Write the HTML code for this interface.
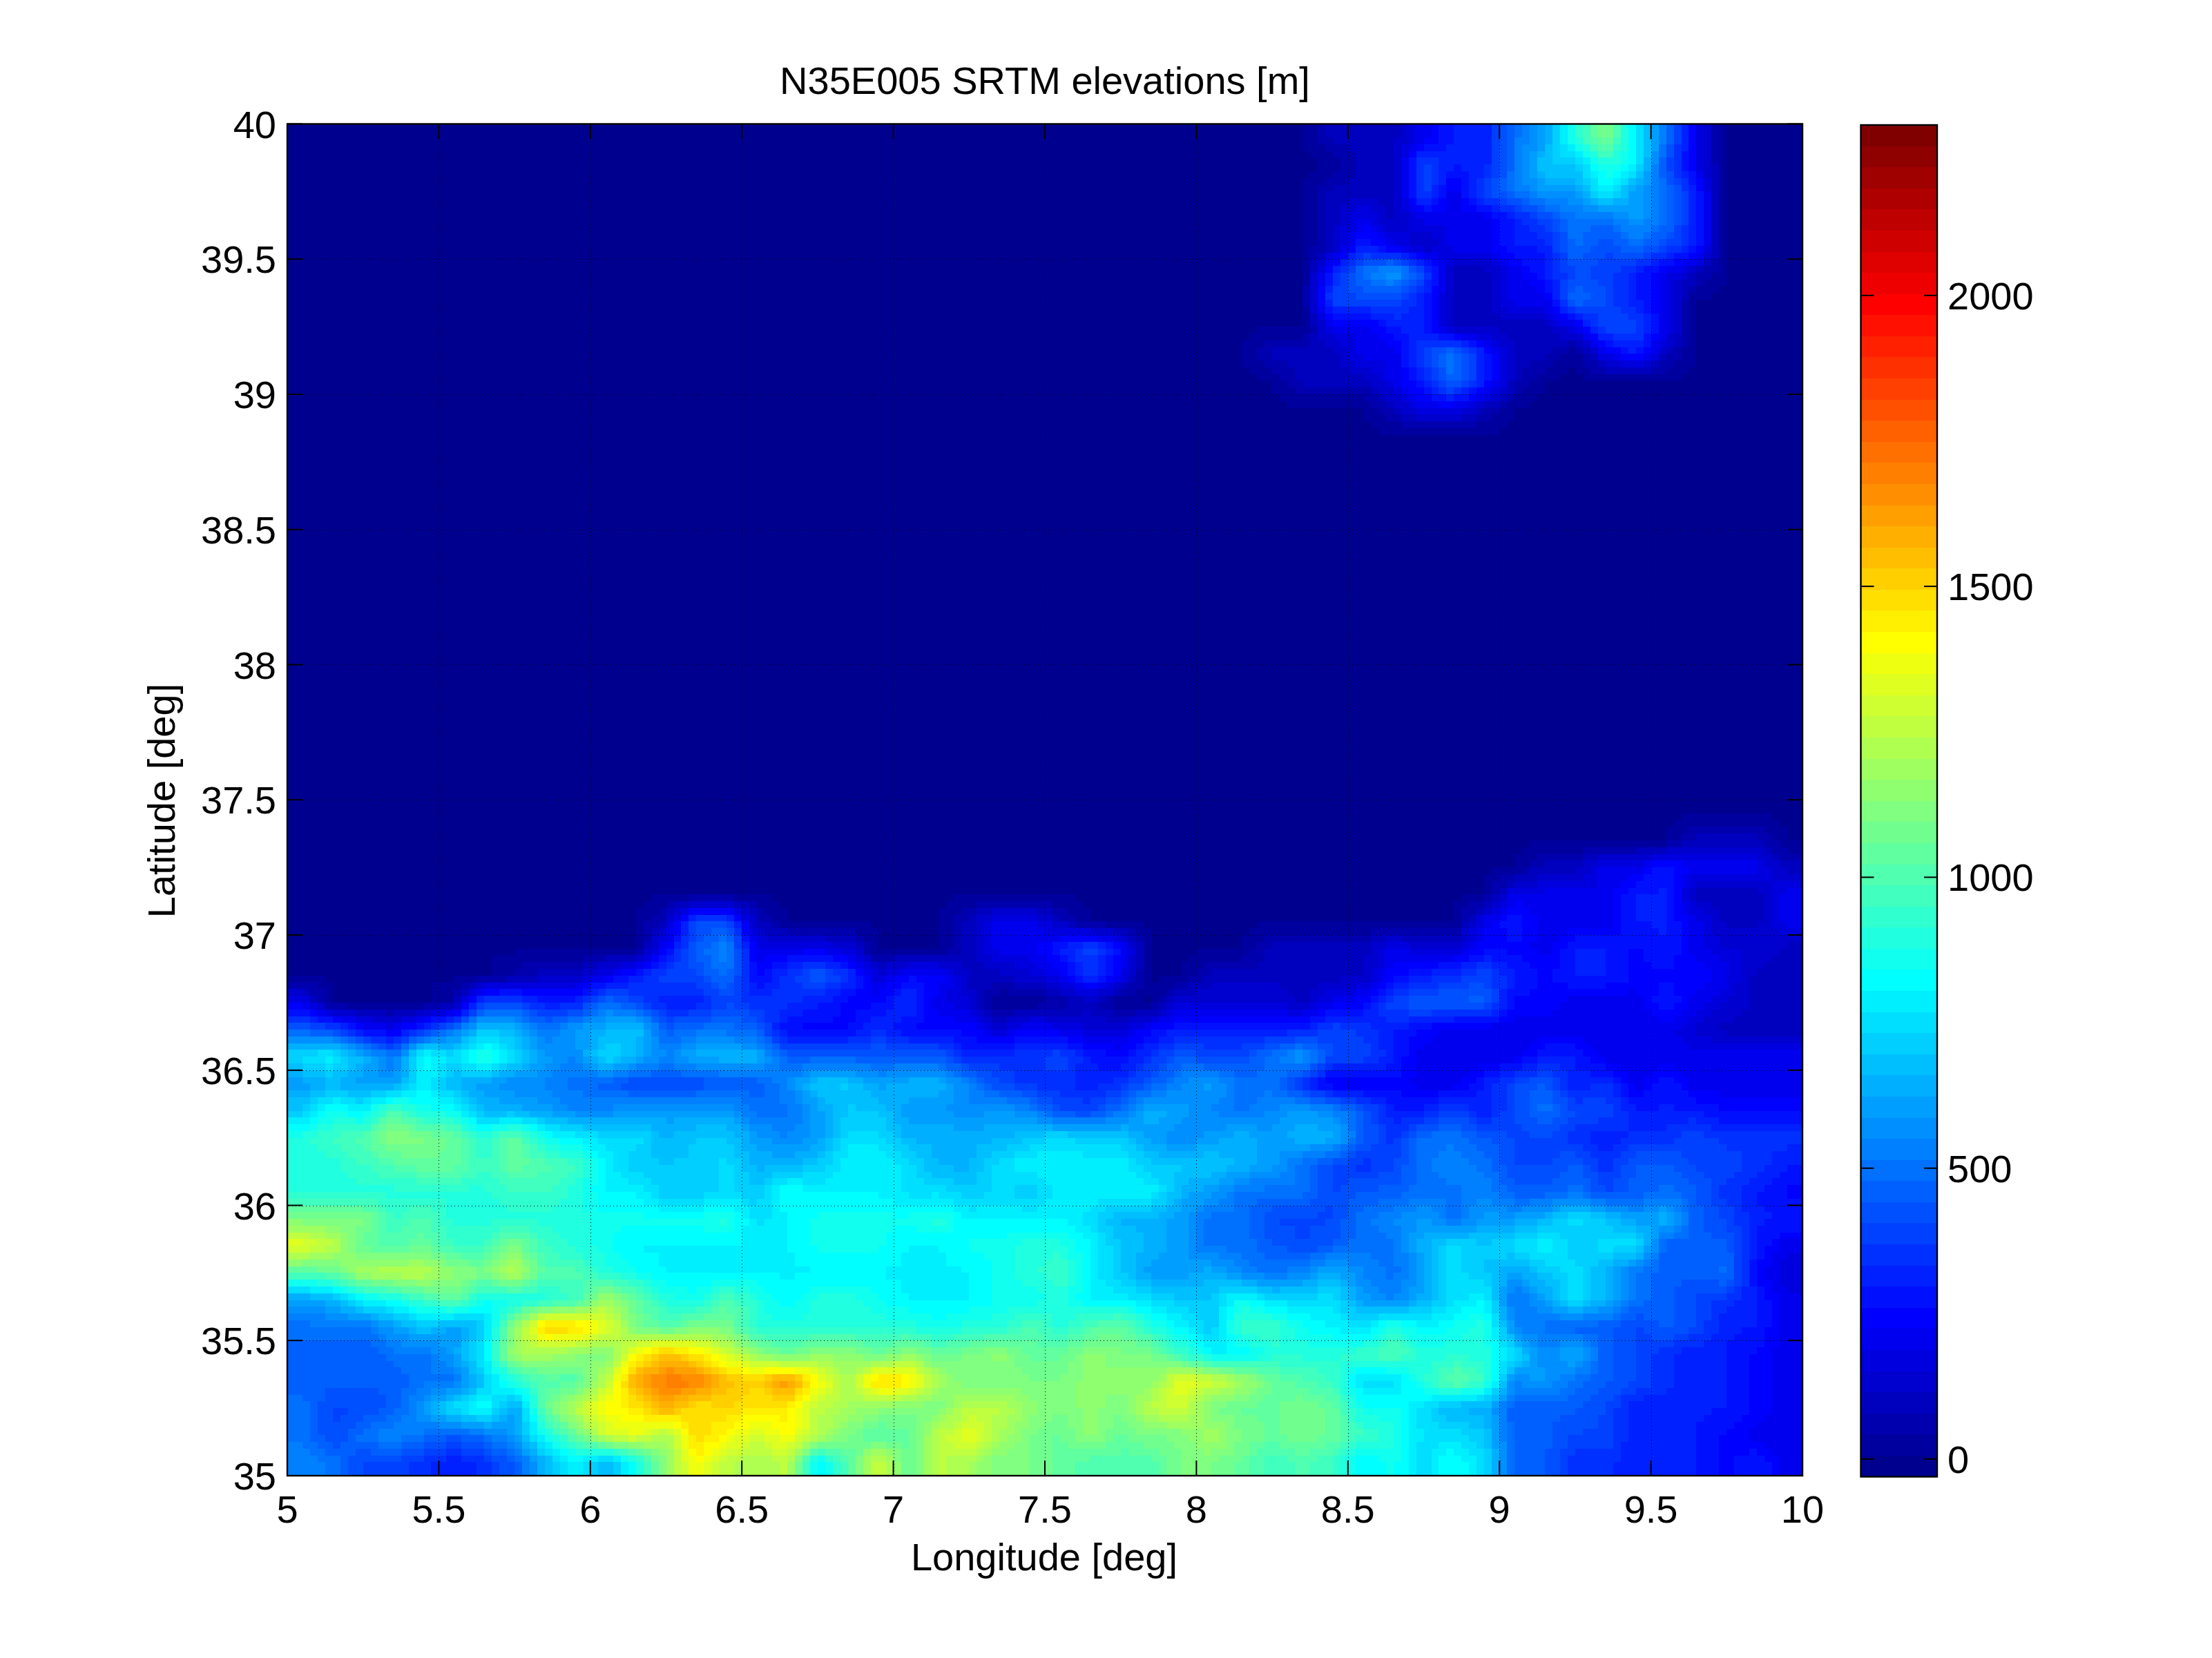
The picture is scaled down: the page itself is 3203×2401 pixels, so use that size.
<!DOCTYPE html>
<html><head><meta charset="utf-8"><style>html,body{margin:0;padding:0;background:#fff;width:3203px;height:2401px;overflow:hidden}svg{display:block}</style></head>
<body><svg width="3203" height="2401" viewBox="0 0 3203 2401">
<rect x="0" y="0" width="3203" height="2401" fill="#fff"/>
<rect x="416.0" y="179.5" width="2194.0" height="1957.5" fill="#00008f"/>
<g shape-rendering="crispEdges">
<path fill="#00009f" d="M1886.0 179.5H1907.9V189.3H1886.0zM2489.3 179.5H2500.3V189.3H2489.3zM1886.0 189.3H1907.9V199.1H1886.0zM2489.3 189.3H2500.3V199.1H2489.3zM1886.0 199.1H1907.9V208.9H1886.0zM2489.3 199.1H2500.3V208.9H2489.3zM1886.0 208.9H1918.9V218.7H1886.0zM2489.3 208.9H2500.3V218.7H2489.3zM1897.0 218.7H1929.9V228.4H1897.0zM2489.3 218.7H2500.3V228.4H2489.3zM1907.9 228.4H1940.8V238.2H1907.9zM2489.3 228.4H2500.3V238.2H2489.3zM1907.9 238.2H1940.8V248.0H1907.9zM2489.3 238.2H2500.3V248.0H2489.3zM1897.0 248.0H1929.9V257.8H1897.0zM2489.3 248.0H2500.3V257.8H2489.3zM1886.0 257.8H1918.9V267.6H1886.0zM2489.3 257.8H2500.3V267.6H2489.3zM1886.0 267.6H1907.9V277.4H1886.0zM2489.3 267.6H2500.3V277.4H2489.3zM1886.0 277.4H1907.9V287.2H1886.0zM2489.3 277.4H2500.3V287.2H2489.3zM1886.0 287.2H1907.9V296.9H1886.0zM2489.3 287.2H2500.3V296.9H2489.3zM1886.0 296.9H1907.9V306.7H1886.0zM2489.3 296.9H2500.3V306.7H2489.3zM1886.0 306.7H1907.9V316.5H1886.0zM2489.3 306.7H2500.3V316.5H2489.3zM1886.0 316.5H1907.9V326.3H1886.0zM2489.3 316.5H2500.3V326.3H2489.3zM1886.0 326.3H1907.9V336.1H1886.0zM2489.3 326.3H2500.3V336.1H2489.3zM1886.0 336.1H1907.9V345.9H1886.0zM2489.3 336.1H2500.3V345.9H2489.3zM1886.0 345.9H1907.9V355.7H1886.0zM2489.3 345.9H2500.3V355.7H2489.3zM1886.0 355.7H1897.0V365.5H1886.0zM2489.3 355.7H2500.3V365.5H2489.3zM1886.0 365.5H1897.0V375.2H1886.0zM2489.3 365.5H2500.3V375.2H2489.3zM1886.0 375.2H1897.0V385.0H1886.0zM2489.3 375.2H2500.3V385.0H2489.3zM1886.0 385.0H1897.0V394.8H1886.0zM2489.3 385.0H2500.3V394.8H2489.3zM1886.0 394.8H1897.0V404.6H1886.0zM2478.4 394.8H2500.3V404.6H2478.4zM1886.0 404.6H1897.0V414.4H1886.0zM2467.4 404.6H2500.3V414.4H2467.4zM2456.4 414.4H2489.3V424.2H2456.4zM2445.4 424.2H2478.4V434.0H2445.4zM2445.4 434.0H2456.4V443.8H2445.4zM1886.0 443.8H1897.0V453.6H1886.0zM2445.4 443.8H2456.4V453.6H2445.4zM1886.0 453.6H1897.0V463.3H1886.0zM2445.4 453.6H2456.4V463.3H2445.4zM1886.0 463.3H1897.0V473.1H1886.0zM2445.4 463.3H2456.4V473.1H2445.4zM1820.2 473.1H1897.0V482.9H1820.2zM2445.4 473.1H2456.4V482.9H2445.4zM1809.2 482.9H1886.0V492.7H1809.2zM2445.4 482.9H2456.4V492.7H2445.4zM1798.2 492.7H1831.1V502.5H1798.2zM2445.4 492.7H2456.4V502.5H2445.4zM1798.2 502.5H1820.2V512.3H1798.2zM2269.9 502.5H2280.9V512.3H2269.9zM2434.5 502.5H2456.4V512.3H2434.5zM1798.2 512.3H1820.2V522.1H1798.2zM2259.0 512.3H2291.9V522.1H2259.0zM2434.5 512.3H2456.4V522.1H2434.5zM1798.2 522.1H1831.1V531.8H1798.2zM2248.0 522.1H2291.9V531.8H2248.0zM2423.5 522.1H2456.4V531.8H2423.5zM1809.2 531.8H1842.1V541.6H1809.2zM2237.0 531.8H2269.9V541.6H2237.0zM2280.9 531.8H2302.8V541.6H2280.9zM2412.5 531.8H2445.4V541.6H2412.5zM1820.2 541.6H1853.1V551.4H1820.2zM2226.1 541.6H2259.0V551.4H2226.1zM2291.9 541.6H2434.5V551.4H2291.9zM1842.1 551.4H1864.0V561.2H1842.1zM2215.1 551.4H2237.0V561.2H2215.1zM1842.1 561.2H1875.0V571.0H1842.1zM2204.1 561.2H2237.0V571.0H2204.1zM1853.1 571.0H1973.7V580.8H1853.1zM2193.1 571.0H2226.1V580.8H2193.1zM1864.0 580.8H1984.7V590.6H1864.0zM2182.2 580.8H2215.1V590.6H2182.2zM1973.7 590.6H1995.7V600.4H1973.7zM2171.2 590.6H2193.1V600.4H2171.2zM1973.7 600.4H2006.7V610.1H1973.7zM2160.2 600.4H2193.1V610.1H2160.2zM1984.7 610.1H2028.6V619.9H1984.7zM2138.3 610.1H2182.2V619.9H2138.3zM1995.7 619.9H2171.2V629.7H1995.7zM2434.5 1177.8H2566.1V1187.6H2434.5zM2423.5 1187.6H2577.1V1197.4H2423.5zM2412.5 1197.4H2445.4V1207.2H2412.5zM2555.2 1197.4H2588.1V1207.2H2555.2zM2412.5 1207.2H2434.5V1217.0H2412.5zM2566.1 1207.2H2588.1V1217.0H2566.1zM2215.1 1217.0H2412.5V1226.8H2215.1zM2577.1 1217.0H2610.0V1226.8H2577.1zM2204.1 1226.8H2291.9V1236.5H2204.1zM2588.1 1226.8H2610.0V1236.5H2588.1zM2193.1 1236.5H2226.1V1246.3H2193.1zM2193.1 1246.3H2215.1V1256.1H2193.1zM2160.2 1256.1H2204.1V1265.9H2160.2zM2149.3 1265.9H2171.2V1275.7H2149.3zM2149.3 1275.7H2160.2V1285.5H2149.3zM2149.3 1285.5H2160.2V1295.3H2149.3zM942.6 1295.3H997.4V1305.1H942.6zM1063.2 1295.3H1118.1V1305.1H1063.2zM1381.4 1295.3H1556.9V1305.1H1381.4zM2116.4 1295.3H2149.3V1305.1H2116.4zM931.6 1305.1H964.5V1314.8H931.6zM1096.1 1305.1H1129.1V1314.8H1096.1zM1370.4 1305.1H1414.3V1314.8H1370.4zM1524.0 1305.1H1567.9V1314.8H1524.0zM2105.4 1305.1H2127.3V1314.8H2105.4zM920.6 1314.8H953.5V1324.6H920.6zM1107.1 1314.8H1140.0V1324.6H1107.1zM1359.4 1314.8H1392.3V1324.6H1359.4zM1545.9 1314.8H1578.8V1324.6H1545.9zM2105.4 1314.8H2116.4V1324.6H2105.4zM920.6 1324.6H942.6V1334.4H920.6zM1118.1 1324.6H1140.0V1334.4H1118.1zM1359.4 1324.6H1381.4V1334.4H1359.4zM1556.9 1324.6H1578.8V1334.4H1556.9zM2105.4 1324.6H2116.4V1334.4H2105.4zM920.6 1334.4H931.6V1344.2H920.6zM1129.1 1334.4H1260.7V1344.2H1129.1zM1359.4 1334.4H1381.4V1344.2H1359.4zM1600.8 1334.4H1655.6V1344.2H1600.8zM1820.2 1334.4H2116.4V1344.2H1820.2zM920.6 1344.2H931.6V1354.0H920.6zM1238.8 1344.2H1271.7V1354.0H1238.8zM1359.4 1344.2H1381.4V1354.0H1359.4zM1644.6 1344.2H1666.6V1354.0H1644.6zM1809.2 1344.2H1984.7V1354.0H1809.2zM920.6 1354.0H931.6V1363.8H920.6zM1249.7 1354.0H1271.7V1363.8H1249.7zM1359.4 1354.0H1381.4V1363.8H1359.4zM1655.6 1354.0H1666.6V1363.8H1655.6zM1798.2 1354.0H1831.1V1363.8H1798.2zM920.6 1363.8H931.6V1373.6H920.6zM1260.7 1363.8H1271.7V1373.6H1260.7zM1359.4 1363.8H1381.4V1373.6H1359.4zM1655.6 1363.8H1666.6V1373.6H1655.6zM1798.2 1363.8H1820.2V1373.6H1798.2zM745.1 1373.6H920.6V1383.4H745.1zM1260.7 1373.6H1370.4V1383.4H1260.7zM1655.6 1373.6H1666.6V1383.4H1655.6zM1732.4 1373.6H1809.2V1383.4H1732.4zM712.2 1383.4H843.8V1393.1H712.2zM1655.6 1383.4H1666.6V1393.1H1655.6zM1721.4 1383.4H1798.2V1393.1H1721.4zM712.2 1393.1H756.1V1402.9H712.2zM1655.6 1393.1H1666.6V1402.9H1655.6zM1710.5 1393.1H1743.4V1402.9H1710.5zM712.2 1402.9H745.1V1412.7H712.2zM1655.6 1402.9H1666.6V1412.7H1655.6zM1710.5 1402.9H1732.4V1412.7H1710.5zM416.0 1412.7H470.9V1422.5H416.0zM657.3 1412.7H690.2V1422.5H657.3zM1655.6 1412.7H1666.6V1422.5H1655.6zM1677.6 1412.7H1721.4V1422.5H1677.6zM459.9 1422.5H481.8V1432.3H459.9zM624.4 1422.5H668.3V1432.3H624.4zM1655.6 1422.5H1699.5V1432.3H1655.6zM470.9 1432.3H481.8V1442.1H470.9zM624.4 1432.3H657.3V1442.1H624.4zM1447.2 1432.3H1458.2V1442.1H1447.2zM1644.6 1432.3H1688.5V1442.1H1644.6zM470.9 1442.1H481.8V1451.9H470.9zM624.4 1442.1H657.3V1451.9H624.4zM1436.2 1442.1H1513.0V1451.9H1436.2zM1611.7 1442.1H1655.6V1451.9H1611.7zM1666.6 1442.1H1677.6V1451.9H1666.6zM503.8 1451.9H613.5V1461.7H503.8zM1436.2 1451.9H1502.0V1461.7H1436.2zM1611.7 1451.9H1666.6V1461.7H1611.7z"/>
<path fill="#0000af" d="M1907.9 179.5H1918.9V189.3H1907.9zM2478.4 179.5H2489.3V189.3H2478.4zM1907.9 189.3H1918.9V199.1H1907.9zM2478.4 189.3H2489.3V199.1H2478.4zM1907.9 199.1H1929.9V208.9H1907.9zM2478.4 199.1H2489.3V208.9H2478.4zM1918.9 208.9H1951.8V218.7H1918.9zM2478.4 208.9H2489.3V218.7H2478.4zM1929.9 218.7H1962.8V228.4H1929.9zM2478.4 218.7H2489.3V228.4H2478.4zM1940.8 228.4H1962.8V238.2H1940.8zM2478.4 228.4H2489.3V238.2H2478.4zM1940.8 238.2H1962.8V248.0H1940.8zM1929.9 248.0H1962.8V257.8H1929.9zM1918.9 257.8H1951.8V267.6H1918.9zM1907.9 267.6H1929.9V277.4H1907.9zM1907.9 277.4H1918.9V287.2H1907.9zM1907.9 287.2H1918.9V296.9H1907.9zM1907.9 296.9H1918.9V306.7H1907.9zM1907.9 306.7H1918.9V316.5H1907.9zM1907.9 316.5H1918.9V326.3H1907.9zM1907.9 326.3H1918.9V336.1H1907.9zM1907.9 336.1H1918.9V345.9H1907.9zM1907.9 345.9H1918.9V355.7H1907.9zM1897.0 355.7H1918.9V365.5H1897.0zM1897.0 365.5H1907.9V375.2H1897.0zM2478.4 375.2H2489.3V385.0H2478.4zM2467.4 385.0H2489.3V394.8H2467.4zM2456.4 394.8H2478.4V404.6H2456.4zM2456.4 404.6H2467.4V414.4H2456.4zM1886.0 414.4H1897.0V424.2H1886.0zM2445.4 414.4H2456.4V424.2H2445.4zM1886.0 424.2H1897.0V434.0H1886.0zM1886.0 434.0H1897.0V443.8H1886.0zM2434.5 434.0H2445.4V443.8H2434.5zM2434.5 443.8H2445.4V453.6H2434.5zM2434.5 453.6H2445.4V463.3H2434.5zM2434.5 463.3H2445.4V473.1H2434.5zM1897.0 473.1H1907.9V482.9H1897.0zM2434.5 473.1H2445.4V482.9H2434.5zM1886.0 482.9H1897.0V492.7H1886.0zM2434.5 482.9H2445.4V492.7H2434.5zM1831.1 492.7H1897.0V502.5H1831.1zM2269.9 492.7H2280.9V502.5H2269.9zM2434.5 492.7H2445.4V502.5H2434.5zM1820.2 502.5H1842.1V512.3H1820.2zM2248.0 502.5H2269.9V512.3H2248.0zM2280.9 502.5H2291.9V512.3H2280.9zM2423.5 502.5H2434.5V512.3H2423.5zM1820.2 512.3H1842.1V522.1H1820.2zM2237.0 512.3H2259.0V522.1H2237.0zM2291.9 512.3H2302.8V522.1H2291.9zM2412.5 512.3H2434.5V522.1H2412.5zM1831.1 522.1H1864.0V531.8H1831.1zM2215.1 522.1H2248.0V531.8H2215.1zM2291.9 522.1H2313.8V531.8H2291.9zM2401.6 522.1H2423.5V531.8H2401.6zM1842.1 531.8H1875.0V541.6H1842.1zM2204.1 531.8H2237.0V541.6H2204.1zM2302.8 531.8H2324.8V541.6H2302.8zM2390.6 531.8H2412.5V541.6H2390.6zM1853.1 541.6H1875.0V551.4H1853.1zM2204.1 541.6H2226.1V551.4H2204.1zM1864.0 551.4H1886.0V561.2H1864.0zM2193.1 551.4H2215.1V561.2H2193.1zM1875.0 561.2H1984.7V571.0H1875.0zM2193.1 561.2H2204.1V571.0H2193.1zM1973.7 571.0H1995.7V580.8H1973.7zM2182.2 571.0H2193.1V580.8H2182.2zM1984.7 580.8H2006.7V590.6H1984.7zM2171.2 580.8H2182.2V590.6H2171.2zM1995.7 590.6H2017.6V600.4H1995.7zM2149.3 590.6H2171.2V600.4H2149.3zM2006.7 600.4H2028.6V610.1H2006.7zM2138.3 600.4H2160.2V610.1H2138.3zM2028.6 610.1H2138.3V619.9H2028.6zM2445.4 1197.4H2555.2V1207.2H2445.4zM2434.5 1207.2H2456.4V1217.0H2434.5zM2544.2 1207.2H2566.1V1217.0H2544.2zM2412.5 1217.0H2434.5V1226.8H2412.5zM2555.2 1217.0H2577.1V1226.8H2555.2zM2291.9 1226.8H2368.7V1236.5H2291.9zM2566.1 1226.8H2588.1V1236.5H2566.1zM2226.1 1236.5H2291.9V1246.3H2226.1zM2577.1 1236.5H2610.0V1246.3H2577.1zM2215.1 1246.3H2237.0V1256.1H2215.1zM2204.1 1256.1H2215.1V1265.9H2204.1zM2171.2 1265.9H2193.1V1275.7H2171.2zM2160.2 1275.7H2182.2V1285.5H2160.2zM2160.2 1285.5H2171.2V1295.3H2160.2zM997.4 1295.3H1063.2V1305.1H997.4zM2149.3 1295.3H2160.2V1305.1H2149.3zM964.5 1305.1H975.5V1314.8H964.5zM1085.2 1305.1H1096.1V1314.8H1085.2zM1414.3 1305.1H1524.0V1314.8H1414.3zM2127.3 1305.1H2149.3V1314.8H2127.3zM953.5 1314.8H964.5V1324.6H953.5zM1096.1 1314.8H1107.1V1324.6H1096.1zM1392.3 1314.8H1414.3V1324.6H1392.3zM1524.0 1314.8H1545.9V1324.6H1524.0zM2116.4 1314.8H2138.3V1324.6H2116.4zM942.6 1324.6H964.5V1334.4H942.6zM1096.1 1324.6H1118.1V1334.4H1096.1zM1381.4 1324.6H1403.3V1334.4H1381.4zM1534.9 1324.6H1556.9V1334.4H1534.9zM2116.4 1324.6H2127.3V1334.4H2116.4zM931.6 1334.4H953.5V1344.2H931.6zM1118.1 1334.4H1129.1V1344.2H1118.1zM1381.4 1334.4H1392.3V1344.2H1381.4zM1556.9 1334.4H1600.8V1344.2H1556.9zM931.6 1344.2H942.6V1354.0H931.6zM1140.0 1344.2H1238.8V1354.0H1140.0zM1381.4 1344.2H1392.3V1354.0H1381.4zM1633.7 1344.2H1644.6V1354.0H1633.7zM1984.7 1344.2H2116.4V1354.0H1984.7zM931.6 1354.0H942.6V1363.8H931.6zM1238.8 1354.0H1249.7V1363.8H1238.8zM1381.4 1354.0H1392.3V1363.8H1381.4zM1644.6 1354.0H1655.6V1363.8H1644.6zM1831.1 1354.0H1984.7V1363.8H1831.1zM1249.7 1363.8H1260.7V1373.6H1249.7zM1381.4 1363.8H1392.3V1373.6H1381.4zM1820.2 1363.8H1842.1V1373.6H1820.2zM920.6 1373.6H931.6V1383.4H920.6zM1249.7 1373.6H1260.7V1383.4H1249.7zM1370.4 1373.6H1392.3V1383.4H1370.4zM1809.2 1373.6H1831.1V1383.4H1809.2zM843.8 1383.4H876.7V1393.1H843.8zM1260.7 1383.4H1293.6V1393.1H1260.7zM1798.2 1383.4H1831.1V1393.1H1798.2zM756.1 1393.1H843.8V1402.9H756.1zM1743.4 1393.1H1820.2V1402.9H1743.4zM745.1 1402.9H778.0V1412.7H745.1zM1644.6 1402.9H1655.6V1412.7H1644.6zM1732.4 1402.9H1754.3V1412.7H1732.4zM690.2 1412.7H734.1V1422.5H690.2zM1644.6 1412.7H1655.6V1422.5H1644.6zM1721.4 1412.7H1743.4V1422.5H1721.4zM416.0 1422.5H459.9V1432.3H416.0zM668.3 1422.5H679.3V1432.3H668.3zM1436.2 1422.5H1469.1V1432.3H1436.2zM1633.7 1422.5H1655.6V1432.3H1633.7zM1699.5 1422.5H1721.4V1432.3H1699.5zM448.9 1432.3H470.9V1442.1H448.9zM657.3 1432.3H668.3V1442.1H657.3zM1425.2 1432.3H1447.2V1442.1H1425.2zM1458.2 1432.3H1513.0V1442.1H1458.2zM1622.7 1432.3H1644.6V1442.1H1622.7zM1688.5 1432.3H1699.5V1442.1H1688.5zM459.9 1442.1H470.9V1451.9H459.9zM1425.2 1442.1H1436.2V1451.9H1425.2zM1513.0 1442.1H1545.9V1451.9H1513.0zM1600.8 1442.1H1611.7V1451.9H1600.8zM1677.6 1442.1H1688.5V1451.9H1677.6zM470.9 1451.9H503.8V1461.7H470.9zM613.5 1451.9H635.4V1461.7H613.5zM1425.2 1451.9H1436.2V1461.7H1425.2zM1502.0 1451.9H1545.9V1461.7H1502.0zM1589.8 1451.9H1611.7V1461.7H1589.8zM1666.6 1451.9H1677.6V1461.7H1666.6zM558.6 1461.7H569.6V1471.5H558.6zM1436.2 1461.7H1469.1V1471.5H1436.2zM1611.7 1461.7H1644.6V1471.5H1611.7z"/>
<path fill="#0000bf" d="M1918.9 179.5H2028.6V189.3H1918.9zM1918.9 189.3H2028.6V199.1H1918.9zM1929.9 199.1H2017.6V208.9H1929.9zM1951.8 208.9H2017.6V218.7H1951.8zM1962.8 218.7H2017.6V228.4H1962.8zM1962.8 228.4H2017.6V238.2H1962.8zM1962.8 238.2H2017.6V248.0H1962.8zM2478.4 238.2H2489.3V248.0H2478.4zM1962.8 248.0H2017.6V257.8H1962.8zM2478.4 248.0H2489.3V257.8H2478.4zM1951.8 257.8H2017.6V267.6H1951.8zM2478.4 257.8H2489.3V267.6H2478.4zM1929.9 267.6H2017.6V277.4H1929.9zM2478.4 267.6H2489.3V277.4H2478.4zM1918.9 277.4H2017.6V287.2H1918.9zM2478.4 277.4H2489.3V287.2H2478.4zM1918.9 287.2H1951.8V296.9H1918.9zM1995.7 287.2H2017.6V296.9H1995.7zM2478.4 287.2H2489.3V296.9H2478.4zM1918.9 296.9H1940.8V306.7H1918.9zM2006.7 296.9H2017.6V306.7H2006.7zM2478.4 296.9H2489.3V306.7H2478.4zM1918.9 306.7H1940.8V316.5H1918.9zM2006.7 306.7H2017.6V316.5H2006.7zM2478.4 306.7H2489.3V316.5H2478.4zM1918.9 316.5H1940.8V326.3H1918.9zM2478.4 316.5H2489.3V326.3H2478.4zM1918.9 326.3H1929.9V336.1H1918.9zM2478.4 326.3H2489.3V336.1H2478.4zM1918.9 336.1H1929.9V345.9H1918.9zM2478.4 336.1H2489.3V345.9H2478.4zM1918.9 345.9H1929.9V355.7H1918.9zM2478.4 345.9H2489.3V355.7H2478.4zM1918.9 355.7H1929.9V365.5H1918.9zM2478.4 355.7H2489.3V365.5H2478.4zM1907.9 365.5H1918.9V375.2H1907.9zM2478.4 365.5H2489.3V375.2H2478.4zM1897.0 375.2H1907.9V385.0H1897.0zM2467.4 375.2H2478.4V385.0H2467.4zM1897.0 385.0H1907.9V394.8H1897.0zM2105.4 385.0H2149.3V394.8H2105.4zM2456.4 385.0H2467.4V394.8H2456.4zM2105.4 394.8H2160.2V404.6H2105.4zM2445.4 394.8H2456.4V404.6H2445.4zM2105.4 404.6H2160.2V414.4H2105.4zM2434.5 404.6H2456.4V414.4H2434.5zM2105.4 414.4H2160.2V424.2H2105.4zM2434.5 414.4H2445.4V424.2H2434.5zM2105.4 424.2H2160.2V434.0H2105.4zM2434.5 424.2H2445.4V434.0H2434.5zM2105.4 434.0H2160.2V443.8H2105.4zM2105.4 443.8H2160.2V453.6H2105.4zM1897.0 453.6H1907.9V463.3H1897.0zM2105.4 453.6H2171.2V463.3H2105.4zM1897.0 463.3H1907.9V473.1H1897.0zM2105.4 463.3H2237.0V473.1H2105.4zM2171.2 473.1H2248.0V482.9H2171.2zM1897.0 482.9H1907.9V492.7H1897.0zM2182.2 482.9H2259.0V492.7H2182.2zM2423.5 482.9H2434.5V492.7H2423.5zM1897.0 492.7H1918.9V502.5H1897.0zM2193.1 492.7H2269.9V502.5H2193.1zM2280.9 492.7H2291.9V502.5H2280.9zM2423.5 492.7H2434.5V502.5H2423.5zM1842.1 502.5H1929.9V512.3H1842.1zM2193.1 502.5H2248.0V512.3H2193.1zM2291.9 502.5H2302.8V512.3H2291.9zM2412.5 502.5H2423.5V512.3H2412.5zM1842.1 512.3H1940.8V522.1H1842.1zM2193.1 512.3H2237.0V522.1H2193.1zM2302.8 512.3H2313.8V522.1H2302.8zM2401.6 512.3H2412.5V522.1H2401.6zM1864.0 522.1H1940.8V531.8H1864.0zM2193.1 522.1H2215.1V531.8H2193.1zM2313.8 522.1H2324.8V531.8H2313.8zM2390.6 522.1H2401.6V531.8H2390.6zM1875.0 531.8H1951.8V541.6H1875.0zM2193.1 531.8H2204.1V541.6H2193.1zM2324.8 531.8H2390.6V541.6H2324.8zM1875.0 541.6H1973.7V551.4H1875.0zM2193.1 541.6H2204.1V551.4H2193.1zM1886.0 551.4H1984.7V561.2H1886.0zM2182.2 551.4H2193.1V561.2H2182.2zM1984.7 561.2H1995.7V571.0H1984.7zM2182.2 561.2H2193.1V571.0H2182.2zM1995.7 571.0H2006.7V580.8H1995.7zM2171.2 571.0H2182.2V580.8H2171.2zM2006.7 580.8H2017.6V590.6H2006.7zM2149.3 580.8H2171.2V590.6H2149.3zM2017.6 590.6H2028.6V600.4H2017.6zM2138.3 590.6H2149.3V600.4H2138.3zM2028.6 600.4H2050.5V610.1H2028.6zM2116.4 600.4H2138.3V610.1H2116.4zM2456.4 1207.2H2544.2V1217.0H2456.4zM2434.5 1217.0H2555.2V1226.8H2434.5zM2368.7 1226.8H2412.5V1236.5H2368.7zM2555.2 1226.8H2566.1V1236.5H2555.2zM2291.9 1236.5H2313.8V1246.3H2291.9zM2566.1 1236.5H2577.1V1246.3H2566.1zM2237.0 1246.3H2291.9V1256.1H2237.0zM2577.1 1246.3H2610.0V1256.1H2577.1zM2215.1 1256.1H2280.9V1265.9H2215.1zM2588.1 1256.1H2610.0V1265.9H2588.1zM2193.1 1265.9H2226.1V1275.7H2193.1zM2182.2 1275.7H2193.1V1285.5H2182.2zM2171.2 1285.5H2182.2V1295.3H2171.2zM2456.4 1285.5H2544.2V1295.3H2456.4zM2160.2 1295.3H2171.2V1305.1H2160.2zM2456.4 1295.3H2555.2V1305.1H2456.4zM975.5 1305.1H997.4V1314.8H975.5zM1063.2 1305.1H1085.2V1314.8H1063.2zM2149.3 1305.1H2160.2V1314.8H2149.3zM2478.4 1305.1H2555.2V1314.8H2478.4zM964.5 1314.8H975.5V1324.6H964.5zM1085.2 1314.8H1096.1V1324.6H1085.2zM1414.3 1314.8H1436.2V1324.6H1414.3zM1502.0 1314.8H1524.0V1324.6H1502.0zM2138.3 1314.8H2149.3V1324.6H2138.3zM2489.3 1314.8H2555.2V1324.6H2489.3zM1403.3 1324.6H1414.3V1334.4H1403.3zM1524.0 1324.6H1534.9V1334.4H1524.0zM2127.3 1324.6H2138.3V1334.4H2127.3zM2489.3 1324.6H2555.2V1334.4H2489.3zM953.5 1334.4H964.5V1344.2H953.5zM1096.1 1334.4H1118.1V1344.2H1096.1zM1392.3 1334.4H1414.3V1344.2H1392.3zM1545.9 1334.4H1556.9V1344.2H1545.9zM2116.4 1334.4H2127.3V1344.2H2116.4zM2500.3 1334.4H2544.2V1344.2H2500.3zM942.6 1344.2H953.5V1354.0H942.6zM1107.1 1344.2H1140.0V1354.0H1107.1zM1392.3 1344.2H1414.3V1354.0H1392.3zM1611.7 1344.2H1633.7V1354.0H1611.7zM1194.9 1354.0H1238.8V1363.8H1194.9zM1392.3 1354.0H1414.3V1363.8H1392.3zM1633.7 1354.0H1644.6V1363.8H1633.7zM1984.7 1354.0H2006.7V1363.8H1984.7zM2028.6 1354.0H2116.4V1363.8H2028.6zM931.6 1363.8H942.6V1373.6H931.6zM1238.8 1363.8H1249.7V1373.6H1238.8zM1392.3 1363.8H1414.3V1373.6H1392.3zM1644.6 1363.8H1655.6V1373.6H1644.6zM1842.1 1363.8H1984.7V1373.6H1842.1zM2588.1 1363.8H2610.0V1373.6H2588.1zM1392.3 1373.6H1414.3V1383.4H1392.3zM1644.6 1373.6H1655.6V1383.4H1644.6zM1831.1 1373.6H1984.7V1383.4H1831.1zM2577.1 1373.6H2610.0V1383.4H2577.1zM876.7 1383.4H920.6V1393.1H876.7zM1293.6 1383.4H1414.3V1393.1H1293.6zM1644.6 1383.4H1655.6V1393.1H1644.6zM1831.1 1383.4H1973.7V1393.1H1831.1zM2566.1 1383.4H2610.0V1393.1H2566.1zM843.8 1393.1H865.8V1402.9H843.8zM1271.7 1393.1H1282.6V1402.9H1271.7zM1392.3 1393.1H1425.2V1402.9H1392.3zM1644.6 1393.1H1655.6V1402.9H1644.6zM1820.2 1393.1H1973.7V1402.9H1820.2zM2555.2 1393.1H2610.0V1402.9H2555.2zM778.0 1402.9H843.8V1412.7H778.0zM1403.3 1402.9H1447.2V1412.7H1403.3zM1754.3 1402.9H1973.7V1412.7H1754.3zM2544.2 1402.9H2610.0V1412.7H2544.2zM734.1 1412.7H778.0V1422.5H734.1zM1403.3 1412.7H1469.1V1422.5H1403.3zM1633.7 1412.7H1644.6V1422.5H1633.7zM1743.4 1412.7H1940.8V1422.5H1743.4zM2533.2 1412.7H2610.0V1422.5H2533.2zM679.3 1422.5H690.2V1432.3H679.3zM1403.3 1422.5H1436.2V1432.3H1403.3zM1469.1 1422.5H1513.0V1432.3H1469.1zM1622.7 1422.5H1633.7V1432.3H1622.7zM1721.4 1422.5H1754.3V1432.3H1721.4zM1853.1 1422.5H1907.9V1432.3H1853.1zM2533.2 1422.5H2610.0V1432.3H2533.2zM437.9 1432.3H448.9V1442.1H437.9zM668.3 1432.3H679.3V1442.1H668.3zM1414.3 1432.3H1425.2V1442.1H1414.3zM1513.0 1432.3H1534.9V1442.1H1513.0zM1611.7 1432.3H1622.7V1442.1H1611.7zM1699.5 1432.3H1732.4V1442.1H1699.5zM1864.0 1432.3H1897.0V1442.1H1864.0zM2533.2 1432.3H2610.0V1442.1H2533.2zM448.9 1442.1H459.9V1451.9H448.9zM657.3 1442.1H668.3V1451.9H657.3zM1414.3 1442.1H1425.2V1451.9H1414.3zM1545.9 1442.1H1567.9V1451.9H1545.9zM1589.8 1442.1H1600.8V1451.9H1589.8zM1688.5 1442.1H1699.5V1451.9H1688.5zM1875.0 1442.1H1897.0V1451.9H1875.0zM2533.2 1442.1H2610.0V1451.9H2533.2zM635.4 1451.9H657.3V1461.7H635.4zM1414.3 1451.9H1425.2V1461.7H1414.3zM1545.9 1451.9H1589.8V1461.7H1545.9zM1677.6 1451.9H1688.5V1461.7H1677.6zM2533.2 1451.9H2610.0V1461.7H2533.2zM514.7 1461.7H558.6V1471.5H514.7zM569.6 1461.7H602.5V1471.5H569.6zM1425.2 1461.7H1436.2V1471.5H1425.2zM1469.1 1461.7H1567.9V1471.5H1469.1zM1578.8 1461.7H1611.7V1471.5H1578.8zM1644.6 1461.7H1677.6V1471.5H1644.6zM2522.2 1461.7H2610.0V1471.5H2522.2zM1436.2 1471.5H1458.2V1481.2H1436.2zM1600.8 1471.5H1633.7V1481.2H1600.8zM2511.3 1471.5H2610.0V1481.2H2511.3zM2489.3 1481.2H2610.0V1491.0H2489.3zM2500.3 1491.0H2610.0V1500.8H2500.3z"/>
<path fill="#0000cf" d="M2028.6 179.5H2039.6V189.3H2028.6zM2467.4 179.5H2478.4V189.3H2467.4zM2028.6 189.3H2039.6V199.1H2028.6zM2467.4 189.3H2478.4V199.1H2467.4zM2017.6 199.1H2039.6V208.9H2017.6zM2467.4 199.1H2478.4V208.9H2467.4zM2017.6 208.9H2028.6V218.7H2017.6zM2467.4 208.9H2478.4V218.7H2467.4zM2017.6 218.7H2028.6V228.4H2017.6zM2467.4 218.7H2478.4V228.4H2467.4zM2017.6 228.4H2028.6V238.2H2017.6zM2467.4 228.4H2478.4V238.2H2467.4zM2017.6 238.2H2028.6V248.0H2017.6zM2467.4 238.2H2478.4V248.0H2467.4zM2017.6 248.0H2028.6V257.8H2017.6zM2467.4 248.0H2478.4V257.8H2467.4zM2017.6 257.8H2028.6V267.6H2017.6zM2017.6 267.6H2028.6V277.4H2017.6zM2017.6 277.4H2028.6V287.2H2017.6zM1951.8 287.2H1995.7V296.9H1951.8zM2017.6 287.2H2028.6V296.9H2017.6zM1940.8 296.9H1962.8V306.7H1940.8zM1984.7 296.9H2006.7V306.7H1984.7zM2017.6 296.9H2028.6V306.7H2017.6zM1940.8 306.7H1951.8V316.5H1940.8zM1995.7 306.7H2006.7V316.5H1995.7zM2017.6 306.7H2039.6V316.5H2017.6zM1940.8 316.5H1951.8V326.3H1940.8zM1995.7 316.5H2039.6V326.3H1995.7zM1929.9 326.3H1940.8V336.1H1929.9zM2006.7 326.3H2039.6V336.1H2006.7zM1929.9 336.1H1940.8V345.9H1929.9zM2039.6 336.1H2072.5V345.9H2039.6zM1929.9 345.9H1940.8V355.7H1929.9zM2039.6 345.9H2083.4V355.7H2039.6zM1929.9 355.7H1940.8V365.5H1929.9zM2061.5 355.7H2072.5V365.5H2061.5zM2467.4 365.5H2478.4V375.2H2467.4zM1907.9 375.2H1918.9V385.0H1907.9zM2105.4 375.2H2160.2V385.0H2105.4zM2094.4 385.0H2105.4V394.8H2094.4zM2149.3 385.0H2171.2V394.8H2149.3zM2445.4 385.0H2456.4V394.8H2445.4zM1897.0 394.8H1907.9V404.6H1897.0zM2094.4 394.8H2105.4V404.6H2094.4zM2160.2 394.8H2171.2V404.6H2160.2zM2434.5 394.8H2445.4V404.6H2434.5zM1897.0 404.6H1907.9V414.4H1897.0zM2094.4 404.6H2105.4V414.4H2094.4zM2160.2 404.6H2171.2V414.4H2160.2zM2423.5 404.6H2434.5V414.4H2423.5zM1897.0 414.4H1907.9V424.2H1897.0zM2094.4 414.4H2105.4V424.2H2094.4zM2160.2 414.4H2171.2V424.2H2160.2zM2423.5 414.4H2434.5V424.2H2423.5zM1897.0 424.2H1907.9V434.0H1897.0zM2094.4 424.2H2105.4V434.0H2094.4zM2160.2 424.2H2171.2V434.0H2160.2zM2423.5 424.2H2434.5V434.0H2423.5zM1897.0 434.0H1907.9V443.8H1897.0zM2094.4 434.0H2105.4V443.8H2094.4zM2160.2 434.0H2171.2V443.8H2160.2zM2423.5 434.0H2434.5V443.8H2423.5zM1897.0 443.8H1907.9V453.6H1897.0zM2094.4 443.8H2105.4V453.6H2094.4zM2160.2 443.8H2182.2V453.6H2160.2zM2423.5 443.8H2434.5V453.6H2423.5zM2094.4 453.6H2105.4V463.3H2094.4zM2171.2 453.6H2237.0V463.3H2171.2zM2423.5 453.6H2434.5V463.3H2423.5zM1907.9 463.3H1918.9V473.1H1907.9zM2094.4 463.3H2105.4V473.1H2094.4zM2237.0 463.3H2248.0V473.1H2237.0zM2423.5 463.3H2434.5V473.1H2423.5zM1907.9 473.1H1918.9V482.9H1907.9zM2105.4 473.1H2171.2V482.9H2105.4zM2248.0 473.1H2269.9V482.9H2248.0zM2423.5 473.1H2434.5V482.9H2423.5zM1907.9 482.9H1929.9V492.7H1907.9zM2160.2 482.9H2182.2V492.7H2160.2zM2259.0 482.9H2291.9V492.7H2259.0zM2412.5 482.9H2423.5V492.7H2412.5zM1918.9 492.7H1940.8V502.5H1918.9zM2171.2 492.7H2193.1V502.5H2171.2zM2291.9 492.7H2302.8V502.5H2291.9zM2412.5 492.7H2423.5V502.5H2412.5zM1929.9 502.5H1951.8V512.3H1929.9zM2182.2 502.5H2193.1V512.3H2182.2zM2302.8 502.5H2313.8V512.3H2302.8zM2401.6 502.5H2412.5V512.3H2401.6zM1940.8 512.3H1951.8V522.1H1940.8zM2182.2 512.3H2193.1V522.1H2182.2zM1940.8 522.1H1962.8V531.8H1940.8zM2182.2 522.1H2193.1V531.8H2182.2zM2324.8 522.1H2346.7V531.8H2324.8zM2379.6 522.1H2390.6V531.8H2379.6zM1951.8 531.8H1984.7V541.6H1951.8zM2182.2 531.8H2193.1V541.6H2182.2zM1973.7 541.6H1995.7V551.4H1973.7zM2182.2 541.6H2193.1V551.4H2182.2zM1984.7 551.4H2006.7V561.2H1984.7zM1995.7 561.2H2017.6V571.0H1995.7zM2171.2 561.2H2182.2V571.0H2171.2zM2006.7 571.0H2028.6V580.8H2006.7zM2160.2 571.0H2171.2V580.8H2160.2zM2017.6 580.8H2039.6V590.6H2017.6zM2138.3 580.8H2149.3V590.6H2138.3zM2028.6 590.6H2050.5V600.4H2028.6zM2116.4 590.6H2138.3V600.4H2116.4zM2050.5 600.4H2116.4V610.1H2050.5zM2412.5 1226.8H2555.2V1236.5H2412.5zM2313.8 1236.5H2390.6V1246.3H2313.8zM2544.2 1236.5H2566.1V1246.3H2544.2zM2291.9 1246.3H2313.8V1256.1H2291.9zM2555.2 1246.3H2577.1V1256.1H2555.2zM2280.9 1256.1H2302.8V1265.9H2280.9zM2566.1 1256.1H2588.1V1265.9H2566.1zM2226.1 1265.9H2291.9V1275.7H2226.1zM2566.1 1265.9H2610.0V1275.7H2566.1zM2193.1 1275.7H2226.1V1285.5H2193.1zM2456.4 1275.7H2566.1V1285.5H2456.4zM2445.4 1285.5H2456.4V1295.3H2445.4zM2544.2 1285.5H2566.1V1295.3H2544.2zM2171.2 1295.3H2182.2V1305.1H2171.2zM2445.4 1295.3H2456.4V1305.1H2445.4zM2555.2 1295.3H2566.1V1305.1H2555.2zM997.4 1305.1H1063.2V1314.8H997.4zM2160.2 1305.1H2171.2V1314.8H2160.2zM2456.4 1305.1H2478.4V1314.8H2456.4zM2555.2 1305.1H2566.1V1314.8H2555.2zM975.5 1314.8H986.4V1324.6H975.5zM1074.2 1314.8H1085.2V1324.6H1074.2zM1436.2 1314.8H1502.0V1324.6H1436.2zM2149.3 1314.8H2160.2V1324.6H2149.3zM2467.4 1314.8H2489.3V1324.6H2467.4zM2555.2 1314.8H2566.1V1324.6H2555.2zM964.5 1324.6H975.5V1334.4H964.5zM1085.2 1324.6H1096.1V1334.4H1085.2zM1414.3 1324.6H1436.2V1334.4H1414.3zM1502.0 1324.6H1524.0V1334.4H1502.0zM2478.4 1324.6H2489.3V1334.4H2478.4zM2555.2 1324.6H2566.1V1334.4H2555.2zM1085.2 1334.4H1096.1V1344.2H1085.2zM1414.3 1334.4H1425.2V1344.2H1414.3zM1524.0 1334.4H1545.9V1344.2H1524.0zM2127.3 1334.4H2138.3V1344.2H2127.3zM2478.4 1334.4H2500.3V1344.2H2478.4zM2544.2 1334.4H2566.1V1344.2H2544.2zM953.5 1344.2H964.5V1354.0H953.5zM1096.1 1344.2H1107.1V1354.0H1096.1zM1414.3 1344.2H1425.2V1354.0H1414.3zM1578.8 1344.2H1611.7V1354.0H1578.8zM2116.4 1344.2H2127.3V1354.0H2116.4zM2478.4 1344.2H2577.1V1354.0H2478.4zM942.6 1354.0H953.5V1363.8H942.6zM1107.1 1354.0H1194.9V1363.8H1107.1zM1414.3 1354.0H1425.2V1363.8H1414.3zM1622.7 1354.0H1633.7V1363.8H1622.7zM2006.7 1354.0H2028.6V1363.8H2006.7zM2116.4 1354.0H2127.3V1363.8H2116.4zM2489.3 1354.0H2610.0V1363.8H2489.3zM942.6 1363.8H953.5V1373.6H942.6zM1205.8 1363.8H1238.8V1373.6H1205.8zM1414.3 1363.8H1425.2V1373.6H1414.3zM1633.7 1363.8H1644.6V1373.6H1633.7zM1984.7 1363.8H2006.7V1373.6H1984.7zM2039.6 1363.8H2116.4V1373.6H2039.6zM2489.3 1363.8H2588.1V1373.6H2489.3zM931.6 1373.6H942.6V1383.4H931.6zM1238.8 1373.6H1249.7V1383.4H1238.8zM1414.3 1373.6H1425.2V1383.4H1414.3zM1984.7 1373.6H1995.7V1383.4H1984.7zM2522.2 1373.6H2577.1V1383.4H2522.2zM920.6 1383.4H931.6V1393.1H920.6zM1249.7 1383.4H1260.7V1393.1H1249.7zM1414.3 1383.4H1436.2V1393.1H1414.3zM1633.7 1383.4H1644.6V1393.1H1633.7zM1973.7 1383.4H1995.7V1393.1H1973.7zM2522.2 1383.4H2566.1V1393.1H2522.2zM865.8 1393.1H898.7V1402.9H865.8zM1260.7 1393.1H1271.7V1402.9H1260.7zM1282.6 1393.1H1315.5V1402.9H1282.6zM1359.4 1393.1H1392.3V1402.9H1359.4zM1425.2 1393.1H1469.1V1402.9H1425.2zM1633.7 1393.1H1644.6V1402.9H1633.7zM1973.7 1393.1H1995.7V1402.9H1973.7zM2522.2 1393.1H2555.2V1402.9H2522.2zM843.8 1402.9H865.8V1412.7H843.8zM1271.7 1402.9H1282.6V1412.7H1271.7zM1381.4 1402.9H1403.3V1412.7H1381.4zM1447.2 1402.9H1491.1V1412.7H1447.2zM1633.7 1402.9H1644.6V1412.7H1633.7zM1973.7 1402.9H1984.7V1412.7H1973.7zM2522.2 1402.9H2544.2V1412.7H2522.2zM778.0 1412.7H843.8V1422.5H778.0zM1392.3 1412.7H1403.3V1422.5H1392.3zM1469.1 1412.7H1513.0V1422.5H1469.1zM1940.8 1412.7H1984.7V1422.5H1940.8zM2522.2 1412.7H2533.2V1422.5H2522.2zM690.2 1422.5H701.2V1432.3H690.2zM1392.3 1422.5H1403.3V1432.3H1392.3zM1513.0 1422.5H1534.9V1432.3H1513.0zM1611.7 1422.5H1622.7V1432.3H1611.7zM1754.3 1422.5H1853.1V1432.3H1754.3zM1907.9 1422.5H1962.8V1432.3H1907.9zM2511.3 1422.5H2533.2V1432.3H2511.3zM416.0 1432.3H437.9V1442.1H416.0zM1392.3 1432.3H1414.3V1442.1H1392.3zM1534.9 1432.3H1556.9V1442.1H1534.9zM1589.8 1432.3H1611.7V1442.1H1589.8zM1732.4 1432.3H1864.0V1442.1H1732.4zM1897.0 1432.3H1918.9V1442.1H1897.0zM2511.3 1432.3H2533.2V1442.1H2511.3zM1403.3 1442.1H1414.3V1451.9H1403.3zM1567.9 1442.1H1589.8V1451.9H1567.9zM1699.5 1442.1H1875.0V1451.9H1699.5zM1897.0 1442.1H1907.9V1451.9H1897.0zM2500.3 1442.1H2533.2V1451.9H2500.3zM459.9 1451.9H470.9V1461.7H459.9zM657.3 1451.9H668.3V1461.7H657.3zM1403.3 1451.9H1414.3V1461.7H1403.3zM1688.5 1451.9H1699.5V1461.7H1688.5zM1864.0 1451.9H1897.0V1461.7H1864.0zM2489.3 1451.9H2533.2V1461.7H2489.3zM481.8 1461.7H514.7V1471.5H481.8zM602.5 1461.7H624.4V1471.5H602.5zM1414.3 1461.7H1425.2V1471.5H1414.3zM1567.9 1461.7H1578.8V1471.5H1567.9zM1677.6 1461.7H1688.5V1471.5H1677.6zM2478.4 1461.7H2522.2V1471.5H2478.4zM536.7 1471.5H580.5V1481.2H536.7zM1425.2 1471.5H1436.2V1481.2H1425.2zM1458.2 1471.5H1491.1V1481.2H1458.2zM1513.0 1471.5H1600.8V1481.2H1513.0zM1633.7 1471.5H1666.6V1481.2H1633.7zM2467.4 1471.5H2511.3V1481.2H2467.4zM1436.2 1481.2H1458.2V1491.0H1436.2zM1567.9 1481.2H1633.7V1491.0H1567.9zM2456.4 1481.2H2489.3V1491.0H2456.4zM2456.4 1491.0H2500.3V1500.8H2456.4zM2478.4 1500.8H2610.0V1510.6H2478.4z"/>
<path fill="#0000df" d="M2039.6 179.5H2050.5V189.3H2039.6zM2456.4 179.5H2467.4V189.3H2456.4zM2039.6 189.3H2050.5V199.1H2039.6zM2456.4 189.3H2467.4V199.1H2456.4zM2039.6 199.1H2050.5V208.9H2039.6zM2456.4 199.1H2467.4V208.9H2456.4zM2028.6 208.9H2039.6V218.7H2028.6zM2456.4 208.9H2467.4V218.7H2456.4zM2028.6 218.7H2039.6V228.4H2028.6zM2456.4 218.7H2467.4V228.4H2456.4zM2456.4 228.4H2467.4V238.2H2456.4zM2456.4 238.2H2467.4V248.0H2456.4zM2467.4 257.8H2478.4V267.6H2467.4zM2467.4 267.6H2478.4V277.4H2467.4zM2028.6 287.2H2039.6V296.9H2028.6zM1962.8 296.9H1984.7V306.7H1962.8zM2028.6 296.9H2039.6V306.7H2028.6zM1951.8 306.7H1995.7V316.5H1951.8zM2039.6 306.7H2050.5V316.5H2039.6zM1951.8 316.5H1962.8V326.3H1951.8zM1984.7 316.5H1995.7V326.3H1984.7zM2039.6 316.5H2061.5V326.3H2039.6zM1940.8 326.3H1962.8V336.1H1940.8zM1995.7 326.3H2006.7V336.1H1995.7zM2039.6 326.3H2094.4V336.1H2039.6zM1940.8 336.1H1951.8V345.9H1940.8zM2006.7 336.1H2039.6V345.9H2006.7zM2072.5 336.1H2094.4V345.9H2072.5zM1940.8 345.9H1951.8V355.7H1940.8zM2017.6 345.9H2039.6V355.7H2017.6zM2083.4 345.9H2094.4V355.7H2083.4zM2039.6 355.7H2061.5V365.5H2039.6zM2072.5 355.7H2105.4V365.5H2072.5zM2467.4 355.7H2478.4V365.5H2467.4zM1918.9 365.5H1929.9V375.2H1918.9zM2083.4 365.5H2160.2V375.2H2083.4zM2094.4 375.2H2105.4V385.0H2094.4zM2160.2 375.2H2171.2V385.0H2160.2zM2456.4 375.2H2467.4V385.0H2456.4zM1907.9 385.0H1918.9V394.8H1907.9zM2171.2 385.0H2182.2V394.8H2171.2zM2434.5 385.0H2445.4V394.8H2434.5zM2171.2 394.8H2182.2V404.6H2171.2zM2412.5 394.8H2434.5V404.6H2412.5zM2171.2 404.6H2182.2V414.4H2171.2zM2412.5 404.6H2423.5V414.4H2412.5zM2171.2 414.4H2182.2V424.2H2171.2zM2412.5 414.4H2423.5V424.2H2412.5zM2083.4 424.2H2094.4V434.0H2083.4zM2171.2 424.2H2182.2V434.0H2171.2zM2412.5 424.2H2423.5V434.0H2412.5zM2083.4 434.0H2094.4V443.8H2083.4zM2171.2 434.0H2193.1V443.8H2171.2zM2412.5 434.0H2423.5V443.8H2412.5zM2083.4 443.8H2094.4V453.6H2083.4zM2182.2 443.8H2237.0V453.6H2182.2zM2412.5 443.8H2423.5V453.6H2412.5zM1907.9 453.6H1918.9V463.3H1907.9zM2083.4 453.6H2094.4V463.3H2083.4zM2237.0 453.6H2248.0V463.3H2237.0zM2412.5 453.6H2423.5V463.3H2412.5zM2083.4 463.3H2094.4V473.1H2083.4zM2248.0 463.3H2259.0V473.1H2248.0zM2412.5 463.3H2423.5V473.1H2412.5zM1918.9 473.1H1929.9V482.9H1918.9zM2094.4 473.1H2105.4V482.9H2094.4zM2269.9 473.1H2280.9V482.9H2269.9zM2412.5 473.1H2423.5V482.9H2412.5zM1929.9 482.9H1962.8V492.7H1929.9zM2138.3 482.9H2160.2V492.7H2138.3zM1940.8 492.7H1962.8V502.5H1940.8zM2160.2 492.7H2171.2V502.5H2160.2zM2401.6 492.7H2412.5V502.5H2401.6zM1951.8 502.5H1962.8V512.3H1951.8zM2171.2 502.5H2182.2V512.3H2171.2zM1951.8 512.3H1973.7V522.1H1951.8zM2171.2 512.3H2182.2V522.1H2171.2zM2313.8 512.3H2335.8V522.1H2313.8zM2390.6 512.3H2401.6V522.1H2390.6zM1962.8 522.1H2006.7V531.8H1962.8zM2171.2 522.1H2182.2V531.8H2171.2zM2346.7 522.1H2379.6V531.8H2346.7zM1984.7 531.8H2006.7V541.6H1984.7zM2171.2 531.8H2182.2V541.6H2171.2zM1995.7 541.6H2006.7V551.4H1995.7zM2171.2 541.6H2182.2V551.4H2171.2zM2006.7 551.4H2017.6V561.2H2006.7zM2171.2 551.4H2182.2V561.2H2171.2zM2017.6 561.2H2028.6V571.0H2017.6zM2160.2 561.2H2171.2V571.0H2160.2zM2028.6 571.0H2039.6V580.8H2028.6zM2149.3 571.0H2160.2V580.8H2149.3zM2039.6 580.8H2050.5V590.6H2039.6zM2127.3 580.8H2138.3V590.6H2127.3zM2050.5 590.6H2116.4V600.4H2050.5zM2390.6 1236.5H2544.2V1246.3H2390.6zM2313.8 1246.3H2379.6V1256.1H2313.8zM2544.2 1246.3H2555.2V1256.1H2544.2zM2302.8 1256.1H2313.8V1265.9H2302.8zM2544.2 1256.1H2566.1V1265.9H2544.2zM2291.9 1265.9H2313.8V1275.7H2291.9zM2445.4 1265.9H2566.1V1275.7H2445.4zM2226.1 1275.7H2313.8V1285.5H2226.1zM2445.4 1275.7H2456.4V1285.5H2445.4zM2566.1 1275.7H2610.0V1285.5H2566.1zM2182.2 1285.5H2237.0V1295.3H2182.2zM2434.5 1285.5H2445.4V1295.3H2434.5zM2566.1 1285.5H2588.1V1295.3H2566.1zM2434.5 1295.3H2445.4V1305.1H2434.5zM2566.1 1295.3H2577.1V1305.1H2566.1zM2171.2 1305.1H2182.2V1314.8H2171.2zM2445.4 1305.1H2456.4V1314.8H2445.4zM2566.1 1305.1H2577.1V1314.8H2566.1zM986.4 1314.8H997.4V1324.6H986.4zM1063.2 1314.8H1074.2V1324.6H1063.2zM2160.2 1314.8H2171.2V1324.6H2160.2zM2445.4 1314.8H2467.4V1324.6H2445.4zM2566.1 1314.8H2577.1V1324.6H2566.1zM975.5 1324.6H986.4V1334.4H975.5zM1074.2 1324.6H1085.2V1334.4H1074.2zM1436.2 1324.6H1502.0V1334.4H1436.2zM2138.3 1324.6H2149.3V1334.4H2138.3zM2456.4 1324.6H2478.4V1334.4H2456.4zM2566.1 1324.6H2577.1V1334.4H2566.1zM964.5 1334.4H975.5V1344.2H964.5zM1425.2 1334.4H1436.2V1344.2H1425.2zM1502.0 1334.4H1524.0V1344.2H1502.0zM2138.3 1334.4H2149.3V1344.2H2138.3zM2467.4 1334.4H2478.4V1344.2H2467.4zM2566.1 1334.4H2588.1V1344.2H2566.1zM1085.2 1344.2H1096.1V1354.0H1085.2zM1425.2 1344.2H1436.2V1354.0H1425.2zM1513.0 1344.2H1578.8V1354.0H1513.0zM2127.3 1344.2H2138.3V1354.0H2127.3zM2467.4 1344.2H2478.4V1354.0H2467.4zM2577.1 1344.2H2610.0V1354.0H2577.1zM953.5 1354.0H964.5V1363.8H953.5zM1096.1 1354.0H1107.1V1363.8H1096.1zM1425.2 1354.0H1436.2V1363.8H1425.2zM1611.7 1354.0H1622.7V1363.8H1611.7zM2127.3 1354.0H2138.3V1363.8H2127.3zM2467.4 1354.0H2489.3V1363.8H2467.4zM1096.1 1363.8H1205.8V1373.6H1096.1zM1425.2 1363.8H1436.2V1373.6H1425.2zM2006.7 1363.8H2039.6V1373.6H2006.7zM2116.4 1363.8H2127.3V1373.6H2116.4zM2467.4 1363.8H2489.3V1373.6H2467.4zM942.6 1373.6H953.5V1383.4H942.6zM1216.8 1373.6H1238.8V1383.4H1216.8zM1425.2 1373.6H1447.2V1383.4H1425.2zM1633.7 1373.6H1644.6V1383.4H1633.7zM1995.7 1373.6H2006.7V1383.4H1995.7zM2039.6 1373.6H2116.4V1383.4H2039.6zM2478.4 1373.6H2522.2V1383.4H2478.4zM931.6 1383.4H942.6V1393.1H931.6zM1238.8 1383.4H1249.7V1393.1H1238.8zM1436.2 1383.4H1491.1V1393.1H1436.2zM1995.7 1383.4H2006.7V1393.1H1995.7zM2489.3 1383.4H2522.2V1393.1H2489.3zM898.7 1393.1H920.6V1402.9H898.7zM1249.7 1393.1H1260.7V1402.9H1249.7zM1315.5 1393.1H1359.4V1402.9H1315.5zM1469.1 1393.1H1502.0V1402.9H1469.1zM1995.7 1393.1H2006.7V1402.9H1995.7zM2500.3 1393.1H2522.2V1402.9H2500.3zM865.8 1402.9H887.7V1412.7H865.8zM1260.7 1402.9H1271.7V1412.7H1260.7zM1282.6 1402.9H1304.6V1412.7H1282.6zM1370.4 1402.9H1381.4V1412.7H1370.4zM1491.1 1402.9H1513.0V1412.7H1491.1zM1622.7 1402.9H1633.7V1412.7H1622.7zM1984.7 1402.9H1995.7V1412.7H1984.7zM2500.3 1402.9H2522.2V1412.7H2500.3zM843.8 1412.7H854.8V1422.5H843.8zM1260.7 1412.7H1282.6V1422.5H1260.7zM1381.4 1412.7H1392.3V1422.5H1381.4zM1513.0 1412.7H1534.9V1422.5H1513.0zM1622.7 1412.7H1633.7V1422.5H1622.7zM1984.7 1412.7H1995.7V1422.5H1984.7zM2500.3 1412.7H2522.2V1422.5H2500.3zM701.2 1422.5H832.9V1432.3H701.2zM1381.4 1422.5H1392.3V1432.3H1381.4zM1534.9 1422.5H1556.9V1432.3H1534.9zM1600.8 1422.5H1611.7V1432.3H1600.8zM1962.8 1422.5H1984.7V1432.3H1962.8zM2500.3 1422.5H2511.3V1432.3H2500.3zM679.3 1432.3H690.2V1442.1H679.3zM1370.4 1432.3H1392.3V1442.1H1370.4zM1556.9 1432.3H1589.8V1442.1H1556.9zM1918.9 1432.3H1962.8V1442.1H1918.9zM2489.3 1432.3H2511.3V1442.1H2489.3zM416.0 1442.1H448.9V1451.9H416.0zM668.3 1442.1H679.3V1451.9H668.3zM1370.4 1442.1H1403.3V1451.9H1370.4zM1907.9 1442.1H1929.9V1451.9H1907.9zM2478.4 1442.1H2500.3V1451.9H2478.4zM448.9 1451.9H459.9V1461.7H448.9zM1381.4 1451.9H1403.3V1461.7H1381.4zM1699.5 1451.9H1864.0V1461.7H1699.5zM1897.0 1451.9H1907.9V1461.7H1897.0zM2467.4 1451.9H2489.3V1461.7H2467.4zM470.9 1461.7H481.8V1471.5H470.9zM624.4 1461.7H646.4V1471.5H624.4zM1403.3 1461.7H1414.3V1471.5H1403.3zM1688.5 1461.7H1699.5V1471.5H1688.5zM1864.0 1461.7H1886.0V1471.5H1864.0zM2456.4 1461.7H2478.4V1471.5H2456.4zM514.7 1471.5H536.7V1481.2H514.7zM580.5 1471.5H602.5V1481.2H580.5zM1414.3 1471.5H1425.2V1481.2H1414.3zM1491.1 1471.5H1513.0V1481.2H1491.1zM1666.6 1471.5H1677.6V1481.2H1666.6zM2445.4 1471.5H2467.4V1481.2H2445.4zM558.6 1481.2H569.6V1491.0H558.6zM1425.2 1481.2H1436.2V1491.0H1425.2zM1458.2 1481.2H1480.1V1491.0H1458.2zM1524.0 1481.2H1567.9V1491.0H1524.0zM1633.7 1481.2H1655.6V1491.0H1633.7zM2434.5 1481.2H2456.4V1491.0H2434.5zM1436.2 1491.0H1458.2V1500.8H1436.2zM1567.9 1491.0H1633.7V1500.8H1567.9zM2423.5 1491.0H2456.4V1500.8H2423.5zM2434.5 1500.8H2478.4V1510.6H2434.5zM2445.4 1510.6H2610.0V1520.4H2445.4zM2588.1 1814.0H2610.0V1823.8H2588.1zM2577.1 1823.8H2610.0V1833.6H2577.1zM2577.1 1833.6H2610.0V1843.4H2577.1zM2577.1 1843.4H2610.0V1853.2H2577.1zM2577.1 1853.2H2610.0V1863.0H2577.1zM2588.1 1863.0H2610.0V1872.7H2588.1z"/>
<path fill="#0000ef" d="M2050.5 179.5H2072.5V189.3H2050.5zM2050.5 189.3H2072.5V199.1H2050.5zM2050.5 199.1H2061.5V208.9H2050.5zM2039.6 208.9H2050.5V218.7H2039.6zM2028.6 228.4H2039.6V238.2H2028.6zM2028.6 238.2H2039.6V248.0H2028.6zM2028.6 248.0H2039.6V257.8H2028.6zM2456.4 248.0H2467.4V257.8H2456.4zM2028.6 257.8H2039.6V267.6H2028.6zM2028.6 267.6H2039.6V277.4H2028.6zM2028.6 277.4H2039.6V287.2H2028.6zM2094.4 277.4H2116.4V287.2H2094.4zM2467.4 277.4H2478.4V287.2H2467.4zM2094.4 287.2H2116.4V296.9H2094.4zM2467.4 287.2H2478.4V296.9H2467.4zM2039.6 296.9H2050.5V306.7H2039.6zM2094.4 296.9H2116.4V306.7H2094.4zM2467.4 296.9H2478.4V306.7H2467.4zM2050.5 306.7H2149.3V316.5H2050.5zM2467.4 306.7H2478.4V316.5H2467.4zM1962.8 316.5H1984.7V326.3H1962.8zM2061.5 316.5H2160.2V326.3H2061.5zM2467.4 316.5H2478.4V326.3H2467.4zM1962.8 326.3H1973.7V336.1H1962.8zM1984.7 326.3H1995.7V336.1H1984.7zM2094.4 326.3H2160.2V336.1H2094.4zM2467.4 326.3H2478.4V336.1H2467.4zM1951.8 336.1H1962.8V345.9H1951.8zM1995.7 336.1H2006.7V345.9H1995.7zM2094.4 336.1H2160.2V345.9H2094.4zM2467.4 336.1H2478.4V345.9H2467.4zM1951.8 345.9H1962.8V355.7H1951.8zM2006.7 345.9H2017.6V355.7H2006.7zM2094.4 345.9H2160.2V355.7H2094.4zM2467.4 345.9H2478.4V355.7H2467.4zM1940.8 355.7H1951.8V365.5H1940.8zM2028.6 355.7H2039.6V365.5H2028.6zM2105.4 355.7H2160.2V365.5H2105.4zM1929.9 365.5H1940.8V375.2H1929.9zM2061.5 365.5H2083.4V375.2H2061.5zM2160.2 365.5H2171.2V375.2H2160.2zM2456.4 365.5H2467.4V375.2H2456.4zM1918.9 375.2H1929.9V385.0H1918.9zM2083.4 375.2H2094.4V385.0H2083.4zM2171.2 375.2H2182.2V385.0H2171.2zM2434.5 375.2H2456.4V385.0H2434.5zM2083.4 385.0H2094.4V394.8H2083.4zM2182.2 385.0H2204.1V394.8H2182.2zM2412.5 385.0H2434.5V394.8H2412.5zM1907.9 394.8H1918.9V404.6H1907.9zM2083.4 394.8H2094.4V404.6H2083.4zM2182.2 394.8H2204.1V404.6H2182.2zM2401.6 394.8H2412.5V404.6H2401.6zM1907.9 404.6H1918.9V414.4H1907.9zM2083.4 404.6H2094.4V414.4H2083.4zM2182.2 404.6H2215.1V414.4H2182.2zM2401.6 404.6H2412.5V414.4H2401.6zM2083.4 414.4H2094.4V424.2H2083.4zM2182.2 414.4H2226.1V424.2H2182.2zM2401.6 414.4H2412.5V424.2H2401.6zM2182.2 424.2H2237.0V434.0H2182.2zM2401.6 424.2H2412.5V434.0H2401.6zM2193.1 434.0H2248.0V443.8H2193.1zM2401.6 434.0H2412.5V443.8H2401.6zM1907.9 443.8H1918.9V453.6H1907.9zM2237.0 443.8H2248.0V453.6H2237.0zM2401.6 443.8H2412.5V453.6H2401.6zM2248.0 453.6H2259.0V463.3H2248.0zM2401.6 453.6H2412.5V463.3H2401.6zM1918.9 463.3H1929.9V473.1H1918.9zM2259.0 463.3H2280.9V473.1H2259.0zM2401.6 463.3H2412.5V473.1H2401.6zM1929.9 473.1H1984.7V482.9H1929.9zM2083.4 473.1H2094.4V482.9H2083.4zM2280.9 473.1H2291.9V482.9H2280.9zM2401.6 473.1H2412.5V482.9H2401.6zM1962.8 482.9H1995.7V492.7H1962.8zM2116.4 482.9H2138.3V492.7H2116.4zM2291.9 482.9H2302.8V492.7H2291.9zM2401.6 482.9H2412.5V492.7H2401.6zM1962.8 492.7H2006.7V502.5H1962.8zM2149.3 492.7H2160.2V502.5H2149.3zM2302.8 492.7H2313.8V502.5H2302.8zM2390.6 492.7H2401.6V502.5H2390.6zM1962.8 502.5H2017.6V512.3H1962.8zM2160.2 502.5H2171.2V512.3H2160.2zM2313.8 502.5H2324.8V512.3H2313.8zM2390.6 502.5H2401.6V512.3H2390.6zM1973.7 512.3H2028.6V522.1H1973.7zM2335.8 512.3H2346.7V522.1H2335.8zM2379.6 512.3H2390.6V522.1H2379.6zM2006.7 522.1H2028.6V531.8H2006.7zM2006.7 531.8H2028.6V541.6H2006.7zM2006.7 541.6H2028.6V551.4H2006.7zM2017.6 551.4H2028.6V561.2H2017.6zM2160.2 551.4H2171.2V561.2H2160.2zM2028.6 561.2H2039.6V571.0H2028.6zM2149.3 561.2H2160.2V571.0H2149.3zM2039.6 571.0H2050.5V580.8H2039.6zM2138.3 571.0H2149.3V580.8H2138.3zM2050.5 580.8H2083.4V590.6H2050.5zM2105.4 580.8H2127.3V590.6H2105.4zM2379.6 1246.3H2390.6V1256.1H2379.6zM2434.5 1246.3H2544.2V1256.1H2434.5zM2313.8 1256.1H2379.6V1265.9H2313.8zM2445.4 1256.1H2544.2V1265.9H2445.4zM2313.8 1265.9H2357.7V1275.7H2313.8zM2434.5 1265.9H2445.4V1275.7H2434.5zM2313.8 1275.7H2346.7V1285.5H2313.8zM2434.5 1275.7H2445.4V1285.5H2434.5zM2237.0 1285.5H2335.8V1295.3H2237.0zM2588.1 1285.5H2610.0V1295.3H2588.1zM2182.2 1295.3H2335.8V1305.1H2182.2zM2577.1 1295.3H2610.0V1305.1H2577.1zM2182.2 1305.1H2193.1V1314.8H2182.2zM2204.1 1305.1H2335.8V1314.8H2204.1zM2434.5 1305.1H2445.4V1314.8H2434.5zM2577.1 1305.1H2610.0V1314.8H2577.1zM2171.2 1314.8H2182.2V1324.6H2171.2zM2215.1 1314.8H2335.8V1324.6H2215.1zM2434.5 1314.8H2445.4V1324.6H2434.5zM2577.1 1314.8H2610.0V1324.6H2577.1zM2149.3 1324.6H2171.2V1334.4H2149.3zM2226.1 1324.6H2335.8V1334.4H2226.1zM2445.4 1324.6H2456.4V1334.4H2445.4zM2577.1 1324.6H2610.0V1334.4H2577.1zM1436.2 1334.4H1502.0V1344.2H1436.2zM2149.3 1334.4H2160.2V1344.2H2149.3zM2226.1 1334.4H2335.8V1344.2H2226.1zM2445.4 1334.4H2467.4V1344.2H2445.4zM2588.1 1334.4H2610.0V1344.2H2588.1zM964.5 1344.2H975.5V1354.0H964.5zM1436.2 1344.2H1513.0V1354.0H1436.2zM2138.3 1344.2H2149.3V1354.0H2138.3zM2226.1 1344.2H2269.9V1354.0H2226.1zM2445.4 1344.2H2467.4V1354.0H2445.4zM964.5 1354.0H975.5V1363.8H964.5zM1085.2 1354.0H1096.1V1363.8H1085.2zM1436.2 1354.0H1534.9V1363.8H1436.2zM1589.8 1354.0H1611.7V1363.8H1589.8zM2138.3 1354.0H2149.3V1363.8H2138.3zM2226.1 1354.0H2259.0V1363.8H2226.1zM2445.4 1354.0H2467.4V1363.8H2445.4zM953.5 1363.8H964.5V1373.6H953.5zM1436.2 1363.8H1502.0V1373.6H1436.2zM1622.7 1363.8H1633.7V1373.6H1622.7zM2127.3 1363.8H2138.3V1373.6H2127.3zM2215.1 1363.8H2248.0V1373.6H2215.1zM2445.4 1363.8H2467.4V1373.6H2445.4zM1096.1 1373.6H1162.0V1383.4H1096.1zM1194.9 1373.6H1216.8V1383.4H1194.9zM1447.2 1373.6H1502.0V1383.4H1447.2zM1622.7 1373.6H1633.7V1383.4H1622.7zM2006.7 1373.6H2039.6V1383.4H2006.7zM2116.4 1373.6H2127.3V1383.4H2116.4zM2226.1 1373.6H2248.0V1383.4H2226.1zM2445.4 1373.6H2478.4V1383.4H2445.4zM1096.1 1383.4H1107.1V1393.1H1096.1zM1227.8 1383.4H1238.8V1393.1H1227.8zM1491.1 1383.4H1513.0V1393.1H1491.1zM1622.7 1383.4H1633.7V1393.1H1622.7zM2006.7 1383.4H2105.4V1393.1H2006.7zM2456.4 1383.4H2489.3V1393.1H2456.4zM920.6 1393.1H931.6V1402.9H920.6zM1238.8 1393.1H1249.7V1402.9H1238.8zM1502.0 1393.1H1524.0V1402.9H1502.0zM1622.7 1393.1H1633.7V1402.9H1622.7zM2006.7 1393.1H2017.6V1402.9H2006.7zM2467.4 1393.1H2500.3V1402.9H2467.4zM887.7 1402.9H898.7V1412.7H887.7zM1249.7 1402.9H1260.7V1412.7H1249.7zM1304.6 1402.9H1370.4V1412.7H1304.6zM1513.0 1402.9H1534.9V1412.7H1513.0zM1995.7 1402.9H2006.7V1412.7H1995.7zM2478.4 1402.9H2500.3V1412.7H2478.4zM854.8 1412.7H876.7V1422.5H854.8zM1282.6 1412.7H1293.6V1422.5H1282.6zM1370.4 1412.7H1381.4V1422.5H1370.4zM1534.9 1412.7H1545.9V1422.5H1534.9zM1611.7 1412.7H1622.7V1422.5H1611.7zM1995.7 1412.7H2006.7V1422.5H1995.7zM2478.4 1412.7H2500.3V1422.5H2478.4zM832.9 1422.5H843.8V1432.3H832.9zM1260.7 1422.5H1282.6V1432.3H1260.7zM1359.4 1422.5H1381.4V1432.3H1359.4zM1556.9 1422.5H1567.9V1432.3H1556.9zM1589.8 1422.5H1600.8V1432.3H1589.8zM1984.7 1422.5H1995.7V1432.3H1984.7zM2467.4 1422.5H2500.3V1432.3H2467.4zM690.2 1432.3H701.2V1442.1H690.2zM1260.7 1432.3H1271.7V1442.1H1260.7zM1359.4 1432.3H1370.4V1442.1H1359.4zM1962.8 1432.3H1984.7V1442.1H1962.8zM2357.7 1432.3H2368.7V1442.1H2357.7zM2456.4 1432.3H2489.3V1442.1H2456.4zM1348.5 1442.1H1370.4V1451.9H1348.5zM1929.9 1442.1H1962.8V1451.9H1929.9zM2269.9 1442.1H2379.6V1451.9H2269.9zM2445.4 1442.1H2478.4V1451.9H2445.4zM437.9 1451.9H448.9V1461.7H437.9zM1348.5 1451.9H1381.4V1461.7H1348.5zM1907.9 1451.9H1929.9V1461.7H1907.9zM2259.0 1451.9H2379.6V1461.7H2259.0zM2445.4 1451.9H2467.4V1461.7H2445.4zM459.9 1461.7H470.9V1471.5H459.9zM646.4 1461.7H657.3V1471.5H646.4zM1359.4 1461.7H1403.3V1471.5H1359.4zM1699.5 1461.7H1864.0V1471.5H1699.5zM1886.0 1461.7H1907.9V1471.5H1886.0zM2248.0 1461.7H2390.6V1471.5H2248.0zM2434.5 1461.7H2456.4V1471.5H2434.5zM492.8 1471.5H514.7V1481.2H492.8zM602.5 1471.5H613.5V1481.2H602.5zM1381.4 1471.5H1414.3V1481.2H1381.4zM1677.6 1471.5H1699.5V1481.2H1677.6zM2193.1 1471.5H2401.6V1481.2H2193.1zM2423.5 1471.5H2445.4V1481.2H2423.5zM525.7 1481.2H558.6V1491.0H525.7zM569.6 1481.2H580.5V1491.0H569.6zM1414.3 1481.2H1425.2V1491.0H1414.3zM1480.1 1481.2H1524.0V1491.0H1480.1zM1655.6 1481.2H1666.6V1491.0H1655.6zM2160.2 1481.2H2434.5V1491.0H2160.2zM1425.2 1491.0H1436.2V1500.8H1425.2zM1458.2 1491.0H1469.1V1500.8H1458.2zM1534.9 1491.0H1567.9V1500.8H1534.9zM1633.7 1491.0H1644.6V1500.8H1633.7zM2083.4 1491.0H2423.5V1500.8H2083.4zM1567.9 1500.8H1633.7V1510.6H1567.9zM2072.5 1500.8H2226.1V1510.6H2072.5zM2291.9 1500.8H2434.5V1510.6H2291.9zM1611.7 1510.6H1622.7V1520.4H1611.7zM2061.5 1510.6H2215.1V1520.4H2061.5zM2302.8 1510.6H2445.4V1520.4H2302.8zM2050.5 1520.4H2204.1V1530.2H2050.5zM2313.8 1520.4H2610.0V1530.2H2313.8zM2050.5 1530.2H2193.1V1540.0H2050.5zM2324.8 1530.2H2610.0V1540.0H2324.8zM2050.5 1540.0H2138.3V1549.8H2050.5zM2346.7 1540.0H2401.6V1549.8H2346.7zM2423.5 1540.0H2610.0V1549.8H2423.5zM2050.5 1549.8H2127.3V1559.5H2050.5zM2357.7 1549.8H2390.6V1559.5H2357.7zM2434.5 1549.8H2610.0V1559.5H2434.5zM2039.6 1559.5H2116.4V1569.3H2039.6zM2357.7 1559.5H2379.6V1569.3H2357.7zM2445.4 1559.5H2610.0V1569.3H2445.4zM2050.5 1569.3H2105.4V1579.1H2050.5zM2368.7 1569.3H2379.6V1579.1H2368.7zM2445.4 1569.3H2610.0V1579.1H2445.4zM2489.3 1579.1H2610.0V1588.9H2489.3zM2577.1 1794.4H2610.0V1804.2H2577.1zM2577.1 1804.2H2610.0V1814.0H2577.1zM2566.1 1814.0H2588.1V1823.8H2566.1zM2566.1 1823.8H2577.1V1833.6H2566.1zM2555.2 1833.6H2577.1V1843.4H2555.2zM2555.2 1843.4H2577.1V1853.2H2555.2zM2566.1 1853.2H2577.1V1863.0H2566.1zM2566.1 1863.0H2588.1V1872.7H2566.1zM2577.1 1872.7H2610.0V1882.5H2577.1zM2577.1 1882.5H2610.0V1892.3H2577.1zM2577.1 1892.3H2610.0V1902.1H2577.1zM2577.1 1902.1H2610.0V1911.9H2577.1zM2577.1 1911.9H2610.0V1921.7H2577.1zM2577.1 1921.7H2610.0V1931.5H2577.1zM2577.1 1931.5H2610.0V1941.2H2577.1zM2577.1 1941.2H2610.0V1951.0H2577.1zM2566.1 1951.0H2610.0V1960.8H2566.1zM2566.1 1960.8H2610.0V1970.6H2566.1zM2566.1 1970.6H2610.0V1980.4H2566.1zM2566.1 1980.4H2610.0V1990.2H2566.1zM2566.1 1990.2H2610.0V2000.0H2566.1zM2566.1 2000.0H2610.0V2009.8H2566.1zM2566.1 2009.8H2610.0V2019.5H2566.1zM2566.1 2019.5H2610.0V2029.3H2566.1zM2566.1 2029.3H2610.0V2039.1H2566.1zM2566.1 2039.1H2610.0V2048.9H2566.1zM2555.2 2048.9H2610.0V2058.7H2555.2zM2544.2 2058.7H2610.0V2068.5H2544.2zM2533.2 2068.5H2610.0V2078.3H2533.2zM2533.2 2078.3H2610.0V2088.1H2533.2zM2555.2 2088.1H2610.0V2097.8H2555.2zM2566.1 2097.8H2610.0V2107.6H2566.1zM2577.1 2107.6H2610.0V2117.4H2577.1zM2577.1 2117.4H2610.0V2127.2H2577.1zM2577.1 2127.2H2610.0V2137.0H2577.1z"/>
<path fill="#0000ff" d="M2072.5 179.5H2083.4V189.3H2072.5zM2445.4 179.5H2456.4V189.3H2445.4zM2072.5 189.3H2083.4V199.1H2072.5zM2445.4 189.3H2456.4V199.1H2445.4zM2061.5 199.1H2083.4V208.9H2061.5zM2445.4 199.1H2456.4V208.9H2445.4zM2050.5 208.9H2061.5V218.7H2050.5zM2445.4 208.9H2456.4V218.7H2445.4zM2039.6 218.7H2050.5V228.4H2039.6zM2445.4 218.7H2456.4V228.4H2445.4zM2445.4 228.4H2456.4V238.2H2445.4zM2445.4 238.2H2456.4V248.0H2445.4zM2094.4 257.8H2116.4V267.6H2094.4zM2456.4 257.8H2467.4V267.6H2456.4zM2094.4 267.6H2116.4V277.4H2094.4zM2456.4 267.6H2467.4V277.4H2456.4zM2039.6 287.2H2050.5V296.9H2039.6zM2083.4 287.2H2094.4V296.9H2083.4zM2116.4 287.2H2127.3V296.9H2116.4zM2050.5 296.9H2061.5V306.7H2050.5zM2072.5 296.9H2094.4V306.7H2072.5zM2116.4 296.9H2138.3V306.7H2116.4zM2149.3 306.7H2160.2V316.5H2149.3zM2160.2 316.5H2171.2V326.3H2160.2zM1973.7 326.3H1984.7V336.1H1973.7zM2160.2 326.3H2171.2V336.1H2160.2zM1962.8 336.1H1995.7V345.9H1962.8zM2160.2 336.1H2171.2V345.9H2160.2zM1984.7 345.9H2006.7V355.7H1984.7zM2160.2 345.9H2171.2V355.7H2160.2zM1951.8 355.7H1962.8V365.5H1951.8zM2006.7 355.7H2028.6V365.5H2006.7zM2160.2 355.7H2182.2V365.5H2160.2zM2456.4 355.7H2467.4V365.5H2456.4zM1940.8 365.5H1951.8V375.2H1940.8zM2050.5 365.5H2061.5V375.2H2050.5zM2171.2 365.5H2193.1V375.2H2171.2zM2445.4 365.5H2456.4V375.2H2445.4zM1929.9 375.2H1940.8V385.0H1929.9zM2072.5 375.2H2083.4V385.0H2072.5zM2182.2 375.2H2204.1V385.0H2182.2zM2423.5 375.2H2434.5V385.0H2423.5zM1918.9 385.0H1929.9V394.8H1918.9zM2204.1 385.0H2215.1V394.8H2204.1zM2401.6 385.0H2412.5V394.8H2401.6zM2204.1 394.8H2226.1V404.6H2204.1zM2390.6 394.8H2401.6V404.6H2390.6zM2215.1 404.6H2237.0V414.4H2215.1zM2390.6 404.6H2401.6V414.4H2390.6zM1907.9 414.4H1918.9V424.2H1907.9zM2072.5 414.4H2083.4V424.2H2072.5zM2226.1 414.4H2237.0V424.2H2226.1zM2390.6 414.4H2401.6V424.2H2390.6zM1907.9 424.2H1918.9V434.0H1907.9zM2072.5 424.2H2083.4V434.0H2072.5zM2237.0 424.2H2248.0V434.0H2237.0zM2390.6 424.2H2401.6V434.0H2390.6zM1907.9 434.0H1918.9V443.8H1907.9zM2072.5 434.0H2083.4V443.8H2072.5zM2390.6 434.0H2401.6V443.8H2390.6zM2072.5 443.8H2083.4V453.6H2072.5zM2248.0 443.8H2259.0V453.6H2248.0zM2390.6 443.8H2401.6V453.6H2390.6zM1918.9 453.6H1929.9V463.3H1918.9zM2072.5 453.6H2083.4V463.3H2072.5zM2259.0 453.6H2269.9V463.3H2259.0zM1929.9 463.3H1995.7V473.1H1929.9zM2072.5 463.3H2083.4V473.1H2072.5zM2280.9 463.3H2291.9V473.1H2280.9zM1984.7 473.1H2006.7V482.9H1984.7zM2072.5 473.1H2083.4V482.9H2072.5zM2291.9 473.1H2302.8V482.9H2291.9zM1995.7 482.9H2017.6V492.7H1995.7zM2105.4 482.9H2116.4V492.7H2105.4zM2302.8 482.9H2313.8V492.7H2302.8zM2390.6 482.9H2401.6V492.7H2390.6zM2006.7 492.7H2028.6V502.5H2006.7zM2138.3 492.7H2149.3V502.5H2138.3zM2313.8 492.7H2324.8V502.5H2313.8zM2017.6 502.5H2028.6V512.3H2017.6zM2149.3 502.5H2160.2V512.3H2149.3zM2324.8 502.5H2346.7V512.3H2324.8zM2379.6 502.5H2390.6V512.3H2379.6zM2160.2 512.3H2171.2V522.1H2160.2zM2346.7 512.3H2379.6V522.1H2346.7zM2160.2 522.1H2171.2V531.8H2160.2zM2028.6 531.8H2039.6V541.6H2028.6zM2160.2 531.8H2171.2V541.6H2160.2zM2028.6 541.6H2039.6V551.4H2028.6zM2160.2 541.6H2171.2V551.4H2160.2zM2028.6 551.4H2050.5V561.2H2028.6zM2149.3 551.4H2160.2V561.2H2149.3zM2039.6 561.2H2061.5V571.0H2039.6zM2138.3 561.2H2149.3V571.0H2138.3zM2050.5 571.0H2072.5V580.8H2050.5zM2127.3 571.0H2138.3V580.8H2127.3zM2083.4 580.8H2105.4V590.6H2083.4zM2390.6 1246.3H2434.5V1256.1H2390.6zM2379.6 1256.1H2390.6V1265.9H2379.6zM2423.5 1256.1H2445.4V1265.9H2423.5zM2357.7 1265.9H2379.6V1275.7H2357.7zM2423.5 1265.9H2434.5V1275.7H2423.5zM2346.7 1275.7H2368.7V1285.5H2346.7zM2423.5 1275.7H2434.5V1285.5H2423.5zM2335.8 1285.5H2357.7V1295.3H2335.8zM2423.5 1285.5H2434.5V1295.3H2423.5zM2335.8 1295.3H2346.7V1305.1H2335.8zM2423.5 1295.3H2434.5V1305.1H2423.5zM2193.1 1305.1H2204.1V1314.8H2193.1zM2335.8 1305.1H2346.7V1314.8H2335.8zM2423.5 1305.1H2434.5V1314.8H2423.5zM997.4 1314.8H1063.2V1324.6H997.4zM2182.2 1314.8H2215.1V1324.6H2182.2zM2335.8 1314.8H2346.7V1324.6H2335.8zM2423.5 1314.8H2434.5V1324.6H2423.5zM986.4 1324.6H997.4V1334.4H986.4zM1063.2 1324.6H1074.2V1334.4H1063.2zM2171.2 1324.6H2182.2V1334.4H2171.2zM2204.1 1324.6H2226.1V1334.4H2204.1zM2335.8 1324.6H2346.7V1334.4H2335.8zM2423.5 1324.6H2445.4V1334.4H2423.5zM975.5 1334.4H986.4V1344.2H975.5zM1074.2 1334.4H1085.2V1344.2H1074.2zM2160.2 1334.4H2171.2V1344.2H2160.2zM2204.1 1334.4H2226.1V1344.2H2204.1zM2335.8 1334.4H2346.7V1344.2H2335.8zM2434.5 1334.4H2445.4V1344.2H2434.5zM975.5 1344.2H986.4V1354.0H975.5zM1074.2 1344.2H1085.2V1354.0H1074.2zM2149.3 1344.2H2182.2V1354.0H2149.3zM2204.1 1344.2H2226.1V1354.0H2204.1zM2269.9 1344.2H2346.7V1354.0H2269.9zM2434.5 1344.2H2445.4V1354.0H2434.5zM1534.9 1354.0H1589.8V1363.8H1534.9zM2149.3 1354.0H2182.2V1363.8H2149.3zM2204.1 1354.0H2226.1V1363.8H2204.1zM2259.0 1354.0H2280.9V1363.8H2259.0zM2434.5 1354.0H2445.4V1363.8H2434.5zM964.5 1363.8H975.5V1373.6H964.5zM1085.2 1363.8H1096.1V1373.6H1085.2zM1502.0 1363.8H1524.0V1373.6H1502.0zM1611.7 1363.8H1622.7V1373.6H1611.7zM2138.3 1363.8H2215.1V1373.6H2138.3zM2248.0 1363.8H2269.9V1373.6H2248.0zM2434.5 1363.8H2445.4V1373.6H2434.5zM953.5 1373.6H964.5V1383.4H953.5zM1085.2 1373.6H1096.1V1383.4H1085.2zM1162.0 1373.6H1194.9V1383.4H1162.0zM1502.0 1373.6H1524.0V1383.4H1502.0zM2127.3 1373.6H2149.3V1383.4H2127.3zM2182.2 1373.6H2226.1V1383.4H2182.2zM2248.0 1373.6H2259.0V1383.4H2248.0zM2357.7 1373.6H2379.6V1383.4H2357.7zM2434.5 1373.6H2445.4V1383.4H2434.5zM942.6 1383.4H953.5V1393.1H942.6zM1085.2 1383.4H1096.1V1393.1H1085.2zM1107.1 1383.4H1140.0V1393.1H1107.1zM1205.8 1383.4H1227.8V1393.1H1205.8zM1513.0 1383.4H1534.9V1393.1H1513.0zM1611.7 1383.4H1622.7V1393.1H1611.7zM2105.4 1383.4H2127.3V1393.1H2105.4zM2204.1 1383.4H2259.0V1393.1H2204.1zM2357.7 1383.4H2379.6V1393.1H2357.7zM2423.5 1383.4H2456.4V1393.1H2423.5zM931.6 1393.1H942.6V1402.9H931.6zM1096.1 1393.1H1118.1V1402.9H1096.1zM1227.8 1393.1H1238.8V1402.9H1227.8zM1524.0 1393.1H1545.9V1402.9H1524.0zM1611.7 1393.1H1622.7V1402.9H1611.7zM2017.6 1393.1H2083.4V1402.9H2017.6zM2215.1 1393.1H2259.0V1402.9H2215.1zM2357.7 1393.1H2390.6V1402.9H2357.7zM2423.5 1393.1H2467.4V1402.9H2423.5zM898.7 1402.9H920.6V1412.7H898.7zM1096.1 1402.9H1107.1V1412.7H1096.1zM1238.8 1402.9H1249.7V1412.7H1238.8zM1534.9 1402.9H1545.9V1412.7H1534.9zM1611.7 1402.9H1622.7V1412.7H1611.7zM2006.7 1402.9H2039.6V1412.7H2006.7zM2226.1 1402.9H2248.0V1412.7H2226.1zM2357.7 1402.9H2478.4V1412.7H2357.7zM876.7 1412.7H887.7V1422.5H876.7zM1249.7 1412.7H1260.7V1422.5H1249.7zM1293.6 1412.7H1315.5V1422.5H1293.6zM1326.5 1412.7H1370.4V1422.5H1326.5zM1545.9 1412.7H1556.9V1422.5H1545.9zM1600.8 1412.7H1611.7V1422.5H1600.8zM2006.7 1412.7H2017.6V1422.5H2006.7zM2226.1 1412.7H2248.0V1422.5H2226.1zM2357.7 1412.7H2478.4V1422.5H2357.7zM843.8 1422.5H854.8V1432.3H843.8zM1249.7 1422.5H1260.7V1432.3H1249.7zM1282.6 1422.5H1304.6V1432.3H1282.6zM1337.5 1422.5H1359.4V1432.3H1337.5zM1567.9 1422.5H1589.8V1432.3H1567.9zM1995.7 1422.5H2006.7V1432.3H1995.7zM2226.1 1422.5H2269.9V1432.3H2226.1zM2324.8 1422.5H2401.6V1432.3H2324.8zM2423.5 1422.5H2467.4V1432.3H2423.5zM701.2 1432.3H723.2V1442.1H701.2zM756.1 1432.3H843.8V1442.1H756.1zM1238.8 1432.3H1260.7V1442.1H1238.8zM1271.7 1432.3H1293.6V1442.1H1271.7zM1337.5 1432.3H1359.4V1442.1H1337.5zM1984.7 1432.3H1995.7V1442.1H1984.7zM2215.1 1432.3H2357.7V1442.1H2215.1zM2368.7 1432.3H2401.6V1442.1H2368.7zM2423.5 1432.3H2456.4V1442.1H2423.5zM679.3 1442.1H690.2V1451.9H679.3zM1227.8 1442.1H1282.6V1451.9H1227.8zM1337.5 1442.1H1348.5V1451.9H1337.5zM1962.8 1442.1H1984.7V1451.9H1962.8zM2193.1 1442.1H2269.9V1451.9H2193.1zM2379.6 1442.1H2390.6V1451.9H2379.6zM2434.5 1442.1H2445.4V1451.9H2434.5zM416.0 1451.9H437.9V1461.7H416.0zM668.3 1451.9H679.3V1461.7H668.3zM1216.8 1451.9H1260.7V1461.7H1216.8zM1337.5 1451.9H1348.5V1461.7H1337.5zM1929.9 1451.9H1973.7V1461.7H1929.9zM2193.1 1451.9H2259.0V1461.7H2193.1zM2379.6 1451.9H2401.6V1461.7H2379.6zM2423.5 1451.9H2445.4V1461.7H2423.5zM448.9 1461.7H459.9V1471.5H448.9zM657.3 1461.7H668.3V1471.5H657.3zM1216.8 1461.7H1238.8V1471.5H1216.8zM1337.5 1461.7H1359.4V1471.5H1337.5zM1907.9 1461.7H1918.9V1471.5H1907.9zM2182.2 1461.7H2248.0V1471.5H2182.2zM2390.6 1461.7H2434.5V1471.5H2390.6zM481.8 1471.5H492.8V1481.2H481.8zM613.5 1471.5H624.4V1481.2H613.5zM1205.8 1471.5H1238.8V1481.2H1205.8zM1337.5 1471.5H1381.4V1481.2H1337.5zM1699.5 1471.5H1897.0V1481.2H1699.5zM2171.2 1471.5H2193.1V1481.2H2171.2zM2401.6 1471.5H2423.5V1481.2H2401.6zM514.7 1481.2H525.7V1491.0H514.7zM580.5 1481.2H602.5V1491.0H580.5zM1162.0 1481.2H1227.8V1491.0H1162.0zM1326.5 1481.2H1414.3V1491.0H1326.5zM1666.6 1481.2H1699.5V1491.0H1666.6zM2072.5 1481.2H2160.2V1491.0H2072.5zM558.6 1491.0H580.5V1500.8H558.6zM1392.3 1491.0H1425.2V1500.8H1392.3zM1469.1 1491.0H1534.9V1500.8H1469.1zM1644.6 1491.0H1666.6V1500.8H1644.6zM2050.5 1491.0H2083.4V1500.8H2050.5zM1414.3 1500.8H1469.1V1510.6H1414.3zM1545.9 1500.8H1567.9V1510.6H1545.9zM1633.7 1500.8H1655.6V1510.6H1633.7zM2039.6 1500.8H2072.5V1510.6H2039.6zM2226.1 1500.8H2291.9V1510.6H2226.1zM1567.9 1510.6H1611.7V1520.4H1567.9zM1622.7 1510.6H1644.6V1520.4H1622.7zM2039.6 1510.6H2061.5V1520.4H2039.6zM2215.1 1510.6H2237.0V1520.4H2215.1zM2280.9 1510.6H2302.8V1520.4H2280.9zM1600.8 1520.4H1633.7V1530.2H1600.8zM2039.6 1520.4H2050.5V1530.2H2039.6zM2204.1 1520.4H2226.1V1530.2H2204.1zM2291.9 1520.4H2313.8V1530.2H2291.9zM2028.6 1530.2H2050.5V1540.0H2028.6zM2193.1 1530.2H2204.1V1540.0H2193.1zM2302.8 1530.2H2324.8V1540.0H2302.8zM2028.6 1540.0H2050.5V1549.8H2028.6zM2138.3 1540.0H2171.2V1549.8H2138.3zM2324.8 1540.0H2346.7V1549.8H2324.8zM2401.6 1540.0H2423.5V1549.8H2401.6zM2028.6 1549.8H2050.5V1559.5H2028.6zM2127.3 1549.8H2149.3V1559.5H2127.3zM2335.8 1549.8H2357.7V1559.5H2335.8zM2390.6 1549.8H2434.5V1559.5H2390.6zM1918.9 1559.5H2039.6V1569.3H1918.9zM2116.4 1559.5H2138.3V1569.3H2116.4zM2346.7 1559.5H2357.7V1569.3H2346.7zM2379.6 1559.5H2401.6V1569.3H2379.6zM2423.5 1559.5H2445.4V1569.3H2423.5zM1929.9 1569.3H2050.5V1579.1H1929.9zM2105.4 1569.3H2127.3V1579.1H2105.4zM2357.7 1569.3H2368.7V1579.1H2357.7zM2379.6 1569.3H2390.6V1579.1H2379.6zM2434.5 1569.3H2445.4V1579.1H2434.5zM2028.6 1579.1H2083.4V1588.9H2028.6zM2357.7 1579.1H2379.6V1588.9H2357.7zM2445.4 1579.1H2489.3V1588.9H2445.4zM2456.4 1588.9H2610.0V1598.7H2456.4zM2489.3 1598.7H2610.0V1608.5H2489.3zM2588.1 1716.1H2610.0V1725.9H2588.1zM2588.1 1725.9H2610.0V1735.7H2588.1zM2577.1 1784.6H2610.0V1794.4H2577.1zM2566.1 1794.4H2577.1V1804.2H2566.1zM2555.2 1804.2H2577.1V1814.0H2555.2zM2555.2 1814.0H2566.1V1823.8H2555.2zM2544.2 1823.8H2566.1V1833.6H2544.2zM2544.2 1833.6H2555.2V1843.4H2544.2zM2544.2 1843.4H2555.2V1853.2H2544.2zM2544.2 1853.2H2566.1V1863.0H2544.2zM2555.2 1863.0H2566.1V1872.7H2555.2zM2555.2 1872.7H2577.1V1882.5H2555.2zM2566.1 1882.5H2577.1V1892.3H2566.1zM2566.1 1892.3H2577.1V1902.1H2566.1zM2566.1 1902.1H2577.1V1911.9H2566.1zM2566.1 1911.9H2577.1V1921.7H2566.1zM2555.2 1921.7H2577.1V1931.5H2555.2zM2555.2 1931.5H2577.1V1941.2H2555.2zM2555.2 1941.2H2577.1V1951.0H2555.2zM2544.2 1951.0H2566.1V1960.8H2544.2zM2533.2 1960.8H2566.1V1970.6H2533.2zM2533.2 1970.6H2566.1V1980.4H2533.2zM2533.2 1980.4H2566.1V1990.2H2533.2zM2533.2 1990.2H2566.1V2000.0H2533.2zM2533.2 2000.0H2566.1V2009.8H2533.2zM2533.2 2009.8H2566.1V2019.5H2533.2zM2533.2 2019.5H2566.1V2029.3H2533.2zM2533.2 2029.3H2566.1V2039.1H2533.2zM2533.2 2039.1H2566.1V2048.9H2533.2zM2522.2 2048.9H2555.2V2058.7H2522.2zM2511.3 2058.7H2544.2V2068.5H2511.3zM2500.3 2068.5H2533.2V2078.3H2500.3zM2489.3 2078.3H2533.2V2088.1H2489.3zM2489.3 2088.1H2555.2V2097.8H2489.3zM2489.3 2097.8H2533.2V2107.6H2489.3zM2544.2 2097.8H2566.1V2107.6H2544.2zM2489.3 2107.6H2511.3V2117.4H2489.3zM2555.2 2107.6H2577.1V2117.4H2555.2zM2489.3 2117.4H2511.3V2127.2H2489.3zM2566.1 2117.4H2577.1V2127.2H2566.1zM2489.3 2127.2H2511.3V2137.0H2489.3zM2566.1 2127.2H2577.1V2137.0H2566.1z"/>
<path fill="#0010ff" d="M2083.4 179.5H2105.4V189.3H2083.4zM2083.4 189.3H2105.4V199.1H2083.4zM2083.4 199.1H2105.4V208.9H2083.4zM2061.5 208.9H2094.4V218.7H2061.5zM2434.5 218.7H2445.4V228.4H2434.5zM2039.6 228.4H2050.5V238.2H2039.6zM2434.5 228.4H2445.4V238.2H2434.5zM2039.6 238.2H2050.5V248.0H2039.6zM2105.4 238.2H2116.4V248.0H2105.4zM2434.5 238.2H2445.4V248.0H2434.5zM2039.6 248.0H2050.5V257.8H2039.6zM2094.4 248.0H2127.3V257.8H2094.4zM2445.4 248.0H2456.4V257.8H2445.4zM2039.6 257.8H2050.5V267.6H2039.6zM2116.4 257.8H2127.3V267.6H2116.4zM2445.4 257.8H2456.4V267.6H2445.4zM2039.6 267.6H2050.5V277.4H2039.6zM2083.4 267.6H2094.4V277.4H2083.4zM2116.4 267.6H2127.3V277.4H2116.4zM2039.6 277.4H2050.5V287.2H2039.6zM2083.4 277.4H2094.4V287.2H2083.4zM2116.4 277.4H2127.3V287.2H2116.4zM2456.4 277.4H2467.4V287.2H2456.4zM2072.5 287.2H2083.4V296.9H2072.5zM2127.3 287.2H2138.3V296.9H2127.3zM2456.4 287.2H2467.4V296.9H2456.4zM2061.5 296.9H2072.5V306.7H2061.5zM2138.3 296.9H2160.2V306.7H2138.3zM2456.4 296.9H2467.4V306.7H2456.4zM2160.2 306.7H2182.2V316.5H2160.2zM2456.4 306.7H2467.4V316.5H2456.4zM2171.2 316.5H2193.1V326.3H2171.2zM2456.4 316.5H2467.4V326.3H2456.4zM2171.2 326.3H2193.1V336.1H2171.2zM2456.4 326.3H2467.4V336.1H2456.4zM2171.2 336.1H2193.1V345.9H2171.2zM2456.4 336.1H2467.4V345.9H2456.4zM1962.8 345.9H1984.7V355.7H1962.8zM2171.2 345.9H2193.1V355.7H2171.2zM2456.4 345.9H2467.4V355.7H2456.4zM1995.7 355.7H2006.7V365.5H1995.7zM2182.2 355.7H2226.1V365.5H2182.2zM2445.4 355.7H2456.4V365.5H2445.4zM2039.6 365.5H2050.5V375.2H2039.6zM2193.1 365.5H2237.0V375.2H2193.1zM2423.5 365.5H2445.4V375.2H2423.5zM2061.5 375.2H2072.5V385.0H2061.5zM2204.1 375.2H2237.0V385.0H2204.1zM2401.6 375.2H2423.5V385.0H2401.6zM2072.5 385.0H2083.4V394.8H2072.5zM2215.1 385.0H2237.0V394.8H2215.1zM2379.6 385.0H2401.6V394.8H2379.6zM1918.9 394.8H1929.9V404.6H1918.9zM2072.5 394.8H2083.4V404.6H2072.5zM2226.1 394.8H2237.0V404.6H2226.1zM2368.7 394.8H2390.6V404.6H2368.7zM1918.9 404.6H1929.9V414.4H1918.9zM2072.5 404.6H2083.4V414.4H2072.5zM2237.0 404.6H2248.0V414.4H2237.0zM2368.7 404.6H2390.6V414.4H2368.7zM2237.0 414.4H2248.0V424.2H2237.0zM2368.7 414.4H2390.6V424.2H2368.7zM2061.5 424.2H2072.5V434.0H2061.5zM2368.7 424.2H2390.6V434.0H2368.7zM2061.5 434.0H2072.5V443.8H2061.5zM2248.0 434.0H2259.0V443.8H2248.0zM2379.6 434.0H2390.6V443.8H2379.6zM1918.9 443.8H1929.9V453.6H1918.9zM2061.5 443.8H2072.5V453.6H2061.5zM2379.6 443.8H2390.6V453.6H2379.6zM1929.9 453.6H1984.7V463.3H1929.9zM2061.5 453.6H2072.5V463.3H2061.5zM2269.9 453.6H2280.9V463.3H2269.9zM2390.6 453.6H2401.6V463.3H2390.6zM1995.7 463.3H2006.7V473.1H1995.7zM2061.5 463.3H2072.5V473.1H2061.5zM2390.6 463.3H2401.6V473.1H2390.6zM2006.7 473.1H2028.6V482.9H2006.7zM2061.5 473.1H2072.5V482.9H2061.5zM2390.6 473.1H2401.6V482.9H2390.6zM2017.6 482.9H2039.6V492.7H2017.6zM2083.4 482.9H2105.4V492.7H2083.4zM2379.6 482.9H2390.6V492.7H2379.6zM2028.6 492.7H2039.6V502.5H2028.6zM2127.3 492.7H2138.3V502.5H2127.3zM2324.8 492.7H2335.8V502.5H2324.8zM2379.6 492.7H2390.6V502.5H2379.6zM2028.6 502.5H2039.6V512.3H2028.6zM2346.7 502.5H2357.7V512.3H2346.7zM2368.7 502.5H2379.6V512.3H2368.7zM2028.6 512.3H2039.6V522.1H2028.6zM2149.3 512.3H2160.2V522.1H2149.3zM2028.6 522.1H2039.6V531.8H2028.6zM2149.3 522.1H2160.2V531.8H2149.3zM2039.6 531.8H2050.5V541.6H2039.6zM2149.3 531.8H2160.2V541.6H2149.3zM2039.6 541.6H2050.5V551.4H2039.6zM2149.3 541.6H2160.2V551.4H2149.3zM2050.5 551.4H2061.5V561.2H2050.5zM2061.5 561.2H2072.5V571.0H2061.5zM2127.3 561.2H2138.3V571.0H2127.3zM2072.5 571.0H2094.4V580.8H2072.5zM2105.4 571.0H2127.3V580.8H2105.4zM2390.6 1256.1H2423.5V1265.9H2390.6zM2379.6 1265.9H2423.5V1275.7H2379.6zM2368.7 1275.7H2423.5V1285.5H2368.7zM2357.7 1285.5H2401.6V1295.3H2357.7zM2412.5 1285.5H2423.5V1295.3H2412.5zM2346.7 1295.3H2368.7V1305.1H2346.7zM2412.5 1295.3H2423.5V1305.1H2412.5zM2346.7 1305.1H2368.7V1314.8H2346.7zM2412.5 1305.1H2423.5V1314.8H2412.5zM2346.7 1314.8H2368.7V1324.6H2346.7zM2412.5 1314.8H2423.5V1324.6H2412.5zM2182.2 1324.6H2204.1V1334.4H2182.2zM2346.7 1324.6H2368.7V1334.4H2346.7zM2412.5 1324.6H2423.5V1334.4H2412.5zM2171.2 1334.4H2204.1V1344.2H2171.2zM2346.7 1334.4H2390.6V1344.2H2346.7zM2412.5 1334.4H2434.5V1344.2H2412.5zM2182.2 1344.2H2204.1V1354.0H2182.2zM2346.7 1344.2H2401.6V1354.0H2346.7zM2412.5 1344.2H2434.5V1354.0H2412.5zM975.5 1354.0H986.4V1363.8H975.5zM1074.2 1354.0H1085.2V1363.8H1074.2zM2182.2 1354.0H2204.1V1363.8H2182.2zM2280.9 1354.0H2434.5V1363.8H2280.9zM1524.0 1363.8H1545.9V1373.6H1524.0zM1600.8 1363.8H1611.7V1373.6H1600.8zM2269.9 1363.8H2434.5V1373.6H2269.9zM964.5 1373.6H975.5V1383.4H964.5zM1524.0 1373.6H1534.9V1383.4H1524.0zM1611.7 1373.6H1622.7V1383.4H1611.7zM2149.3 1373.6H2182.2V1383.4H2149.3zM2259.0 1373.6H2280.9V1383.4H2259.0zM2324.8 1373.6H2357.7V1383.4H2324.8zM2379.6 1373.6H2434.5V1383.4H2379.6zM953.5 1383.4H964.5V1393.1H953.5zM1140.0 1383.4H1205.8V1393.1H1140.0zM1534.9 1383.4H1545.9V1393.1H1534.9zM1600.8 1383.4H1611.7V1393.1H1600.8zM2127.3 1383.4H2149.3V1393.1H2127.3zM2160.2 1383.4H2204.1V1393.1H2160.2zM2259.0 1383.4H2280.9V1393.1H2259.0zM2324.8 1383.4H2357.7V1393.1H2324.8zM2379.6 1383.4H2423.5V1393.1H2379.6zM942.6 1393.1H953.5V1402.9H942.6zM1085.2 1393.1H1096.1V1402.9H1085.2zM1118.1 1393.1H1140.0V1402.9H1118.1zM1216.8 1393.1H1227.8V1402.9H1216.8zM1545.9 1393.1H1556.9V1402.9H1545.9zM1600.8 1393.1H1611.7V1402.9H1600.8zM2083.4 1393.1H2116.4V1402.9H2083.4zM2182.2 1393.1H2215.1V1402.9H2182.2zM2259.0 1393.1H2280.9V1402.9H2259.0zM2324.8 1393.1H2357.7V1402.9H2324.8zM2390.6 1393.1H2423.5V1402.9H2390.6zM920.6 1402.9H931.6V1412.7H920.6zM1085.2 1402.9H1096.1V1412.7H1085.2zM1107.1 1402.9H1118.1V1412.7H1107.1zM1545.9 1402.9H1556.9V1412.7H1545.9zM1600.8 1402.9H1611.7V1412.7H1600.8zM2039.6 1402.9H2072.5V1412.7H2039.6zM2193.1 1402.9H2226.1V1412.7H2193.1zM2248.0 1402.9H2280.9V1412.7H2248.0zM2324.8 1402.9H2357.7V1412.7H2324.8zM887.7 1412.7H909.7V1422.5H887.7zM1085.2 1412.7H1118.1V1422.5H1085.2zM1238.8 1412.7H1249.7V1422.5H1238.8zM1315.5 1412.7H1326.5V1422.5H1315.5zM1556.9 1412.7H1567.9V1422.5H1556.9zM1589.8 1412.7H1600.8V1422.5H1589.8zM2017.6 1412.7H2039.6V1422.5H2017.6zM2193.1 1412.7H2226.1V1422.5H2193.1zM2248.0 1412.7H2357.7V1422.5H2248.0zM854.8 1422.5H876.7V1432.3H854.8zM1096.1 1422.5H1107.1V1432.3H1096.1zM1238.8 1422.5H1249.7V1432.3H1238.8zM1304.6 1422.5H1337.5V1432.3H1304.6zM2006.7 1422.5H2017.6V1432.3H2006.7zM2193.1 1422.5H2226.1V1432.3H2193.1zM2269.9 1422.5H2324.8V1432.3H2269.9zM2401.6 1422.5H2423.5V1432.3H2401.6zM723.2 1432.3H756.1V1442.1H723.2zM843.8 1432.3H854.8V1442.1H843.8zM1216.8 1432.3H1238.8V1442.1H1216.8zM1293.6 1432.3H1304.6V1442.1H1293.6zM1326.5 1432.3H1337.5V1442.1H1326.5zM1995.7 1432.3H2006.7V1442.1H1995.7zM2182.2 1432.3H2215.1V1442.1H2182.2zM2401.6 1432.3H2423.5V1442.1H2401.6zM778.0 1442.1H832.9V1451.9H778.0zM1205.8 1442.1H1227.8V1451.9H1205.8zM1282.6 1442.1H1293.6V1451.9H1282.6zM1326.5 1442.1H1337.5V1451.9H1326.5zM1984.7 1442.1H1995.7V1451.9H1984.7zM2182.2 1442.1H2193.1V1451.9H2182.2zM2390.6 1442.1H2434.5V1451.9H2390.6zM1183.9 1451.9H1216.8V1461.7H1183.9zM1260.7 1451.9H1293.6V1461.7H1260.7zM1326.5 1451.9H1337.5V1461.7H1326.5zM1973.7 1451.9H1984.7V1461.7H1973.7zM2182.2 1451.9H2193.1V1461.7H2182.2zM2401.6 1451.9H2423.5V1461.7H2401.6zM416.0 1461.7H448.9V1471.5H416.0zM1162.0 1461.7H1216.8V1471.5H1162.0zM1238.8 1461.7H1282.6V1471.5H1238.8zM1326.5 1461.7H1337.5V1471.5H1326.5zM1918.9 1461.7H1973.7V1471.5H1918.9zM2171.2 1461.7H2182.2V1471.5H2171.2zM459.9 1471.5H481.8V1481.2H459.9zM624.4 1471.5H646.4V1481.2H624.4zM1140.0 1471.5H1205.8V1481.2H1140.0zM1238.8 1471.5H1260.7V1481.2H1238.8zM1304.6 1471.5H1337.5V1481.2H1304.6zM1897.0 1471.5H1918.9V1481.2H1897.0zM2105.4 1471.5H2171.2V1481.2H2105.4zM503.8 1481.2H514.7V1491.0H503.8zM602.5 1481.2H613.5V1491.0H602.5zM1129.1 1481.2H1162.0V1491.0H1129.1zM1227.8 1481.2H1249.7V1491.0H1227.8zM1293.6 1481.2H1326.5V1491.0H1293.6zM1699.5 1481.2H1897.0V1491.0H1699.5zM2039.6 1481.2H2072.5V1491.0H2039.6zM525.7 1491.0H558.6V1500.8H525.7zM1140.0 1491.0H1238.8V1500.8H1140.0zM1304.6 1491.0H1392.3V1500.8H1304.6zM1666.6 1491.0H1688.5V1500.8H1666.6zM2017.6 1491.0H2050.5V1500.8H2017.6zM1381.4 1500.8H1414.3V1510.6H1381.4zM1469.1 1500.8H1545.9V1510.6H1469.1zM1655.6 1500.8H1677.6V1510.6H1655.6zM2017.6 1500.8H2039.6V1510.6H2017.6zM1392.3 1510.6H1469.1V1520.4H1392.3zM1545.9 1510.6H1567.9V1520.4H1545.9zM1644.6 1510.6H1655.6V1520.4H1644.6zM2017.6 1510.6H2039.6V1520.4H2017.6zM2237.0 1510.6H2280.9V1520.4H2237.0zM1567.9 1520.4H1600.8V1530.2H1567.9zM1633.7 1520.4H1644.6V1530.2H1633.7zM2017.6 1520.4H2039.6V1530.2H2017.6zM2226.1 1520.4H2291.9V1530.2H2226.1zM1578.8 1530.2H1633.7V1540.0H1578.8zM2017.6 1530.2H2028.6V1540.0H2017.6zM2204.1 1530.2H2226.1V1540.0H2204.1zM2280.9 1530.2H2302.8V1540.0H2280.9zM1589.8 1540.0H1622.7V1549.8H1589.8zM2006.7 1540.0H2028.6V1549.8H2006.7zM2171.2 1540.0H2204.1V1549.8H2171.2zM2280.9 1540.0H2324.8V1549.8H2280.9zM1918.9 1549.8H2028.6V1559.5H1918.9zM2149.3 1549.8H2171.2V1559.5H2149.3zM2302.8 1549.8H2335.8V1559.5H2302.8zM1907.9 1559.5H1918.9V1569.3H1907.9zM2138.3 1559.5H2149.3V1569.3H2138.3zM2335.8 1559.5H2346.7V1569.3H2335.8zM2401.6 1559.5H2423.5V1569.3H2401.6zM1907.9 1569.3H1929.9V1579.1H1907.9zM2127.3 1569.3H2149.3V1579.1H2127.3zM2346.7 1569.3H2357.7V1579.1H2346.7zM2390.6 1569.3H2434.5V1579.1H2390.6zM1973.7 1579.1H2028.6V1588.9H1973.7zM2083.4 1579.1H2138.3V1588.9H2083.4zM2346.7 1579.1H2357.7V1588.9H2346.7zM2379.6 1579.1H2445.4V1588.9H2379.6zM2006.7 1588.9H2083.4V1598.7H2006.7zM2357.7 1588.9H2456.4V1598.7H2357.7zM2017.6 1598.7H2061.5V1608.5H2017.6zM2368.7 1598.7H2401.6V1608.5H2368.7zM2423.5 1598.7H2489.3V1608.5H2423.5zM2467.4 1608.5H2610.0V1618.3H2467.4zM2489.3 1618.3H2610.0V1628.0H2489.3zM2588.1 1686.8H2610.0V1696.6H2588.1zM2577.1 1696.6H2610.0V1706.3H2577.1zM2566.1 1706.3H2610.0V1716.1H2566.1zM2555.2 1716.1H2588.1V1725.9H2555.2zM2544.2 1725.9H2588.1V1735.7H2544.2zM2544.2 1735.7H2610.0V1745.5H2544.2zM2555.2 1745.5H2610.0V1755.3H2555.2zM2566.1 1755.3H2610.0V1765.1H2566.1zM2555.2 1765.1H2610.0V1774.9H2555.2zM2544.2 1774.9H2610.0V1784.6H2544.2zM2544.2 1784.6H2577.1V1794.4H2544.2zM2544.2 1794.4H2566.1V1804.2H2544.2zM2544.2 1804.2H2555.2V1814.0H2544.2zM2544.2 1814.0H2555.2V1823.8H2544.2zM2533.2 1823.8H2544.2V1833.6H2533.2zM2533.2 1833.6H2544.2V1843.4H2533.2zM2533.2 1843.4H2544.2V1853.2H2533.2zM2533.2 1853.2H2544.2V1863.0H2533.2zM2544.2 1863.0H2555.2V1872.7H2544.2zM2544.2 1872.7H2555.2V1882.5H2544.2zM2544.2 1882.5H2566.1V1892.3H2544.2zM2544.2 1892.3H2566.1V1902.1H2544.2zM2544.2 1902.1H2566.1V1911.9H2544.2zM2544.2 1911.9H2566.1V1921.7H2544.2zM2522.2 1921.7H2555.2V1931.5H2522.2zM2511.3 1931.5H2555.2V1941.2H2511.3zM2500.3 1941.2H2555.2V1951.0H2500.3zM2500.3 1951.0H2544.2V1960.8H2500.3zM2500.3 1960.8H2533.2V1970.6H2500.3zM2500.3 1970.6H2533.2V1980.4H2500.3zM2500.3 1980.4H2533.2V1990.2H2500.3zM2500.3 1990.2H2533.2V2000.0H2500.3zM2500.3 2000.0H2533.2V2009.8H2500.3zM2500.3 2009.8H2533.2V2019.5H2500.3zM2500.3 2019.5H2533.2V2029.3H2500.3zM2500.3 2029.3H2533.2V2039.1H2500.3zM2478.4 2039.1H2533.2V2048.9H2478.4zM2467.4 2048.9H2522.2V2058.7H2467.4zM2456.4 2058.7H2511.3V2068.5H2456.4zM2456.4 2068.5H2500.3V2078.3H2456.4zM2456.4 2078.3H2489.3V2088.1H2456.4zM2456.4 2088.1H2489.3V2097.8H2456.4zM2456.4 2097.8H2489.3V2107.6H2456.4zM2533.2 2097.8H2544.2V2107.6H2533.2zM2456.4 2107.6H2489.3V2117.4H2456.4zM2511.3 2107.6H2555.2V2117.4H2511.3zM2456.4 2117.4H2489.3V2127.2H2456.4zM2511.3 2117.4H2566.1V2127.2H2511.3zM2456.4 2127.2H2489.3V2137.0H2456.4zM2511.3 2127.2H2566.1V2137.0H2511.3z"/>
<path fill="#0020ff" d="M2105.4 179.5H2160.2V189.3H2105.4zM2434.5 179.5H2445.4V189.3H2434.5zM2105.4 189.3H2160.2V199.1H2105.4zM2434.5 189.3H2445.4V199.1H2434.5zM2105.4 199.1H2160.2V208.9H2105.4zM2434.5 199.1H2445.4V208.9H2434.5zM2094.4 208.9H2160.2V218.7H2094.4zM2434.5 208.9H2445.4V218.7H2434.5zM2050.5 218.7H2160.2V228.4H2050.5zM2083.4 228.4H2160.2V238.2H2083.4zM2083.4 238.2H2105.4V248.0H2083.4zM2116.4 238.2H2149.3V248.0H2116.4zM2083.4 248.0H2094.4V257.8H2083.4zM2127.3 248.0H2149.3V257.8H2127.3zM2434.5 248.0H2445.4V257.8H2434.5zM2083.4 257.8H2094.4V267.6H2083.4zM2127.3 257.8H2138.3V267.6H2127.3zM2072.5 267.6H2083.4V277.4H2072.5zM2127.3 267.6H2138.3V277.4H2127.3zM2445.4 267.6H2456.4V277.4H2445.4zM2072.5 277.4H2083.4V287.2H2072.5zM2127.3 277.4H2138.3V287.2H2127.3zM2445.4 277.4H2456.4V287.2H2445.4zM2050.5 287.2H2072.5V296.9H2050.5zM2138.3 287.2H2149.3V296.9H2138.3zM2445.4 287.2H2456.4V296.9H2445.4zM2160.2 296.9H2171.2V306.7H2160.2zM2445.4 296.9H2456.4V306.7H2445.4zM2182.2 306.7H2193.1V316.5H2182.2zM2445.4 306.7H2456.4V316.5H2445.4zM2193.1 316.5H2204.1V326.3H2193.1zM2445.4 316.5H2456.4V326.3H2445.4zM2193.1 326.3H2215.1V336.1H2193.1zM2445.4 326.3H2456.4V336.1H2445.4zM2193.1 336.1H2226.1V345.9H2193.1zM2445.4 336.1H2456.4V345.9H2445.4zM2193.1 345.9H2237.0V355.7H2193.1zM2445.4 345.9H2456.4V355.7H2445.4zM1962.8 355.7H1995.7V365.5H1962.8zM2226.1 355.7H2248.0V365.5H2226.1zM2434.5 355.7H2445.4V365.5H2434.5zM1951.8 365.5H1962.8V375.2H1951.8zM2028.6 365.5H2039.6V375.2H2028.6zM2237.0 365.5H2248.0V375.2H2237.0zM2412.5 365.5H2423.5V375.2H2412.5zM1940.8 375.2H1951.8V385.0H1940.8zM2050.5 375.2H2061.5V385.0H2050.5zM2237.0 375.2H2248.0V385.0H2237.0zM2390.6 375.2H2401.6V385.0H2390.6zM1929.9 385.0H1940.8V394.8H1929.9zM2061.5 385.0H2072.5V394.8H2061.5zM2237.0 385.0H2248.0V394.8H2237.0zM2368.7 385.0H2379.6V394.8H2368.7zM2237.0 394.8H2248.0V404.6H2237.0zM2357.7 394.8H2368.7V404.6H2357.7zM2061.5 404.6H2072.5V414.4H2061.5zM2248.0 404.6H2259.0V414.4H2248.0zM2357.7 404.6H2368.7V414.4H2357.7zM1918.9 414.4H1929.9V424.2H1918.9zM2061.5 414.4H2072.5V424.2H2061.5zM2248.0 414.4H2259.0V424.2H2248.0zM2357.7 414.4H2368.7V424.2H2357.7zM2050.5 424.2H2061.5V434.0H2050.5zM2248.0 424.2H2259.0V434.0H2248.0zM2357.7 424.2H2368.7V434.0H2357.7zM1918.9 434.0H1929.9V443.8H1918.9zM2050.5 434.0H2061.5V443.8H2050.5zM2357.7 434.0H2379.6V443.8H2357.7zM1929.9 443.8H1984.7V453.6H1929.9zM2039.6 443.8H2061.5V453.6H2039.6zM2259.0 443.8H2269.9V453.6H2259.0zM2368.7 443.8H2379.6V453.6H2368.7zM1984.7 453.6H2017.6V463.3H1984.7zM2028.6 453.6H2061.5V463.3H2028.6zM2280.9 453.6H2291.9V463.3H2280.9zM2379.6 453.6H2390.6V463.3H2379.6zM2006.7 463.3H2061.5V473.1H2006.7zM2291.9 463.3H2302.8V473.1H2291.9zM2379.6 463.3H2390.6V473.1H2379.6zM2028.6 473.1H2061.5V482.9H2028.6zM2302.8 473.1H2313.8V482.9H2302.8zM2379.6 473.1H2390.6V482.9H2379.6zM2039.6 482.9H2083.4V492.7H2039.6zM2313.8 482.9H2335.8V492.7H2313.8zM2039.6 492.7H2050.5V502.5H2039.6zM2116.4 492.7H2127.3V502.5H2116.4zM2335.8 492.7H2379.6V502.5H2335.8zM2039.6 502.5H2050.5V512.3H2039.6zM2138.3 502.5H2149.3V512.3H2138.3zM2357.7 502.5H2368.7V512.3H2357.7zM2039.6 512.3H2050.5V522.1H2039.6zM2138.3 512.3H2149.3V522.1H2138.3zM2039.6 522.1H2050.5V531.8H2039.6zM2138.3 522.1H2149.3V531.8H2138.3zM2050.5 531.8H2061.5V541.6H2050.5zM2138.3 531.8H2149.3V541.6H2138.3zM2050.5 541.6H2061.5V551.4H2050.5zM2138.3 541.6H2149.3V551.4H2138.3zM2061.5 551.4H2072.5V561.2H2061.5zM2138.3 551.4H2149.3V561.2H2138.3zM2072.5 561.2H2083.4V571.0H2072.5zM2116.4 561.2H2127.3V571.0H2116.4zM2094.4 571.0H2105.4V580.8H2094.4zM2401.6 1285.5H2412.5V1295.3H2401.6zM2368.7 1295.3H2412.5V1305.1H2368.7zM2368.7 1305.1H2412.5V1314.8H2368.7zM2368.7 1314.8H2412.5V1324.6H2368.7zM997.4 1324.6H1008.4V1334.4H997.4zM1052.3 1324.6H1063.2V1334.4H1052.3zM2368.7 1324.6H2412.5V1334.4H2368.7zM986.4 1334.4H997.4V1344.2H986.4zM1063.2 1334.4H1074.2V1344.2H1063.2zM2390.6 1334.4H2412.5V1344.2H2390.6zM986.4 1344.2H997.4V1354.0H986.4zM2401.6 1344.2H2412.5V1354.0H2401.6zM975.5 1363.8H986.4V1373.6H975.5zM1074.2 1363.8H1085.2V1373.6H1074.2zM1545.9 1363.8H1567.9V1373.6H1545.9zM1589.8 1363.8H1600.8V1373.6H1589.8zM1534.9 1373.6H1556.9V1383.4H1534.9zM1600.8 1373.6H1611.7V1383.4H1600.8zM2280.9 1373.6H2324.8V1383.4H2280.9zM964.5 1383.4H975.5V1393.1H964.5zM1545.9 1383.4H1556.9V1393.1H1545.9zM1589.8 1383.4H1600.8V1393.1H1589.8zM2149.3 1383.4H2160.2V1393.1H2149.3zM2280.9 1383.4H2324.8V1393.1H2280.9zM953.5 1393.1H964.5V1402.9H953.5zM1140.0 1393.1H1162.0V1402.9H1140.0zM1194.9 1393.1H1216.8V1402.9H1194.9zM1556.9 1393.1H1567.9V1402.9H1556.9zM1589.8 1393.1H1600.8V1402.9H1589.8zM2116.4 1393.1H2138.3V1402.9H2116.4zM2160.2 1393.1H2182.2V1402.9H2160.2zM2280.9 1393.1H2324.8V1402.9H2280.9zM931.6 1402.9H942.6V1412.7H931.6zM1118.1 1402.9H1140.0V1412.7H1118.1zM1227.8 1402.9H1238.8V1412.7H1227.8zM1556.9 1402.9H1567.9V1412.7H1556.9zM1589.8 1402.9H1600.8V1412.7H1589.8zM2072.5 1402.9H2116.4V1412.7H2072.5zM2171.2 1402.9H2193.1V1412.7H2171.2zM2280.9 1402.9H2324.8V1412.7H2280.9zM909.7 1412.7H931.6V1422.5H909.7zM1118.1 1412.7H1129.1V1422.5H1118.1zM1227.8 1412.7H1238.8V1422.5H1227.8zM1567.9 1412.7H1589.8V1422.5H1567.9zM2039.6 1412.7H2072.5V1422.5H2039.6zM2182.2 1412.7H2193.1V1422.5H2182.2zM876.7 1422.5H909.7V1432.3H876.7zM1085.2 1422.5H1096.1V1432.3H1085.2zM1107.1 1422.5H1129.1V1432.3H1107.1zM1216.8 1422.5H1238.8V1432.3H1216.8zM2017.6 1422.5H2039.6V1432.3H2017.6zM2182.2 1422.5H2193.1V1432.3H2182.2zM854.8 1432.3H865.8V1442.1H854.8zM1085.2 1432.3H1118.1V1442.1H1085.2zM1194.9 1432.3H1216.8V1442.1H1194.9zM1304.6 1432.3H1326.5V1442.1H1304.6zM2006.7 1432.3H2017.6V1442.1H2006.7zM2171.2 1432.3H2182.2V1442.1H2171.2zM690.2 1442.1H701.2V1451.9H690.2zM756.1 1442.1H778.0V1451.9H756.1zM832.9 1442.1H843.8V1451.9H832.9zM953.5 1442.1H1019.4V1451.9H953.5zM1162.0 1442.1H1205.8V1451.9H1162.0zM1293.6 1442.1H1326.5V1451.9H1293.6zM1995.7 1442.1H2006.7V1451.9H1995.7zM2171.2 1442.1H2182.2V1451.9H2171.2zM679.3 1451.9H690.2V1461.7H679.3zM789.0 1451.9H810.9V1461.7H789.0zM964.5 1451.9H1008.4V1461.7H964.5zM1140.0 1451.9H1183.9V1461.7H1140.0zM1293.6 1451.9H1326.5V1461.7H1293.6zM1984.7 1451.9H1995.7V1461.7H1984.7zM2171.2 1451.9H2182.2V1461.7H2171.2zM668.3 1461.7H679.3V1471.5H668.3zM1129.1 1461.7H1162.0V1471.5H1129.1zM1282.6 1461.7H1326.5V1471.5H1282.6zM1973.7 1461.7H1995.7V1471.5H1973.7zM2160.2 1461.7H2171.2V1471.5H2160.2zM448.9 1471.5H459.9V1481.2H448.9zM646.4 1471.5H657.3V1481.2H646.4zM1129.1 1471.5H1140.0V1481.2H1129.1zM1260.7 1471.5H1304.6V1481.2H1260.7zM1918.9 1471.5H2006.7V1481.2H1918.9zM2039.6 1471.5H2105.4V1481.2H2039.6zM492.8 1481.2H503.8V1491.0H492.8zM613.5 1481.2H624.4V1491.0H613.5zM1118.1 1481.2H1129.1V1491.0H1118.1zM1249.7 1481.2H1293.6V1491.0H1249.7zM1897.0 1481.2H1907.9V1491.0H1897.0zM1984.7 1481.2H2039.6V1491.0H1984.7zM514.7 1491.0H525.7V1500.8H514.7zM580.5 1491.0H591.5V1500.8H580.5zM1129.1 1491.0H1140.0V1500.8H1129.1zM1238.8 1491.0H1260.7V1500.8H1238.8zM1282.6 1491.0H1304.6V1500.8H1282.6zM1688.5 1491.0H1864.0V1500.8H1688.5zM1995.7 1491.0H2017.6V1500.8H1995.7zM558.6 1500.8H569.6V1510.6H558.6zM1140.0 1500.8H1227.8V1510.6H1140.0zM1315.5 1500.8H1381.4V1510.6H1315.5zM1677.6 1500.8H1699.5V1510.6H1677.6zM1995.7 1500.8H2017.6V1510.6H1995.7zM1381.4 1510.6H1392.3V1520.4H1381.4zM1469.1 1510.6H1545.9V1520.4H1469.1zM1655.6 1510.6H1677.6V1520.4H1655.6zM1995.7 1510.6H2017.6V1520.4H1995.7zM1392.3 1520.4H1469.1V1530.2H1392.3zM1556.9 1520.4H1567.9V1530.2H1556.9zM1644.6 1520.4H1666.6V1530.2H1644.6zM2006.7 1520.4H2017.6V1530.2H2006.7zM1567.9 1530.2H1578.8V1540.0H1567.9zM1633.7 1530.2H1655.6V1540.0H1633.7zM1995.7 1530.2H2017.6V1540.0H1995.7zM2226.1 1530.2H2280.9V1540.0H2226.1zM1556.9 1540.0H1589.8V1549.8H1556.9zM1622.7 1540.0H1644.6V1549.8H1622.7zM1929.9 1540.0H2006.7V1549.8H1929.9zM2204.1 1540.0H2226.1V1549.8H2204.1zM2259.0 1540.0H2280.9V1549.8H2259.0zM1556.9 1549.8H1633.7V1559.5H1556.9zM2171.2 1549.8H2193.1V1559.5H2171.2zM2269.9 1549.8H2302.8V1559.5H2269.9zM1556.9 1559.5H1611.7V1569.3H1556.9zM1897.0 1559.5H1907.9V1569.3H1897.0zM2149.3 1559.5H2171.2V1569.3H2149.3zM2269.9 1559.5H2335.8V1569.3H2269.9zM1556.9 1569.3H1589.8V1579.1H1556.9zM1897.0 1569.3H1907.9V1579.1H1897.0zM2149.3 1569.3H2160.2V1579.1H2149.3zM2269.9 1569.3H2302.8V1579.1H2269.9zM2335.8 1569.3H2346.7V1579.1H2335.8zM1929.9 1579.1H1973.7V1588.9H1929.9zM2138.3 1579.1H2160.2V1588.9H2138.3zM2335.8 1579.1H2346.7V1588.9H2335.8zM1984.7 1588.9H2006.7V1598.7H1984.7zM2083.4 1588.9H2160.2V1598.7H2083.4zM2346.7 1588.9H2357.7V1598.7H2346.7zM2006.7 1598.7H2017.6V1608.5H2006.7zM2061.5 1598.7H2083.4V1608.5H2061.5zM2127.3 1598.7H2160.2V1608.5H2127.3zM2346.7 1598.7H2368.7V1608.5H2346.7zM2401.6 1598.7H2423.5V1608.5H2401.6zM2006.7 1608.5H2061.5V1618.3H2006.7zM2138.3 1608.5H2160.2V1618.3H2138.3zM2357.7 1608.5H2467.4V1618.3H2357.7zM2017.6 1618.3H2028.6V1628.0H2017.6zM2357.7 1618.3H2445.4V1628.0H2357.7zM2456.4 1618.3H2489.3V1628.0H2456.4zM2357.7 1628.0H2412.5V1637.8H2357.7zM2478.4 1628.0H2610.0V1637.8H2478.4zM2302.8 1637.8H2357.7V1647.6H2302.8zM2302.8 1647.6H2346.7V1657.4H2302.8zM2313.8 1657.4H2335.8V1667.2H2313.8zM2588.1 1657.4H2610.0V1667.2H2588.1zM2566.1 1667.2H2610.0V1677.0H2566.1zM2566.1 1677.0H2610.0V1686.8H2566.1zM2555.2 1686.8H2588.1V1696.6H2555.2zM2544.2 1696.6H2577.1V1706.3H2544.2zM2533.2 1706.3H2566.1V1716.1H2533.2zM2522.2 1716.1H2555.2V1725.9H2522.2zM2522.2 1725.9H2544.2V1735.7H2522.2zM2522.2 1735.7H2544.2V1745.5H2522.2zM2522.2 1745.5H2555.2V1755.3H2522.2zM2533.2 1755.3H2566.1V1765.1H2533.2zM2533.2 1765.1H2555.2V1774.9H2533.2zM2533.2 1774.9H2544.2V1784.6H2533.2zM2533.2 1784.6H2544.2V1794.4H2533.2zM2533.2 1794.4H2544.2V1804.2H2533.2zM2533.2 1804.2H2544.2V1814.0H2533.2zM2533.2 1814.0H2544.2V1823.8H2533.2zM2522.2 1863.0H2544.2V1872.7H2522.2zM2522.2 1872.7H2544.2V1882.5H2522.2zM2511.3 1882.5H2544.2V1892.3H2511.3zM2500.3 1892.3H2544.2V1902.1H2500.3zM2489.3 1902.1H2544.2V1911.9H2489.3zM2489.3 1911.9H2544.2V1921.7H2489.3zM2489.3 1921.7H2522.2V1931.5H2489.3zM2478.4 1931.5H2511.3V1941.2H2478.4zM2467.4 1941.2H2500.3V1951.0H2467.4zM2434.5 1951.0H2500.3V1960.8H2434.5zM2423.5 1960.8H2500.3V1970.6H2423.5zM2423.5 1970.6H2500.3V1980.4H2423.5zM2423.5 1980.4H2500.3V1990.2H2423.5zM2423.5 1990.2H2500.3V2000.0H2423.5zM2423.5 2000.0H2500.3V2009.8H2423.5zM2412.5 2009.8H2500.3V2019.5H2412.5zM2379.6 2019.5H2500.3V2029.3H2379.6zM2357.7 2029.3H2500.3V2039.1H2357.7zM2357.7 2039.1H2478.4V2048.9H2357.7zM2357.7 2048.9H2467.4V2058.7H2357.7zM2357.7 2058.7H2456.4V2068.5H2357.7zM2357.7 2068.5H2456.4V2078.3H2357.7zM2357.7 2078.3H2456.4V2088.1H2357.7zM2346.7 2088.1H2456.4V2097.8H2346.7zM2346.7 2097.8H2456.4V2107.6H2346.7zM646.4 2107.6H668.3V2117.4H646.4zM2346.7 2107.6H2456.4V2117.4H2346.7zM624.4 2117.4H690.2V2127.2H624.4zM2335.8 2117.4H2456.4V2127.2H2335.8zM624.4 2127.2H690.2V2137.0H624.4zM2335.8 2127.2H2456.4V2137.0H2335.8z"/>
<path fill="#0030ff" d="M2423.5 208.9H2434.5V218.7H2423.5zM2423.5 218.7H2434.5V228.4H2423.5zM2050.5 228.4H2083.4V238.2H2050.5zM2423.5 228.4H2434.5V238.2H2423.5zM2050.5 238.2H2061.5V248.0H2050.5zM2072.5 238.2H2083.4V248.0H2072.5zM2149.3 238.2H2160.2V248.0H2149.3zM2423.5 238.2H2434.5V248.0H2423.5zM2050.5 248.0H2061.5V257.8H2050.5zM2072.5 248.0H2083.4V257.8H2072.5zM2149.3 248.0H2160.2V257.8H2149.3zM2423.5 248.0H2434.5V257.8H2423.5zM2050.5 257.8H2061.5V267.6H2050.5zM2072.5 257.8H2083.4V267.6H2072.5zM2138.3 257.8H2149.3V267.6H2138.3zM2434.5 257.8H2445.4V267.6H2434.5zM2050.5 267.6H2061.5V277.4H2050.5zM2138.3 267.6H2149.3V277.4H2138.3zM2434.5 267.6H2445.4V277.4H2434.5zM2050.5 277.4H2072.5V287.2H2050.5zM2138.3 277.4H2149.3V287.2H2138.3zM2149.3 287.2H2171.2V296.9H2149.3zM2171.2 296.9H2193.1V306.7H2171.2zM2193.1 306.7H2215.1V316.5H2193.1zM2204.1 316.5H2226.1V326.3H2204.1zM2215.1 326.3H2237.0V336.1H2215.1zM2434.5 326.3H2445.4V336.1H2434.5zM2226.1 336.1H2248.0V345.9H2226.1zM2434.5 336.1H2445.4V345.9H2434.5zM2237.0 345.9H2248.0V355.7H2237.0zM2434.5 345.9H2445.4V355.7H2434.5zM2412.5 355.7H2434.5V365.5H2412.5zM1962.8 365.5H1973.7V375.2H1962.8zM1984.7 365.5H2028.6V375.2H1984.7zM2248.0 365.5H2259.0V375.2H2248.0zM2390.6 365.5H2412.5V375.2H2390.6zM1951.8 375.2H1962.8V385.0H1951.8zM2039.6 375.2H2050.5V385.0H2039.6zM2248.0 375.2H2259.0V385.0H2248.0zM2368.7 375.2H2390.6V385.0H2368.7zM1940.8 385.0H1951.8V394.8H1940.8zM2248.0 385.0H2259.0V394.8H2248.0zM2346.7 385.0H2368.7V394.8H2346.7zM1929.9 394.8H1940.8V404.6H1929.9zM2061.5 394.8H2072.5V404.6H2061.5zM2248.0 394.8H2269.9V404.6H2248.0zM2335.8 394.8H2357.7V404.6H2335.8zM1929.9 404.6H1940.8V414.4H1929.9zM2335.8 404.6H2357.7V414.4H2335.8zM2050.5 414.4H2061.5V424.2H2050.5zM2335.8 414.4H2357.7V424.2H2335.8zM1918.9 424.2H1929.9V434.0H1918.9zM2039.6 424.2H2050.5V434.0H2039.6zM2335.8 424.2H2357.7V434.0H2335.8zM2028.6 434.0H2050.5V443.8H2028.6zM2259.0 434.0H2269.9V443.8H2259.0zM2335.8 434.0H2357.7V443.8H2335.8zM1984.7 443.8H2039.6V453.6H1984.7zM2269.9 443.8H2280.9V453.6H2269.9zM2346.7 443.8H2368.7V453.6H2346.7zM2017.6 453.6H2028.6V463.3H2017.6zM2291.9 453.6H2313.8V463.3H2291.9zM2357.7 453.6H2379.6V463.3H2357.7zM2302.8 463.3H2313.8V473.1H2302.8zM2368.7 463.3H2379.6V473.1H2368.7zM2313.8 473.1H2324.8V482.9H2313.8zM2368.7 473.1H2379.6V482.9H2368.7zM2335.8 482.9H2379.6V492.7H2335.8zM2050.5 492.7H2116.4V502.5H2050.5zM2050.5 502.5H2061.5V512.3H2050.5zM2127.3 502.5H2138.3V512.3H2127.3zM2050.5 512.3H2061.5V522.1H2050.5zM2050.5 522.1H2061.5V531.8H2050.5zM2061.5 531.8H2072.5V541.6H2061.5zM2061.5 541.6H2072.5V551.4H2061.5zM2072.5 551.4H2083.4V561.2H2072.5zM2127.3 551.4H2138.3V561.2H2127.3zM2083.4 561.2H2094.4V571.0H2083.4zM2105.4 561.2H2116.4V571.0H2105.4zM1008.4 1324.6H1052.3V1334.4H1008.4zM1063.2 1344.2H1074.2V1354.0H1063.2zM986.4 1354.0H997.4V1363.8H986.4zM986.4 1363.8H997.4V1373.6H986.4zM1567.9 1363.8H1589.8V1373.6H1567.9zM975.5 1373.6H986.4V1383.4H975.5zM1074.2 1373.6H1085.2V1383.4H1074.2zM1556.9 1373.6H1567.9V1383.4H1556.9zM1589.8 1373.6H1600.8V1383.4H1589.8zM975.5 1383.4H986.4V1393.1H975.5zM1074.2 1383.4H1085.2V1393.1H1074.2zM1556.9 1383.4H1589.8V1393.1H1556.9zM964.5 1393.1H975.5V1402.9H964.5zM1074.2 1393.1H1085.2V1402.9H1074.2zM1162.0 1393.1H1194.9V1402.9H1162.0zM1567.9 1393.1H1589.8V1402.9H1567.9zM2138.3 1393.1H2160.2V1402.9H2138.3zM942.6 1402.9H964.5V1412.7H942.6zM1074.2 1402.9H1085.2V1412.7H1074.2zM1140.0 1402.9H1162.0V1412.7H1140.0zM1205.8 1402.9H1227.8V1412.7H1205.8zM1567.9 1402.9H1589.8V1412.7H1567.9zM2116.4 1402.9H2138.3V1412.7H2116.4zM2160.2 1402.9H2171.2V1412.7H2160.2zM931.6 1412.7H953.5V1422.5H931.6zM1074.2 1412.7H1085.2V1422.5H1074.2zM1129.1 1412.7H1151.0V1422.5H1129.1zM1216.8 1412.7H1227.8V1422.5H1216.8zM2072.5 1412.7H2116.4V1422.5H2072.5zM2160.2 1412.7H2182.2V1422.5H2160.2zM909.7 1422.5H1008.4V1432.3H909.7zM1074.2 1422.5H1085.2V1432.3H1074.2zM1129.1 1422.5H1162.0V1432.3H1129.1zM1194.9 1422.5H1216.8V1432.3H1194.9zM2039.6 1422.5H2083.4V1432.3H2039.6zM2160.2 1422.5H2182.2V1432.3H2160.2zM865.8 1432.3H876.7V1442.1H865.8zM909.7 1432.3H1019.4V1442.1H909.7zM1074.2 1432.3H1085.2V1442.1H1074.2zM1118.1 1432.3H1194.9V1442.1H1118.1zM2017.6 1432.3H2039.6V1442.1H2017.6zM701.2 1442.1H756.1V1451.9H701.2zM843.8 1442.1H854.8V1451.9H843.8zM931.6 1442.1H953.5V1451.9H931.6zM1019.4 1442.1H1030.3V1451.9H1019.4zM1074.2 1442.1H1162.0V1451.9H1074.2zM2006.7 1442.1H2017.6V1451.9H2006.7zM767.0 1451.9H789.0V1461.7H767.0zM810.9 1451.9H843.8V1461.7H810.9zM942.6 1451.9H964.5V1461.7H942.6zM1008.4 1451.9H1030.3V1461.7H1008.4zM1085.2 1451.9H1140.0V1461.7H1085.2zM1995.7 1451.9H2006.7V1461.7H1995.7zM2160.2 1451.9H2171.2V1461.7H2160.2zM964.5 1461.7H997.4V1471.5H964.5zM1107.1 1461.7H1129.1V1471.5H1107.1zM1995.7 1461.7H2039.6V1471.5H1995.7zM2072.5 1461.7H2160.2V1471.5H2072.5zM416.0 1471.5H448.9V1481.2H416.0zM657.3 1471.5H668.3V1481.2H657.3zM1107.1 1471.5H1129.1V1481.2H1107.1zM2006.7 1471.5H2039.6V1481.2H2006.7zM470.9 1481.2H492.8V1491.0H470.9zM624.4 1481.2H635.4V1491.0H624.4zM1907.9 1481.2H1929.9V1491.0H1907.9zM1940.8 1481.2H1984.7V1491.0H1940.8zM503.8 1491.0H514.7V1500.8H503.8zM591.5 1491.0H602.5V1500.8H591.5zM1118.1 1491.0H1129.1V1500.8H1118.1zM1260.7 1491.0H1282.6V1500.8H1260.7zM1864.0 1491.0H1907.9V1500.8H1864.0zM1962.8 1491.0H1995.7V1500.8H1962.8zM536.7 1500.8H558.6V1510.6H536.7zM569.6 1500.8H580.5V1510.6H569.6zM1129.1 1500.8H1140.0V1510.6H1129.1zM1227.8 1500.8H1260.7V1510.6H1227.8zM1282.6 1500.8H1315.5V1510.6H1282.6zM1699.5 1500.8H1831.1V1510.6H1699.5zM1973.7 1500.8H1995.7V1510.6H1973.7zM1359.4 1510.6H1381.4V1520.4H1359.4zM1677.6 1510.6H1699.5V1520.4H1677.6zM1743.4 1510.6H1798.2V1520.4H1743.4zM1984.7 1510.6H1995.7V1520.4H1984.7zM1381.4 1520.4H1392.3V1530.2H1381.4zM1469.1 1520.4H1524.0V1530.2H1469.1zM1534.9 1520.4H1556.9V1530.2H1534.9zM1666.6 1520.4H1677.6V1530.2H1666.6zM1984.7 1520.4H2006.7V1530.2H1984.7zM1392.3 1530.2H1513.0V1540.0H1392.3zM1545.9 1530.2H1567.9V1540.0H1545.9zM1655.6 1530.2H1666.6V1540.0H1655.6zM1973.7 1530.2H1995.7V1540.0H1973.7zM1447.2 1540.0H1513.0V1549.8H1447.2zM1545.9 1540.0H1556.9V1549.8H1545.9zM1644.6 1540.0H1655.6V1549.8H1644.6zM1918.9 1540.0H1929.9V1549.8H1918.9zM2226.1 1540.0H2259.0V1549.8H2226.1zM1469.1 1549.8H1556.9V1559.5H1469.1zM1633.7 1549.8H1644.6V1559.5H1633.7zM1907.9 1549.8H1918.9V1559.5H1907.9zM2193.1 1549.8H2226.1V1559.5H2193.1zM2248.0 1549.8H2269.9V1559.5H2248.0zM1469.1 1559.5H1556.9V1569.3H1469.1zM1611.7 1559.5H1633.7V1569.3H1611.7zM1886.0 1559.5H1897.0V1569.3H1886.0zM2171.2 1559.5H2193.1V1569.3H2171.2zM2259.0 1559.5H2269.9V1569.3H2259.0zM1502.0 1569.3H1556.9V1579.1H1502.0zM1589.8 1569.3H1622.7V1579.1H1589.8zM1886.0 1569.3H1897.0V1579.1H1886.0zM2160.2 1569.3H2182.2V1579.1H2160.2zM2259.0 1569.3H2269.9V1579.1H2259.0zM2302.8 1569.3H2335.8V1579.1H2302.8zM1534.9 1579.1H1600.8V1588.9H1534.9zM1918.9 1579.1H1929.9V1588.9H1918.9zM2160.2 1579.1H2182.2V1588.9H2160.2zM2269.9 1579.1H2335.8V1588.9H2269.9zM1567.9 1588.9H1578.8V1598.7H1567.9zM1962.8 1588.9H1984.7V1598.7H1962.8zM2160.2 1588.9H2182.2V1598.7H2160.2zM2280.9 1588.9H2291.9V1598.7H2280.9zM2324.8 1588.9H2346.7V1598.7H2324.8zM1995.7 1598.7H2006.7V1608.5H1995.7zM2083.4 1598.7H2127.3V1608.5H2083.4zM2160.2 1598.7H2182.2V1608.5H2160.2zM2335.8 1598.7H2346.7V1608.5H2335.8zM1995.7 1608.5H2006.7V1618.3H1995.7zM2061.5 1608.5H2083.4V1618.3H2061.5zM2127.3 1608.5H2138.3V1618.3H2127.3zM2160.2 1608.5H2171.2V1618.3H2160.2zM2335.8 1608.5H2357.7V1618.3H2335.8zM1995.7 1618.3H2017.6V1628.0H1995.7zM2028.6 1618.3H2061.5V1628.0H2028.6zM2138.3 1618.3H2160.2V1628.0H2138.3zM2313.8 1618.3H2357.7V1628.0H2313.8zM2445.4 1618.3H2456.4V1628.0H2445.4zM2006.7 1628.0H2039.6V1637.8H2006.7zM2280.9 1628.0H2357.7V1637.8H2280.9zM2412.5 1628.0H2478.4V1637.8H2412.5zM2006.7 1637.8H2028.6V1647.6H2006.7zM2269.9 1637.8H2302.8V1647.6H2269.9zM2357.7 1637.8H2434.5V1647.6H2357.7zM2467.4 1637.8H2610.0V1647.6H2467.4zM2006.7 1647.6H2017.6V1657.4H2006.7zM2269.9 1647.6H2302.8V1657.4H2269.9zM2346.7 1647.6H2423.5V1657.4H2346.7zM2489.3 1647.6H2610.0V1657.4H2489.3zM2291.9 1657.4H2313.8V1667.2H2291.9zM2335.8 1657.4H2357.7V1667.2H2335.8zM2500.3 1657.4H2588.1V1667.2H2500.3zM2302.8 1667.2H2346.7V1677.0H2302.8zM2522.2 1667.2H2566.1V1677.0H2522.2zM1973.7 1677.0H1984.7V1686.8H1973.7zM2313.8 1677.0H2335.8V1686.8H2313.8zM2522.2 1677.0H2566.1V1686.8H2522.2zM1962.8 1686.8H1984.7V1696.6H1962.8zM2313.8 1686.8H2335.8V1696.6H2313.8zM2522.2 1686.8H2555.2V1696.6H2522.2zM2511.3 1696.6H2544.2V1706.3H2511.3zM2500.3 1706.3H2533.2V1716.1H2500.3zM2489.3 1716.1H2522.2V1725.9H2489.3zM2489.3 1725.9H2522.2V1735.7H2489.3zM2500.3 1735.7H2522.2V1745.5H2500.3zM2511.3 1745.5H2522.2V1755.3H2511.3zM2511.3 1755.3H2533.2V1765.1H2511.3zM2511.3 1765.1H2533.2V1774.9H2511.3zM2522.2 1774.9H2533.2V1784.6H2522.2zM2522.2 1784.6H2533.2V1794.4H2522.2zM2522.2 1794.4H2533.2V1804.2H2522.2zM2522.2 1804.2H2533.2V1814.0H2522.2zM2522.2 1814.0H2533.2V1823.8H2522.2zM2522.2 1823.8H2533.2V1833.6H2522.2zM2522.2 1833.6H2533.2V1843.4H2522.2zM2522.2 1843.4H2533.2V1853.2H2522.2zM2522.2 1853.2H2533.2V1863.0H2522.2zM2511.3 1863.0H2522.2V1872.7H2511.3zM2500.3 1872.7H2522.2V1882.5H2500.3zM2478.4 1882.5H2511.3V1892.3H2478.4zM2478.4 1892.3H2500.3V1902.1H2478.4zM2478.4 1902.1H2489.3V1911.9H2478.4zM2467.4 1911.9H2489.3V1921.7H2467.4zM2467.4 1921.7H2489.3V1931.5H2467.4zM2445.4 1931.5H2478.4V1941.2H2445.4zM2423.5 1941.2H2467.4V1951.0H2423.5zM2401.6 1951.0H2434.5V1960.8H2401.6zM2390.6 1960.8H2423.5V1970.6H2390.6zM2390.6 1970.6H2423.5V1980.4H2390.6zM2390.6 1980.4H2423.5V1990.2H2390.6zM2390.6 1990.2H2423.5V2000.0H2390.6zM2390.6 2000.0H2423.5V2009.8H2390.6zM2368.7 2009.8H2412.5V2019.5H2368.7zM2346.7 2019.5H2379.6V2029.3H2346.7zM2346.7 2029.3H2357.7V2039.1H2346.7zM2335.8 2039.1H2357.7V2048.9H2335.8zM2335.8 2048.9H2357.7V2058.7H2335.8zM2335.8 2058.7H2357.7V2068.5H2335.8zM2335.8 2068.5H2357.7V2078.3H2335.8zM2335.8 2078.3H2357.7V2088.1H2335.8zM2335.8 2088.1H2346.7V2097.8H2335.8zM646.4 2097.8H668.3V2107.6H646.4zM2280.9 2097.8H2346.7V2107.6H2280.9zM613.5 2107.6H646.4V2117.4H613.5zM668.3 2107.6H701.2V2117.4H668.3zM2269.9 2107.6H2346.7V2117.4H2269.9zM591.5 2117.4H624.4V2127.2H591.5zM690.2 2117.4H712.2V2127.2H690.2zM2269.9 2117.4H2335.8V2127.2H2269.9zM591.5 2127.2H624.4V2137.0H591.5zM690.2 2127.2H712.2V2137.0H690.2zM2269.9 2127.2H2335.8V2137.0H2269.9z"/>
<path fill="#0040ff" d="M2160.2 179.5H2171.2V189.3H2160.2zM2423.5 179.5H2434.5V189.3H2423.5zM2160.2 189.3H2171.2V199.1H2160.2zM2423.5 189.3H2434.5V199.1H2423.5zM2160.2 199.1H2171.2V208.9H2160.2zM2423.5 199.1H2434.5V208.9H2423.5zM2160.2 208.9H2171.2V218.7H2160.2zM2160.2 218.7H2171.2V228.4H2160.2zM2160.2 228.4H2171.2V238.2H2160.2zM2412.5 228.4H2423.5V238.2H2412.5zM2061.5 238.2H2072.5V248.0H2061.5zM2160.2 238.2H2171.2V248.0H2160.2zM2412.5 238.2H2423.5V248.0H2412.5zM2061.5 248.0H2072.5V257.8H2061.5zM2160.2 248.0H2171.2V257.8H2160.2zM2061.5 257.8H2072.5V267.6H2061.5zM2149.3 257.8H2160.2V267.6H2149.3zM2423.5 257.8H2434.5V267.6H2423.5zM2061.5 267.6H2072.5V277.4H2061.5zM2149.3 267.6H2160.2V277.4H2149.3zM2149.3 277.4H2160.2V287.2H2149.3zM2434.5 277.4H2445.4V287.2H2434.5zM2171.2 287.2H2182.2V296.9H2171.2zM2434.5 287.2H2445.4V296.9H2434.5zM2193.1 296.9H2204.1V306.7H2193.1zM2434.5 296.9H2445.4V306.7H2434.5zM2215.1 306.7H2226.1V316.5H2215.1zM2434.5 306.7H2445.4V316.5H2434.5zM2226.1 316.5H2248.0V326.3H2226.1zM2434.5 316.5H2445.4V326.3H2434.5zM2237.0 326.3H2248.0V336.1H2237.0zM2423.5 326.3H2434.5V336.1H2423.5zM2248.0 336.1H2259.0V345.9H2248.0zM2423.5 336.1H2434.5V345.9H2423.5zM2248.0 345.9H2259.0V355.7H2248.0zM2412.5 345.9H2434.5V355.7H2412.5zM2248.0 355.7H2259.0V365.5H2248.0zM2401.6 355.7H2412.5V365.5H2401.6zM1973.7 365.5H1984.7V375.2H1973.7zM2259.0 365.5H2269.9V375.2H2259.0zM2324.8 365.5H2335.8V375.2H2324.8zM2379.6 365.5H2390.6V375.2H2379.6zM1962.8 375.2H1973.7V385.0H1962.8zM2028.6 375.2H2039.6V385.0H2028.6zM2259.0 375.2H2269.9V385.0H2259.0zM2313.8 375.2H2368.7V385.0H2313.8zM1951.8 385.0H1962.8V394.8H1951.8zM2050.5 385.0H2061.5V394.8H2050.5zM2259.0 385.0H2280.9V394.8H2259.0zM2302.8 385.0H2346.7V394.8H2302.8zM1940.8 394.8H1951.8V404.6H1940.8zM2269.9 394.8H2280.9V404.6H2269.9zM2302.8 394.8H2335.8V404.6H2302.8zM1940.8 404.6H1951.8V414.4H1940.8zM2050.5 404.6H2061.5V414.4H2050.5zM2259.0 404.6H2269.9V414.4H2259.0zM2313.8 404.6H2335.8V414.4H2313.8zM1929.9 414.4H1951.8V424.2H1929.9zM2039.6 414.4H2050.5V424.2H2039.6zM2259.0 414.4H2269.9V424.2H2259.0zM2324.8 414.4H2335.8V424.2H2324.8zM1929.9 424.2H1962.8V434.0H1929.9zM2028.6 424.2H2039.6V434.0H2028.6zM2259.0 424.2H2269.9V434.0H2259.0zM2324.8 424.2H2335.8V434.0H2324.8zM1929.9 434.0H2028.6V443.8H1929.9zM2324.8 434.0H2335.8V443.8H2324.8zM2280.9 443.8H2346.7V453.6H2280.9zM2313.8 453.6H2357.7V463.3H2313.8zM2313.8 463.3H2368.7V473.1H2313.8zM2324.8 473.1H2368.7V482.9H2324.8zM2061.5 502.5H2072.5V512.3H2061.5zM2116.4 502.5H2127.3V512.3H2116.4zM2061.5 512.3H2072.5V522.1H2061.5zM2127.3 512.3H2138.3V522.1H2127.3zM2061.5 522.1H2072.5V531.8H2061.5zM2127.3 522.1H2138.3V531.8H2127.3zM2072.5 531.8H2083.4V541.6H2072.5zM2127.3 531.8H2138.3V541.6H2127.3zM2072.5 541.6H2083.4V551.4H2072.5zM2127.3 541.6H2138.3V551.4H2127.3zM2083.4 551.4H2094.4V561.2H2083.4zM2116.4 551.4H2127.3V561.2H2116.4zM2094.4 561.2H2105.4V571.0H2094.4zM997.4 1334.4H1008.4V1344.2H997.4zM1052.3 1334.4H1063.2V1344.2H1052.3zM997.4 1344.2H1008.4V1354.0H997.4zM997.4 1354.0H1008.4V1363.8H997.4zM1063.2 1354.0H1074.2V1363.8H1063.2zM1063.2 1363.8H1074.2V1373.6H1063.2zM986.4 1373.6H997.4V1383.4H986.4zM1567.9 1373.6H1589.8V1383.4H1567.9zM986.4 1383.4H997.4V1393.1H986.4zM975.5 1393.1H997.4V1402.9H975.5zM964.5 1402.9H1008.4V1412.7H964.5zM1162.0 1402.9H1172.9V1412.7H1162.0zM1194.9 1402.9H1205.8V1412.7H1194.9zM2138.3 1402.9H2160.2V1412.7H2138.3zM953.5 1412.7H1019.4V1422.5H953.5zM1063.2 1412.7H1074.2V1422.5H1063.2zM1151.0 1412.7H1172.9V1422.5H1151.0zM1194.9 1412.7H1216.8V1422.5H1194.9zM2116.4 1412.7H2160.2V1422.5H2116.4zM1008.4 1422.5H1030.3V1432.3H1008.4zM1063.2 1422.5H1074.2V1432.3H1063.2zM1162.0 1422.5H1194.9V1432.3H1162.0zM2083.4 1422.5H2127.3V1432.3H2083.4zM2149.3 1422.5H2160.2V1432.3H2149.3zM876.7 1432.3H909.7V1442.1H876.7zM1019.4 1432.3H1041.3V1442.1H1019.4zM1063.2 1432.3H1074.2V1442.1H1063.2zM2039.6 1432.3H2083.4V1442.1H2039.6zM2160.2 1432.3H2171.2V1442.1H2160.2zM854.8 1442.1H865.8V1451.9H854.8zM909.7 1442.1H931.6V1451.9H909.7zM1030.3 1442.1H1074.2V1451.9H1030.3zM2017.6 1442.1H2039.6V1451.9H2017.6zM2160.2 1442.1H2171.2V1451.9H2160.2zM690.2 1451.9H701.2V1461.7H690.2zM756.1 1451.9H767.0V1461.7H756.1zM931.6 1451.9H942.6V1461.7H931.6zM1030.3 1451.9H1052.3V1461.7H1030.3zM1063.2 1451.9H1085.2V1461.7H1063.2zM2006.7 1451.9H2039.6V1461.7H2006.7zM2149.3 1451.9H2160.2V1461.7H2149.3zM679.3 1461.7H690.2V1471.5H679.3zM778.0 1461.7H821.9V1471.5H778.0zM953.5 1461.7H964.5V1471.5H953.5zM997.4 1461.7H1030.3V1471.5H997.4zM1085.2 1461.7H1107.1V1471.5H1085.2zM2039.6 1461.7H2072.5V1471.5H2039.6zM964.5 1471.5H975.5V1481.2H964.5zM1096.1 1471.5H1107.1V1481.2H1096.1zM448.9 1481.2H470.9V1491.0H448.9zM635.4 1481.2H646.4V1491.0H635.4zM1107.1 1481.2H1118.1V1491.0H1107.1zM1929.9 1481.2H1940.8V1491.0H1929.9zM492.8 1491.0H503.8V1500.8H492.8zM602.5 1491.0H613.5V1500.8H602.5zM1107.1 1491.0H1118.1V1500.8H1107.1zM1907.9 1491.0H1962.8V1500.8H1907.9zM525.7 1500.8H536.7V1510.6H525.7zM580.5 1500.8H591.5V1510.6H580.5zM1118.1 1500.8H1129.1V1510.6H1118.1zM1260.7 1500.8H1282.6V1510.6H1260.7zM1831.1 1500.8H1875.0V1510.6H1831.1zM1907.9 1500.8H1973.7V1510.6H1907.9zM558.6 1510.6H569.6V1520.4H558.6zM1129.1 1510.6H1260.7V1520.4H1129.1zM1282.6 1510.6H1359.4V1520.4H1282.6zM1699.5 1510.6H1743.4V1520.4H1699.5zM1798.2 1510.6H1831.1V1520.4H1798.2zM1929.9 1510.6H1984.7V1520.4H1929.9zM1370.4 1520.4H1381.4V1530.2H1370.4zM1524.0 1520.4H1534.9V1530.2H1524.0zM1677.6 1520.4H1699.5V1530.2H1677.6zM1732.4 1520.4H1809.2V1530.2H1732.4zM1929.9 1520.4H1984.7V1530.2H1929.9zM1381.4 1530.2H1392.3V1540.0H1381.4zM1513.0 1530.2H1545.9V1540.0H1513.0zM1666.6 1530.2H1688.5V1540.0H1666.6zM1918.9 1530.2H1973.7V1540.0H1918.9zM1403.3 1540.0H1447.2V1549.8H1403.3zM1513.0 1540.0H1545.9V1549.8H1513.0zM1655.6 1540.0H1677.6V1549.8H1655.6zM1907.9 1540.0H1918.9V1549.8H1907.9zM1436.2 1549.8H1469.1V1559.5H1436.2zM1644.6 1549.8H1666.6V1559.5H1644.6zM1897.0 1549.8H1907.9V1559.5H1897.0zM2226.1 1549.8H2248.0V1559.5H2226.1zM1447.2 1559.5H1469.1V1569.3H1447.2zM1633.7 1559.5H1655.6V1569.3H1633.7zM1875.0 1559.5H1886.0V1569.3H1875.0zM2193.1 1559.5H2215.1V1569.3H2193.1zM2248.0 1559.5H2259.0V1569.3H2248.0zM1469.1 1569.3H1502.0V1579.1H1469.1zM1622.7 1569.3H1633.7V1579.1H1622.7zM1875.0 1569.3H1886.0V1579.1H1875.0zM2182.2 1569.3H2193.1V1579.1H2182.2zM2248.0 1569.3H2259.0V1579.1H2248.0zM1502.0 1579.1H1534.9V1588.9H1502.0zM1600.8 1579.1H1622.7V1588.9H1600.8zM1897.0 1579.1H1918.9V1588.9H1897.0zM2182.2 1579.1H2193.1V1588.9H2182.2zM2259.0 1579.1H2269.9V1588.9H2259.0zM1524.0 1588.9H1567.9V1598.7H1524.0zM1578.8 1588.9H1600.8V1598.7H1578.8zM1940.8 1588.9H1962.8V1598.7H1940.8zM2182.2 1588.9H2193.1V1598.7H2182.2zM2269.9 1588.9H2280.9V1598.7H2269.9zM2291.9 1588.9H2324.8V1598.7H2291.9zM1534.9 1598.7H1589.8V1608.5H1534.9zM1973.7 1598.7H1995.7V1608.5H1973.7zM2182.2 1598.7H2193.1V1608.5H2182.2zM2269.9 1598.7H2335.8V1608.5H2269.9zM1984.7 1608.5H1995.7V1618.3H1984.7zM2083.4 1608.5H2127.3V1618.3H2083.4zM2171.2 1608.5H2193.1V1618.3H2171.2zM2280.9 1608.5H2335.8V1618.3H2280.9zM1984.7 1618.3H1995.7V1628.0H1984.7zM2061.5 1618.3H2083.4V1628.0H2061.5zM2127.3 1618.3H2138.3V1628.0H2127.3zM2160.2 1618.3H2193.1V1628.0H2160.2zM2269.9 1618.3H2313.8V1628.0H2269.9zM1995.7 1628.0H2006.7V1637.8H1995.7zM2039.6 1628.0H2050.5V1637.8H2039.6zM2138.3 1628.0H2204.1V1637.8H2138.3zM2259.0 1628.0H2280.9V1637.8H2259.0zM1995.7 1637.8H2006.7V1647.6H1995.7zM2028.6 1637.8H2039.6V1647.6H2028.6zM2182.2 1637.8H2215.1V1647.6H2182.2zM2248.0 1637.8H2269.9V1647.6H2248.0zM2434.5 1637.8H2467.4V1647.6H2434.5zM1995.7 1647.6H2006.7V1657.4H1995.7zM2017.6 1647.6H2028.6V1657.4H2017.6zM2193.1 1647.6H2269.9V1657.4H2193.1zM2423.5 1647.6H2489.3V1657.4H2423.5zM1984.7 1657.4H2028.6V1667.2H1984.7zM2193.1 1657.4H2291.9V1667.2H2193.1zM2357.7 1657.4H2500.3V1667.2H2357.7zM1962.8 1667.2H2028.6V1677.0H1962.8zM2193.1 1667.2H2259.0V1677.0H2193.1zM2280.9 1667.2H2302.8V1677.0H2280.9zM2346.7 1667.2H2368.7V1677.0H2346.7zM2434.5 1667.2H2522.2V1677.0H2434.5zM1951.8 1677.0H1973.7V1686.8H1951.8zM1984.7 1677.0H2017.6V1686.8H1984.7zM2193.1 1677.0H2248.0V1686.8H2193.1zM2291.9 1677.0H2313.8V1686.8H2291.9zM2335.8 1677.0H2357.7V1686.8H2335.8zM2445.4 1677.0H2522.2V1686.8H2445.4zM1929.9 1686.8H1962.8V1696.6H1929.9zM1984.7 1686.8H2017.6V1696.6H1984.7zM2302.8 1686.8H2313.8V1696.6H2302.8zM2335.8 1686.8H2346.7V1696.6H2335.8zM2456.4 1686.8H2522.2V1696.6H2456.4zM1929.9 1696.6H1995.7V1706.3H1929.9zM2313.8 1696.6H2346.7V1706.3H2313.8zM2467.4 1696.6H2511.3V1706.3H2467.4zM1929.9 1706.3H1951.8V1716.1H1929.9zM2313.8 1706.3H2335.8V1716.1H2313.8zM2478.4 1706.3H2500.3V1716.1H2478.4zM1929.9 1716.1H1940.8V1725.9H1929.9zM2324.8 1716.1H2335.8V1725.9H2324.8zM2478.4 1716.1H2489.3V1725.9H2478.4zM2478.4 1725.9H2489.3V1735.7H2478.4zM2478.4 1735.7H2500.3V1745.5H2478.4zM1918.9 1745.5H1929.9V1755.3H1918.9zM2489.3 1745.5H2511.3V1755.3H2489.3zM1907.9 1755.3H1929.9V1765.1H1907.9zM2489.3 1755.3H2511.3V1765.1H2489.3zM1853.1 1765.1H1918.9V1774.9H1853.1zM2500.3 1765.1H2511.3V1774.9H2500.3zM1875.0 1774.9H1897.0V1784.6H1875.0zM2500.3 1774.9H2522.2V1784.6H2500.3zM1875.0 1784.6H1897.0V1794.4H1875.0zM2511.3 1784.6H2522.2V1794.4H2511.3zM2511.3 1794.4H2522.2V1804.2H2511.3zM2511.3 1804.2H2522.2V1814.0H2511.3zM2511.3 1814.0H2522.2V1823.8H2511.3zM2511.3 1823.8H2522.2V1833.6H2511.3zM2511.3 1833.6H2522.2V1843.4H2511.3zM2511.3 1843.4H2522.2V1853.2H2511.3zM2511.3 1853.2H2522.2V1863.0H2511.3zM2500.3 1863.0H2511.3V1872.7H2500.3zM2456.4 1872.7H2500.3V1882.5H2456.4zM2456.4 1882.5H2478.4V1892.3H2456.4zM2456.4 1892.3H2478.4V1902.1H2456.4zM2456.4 1902.1H2478.4V1911.9H2456.4zM2456.4 1911.9H2467.4V1921.7H2456.4zM2368.7 1921.7H2379.6V1931.5H2368.7zM2445.4 1921.7H2467.4V1931.5H2445.4zM2368.7 1931.5H2390.6V1941.2H2368.7zM2423.5 1931.5H2445.4V1941.2H2423.5zM2368.7 1941.2H2423.5V1951.0H2368.7zM2368.7 1951.0H2401.6V1960.8H2368.7zM2368.7 1960.8H2390.6V1970.6H2368.7zM2368.7 1970.6H2390.6V1980.4H2368.7zM2368.7 1980.4H2390.6V1990.2H2368.7zM2368.7 1990.2H2390.6V2000.0H2368.7zM2357.7 2000.0H2390.6V2009.8H2357.7zM2346.7 2009.8H2368.7V2019.5H2346.7zM2335.8 2019.5H2346.7V2029.3H2335.8zM2324.8 2029.3H2346.7V2039.1H2324.8zM481.8 2039.1H503.8V2048.9H481.8zM2324.8 2039.1H2335.8V2048.9H2324.8zM481.8 2048.9H492.8V2058.7H481.8zM2313.8 2048.9H2335.8V2058.7H2313.8zM2313.8 2058.7H2335.8V2068.5H2313.8zM2291.9 2068.5H2335.8V2078.3H2291.9zM2269.9 2078.3H2335.8V2088.1H2269.9zM646.4 2088.1H668.3V2097.8H646.4zM2269.9 2088.1H2335.8V2097.8H2269.9zM613.5 2097.8H646.4V2107.6H613.5zM668.3 2097.8H701.2V2107.6H668.3zM2259.0 2097.8H2280.9V2107.6H2259.0zM580.5 2107.6H613.5V2117.4H580.5zM701.2 2107.6H712.2V2117.4H701.2zM2259.0 2107.6H2269.9V2117.4H2259.0zM525.7 2117.4H591.5V2127.2H525.7zM712.2 2117.4H723.2V2127.2H712.2zM2259.0 2117.4H2269.9V2127.2H2259.0zM525.7 2127.2H591.5V2137.0H525.7zM712.2 2127.2H723.2V2137.0H712.2zM2259.0 2127.2H2269.9V2137.0H2259.0z"/>
<path fill="#0050ff" d="M2171.2 179.5H2182.2V189.3H2171.2zM2171.2 189.3H2182.2V199.1H2171.2zM2171.2 199.1H2182.2V208.9H2171.2zM2171.2 208.9H2182.2V218.7H2171.2zM2412.5 208.9H2423.5V218.7H2412.5zM2171.2 218.7H2182.2V228.4H2171.2zM2412.5 218.7H2423.5V228.4H2412.5zM2171.2 228.4H2182.2V238.2H2171.2zM2171.2 238.2H2182.2V248.0H2171.2zM2171.2 248.0H2182.2V257.8H2171.2zM2412.5 248.0H2423.5V257.8H2412.5zM2160.2 257.8H2171.2V267.6H2160.2zM2412.5 257.8H2423.5V267.6H2412.5zM2160.2 267.6H2171.2V277.4H2160.2zM2423.5 267.6H2434.5V277.4H2423.5zM2160.2 277.4H2182.2V287.2H2160.2zM2423.5 277.4H2434.5V287.2H2423.5zM2182.2 287.2H2204.1V296.9H2182.2zM2423.5 287.2H2434.5V296.9H2423.5zM2204.1 296.9H2226.1V306.7H2204.1zM2423.5 296.9H2434.5V306.7H2423.5zM2226.1 306.7H2248.0V316.5H2226.1zM2423.5 306.7H2434.5V316.5H2423.5zM2248.0 316.5H2259.0V326.3H2248.0zM2423.5 316.5H2434.5V326.3H2423.5zM2248.0 326.3H2259.0V336.1H2248.0zM2259.0 336.1H2269.9V345.9H2259.0zM2412.5 336.1H2423.5V345.9H2412.5zM2259.0 345.9H2269.9V355.7H2259.0zM2313.8 345.9H2335.8V355.7H2313.8zM2401.6 345.9H2412.5V355.7H2401.6zM2259.0 355.7H2269.9V365.5H2259.0zM2302.8 355.7H2346.7V365.5H2302.8zM2379.6 355.7H2401.6V365.5H2379.6zM2291.9 365.5H2324.8V375.2H2291.9zM2335.8 365.5H2379.6V375.2H2335.8zM1973.7 375.2H2006.7V385.0H1973.7zM2017.6 375.2H2028.6V385.0H2017.6zM2269.9 375.2H2313.8V385.0H2269.9zM2039.6 385.0H2050.5V394.8H2039.6zM2280.9 385.0H2302.8V394.8H2280.9zM1951.8 394.8H1962.8V404.6H1951.8zM2050.5 394.8H2061.5V404.6H2050.5zM2280.9 394.8H2302.8V404.6H2280.9zM1951.8 404.6H1962.8V414.4H1951.8zM2039.6 404.6H2050.5V414.4H2039.6zM2269.9 404.6H2313.8V414.4H2269.9zM1951.8 414.4H1973.7V424.2H1951.8zM2028.6 414.4H2039.6V424.2H2028.6zM2269.9 414.4H2280.9V424.2H2269.9zM2291.9 414.4H2324.8V424.2H2291.9zM1962.8 424.2H2028.6V434.0H1962.8zM2302.8 424.2H2324.8V434.0H2302.8zM2269.9 434.0H2280.9V443.8H2269.9zM2291.9 434.0H2324.8V443.8H2291.9zM2072.5 502.5H2094.4V512.3H2072.5zM2105.4 502.5H2116.4V512.3H2105.4zM2072.5 512.3H2083.4V522.1H2072.5zM2116.4 512.3H2127.3V522.1H2116.4zM2072.5 522.1H2083.4V531.8H2072.5zM2116.4 522.1H2127.3V531.8H2116.4zM2083.4 531.8H2094.4V541.6H2083.4zM2116.4 531.8H2127.3V541.6H2116.4zM2083.4 541.6H2094.4V551.4H2083.4zM2116.4 541.6H2127.3V551.4H2116.4zM2094.4 551.4H2116.4V561.2H2094.4zM1008.4 1334.4H1052.3V1344.2H1008.4zM1008.4 1344.2H1030.3V1354.0H1008.4zM1052.3 1344.2H1063.2V1354.0H1052.3zM1008.4 1354.0H1019.4V1363.8H1008.4zM997.4 1363.8H1008.4V1373.6H997.4zM997.4 1373.6H1008.4V1383.4H997.4zM1063.2 1373.6H1074.2V1383.4H1063.2zM997.4 1383.4H1008.4V1393.1H997.4zM1063.2 1383.4H1074.2V1393.1H1063.2zM997.4 1393.1H1019.4V1402.9H997.4zM1063.2 1393.1H1074.2V1402.9H1063.2zM1008.4 1402.9H1019.4V1412.7H1008.4zM1063.2 1402.9H1074.2V1412.7H1063.2zM1172.9 1402.9H1194.9V1412.7H1172.9zM1019.4 1412.7H1030.3V1422.5H1019.4zM1172.9 1412.7H1194.9V1422.5H1172.9zM1030.3 1422.5H1041.3V1432.3H1030.3zM1052.3 1422.5H1063.2V1432.3H1052.3zM2127.3 1422.5H2149.3V1432.3H2127.3zM1041.3 1432.3H1063.2V1442.1H1041.3zM2083.4 1432.3H2160.2V1442.1H2083.4zM865.8 1442.1H876.7V1451.9H865.8zM887.7 1442.1H909.7V1451.9H887.7zM2039.6 1442.1H2127.3V1451.9H2039.6zM2149.3 1442.1H2160.2V1451.9H2149.3zM701.2 1451.9H756.1V1461.7H701.2zM843.8 1451.9H854.8V1461.7H843.8zM920.6 1451.9H931.6V1461.7H920.6zM1052.3 1451.9H1063.2V1461.7H1052.3zM2039.6 1451.9H2149.3V1461.7H2039.6zM767.0 1461.7H778.0V1471.5H767.0zM821.9 1461.7H843.8V1471.5H821.9zM942.6 1461.7H953.5V1471.5H942.6zM1030.3 1461.7H1085.2V1471.5H1030.3zM668.3 1471.5H679.3V1481.2H668.3zM789.0 1471.5H800.0V1481.2H789.0zM953.5 1471.5H964.5V1481.2H953.5zM975.5 1471.5H1030.3V1481.2H975.5zM1074.2 1471.5H1096.1V1481.2H1074.2zM416.0 1481.2H448.9V1491.0H416.0zM646.4 1481.2H657.3V1491.0H646.4zM964.5 1481.2H975.5V1491.0H964.5zM1096.1 1481.2H1107.1V1491.0H1096.1zM481.8 1491.0H492.8V1500.8H481.8zM613.5 1491.0H624.4V1500.8H613.5zM514.7 1500.8H525.7V1510.6H514.7zM1875.0 1500.8H1907.9V1510.6H1875.0zM547.6 1510.6H558.6V1520.4H547.6zM569.6 1510.6H580.5V1520.4H569.6zM1260.7 1510.6H1282.6V1520.4H1260.7zM1831.1 1510.6H1853.1V1520.4H1831.1zM1907.9 1510.6H1929.9V1520.4H1907.9zM1140.0 1520.4H1370.4V1530.2H1140.0zM1699.5 1520.4H1732.4V1530.2H1699.5zM1809.2 1520.4H1820.2V1530.2H1809.2zM1918.9 1520.4H1929.9V1530.2H1918.9zM1370.4 1530.2H1381.4V1540.0H1370.4zM1688.5 1530.2H1699.5V1540.0H1688.5zM1732.4 1530.2H1809.2V1540.0H1732.4zM1392.3 1540.0H1403.3V1549.8H1392.3zM1677.6 1540.0H1688.5V1549.8H1677.6zM1897.0 1540.0H1907.9V1549.8H1897.0zM1414.3 1549.8H1436.2V1559.5H1414.3zM1666.6 1549.8H1677.6V1559.5H1666.6zM1886.0 1549.8H1897.0V1559.5H1886.0zM909.7 1559.5H1019.4V1569.3H909.7zM1425.2 1559.5H1447.2V1569.3H1425.2zM1655.6 1559.5H1666.6V1569.3H1655.6zM1864.0 1559.5H1875.0V1569.3H1864.0zM2215.1 1559.5H2248.0V1569.3H2215.1zM898.7 1569.3H1019.4V1579.1H898.7zM1436.2 1569.3H1469.1V1579.1H1436.2zM1633.7 1569.3H1655.6V1579.1H1633.7zM1864.0 1569.3H1875.0V1579.1H1864.0zM2193.1 1569.3H2226.1V1579.1H2193.1zM2237.0 1569.3H2248.0V1579.1H2237.0zM1480.1 1579.1H1502.0V1588.9H1480.1zM1622.7 1579.1H1633.7V1588.9H1622.7zM1886.0 1579.1H1897.0V1588.9H1886.0zM2193.1 1579.1H2215.1V1588.9H2193.1zM2248.0 1579.1H2259.0V1588.9H2248.0zM1502.0 1588.9H1524.0V1598.7H1502.0zM1600.8 1588.9H1622.7V1598.7H1600.8zM1918.9 1588.9H1940.8V1598.7H1918.9zM2193.1 1588.9H2215.1V1598.7H2193.1zM2248.0 1588.9H2269.9V1598.7H2248.0zM1524.0 1598.7H1534.9V1608.5H1524.0zM1589.8 1598.7H1600.8V1608.5H1589.8zM1962.8 1598.7H1973.7V1608.5H1962.8zM2193.1 1598.7H2215.1V1608.5H2193.1zM2259.0 1598.7H2269.9V1608.5H2259.0zM1556.9 1608.5H1578.8V1618.3H1556.9zM1973.7 1608.5H1984.7V1618.3H1973.7zM2193.1 1608.5H2215.1V1618.3H2193.1zM2259.0 1608.5H2280.9V1618.3H2259.0zM1973.7 1618.3H1984.7V1628.0H1973.7zM2083.4 1618.3H2127.3V1628.0H2083.4zM2193.1 1618.3H2226.1V1628.0H2193.1zM2248.0 1618.3H2269.9V1628.0H2248.0zM1973.7 1628.0H1995.7V1637.8H1973.7zM2050.5 1628.0H2083.4V1637.8H2050.5zM2116.4 1628.0H2138.3V1637.8H2116.4zM2204.1 1628.0H2259.0V1637.8H2204.1zM1973.7 1637.8H1995.7V1647.6H1973.7zM2039.6 1637.8H2050.5V1647.6H2039.6zM2138.3 1637.8H2182.2V1647.6H2138.3zM2215.1 1637.8H2248.0V1647.6H2215.1zM1973.7 1647.6H1995.7V1657.4H1973.7zM2028.6 1647.6H2039.6V1657.4H2028.6zM2160.2 1647.6H2193.1V1657.4H2160.2zM1962.8 1657.4H1984.7V1667.2H1962.8zM2028.6 1657.4H2039.6V1667.2H2028.6zM2171.2 1657.4H2193.1V1667.2H2171.2zM1951.8 1667.2H1962.8V1677.0H1951.8zM2028.6 1667.2H2039.6V1677.0H2028.6zM2171.2 1667.2H2193.1V1677.0H2171.2zM2259.0 1667.2H2280.9V1677.0H2259.0zM2368.7 1667.2H2434.5V1677.0H2368.7zM1929.9 1677.0H1951.8V1686.8H1929.9zM2017.6 1677.0H2039.6V1686.8H2017.6zM2171.2 1677.0H2193.1V1686.8H2171.2zM2248.0 1677.0H2291.9V1686.8H2248.0zM2357.7 1677.0H2445.4V1686.8H2357.7zM1907.9 1686.8H1929.9V1696.6H1907.9zM2017.6 1686.8H2028.6V1696.6H2017.6zM2182.2 1686.8H2269.9V1696.6H2182.2zM2291.9 1686.8H2302.8V1696.6H2291.9zM2346.7 1686.8H2368.7V1696.6H2346.7zM2423.5 1686.8H2456.4V1696.6H2423.5zM1907.9 1696.6H1929.9V1706.3H1907.9zM1995.7 1696.6H2028.6V1706.3H1995.7zM2182.2 1696.6H2259.0V1706.3H2182.2zM2291.9 1696.6H2313.8V1706.3H2291.9zM2346.7 1696.6H2368.7V1706.3H2346.7zM2434.5 1696.6H2467.4V1706.3H2434.5zM1907.9 1706.3H1929.9V1716.1H1907.9zM1951.8 1706.3H2028.6V1716.1H1951.8zM2193.1 1706.3H2248.0V1716.1H2193.1zM2302.8 1706.3H2313.8V1716.1H2302.8zM2335.8 1706.3H2357.7V1716.1H2335.8zM2445.4 1706.3H2478.4V1716.1H2445.4zM1907.9 1716.1H1929.9V1725.9H1907.9zM1940.8 1716.1H1995.7V1725.9H1940.8zM2302.8 1716.1H2324.8V1725.9H2302.8zM2335.8 1716.1H2357.7V1725.9H2335.8zM2456.4 1716.1H2478.4V1725.9H2456.4zM1907.9 1725.9H1962.8V1735.7H1907.9zM2456.4 1725.9H2478.4V1735.7H2456.4zM1897.0 1735.7H1951.8V1745.5H1897.0zM2456.4 1735.7H2478.4V1745.5H2456.4zM1842.1 1745.5H1918.9V1755.3H1842.1zM1929.9 1745.5H1951.8V1755.3H1929.9zM2467.4 1745.5H2489.3V1755.3H2467.4zM1831.1 1755.3H1907.9V1765.1H1831.1zM1929.9 1755.3H1951.8V1765.1H1929.9zM2467.4 1755.3H2489.3V1765.1H2467.4zM1831.1 1765.1H1853.1V1774.9H1831.1zM1918.9 1765.1H1940.8V1774.9H1918.9zM2467.4 1765.1H2500.3V1774.9H2467.4zM1831.1 1774.9H1875.0V1784.6H1831.1zM1897.0 1774.9H1940.8V1784.6H1897.0zM2467.4 1774.9H2500.3V1784.6H2467.4zM1831.1 1784.6H1875.0V1794.4H1831.1zM1897.0 1784.6H1940.8V1794.4H1897.0zM2478.4 1784.6H2511.3V1794.4H2478.4zM1842.1 1794.4H1929.9V1804.2H1842.1zM2500.3 1794.4H2511.3V1804.2H2500.3zM1864.0 1804.2H1907.9V1814.0H1864.0zM2500.3 1804.2H2511.3V1814.0H2500.3zM2434.5 1853.2H2489.3V1863.0H2434.5zM2500.3 1853.2H2511.3V1863.0H2500.3zM2423.5 1863.0H2500.3V1872.7H2423.5zM2423.5 1872.7H2456.4V1882.5H2423.5zM2423.5 1882.5H2456.4V1892.3H2423.5zM2423.5 1892.3H2456.4V1902.1H2423.5zM2368.7 1902.1H2379.6V1911.9H2368.7zM2423.5 1902.1H2456.4V1911.9H2423.5zM2346.7 1911.9H2401.6V1921.7H2346.7zM2423.5 1911.9H2456.4V1921.7H2423.5zM2335.8 1921.7H2368.7V1931.5H2335.8zM2379.6 1921.7H2445.4V1931.5H2379.6zM2335.8 1931.5H2368.7V1941.2H2335.8zM2390.6 1931.5H2423.5V1941.2H2390.6zM2335.8 1941.2H2368.7V1951.0H2335.8zM2335.8 1951.0H2368.7V1960.8H2335.8zM2335.8 1960.8H2368.7V1970.6H2335.8zM2335.8 1970.6H2368.7V1980.4H2335.8zM2335.8 1980.4H2368.7V1990.2H2335.8zM2335.8 1990.2H2368.7V2000.0H2335.8zM2324.8 2000.0H2357.7V2009.8H2324.8zM470.9 2009.8H547.6V2019.5H470.9zM2313.8 2009.8H2346.7V2019.5H2313.8zM470.9 2019.5H558.6V2029.3H470.9zM2302.8 2019.5H2335.8V2029.3H2302.8zM459.9 2029.3H558.6V2039.1H459.9zM2291.9 2029.3H2324.8V2039.1H2291.9zM459.9 2039.1H481.8V2048.9H459.9zM503.8 2039.1H547.6V2048.9H503.8zM2280.9 2039.1H2324.8V2048.9H2280.9zM459.9 2048.9H481.8V2058.7H459.9zM492.8 2048.9H525.7V2058.7H492.8zM2259.0 2048.9H2313.8V2058.7H2259.0zM459.9 2058.7H514.7V2068.5H459.9zM2248.0 2058.7H2313.8V2068.5H2248.0zM459.9 2068.5H503.8V2078.3H459.9zM2248.0 2068.5H2291.9V2078.3H2248.0zM470.9 2078.3H503.8V2088.1H470.9zM646.4 2078.3H668.3V2088.1H646.4zM2248.0 2078.3H2269.9V2088.1H2248.0zM481.8 2088.1H492.8V2097.8H481.8zM613.5 2088.1H646.4V2097.8H613.5zM668.3 2088.1H701.2V2097.8H668.3zM2248.0 2088.1H2269.9V2097.8H2248.0zM514.7 2097.8H536.7V2107.6H514.7zM580.5 2097.8H613.5V2107.6H580.5zM701.2 2097.8H712.2V2107.6H701.2zM2237.0 2097.8H2259.0V2107.6H2237.0zM503.8 2107.6H580.5V2117.4H503.8zM712.2 2107.6H734.1V2117.4H712.2zM2237.0 2107.6H2259.0V2117.4H2237.0zM503.8 2117.4H525.7V2127.2H503.8zM723.2 2117.4H745.1V2127.2H723.2zM2237.0 2117.4H2259.0V2127.2H2237.0zM503.8 2127.2H525.7V2137.0H503.8zM723.2 2127.2H745.1V2137.0H723.2zM2237.0 2127.2H2259.0V2137.0H2237.0z"/>
<path fill="#0060ff" d="M2182.2 179.5H2193.1V189.3H2182.2zM2412.5 179.5H2423.5V189.3H2412.5zM2182.2 189.3H2193.1V199.1H2182.2zM2412.5 189.3H2423.5V199.1H2412.5zM2182.2 199.1H2193.1V208.9H2182.2zM2412.5 199.1H2423.5V208.9H2412.5zM2182.2 208.9H2193.1V218.7H2182.2zM2182.2 218.7H2193.1V228.4H2182.2zM2182.2 228.4H2193.1V238.2H2182.2zM2401.6 228.4H2412.5V238.2H2401.6zM2182.2 238.2H2193.1V248.0H2182.2zM2401.6 238.2H2412.5V248.0H2401.6zM2401.6 248.0H2412.5V257.8H2401.6zM2171.2 257.8H2182.2V267.6H2171.2zM2171.2 267.6H2182.2V277.4H2171.2zM2412.5 267.6H2423.5V277.4H2412.5zM2182.2 277.4H2193.1V287.2H2182.2zM2412.5 277.4H2423.5V287.2H2412.5zM2204.1 287.2H2215.1V296.9H2204.1zM2412.5 287.2H2423.5V296.9H2412.5zM2226.1 296.9H2237.0V306.7H2226.1zM2412.5 296.9H2423.5V306.7H2412.5zM2248.0 306.7H2259.0V316.5H2248.0zM2412.5 306.7H2423.5V316.5H2412.5zM2259.0 316.5H2269.9V326.3H2259.0zM2412.5 316.5H2423.5V326.3H2412.5zM2259.0 326.3H2269.9V336.1H2259.0zM2302.8 326.3H2335.8V336.1H2302.8zM2401.6 326.3H2423.5V336.1H2401.6zM2291.9 336.1H2346.7V345.9H2291.9zM2390.6 336.1H2412.5V345.9H2390.6zM2269.9 345.9H2280.9V355.7H2269.9zM2291.9 345.9H2313.8V355.7H2291.9zM2335.8 345.9H2357.7V355.7H2335.8zM2379.6 345.9H2401.6V355.7H2379.6zM2269.9 355.7H2302.8V365.5H2269.9zM2346.7 355.7H2379.6V365.5H2346.7zM2269.9 365.5H2291.9V375.2H2269.9zM2006.7 375.2H2017.6V385.0H2006.7zM1962.8 385.0H1973.7V394.8H1962.8zM1962.8 394.8H1973.7V404.6H1962.8zM2039.6 394.8H2050.5V404.6H2039.6zM1962.8 404.6H1984.7V414.4H1962.8zM2028.6 404.6H2039.6V414.4H2028.6zM1973.7 414.4H2028.6V424.2H1973.7zM2280.9 414.4H2291.9V424.2H2280.9zM2269.9 424.2H2302.8V434.0H2269.9zM2280.9 434.0H2291.9V443.8H2280.9zM2094.4 502.5H2105.4V512.3H2094.4zM2083.4 512.3H2094.4V522.1H2083.4zM2105.4 512.3H2116.4V522.1H2105.4zM2083.4 522.1H2094.4V531.8H2083.4zM2105.4 522.1H2116.4V531.8H2105.4zM2105.4 531.8H2116.4V541.6H2105.4zM2094.4 541.6H2116.4V551.4H2094.4zM1030.3 1344.2H1052.3V1354.0H1030.3zM1019.4 1354.0H1041.3V1363.8H1019.4zM1052.3 1354.0H1063.2V1363.8H1052.3zM1008.4 1363.8H1030.3V1373.6H1008.4zM1008.4 1373.6H1019.4V1383.4H1008.4zM1008.4 1383.4H1030.3V1393.1H1008.4zM1019.4 1393.1H1030.3V1402.9H1019.4zM1019.4 1402.9H1041.3V1412.7H1019.4zM1052.3 1402.9H1063.2V1412.7H1052.3zM1030.3 1412.7H1063.2V1422.5H1030.3zM1041.3 1422.5H1052.3V1432.3H1041.3zM876.7 1442.1H887.7V1451.9H876.7zM2127.3 1442.1H2149.3V1451.9H2127.3zM854.8 1451.9H865.8V1461.7H854.8zM898.7 1451.9H920.6V1461.7H898.7zM690.2 1461.7H701.2V1471.5H690.2zM756.1 1461.7H767.0V1471.5H756.1zM843.8 1461.7H854.8V1471.5H843.8zM931.6 1461.7H942.6V1471.5H931.6zM767.0 1471.5H789.0V1481.2H767.0zM800.0 1471.5H821.9V1481.2H800.0zM942.6 1471.5H953.5V1481.2H942.6zM1030.3 1471.5H1074.2V1481.2H1030.3zM657.3 1481.2H668.3V1491.0H657.3zM953.5 1481.2H964.5V1491.0H953.5zM975.5 1481.2H1019.4V1491.0H975.5zM1063.2 1481.2H1096.1V1491.0H1063.2zM448.9 1491.0H481.8V1500.8H448.9zM624.4 1491.0H635.4V1500.8H624.4zM964.5 1491.0H975.5V1500.8H964.5zM1096.1 1491.0H1107.1V1500.8H1096.1zM503.8 1500.8H514.7V1510.6H503.8zM591.5 1500.8H602.5V1510.6H591.5zM1107.1 1500.8H1118.1V1510.6H1107.1zM536.7 1510.6H547.6V1520.4H536.7zM1118.1 1510.6H1129.1V1520.4H1118.1zM1853.1 1510.6H1875.0V1520.4H1853.1zM1886.0 1510.6H1907.9V1520.4H1886.0zM1129.1 1520.4H1140.0V1530.2H1129.1zM1820.2 1520.4H1842.1V1530.2H1820.2zM1907.9 1520.4H1918.9V1530.2H1907.9zM1140.0 1530.2H1172.9V1540.0H1140.0zM1238.8 1530.2H1370.4V1540.0H1238.8zM1699.5 1530.2H1732.4V1540.0H1699.5zM1809.2 1530.2H1831.1V1540.0H1809.2zM1907.9 1530.2H1918.9V1540.0H1907.9zM1370.4 1540.0H1392.3V1549.8H1370.4zM1688.5 1540.0H1710.5V1549.8H1688.5zM1743.4 1540.0H1831.1V1549.8H1743.4zM942.6 1549.8H986.4V1559.5H942.6zM1392.3 1549.8H1414.3V1559.5H1392.3zM1677.6 1549.8H1699.5V1559.5H1677.6zM1787.2 1549.8H1820.2V1559.5H1787.2zM1864.0 1549.8H1886.0V1559.5H1864.0zM887.7 1559.5H909.7V1569.3H887.7zM1019.4 1559.5H1096.1V1569.3H1019.4zM1414.3 1559.5H1425.2V1569.3H1414.3zM1666.6 1559.5H1688.5V1569.3H1666.6zM1853.1 1559.5H1864.0V1569.3H1853.1zM865.8 1569.3H898.7V1579.1H865.8zM1019.4 1569.3H1107.1V1579.1H1019.4zM1425.2 1569.3H1436.2V1579.1H1425.2zM1655.6 1569.3H1666.6V1579.1H1655.6zM1853.1 1569.3H1864.0V1579.1H1853.1zM2226.1 1569.3H2237.0V1579.1H2226.1zM909.7 1579.1H1008.4V1588.9H909.7zM1085.2 1579.1H1107.1V1588.9H1085.2zM1447.2 1579.1H1480.1V1588.9H1447.2zM1633.7 1579.1H1644.6V1588.9H1633.7zM1864.0 1579.1H1886.0V1588.9H1864.0zM2215.1 1579.1H2248.0V1588.9H2215.1zM1491.1 1588.9H1502.0V1598.7H1491.1zM1622.7 1588.9H1633.7V1598.7H1622.7zM1897.0 1588.9H1918.9V1598.7H1897.0zM2215.1 1588.9H2248.0V1598.7H2215.1zM1502.0 1598.7H1524.0V1608.5H1502.0zM1600.8 1598.7H1622.7V1608.5H1600.8zM1940.8 1598.7H1962.8V1608.5H1940.8zM2215.1 1598.7H2226.1V1608.5H2215.1zM2248.0 1598.7H2259.0V1608.5H2248.0zM1524.0 1608.5H1556.9V1618.3H1524.0zM1578.8 1608.5H1600.8V1618.3H1578.8zM1962.8 1608.5H1973.7V1618.3H1962.8zM2215.1 1608.5H2259.0V1618.3H2215.1zM1962.8 1618.3H1973.7V1628.0H1962.8zM2226.1 1618.3H2248.0V1628.0H2226.1zM1962.8 1628.0H1973.7V1637.8H1962.8zM2083.4 1628.0H2116.4V1637.8H2083.4zM1962.8 1637.8H1973.7V1647.6H1962.8zM2050.5 1637.8H2072.5V1647.6H2050.5zM2116.4 1637.8H2138.3V1647.6H2116.4zM1962.8 1647.6H1973.7V1657.4H1962.8zM2039.6 1647.6H2050.5V1657.4H2039.6zM2127.3 1647.6H2160.2V1657.4H2127.3zM1951.8 1657.4H1962.8V1667.2H1951.8zM2039.6 1657.4H2050.5V1667.2H2039.6zM2138.3 1657.4H2171.2V1667.2H2138.3zM1940.8 1667.2H1951.8V1677.0H1940.8zM2039.6 1667.2H2050.5V1677.0H2039.6zM2149.3 1667.2H2171.2V1677.0H2149.3zM1907.9 1677.0H1929.9V1686.8H1907.9zM2039.6 1677.0H2050.5V1686.8H2039.6zM2160.2 1677.0H2171.2V1686.8H2160.2zM1897.0 1686.8H1907.9V1696.6H1897.0zM2028.6 1686.8H2050.5V1696.6H2028.6zM2160.2 1686.8H2182.2V1696.6H2160.2zM2269.9 1686.8H2291.9V1696.6H2269.9zM2368.7 1686.8H2423.5V1696.6H2368.7zM1897.0 1696.6H1907.9V1706.3H1897.0zM2028.6 1696.6H2050.5V1706.3H2028.6zM2171.2 1696.6H2182.2V1706.3H2171.2zM2259.0 1696.6H2291.9V1706.3H2259.0zM2368.7 1696.6H2434.5V1706.3H2368.7zM1897.0 1706.3H1907.9V1716.1H1897.0zM2028.6 1706.3H2050.5V1716.1H2028.6zM2171.2 1706.3H2193.1V1716.1H2171.2zM2248.0 1706.3H2302.8V1716.1H2248.0zM2357.7 1706.3H2445.4V1716.1H2357.7zM1897.0 1716.1H1907.9V1725.9H1897.0zM1995.7 1716.1H2039.6V1725.9H1995.7zM2182.2 1716.1H2269.9V1725.9H2182.2zM2291.9 1716.1H2302.8V1725.9H2291.9zM2357.7 1716.1H2401.6V1725.9H2357.7zM2423.5 1716.1H2456.4V1725.9H2423.5zM1886.0 1725.9H1907.9V1735.7H1886.0zM1962.8 1725.9H2028.6V1735.7H1962.8zM2193.1 1725.9H2237.0V1735.7H2193.1zM2302.8 1725.9H2379.6V1735.7H2302.8zM2434.5 1725.9H2456.4V1735.7H2434.5zM1820.2 1735.7H1897.0V1745.5H1820.2zM1951.8 1735.7H1995.7V1745.5H1951.8zM2445.4 1735.7H2456.4V1745.5H2445.4zM1809.2 1745.5H1842.1V1755.3H1809.2zM1951.8 1745.5H1973.7V1755.3H1951.8zM2445.4 1745.5H2467.4V1755.3H2445.4zM1809.2 1755.3H1831.1V1765.1H1809.2zM1951.8 1755.3H1962.8V1765.1H1951.8zM2445.4 1755.3H2467.4V1765.1H2445.4zM1809.2 1765.1H1831.1V1774.9H1809.2zM1940.8 1765.1H1962.8V1774.9H1940.8zM2445.4 1765.1H2467.4V1774.9H2445.4zM1809.2 1774.9H1831.1V1784.6H1809.2zM1940.8 1774.9H1962.8V1784.6H1940.8zM2445.4 1774.9H2467.4V1784.6H2445.4zM1809.2 1784.6H1831.1V1794.4H1809.2zM1940.8 1784.6H1962.8V1794.4H1940.8zM2445.4 1784.6H2478.4V1794.4H2445.4zM1820.2 1794.4H1842.1V1804.2H1820.2zM1929.9 1794.4H1951.8V1804.2H1929.9zM2412.5 1794.4H2500.3V1804.2H2412.5zM1820.2 1804.2H1864.0V1814.0H1820.2zM1907.9 1804.2H1929.9V1814.0H1907.9zM2412.5 1804.2H2500.3V1814.0H2412.5zM1831.1 1814.0H1897.0V1823.8H1831.1zM2401.6 1814.0H2511.3V1823.8H2401.6zM2401.6 1823.8H2511.3V1833.6H2401.6zM2401.6 1833.6H2489.3V1843.4H2401.6zM2500.3 1833.6H2511.3V1843.4H2500.3zM2390.6 1843.4H2511.3V1853.2H2390.6zM2390.6 1853.2H2434.5V1863.0H2390.6zM2489.3 1853.2H2500.3V1863.0H2489.3zM2390.6 1863.0H2423.5V1872.7H2390.6zM2390.6 1872.7H2423.5V1882.5H2390.6zM2379.6 1882.5H2423.5V1892.3H2379.6zM2357.7 1892.3H2423.5V1902.1H2357.7zM2346.7 1902.1H2368.7V1911.9H2346.7zM2379.6 1902.1H2423.5V1911.9H2379.6zM2313.8 1911.9H2346.7V1921.7H2313.8zM2401.6 1911.9H2423.5V1921.7H2401.6zM2280.9 1921.7H2335.8V1931.5H2280.9zM2313.8 1931.5H2335.8V1941.2H2313.8zM416.0 1941.2H536.7V1951.0H416.0zM2313.8 1941.2H2335.8V1951.0H2313.8zM416.0 1951.0H547.6V1960.8H416.0zM2313.8 1951.0H2335.8V1960.8H2313.8zM416.0 1960.8H558.6V1970.6H416.0zM2313.8 1960.8H2335.8V1970.6H2313.8zM416.0 1970.6H569.6V1980.4H416.0zM2313.8 1970.6H2335.8V1980.4H2313.8zM416.0 1980.4H580.5V1990.2H416.0zM2313.8 1980.4H2335.8V1990.2H2313.8zM416.0 1990.2H591.5V2000.0H416.0zM2302.8 1990.2H2335.8V2000.0H2302.8zM416.0 2000.0H591.5V2009.8H416.0zM2291.9 2000.0H2324.8V2009.8H2291.9zM416.0 2009.8H470.9V2019.5H416.0zM547.6 2009.8H580.5V2019.5H547.6zM2280.9 2009.8H2313.8V2019.5H2280.9zM437.9 2019.5H470.9V2029.3H437.9zM558.6 2019.5H580.5V2029.3H558.6zM2269.9 2019.5H2302.8V2029.3H2269.9zM448.9 2029.3H459.9V2039.1H448.9zM558.6 2029.3H580.5V2039.1H558.6zM2193.1 2029.3H2291.9V2039.1H2193.1zM448.9 2039.1H459.9V2048.9H448.9zM547.6 2039.1H569.6V2048.9H547.6zM2182.2 2039.1H2280.9V2048.9H2182.2zM448.9 2048.9H459.9V2058.7H448.9zM525.7 2048.9H558.6V2058.7H525.7zM2182.2 2048.9H2259.0V2058.7H2182.2zM448.9 2058.7H459.9V2068.5H448.9zM514.7 2058.7H536.7V2068.5H514.7zM2193.1 2058.7H2248.0V2068.5H2193.1zM448.9 2068.5H459.9V2078.3H448.9zM503.8 2068.5H525.7V2078.3H503.8zM2193.1 2068.5H2248.0V2078.3H2193.1zM448.9 2078.3H470.9V2088.1H448.9zM503.8 2078.3H514.7V2088.1H503.8zM613.5 2078.3H646.4V2088.1H613.5zM668.3 2078.3H701.2V2088.1H668.3zM2193.1 2078.3H2248.0V2088.1H2193.1zM459.9 2088.1H481.8V2097.8H459.9zM492.8 2088.1H547.6V2097.8H492.8zM580.5 2088.1H613.5V2097.8H580.5zM701.2 2088.1H712.2V2097.8H701.2zM2193.1 2088.1H2248.0V2097.8H2193.1zM470.9 2097.8H514.7V2107.6H470.9zM536.7 2097.8H580.5V2107.6H536.7zM712.2 2097.8H734.1V2107.6H712.2zM2193.1 2097.8H2237.0V2107.6H2193.1zM492.8 2107.6H503.8V2117.4H492.8zM734.1 2107.6H745.1V2117.4H734.1zM2193.1 2107.6H2237.0V2117.4H2193.1zM492.8 2117.4H503.8V2127.2H492.8zM745.1 2117.4H756.1V2127.2H745.1zM2193.1 2117.4H2237.0V2127.2H2193.1zM492.8 2127.2H503.8V2137.0H492.8zM745.1 2127.2H756.1V2137.0H745.1zM2193.1 2127.2H2237.0V2137.0H2193.1z"/>
<path fill="#0070ff" d="M2193.1 179.5H2204.1V189.3H2193.1zM2193.1 189.3H2204.1V199.1H2193.1zM2401.6 208.9H2412.5V218.7H2401.6zM2401.6 218.7H2412.5V228.4H2401.6zM2182.2 248.0H2193.1V257.8H2182.2zM2182.2 257.8H2193.1V267.6H2182.2zM2401.6 257.8H2412.5V267.6H2401.6zM2182.2 267.6H2193.1V277.4H2182.2zM2401.6 267.6H2412.5V277.4H2401.6zM2193.1 277.4H2215.1V287.2H2193.1zM2401.6 277.4H2412.5V287.2H2401.6zM2215.1 287.2H2237.0V296.9H2215.1zM2401.6 287.2H2412.5V296.9H2401.6zM2237.0 296.9H2259.0V306.7H2237.0zM2401.6 296.9H2412.5V306.7H2401.6zM2259.0 306.7H2280.9V316.5H2259.0zM2401.6 306.7H2412.5V316.5H2401.6zM2269.9 316.5H2335.8V326.3H2269.9zM2401.6 316.5H2412.5V326.3H2401.6zM2269.9 326.3H2302.8V336.1H2269.9zM2335.8 326.3H2346.7V336.1H2335.8zM2390.6 326.3H2401.6V336.1H2390.6zM2269.9 336.1H2291.9V345.9H2269.9zM2346.7 336.1H2357.7V345.9H2346.7zM2379.6 336.1H2390.6V345.9H2379.6zM2280.9 345.9H2291.9V355.7H2280.9zM2357.7 345.9H2379.6V355.7H2357.7zM1973.7 385.0H1995.7V394.8H1973.7zM2028.6 385.0H2039.6V394.8H2028.6zM1973.7 394.8H1984.7V404.6H1973.7zM2028.6 394.8H2039.6V404.6H2028.6zM1984.7 404.6H2006.7V414.4H1984.7zM2017.6 404.6H2028.6V414.4H2017.6zM2094.4 512.3H2105.4V522.1H2094.4zM2094.4 522.1H2105.4V531.8H2094.4zM2094.4 531.8H2105.4V541.6H2094.4zM1041.3 1354.0H1052.3V1363.8H1041.3zM1030.3 1363.8H1041.3V1373.6H1030.3zM1052.3 1363.8H1063.2V1373.6H1052.3zM1019.4 1373.6H1041.3V1383.4H1019.4zM1052.3 1373.6H1063.2V1383.4H1052.3zM1030.3 1383.4H1041.3V1393.1H1030.3zM1052.3 1383.4H1063.2V1393.1H1052.3zM1030.3 1393.1H1063.2V1402.9H1030.3zM1041.3 1402.9H1052.3V1412.7H1041.3zM865.8 1451.9H898.7V1461.7H865.8zM701.2 1461.7H756.1V1471.5H701.2zM854.8 1461.7H865.8V1471.5H854.8zM920.6 1461.7H931.6V1471.5H920.6zM679.3 1471.5H690.2V1481.2H679.3zM756.1 1471.5H767.0V1481.2H756.1zM821.9 1471.5H843.8V1481.2H821.9zM778.0 1481.2H810.9V1491.0H778.0zM1019.4 1481.2H1063.2V1491.0H1019.4zM416.0 1491.0H448.9V1500.8H416.0zM635.4 1491.0H646.4V1500.8H635.4zM953.5 1491.0H964.5V1500.8H953.5zM975.5 1491.0H1008.4V1500.8H975.5zM1052.3 1491.0H1096.1V1500.8H1052.3zM492.8 1500.8H503.8V1510.6H492.8zM602.5 1500.8H613.5V1510.6H602.5zM953.5 1500.8H986.4V1510.6H953.5zM1096.1 1500.8H1107.1V1510.6H1096.1zM525.7 1510.6H536.7V1520.4H525.7zM580.5 1510.6H591.5V1520.4H580.5zM1107.1 1510.6H1118.1V1520.4H1107.1zM1875.0 1510.6H1886.0V1520.4H1875.0zM558.6 1520.4H580.5V1530.2H558.6zM1118.1 1520.4H1129.1V1530.2H1118.1zM1842.1 1520.4H1864.0V1530.2H1842.1zM1897.0 1520.4H1907.9V1530.2H1897.0zM1129.1 1530.2H1140.0V1540.0H1129.1zM1172.9 1530.2H1238.8V1540.0H1172.9zM1831.1 1530.2H1853.1V1540.0H1831.1zM1897.0 1530.2H1907.9V1540.0H1897.0zM953.5 1540.0H975.5V1549.8H953.5zM1129.1 1540.0H1162.0V1549.8H1129.1zM1260.7 1540.0H1293.6V1549.8H1260.7zM1359.4 1540.0H1370.4V1549.8H1359.4zM1710.5 1540.0H1743.4V1549.8H1710.5zM1831.1 1540.0H1897.0V1549.8H1831.1zM909.7 1549.8H942.6V1559.5H909.7zM986.4 1549.8H1041.3V1559.5H986.4zM1381.4 1549.8H1392.3V1559.5H1381.4zM1699.5 1549.8H1710.5V1559.5H1699.5zM1765.3 1549.8H1787.2V1559.5H1765.3zM1820.2 1549.8H1864.0V1559.5H1820.2zM821.9 1559.5H887.7V1569.3H821.9zM1096.1 1559.5H1118.1V1569.3H1096.1zM1403.3 1559.5H1414.3V1569.3H1403.3zM1688.5 1559.5H1699.5V1569.3H1688.5zM1787.2 1559.5H1853.1V1569.3H1787.2zM821.9 1569.3H865.8V1579.1H821.9zM1107.1 1569.3H1129.1V1579.1H1107.1zM1414.3 1569.3H1425.2V1579.1H1414.3zM1666.6 1569.3H1688.5V1579.1H1666.6zM1787.2 1569.3H1853.1V1579.1H1787.2zM843.8 1579.1H909.7V1588.9H843.8zM1008.4 1579.1H1085.2V1588.9H1008.4zM1107.1 1579.1H1129.1V1588.9H1107.1zM1425.2 1579.1H1447.2V1588.9H1425.2zM1644.6 1579.1H1666.6V1588.9H1644.6zM1787.2 1579.1H1831.1V1588.9H1787.2zM1842.1 1579.1H1864.0V1588.9H1842.1zM1074.2 1588.9H1129.1V1598.7H1074.2zM1458.2 1588.9H1491.1V1598.7H1458.2zM1633.7 1588.9H1644.6V1598.7H1633.7zM1787.2 1588.9H1820.2V1598.7H1787.2zM1875.0 1588.9H1897.0V1598.7H1875.0zM1085.2 1598.7H1140.0V1608.5H1085.2zM1491.1 1598.7H1502.0V1608.5H1491.1zM1622.7 1598.7H1633.7V1608.5H1622.7zM1787.2 1598.7H1809.2V1608.5H1787.2zM1929.9 1598.7H1940.8V1608.5H1929.9zM2226.1 1598.7H2248.0V1608.5H2226.1zM1096.1 1608.5H1140.0V1618.3H1096.1zM1513.0 1608.5H1524.0V1618.3H1513.0zM1600.8 1608.5H1611.7V1618.3H1600.8zM1951.8 1608.5H1962.8V1618.3H1951.8zM1951.8 1618.3H1962.8V1628.0H1951.8zM1951.8 1628.0H1962.8V1637.8H1951.8zM2072.5 1637.8H2116.4V1647.6H2072.5zM1951.8 1647.6H1962.8V1657.4H1951.8zM2050.5 1647.6H2127.3V1657.4H2050.5zM1940.8 1657.4H1951.8V1667.2H1940.8zM2050.5 1657.4H2094.4V1667.2H2050.5zM2105.4 1657.4H2138.3V1667.2H2105.4zM1918.9 1667.2H1940.8V1677.0H1918.9zM2050.5 1667.2H2083.4V1677.0H2050.5zM2116.4 1667.2H2149.3V1677.0H2116.4zM1886.0 1677.0H1907.9V1686.8H1886.0zM2050.5 1677.0H2072.5V1686.8H2050.5zM2127.3 1677.0H2160.2V1686.8H2127.3zM1875.0 1686.8H1897.0V1696.6H1875.0zM2050.5 1686.8H2072.5V1696.6H2050.5zM2138.3 1686.8H2160.2V1696.6H2138.3zM1875.0 1696.6H1897.0V1706.3H1875.0zM2050.5 1696.6H2083.4V1706.3H2050.5zM2149.3 1696.6H2171.2V1706.3H2149.3zM1875.0 1706.3H1897.0V1716.1H1875.0zM2050.5 1706.3H2094.4V1716.1H2050.5zM2160.2 1706.3H2171.2V1716.1H2160.2zM1831.1 1716.1H1897.0V1725.9H1831.1zM2039.6 1716.1H2116.4V1725.9H2039.6zM2160.2 1716.1H2182.2V1725.9H2160.2zM2269.9 1716.1H2291.9V1725.9H2269.9zM2401.6 1716.1H2423.5V1725.9H2401.6zM1787.2 1725.9H1886.0V1735.7H1787.2zM2028.6 1725.9H2116.4V1735.7H2028.6zM2171.2 1725.9H2193.1V1735.7H2171.2zM2237.0 1725.9H2269.9V1735.7H2237.0zM2291.9 1725.9H2302.8V1735.7H2291.9zM2379.6 1725.9H2434.5V1735.7H2379.6zM1787.2 1735.7H1820.2V1745.5H1787.2zM1995.7 1735.7H2039.6V1745.5H1995.7zM2094.4 1735.7H2116.4V1745.5H2094.4zM2193.1 1735.7H2215.1V1745.5H2193.1zM2324.8 1735.7H2379.6V1745.5H2324.8zM2434.5 1735.7H2445.4V1745.5H2434.5zM1787.2 1745.5H1809.2V1755.3H1787.2zM1973.7 1745.5H2017.6V1755.3H1973.7zM2094.4 1745.5H2116.4V1755.3H2094.4zM2434.5 1745.5H2445.4V1755.3H2434.5zM1754.3 1755.3H1809.2V1765.1H1754.3zM1962.8 1755.3H1995.7V1765.1H1962.8zM2094.4 1755.3H2116.4V1765.1H2094.4zM1743.4 1765.1H1809.2V1774.9H1743.4zM1962.8 1765.1H1984.7V1774.9H1962.8zM1743.4 1774.9H1809.2V1784.6H1743.4zM1962.8 1774.9H1995.7V1784.6H1962.8zM2434.5 1774.9H2445.4V1784.6H2434.5zM1743.4 1784.6H1809.2V1794.4H1743.4zM1962.8 1784.6H2006.7V1794.4H1962.8zM2423.5 1784.6H2445.4V1794.4H2423.5zM1743.4 1794.4H1820.2V1804.2H1743.4zM1951.8 1794.4H2017.6V1804.2H1951.8zM2401.6 1794.4H2412.5V1804.2H2401.6zM1776.3 1804.2H1820.2V1814.0H1776.3zM1929.9 1804.2H2017.6V1814.0H1929.9zM2401.6 1804.2H2412.5V1814.0H2401.6zM1798.2 1814.0H1831.1V1823.8H1798.2zM1897.0 1814.0H1918.9V1823.8H1897.0zM1984.7 1814.0H2017.6V1823.8H1984.7zM1809.2 1823.8H1897.0V1833.6H1809.2zM1995.7 1823.8H2017.6V1833.6H1995.7zM2390.6 1823.8H2401.6V1833.6H2390.6zM1820.2 1833.6H1864.0V1843.4H1820.2zM2006.7 1833.6H2028.6V1843.4H2006.7zM2379.6 1833.6H2401.6V1843.4H2379.6zM2489.3 1833.6H2500.3V1843.4H2489.3zM2006.7 1843.4H2017.6V1853.2H2006.7zM2368.7 1843.4H2390.6V1853.2H2368.7zM2368.7 1853.2H2390.6V1863.0H2368.7zM2368.7 1863.0H2390.6V1872.7H2368.7zM2368.7 1872.7H2390.6V1882.5H2368.7zM2357.7 1882.5H2379.6V1892.3H2357.7zM2346.7 1892.3H2357.7V1902.1H2346.7zM2335.8 1902.1H2346.7V1911.9H2335.8zM416.0 1911.9H448.9V1921.7H416.0zM2237.0 1911.9H2313.8V1921.7H2237.0zM416.0 1921.7H536.7V1931.5H416.0zM2237.0 1921.7H2280.9V1931.5H2237.0zM416.0 1931.5H547.6V1941.2H416.0zM2291.9 1931.5H2313.8V1941.2H2291.9zM536.7 1941.2H558.6V1951.0H536.7zM2302.8 1941.2H2313.8V1951.0H2302.8zM547.6 1951.0H569.6V1960.8H547.6zM558.6 1960.8H624.4V1970.6H558.6zM569.6 1970.6H624.4V1980.4H569.6zM2302.8 1970.6H2313.8V1980.4H2302.8zM580.5 1980.4H624.4V1990.2H580.5zM2302.8 1980.4H2313.8V1990.2H2302.8zM591.5 1990.2H657.3V2000.0H591.5zM2280.9 1990.2H2302.8V2000.0H2280.9zM591.5 2000.0H613.5V2009.8H591.5zM2269.9 2000.0H2291.9V2009.8H2269.9zM580.5 2009.8H602.5V2019.5H580.5zM2259.0 2009.8H2280.9V2019.5H2259.0zM416.0 2019.5H437.9V2029.3H416.0zM580.5 2019.5H591.5V2029.3H580.5zM2193.1 2019.5H2269.9V2029.3H2193.1zM416.0 2029.3H448.9V2039.1H416.0zM580.5 2029.3H591.5V2039.1H580.5zM2182.2 2029.3H2193.1V2039.1H2182.2zM416.0 2039.1H448.9V2048.9H416.0zM569.6 2039.1H591.5V2048.9H569.6zM416.0 2048.9H448.9V2058.7H416.0zM558.6 2048.9H580.5V2058.7H558.6zM416.0 2058.7H448.9V2068.5H416.0zM536.7 2058.7H569.6V2068.5H536.7zM2182.2 2058.7H2193.1V2068.5H2182.2zM416.0 2068.5H448.9V2078.3H416.0zM525.7 2068.5H547.6V2078.3H525.7zM613.5 2068.5H679.3V2078.3H613.5zM2182.2 2068.5H2193.1V2078.3H2182.2zM416.0 2078.3H448.9V2088.1H416.0zM514.7 2078.3H547.6V2088.1H514.7zM580.5 2078.3H613.5V2088.1H580.5zM701.2 2078.3H712.2V2088.1H701.2zM2182.2 2078.3H2193.1V2088.1H2182.2zM437.9 2088.1H459.9V2097.8H437.9zM547.6 2088.1H580.5V2097.8H547.6zM712.2 2088.1H734.1V2097.8H712.2zM2182.2 2088.1H2193.1V2097.8H2182.2zM448.9 2097.8H470.9V2107.6H448.9zM734.1 2097.8H745.1V2107.6H734.1zM2182.2 2097.8H2193.1V2107.6H2182.2zM459.9 2107.6H492.8V2117.4H459.9zM745.1 2107.6H756.1V2117.4H745.1zM2182.2 2107.6H2193.1V2117.4H2182.2zM470.9 2117.4H492.8V2127.2H470.9zM2182.2 2117.4H2193.1V2127.2H2182.2zM470.9 2127.2H492.8V2137.0H470.9zM2182.2 2127.2H2193.1V2137.0H2182.2z"/>
<path fill="#0080ff" d="M2204.1 179.5H2215.1V189.3H2204.1zM2401.6 179.5H2412.5V189.3H2401.6zM2204.1 189.3H2215.1V199.1H2204.1zM2401.6 189.3H2412.5V199.1H2401.6zM2193.1 199.1H2215.1V208.9H2193.1zM2401.6 199.1H2412.5V208.9H2401.6zM2193.1 208.9H2204.1V218.7H2193.1zM2193.1 218.7H2204.1V228.4H2193.1zM2193.1 228.4H2204.1V238.2H2193.1zM2193.1 238.2H2204.1V248.0H2193.1zM2390.6 238.2H2401.6V248.0H2390.6zM2193.1 248.0H2204.1V257.8H2193.1zM2390.6 248.0H2401.6V257.8H2390.6zM2193.1 257.8H2204.1V267.6H2193.1zM2390.6 257.8H2401.6V267.6H2390.6zM2193.1 267.6H2215.1V277.4H2193.1zM2390.6 267.6H2401.6V277.4H2390.6zM2215.1 277.4H2226.1V287.2H2215.1zM2390.6 277.4H2401.6V287.2H2390.6zM2237.0 287.2H2269.9V296.9H2237.0zM2390.6 287.2H2401.6V296.9H2390.6zM2259.0 296.9H2291.9V306.7H2259.0zM2390.6 296.9H2401.6V306.7H2390.6zM2280.9 306.7H2335.8V316.5H2280.9zM2390.6 306.7H2401.6V316.5H2390.6zM2335.8 316.5H2357.7V326.3H2335.8zM2379.6 316.5H2401.6V326.3H2379.6zM2346.7 326.3H2390.6V336.1H2346.7zM2357.7 336.1H2379.6V345.9H2357.7zM1995.7 385.0H2028.6V394.8H1995.7zM1984.7 394.8H2006.7V404.6H1984.7zM2006.7 404.6H2017.6V414.4H2006.7zM1041.3 1363.8H1052.3V1373.6H1041.3zM1041.3 1373.6H1052.3V1383.4H1041.3zM1041.3 1383.4H1052.3V1393.1H1041.3zM865.8 1461.7H876.7V1471.5H865.8zM887.7 1461.7H920.6V1471.5H887.7zM745.1 1471.5H756.1V1481.2H745.1zM843.8 1471.5H854.8V1481.2H843.8zM931.6 1471.5H942.6V1481.2H931.6zM668.3 1481.2H679.3V1491.0H668.3zM767.0 1481.2H778.0V1491.0H767.0zM810.9 1481.2H821.9V1491.0H810.9zM942.6 1481.2H953.5V1491.0H942.6zM646.4 1491.0H657.3V1500.8H646.4zM778.0 1491.0H810.9V1500.8H778.0zM942.6 1491.0H953.5V1500.8H942.6zM1008.4 1491.0H1052.3V1500.8H1008.4zM481.8 1500.8H492.8V1510.6H481.8zM613.5 1500.8H624.4V1510.6H613.5zM789.0 1500.8H800.0V1510.6H789.0zM986.4 1500.8H1008.4V1510.6H986.4zM1063.2 1500.8H1096.1V1510.6H1063.2zM514.7 1510.6H525.7V1520.4H514.7zM953.5 1510.6H986.4V1520.4H953.5zM1096.1 1510.6H1107.1V1520.4H1096.1zM536.7 1520.4H558.6V1530.2H536.7zM964.5 1520.4H975.5V1530.2H964.5zM1107.1 1520.4H1118.1V1530.2H1107.1zM1864.0 1520.4H1875.0V1530.2H1864.0zM1886.0 1520.4H1897.0V1530.2H1886.0zM558.6 1530.2H569.6V1540.0H558.6zM821.9 1530.2H832.9V1540.0H821.9zM953.5 1530.2H975.5V1540.0H953.5zM1118.1 1530.2H1129.1V1540.0H1118.1zM1853.1 1530.2H1875.0V1540.0H1853.1zM1886.0 1530.2H1897.0V1540.0H1886.0zM558.6 1540.0H569.6V1549.8H558.6zM810.9 1540.0H843.8V1549.8H810.9zM920.6 1540.0H953.5V1549.8H920.6zM975.5 1540.0H1008.4V1549.8H975.5zM1107.1 1540.0H1129.1V1549.8H1107.1zM1162.0 1540.0H1260.7V1549.8H1162.0zM1293.6 1540.0H1359.4V1549.8H1293.6zM800.0 1549.8H865.8V1559.5H800.0zM887.7 1549.8H909.7V1559.5H887.7zM1041.3 1549.8H1162.0V1559.5H1041.3zM1271.7 1549.8H1282.6V1559.5H1271.7zM1370.4 1549.8H1381.4V1559.5H1370.4zM1710.5 1549.8H1765.3V1559.5H1710.5zM789.0 1559.5H821.9V1569.3H789.0zM1118.1 1559.5H1140.0V1569.3H1118.1zM1392.3 1559.5H1403.3V1569.3H1392.3zM1699.5 1559.5H1721.4V1569.3H1699.5zM1765.3 1559.5H1787.2V1569.3H1765.3zM789.0 1569.3H821.9V1579.1H789.0zM1129.1 1569.3H1140.0V1579.1H1129.1zM1403.3 1569.3H1414.3V1579.1H1403.3zM1688.5 1569.3H1710.5V1579.1H1688.5zM1776.3 1569.3H1787.2V1579.1H1776.3zM800.0 1579.1H843.8V1588.9H800.0zM1129.1 1579.1H1151.0V1588.9H1129.1zM1403.3 1579.1H1425.2V1588.9H1403.3zM1666.6 1579.1H1688.5V1588.9H1666.6zM1776.3 1579.1H1787.2V1588.9H1776.3zM1831.1 1579.1H1842.1V1588.9H1831.1zM810.9 1588.9H1074.2V1598.7H810.9zM1129.1 1588.9H1151.0V1598.7H1129.1zM1403.3 1588.9H1458.2V1598.7H1403.3zM1644.6 1588.9H1655.6V1598.7H1644.6zM1765.3 1588.9H1787.2V1598.7H1765.3zM1820.2 1588.9H1875.0V1598.7H1820.2zM821.9 1598.7H887.7V1608.5H821.9zM1063.2 1598.7H1085.2V1608.5H1063.2zM1140.0 1598.7H1162.0V1608.5H1140.0zM1469.1 1598.7H1491.1V1608.5H1469.1zM1633.7 1598.7H1644.6V1608.5H1633.7zM1754.3 1598.7H1787.2V1608.5H1754.3zM1809.2 1598.7H1853.1V1608.5H1809.2zM1897.0 1598.7H1929.9V1608.5H1897.0zM1074.2 1608.5H1096.1V1618.3H1074.2zM1140.0 1608.5H1162.0V1618.3H1140.0zM1502.0 1608.5H1513.0V1618.3H1502.0zM1611.7 1608.5H1633.7V1618.3H1611.7zM1765.3 1608.5H1831.1V1618.3H1765.3zM1929.9 1608.5H1951.8V1618.3H1929.9zM1085.2 1618.3H1162.0V1628.0H1085.2zM1524.0 1618.3H1600.8V1628.0H1524.0zM1940.8 1618.3H1951.8V1628.0H1940.8zM1118.1 1628.0H1151.0V1637.8H1118.1zM1129.1 1637.8H1140.0V1647.6H1129.1zM1951.8 1637.8H1962.8V1647.6H1951.8zM1929.9 1657.4H1940.8V1667.2H1929.9zM2094.4 1657.4H2105.4V1667.2H2094.4zM1886.0 1667.2H1918.9V1677.0H1886.0zM2083.4 1667.2H2116.4V1677.0H2083.4zM1864.0 1677.0H1886.0V1686.8H1864.0zM2072.5 1677.0H2127.3V1686.8H2072.5zM1864.0 1686.8H1875.0V1696.6H1864.0zM2072.5 1686.8H2138.3V1696.6H2072.5zM1853.1 1696.6H1875.0V1706.3H1853.1zM2083.4 1696.6H2149.3V1706.3H2083.4zM1809.2 1706.3H1875.0V1716.1H1809.2zM2094.4 1706.3H2160.2V1716.1H2094.4zM1787.2 1716.1H1831.1V1725.9H1787.2zM2116.4 1716.1H2160.2V1725.9H2116.4zM1776.3 1725.9H1787.2V1735.7H1776.3zM2116.4 1725.9H2171.2V1735.7H2116.4zM2269.9 1725.9H2291.9V1735.7H2269.9zM1765.3 1735.7H1787.2V1745.5H1765.3zM2039.6 1735.7H2094.4V1745.5H2039.6zM2116.4 1735.7H2138.3V1745.5H2116.4zM2160.2 1735.7H2193.1V1745.5H2160.2zM2215.1 1735.7H2248.0V1745.5H2215.1zM2302.8 1735.7H2324.8V1745.5H2302.8zM2379.6 1735.7H2434.5V1745.5H2379.6zM1743.4 1745.5H1787.2V1755.3H1743.4zM2017.6 1745.5H2050.5V1755.3H2017.6zM2072.5 1745.5H2094.4V1755.3H2072.5zM2116.4 1745.5H2127.3V1755.3H2116.4zM2182.2 1745.5H2204.1V1755.3H2182.2zM2357.7 1745.5H2379.6V1755.3H2357.7zM2423.5 1745.5H2434.5V1755.3H2423.5zM1732.4 1755.3H1754.3V1765.1H1732.4zM1995.7 1755.3H2028.6V1765.1H1995.7zM2083.4 1755.3H2094.4V1765.1H2083.4zM2116.4 1755.3H2127.3V1765.1H2116.4zM2434.5 1755.3H2445.4V1765.1H2434.5zM1732.4 1765.1H1743.4V1774.9H1732.4zM1984.7 1765.1H2017.6V1774.9H1984.7zM2094.4 1765.1H2116.4V1774.9H2094.4zM2434.5 1765.1H2445.4V1774.9H2434.5zM1732.4 1774.9H1743.4V1784.6H1732.4zM1995.7 1774.9H2028.6V1784.6H1995.7zM2423.5 1774.9H2434.5V1784.6H2423.5zM1732.4 1784.6H1743.4V1794.4H1732.4zM2006.7 1784.6H2028.6V1794.4H2006.7zM2401.6 1784.6H2423.5V1794.4H2401.6zM1732.4 1794.4H1743.4V1804.2H1732.4zM2017.6 1794.4H2028.6V1804.2H2017.6zM1732.4 1804.2H1776.3V1814.0H1732.4zM2017.6 1804.2H2028.6V1814.0H2017.6zM1765.3 1814.0H1798.2V1823.8H1765.3zM1918.9 1814.0H1984.7V1823.8H1918.9zM2017.6 1814.0H2039.6V1823.8H2017.6zM2390.6 1814.0H2401.6V1823.8H2390.6zM1787.2 1823.8H1809.2V1833.6H1787.2zM1897.0 1823.8H1918.9V1833.6H1897.0zM1951.8 1823.8H1995.7V1833.6H1951.8zM2017.6 1823.8H2039.6V1833.6H2017.6zM2379.6 1823.8H2390.6V1833.6H2379.6zM1798.2 1833.6H1820.2V1843.4H1798.2zM1864.0 1833.6H1897.0V1843.4H1864.0zM1973.7 1833.6H2006.7V1843.4H1973.7zM2028.6 1833.6H2039.6V1843.4H2028.6zM2357.7 1833.6H2379.6V1843.4H2357.7zM1831.1 1843.4H1864.0V1853.2H1831.1zM1973.7 1843.4H2006.7V1853.2H1973.7zM2017.6 1843.4H2039.6V1853.2H2017.6zM2357.7 1843.4H2368.7V1853.2H2357.7zM1984.7 1853.2H2028.6V1863.0H1984.7zM2357.7 1853.2H2368.7V1863.0H2357.7zM1995.7 1863.0H2028.6V1872.7H1995.7zM2193.1 1863.0H2204.1V1872.7H2193.1zM2357.7 1863.0H2368.7V1872.7H2357.7zM2006.7 1872.7H2017.6V1882.5H2006.7zM2182.2 1872.7H2215.1V1882.5H2182.2zM2357.7 1872.7H2368.7V1882.5H2357.7zM2182.2 1882.5H2215.1V1892.3H2182.2zM2346.7 1882.5H2357.7V1892.3H2346.7zM2193.1 1892.3H2226.1V1902.1H2193.1zM2335.8 1892.3H2346.7V1902.1H2335.8zM416.0 1902.1H470.9V1911.9H416.0zM2193.1 1902.1H2259.0V1911.9H2193.1zM2291.9 1902.1H2335.8V1911.9H2291.9zM448.9 1911.9H536.7V1921.7H448.9zM2193.1 1911.9H2237.0V1921.7H2193.1zM536.7 1921.7H547.6V1931.5H536.7zM2204.1 1921.7H2237.0V1931.5H2204.1zM547.6 1931.5H558.6V1941.2H547.6zM2226.1 1931.5H2291.9V1941.2H2226.1zM558.6 1941.2H580.5V1951.0H558.6zM2226.1 1941.2H2259.0V1951.0H2226.1zM2291.9 1941.2H2302.8V1951.0H2291.9zM569.6 1951.0H624.4V1960.8H569.6zM2302.8 1951.0H2313.8V1960.8H2302.8zM624.4 1960.8H635.4V1970.6H624.4zM2302.8 1960.8H2313.8V1970.6H2302.8zM624.4 1970.6H646.4V1980.4H624.4zM2291.9 1970.6H2302.8V1980.4H2291.9zM624.4 1980.4H657.3V1990.2H624.4zM2280.9 1980.4H2302.8V1990.2H2280.9zM657.3 1990.2H668.3V2000.0H657.3zM2259.0 1990.2H2280.9V2000.0H2259.0zM613.5 2000.0H657.3V2009.8H613.5zM2193.1 2000.0H2204.1V2009.8H2193.1zM2248.0 2000.0H2269.9V2009.8H2248.0zM602.5 2009.8H624.4V2019.5H602.5zM2193.1 2009.8H2259.0V2019.5H2193.1zM591.5 2019.5H613.5V2029.3H591.5zM2182.2 2019.5H2193.1V2029.3H2182.2zM591.5 2029.3H602.5V2039.1H591.5zM2171.2 2029.3H2182.2V2039.1H2171.2zM591.5 2039.1H602.5V2048.9H591.5zM2171.2 2039.1H2182.2V2048.9H2171.2zM580.5 2048.9H602.5V2058.7H580.5zM2171.2 2048.9H2182.2V2058.7H2171.2zM569.6 2058.7H635.4V2068.5H569.6zM2171.2 2058.7H2182.2V2068.5H2171.2zM547.6 2068.5H613.5V2078.3H547.6zM679.3 2068.5H701.2V2078.3H679.3zM2171.2 2068.5H2182.2V2078.3H2171.2zM547.6 2078.3H580.5V2088.1H547.6zM712.2 2078.3H734.1V2088.1H712.2zM2171.2 2078.3H2182.2V2088.1H2171.2zM416.0 2088.1H437.9V2097.8H416.0zM734.1 2088.1H745.1V2097.8H734.1zM416.0 2097.8H448.9V2107.6H416.0zM745.1 2097.8H756.1V2107.6H745.1zM416.0 2107.6H459.9V2117.4H416.0zM756.1 2107.6H767.0V2117.4H756.1zM416.0 2117.4H470.9V2127.2H416.0zM756.1 2117.4H767.0V2127.2H756.1zM416.0 2127.2H470.9V2137.0H416.0zM756.1 2127.2H767.0V2137.0H756.1z"/>
<path fill="#008fff" d="M2215.1 179.5H2226.1V189.3H2215.1zM2215.1 189.3H2226.1V199.1H2215.1zM2215.1 199.1H2226.1V208.9H2215.1zM2204.1 208.9H2226.1V218.7H2204.1zM2204.1 218.7H2215.1V228.4H2204.1zM2390.6 218.7H2401.6V228.4H2390.6zM2204.1 228.4H2215.1V238.2H2204.1zM2390.6 228.4H2401.6V238.2H2390.6zM2204.1 238.2H2215.1V248.0H2204.1zM2204.1 248.0H2215.1V257.8H2204.1zM2204.1 257.8H2226.1V267.6H2204.1zM2215.1 267.6H2226.1V277.4H2215.1zM2379.6 267.6H2390.6V277.4H2379.6zM2226.1 277.4H2280.9V287.2H2226.1zM2379.6 277.4H2390.6V287.2H2379.6zM2269.9 287.2H2291.9V296.9H2269.9zM2379.6 287.2H2390.6V296.9H2379.6zM2291.9 296.9H2313.8V306.7H2291.9zM2379.6 296.9H2390.6V306.7H2379.6zM2335.8 306.7H2357.7V316.5H2335.8zM2379.6 306.7H2390.6V316.5H2379.6zM2357.7 316.5H2379.6V326.3H2357.7zM2006.7 394.8H2028.6V404.6H2006.7zM876.7 1461.7H887.7V1471.5H876.7zM690.2 1471.5H745.1V1481.2H690.2zM854.8 1471.5H876.7V1481.2H854.8zM920.6 1471.5H931.6V1481.2H920.6zM679.3 1481.2H690.2V1491.0H679.3zM756.1 1481.2H767.0V1491.0H756.1zM821.9 1481.2H843.8V1491.0H821.9zM931.6 1481.2H942.6V1491.0H931.6zM657.3 1491.0H668.3V1500.8H657.3zM767.0 1491.0H778.0V1500.8H767.0zM810.9 1491.0H832.9V1500.8H810.9zM416.0 1500.8H481.8V1510.6H416.0zM624.4 1500.8H646.4V1510.6H624.4zM778.0 1500.8H789.0V1510.6H778.0zM800.0 1500.8H832.9V1510.6H800.0zM942.6 1500.8H953.5V1510.6H942.6zM1008.4 1500.8H1063.2V1510.6H1008.4zM503.8 1510.6H514.7V1520.4H503.8zM591.5 1510.6H602.5V1520.4H591.5zM778.0 1510.6H832.9V1520.4H778.0zM942.6 1510.6H953.5V1520.4H942.6zM986.4 1510.6H1008.4V1520.4H986.4zM1074.2 1510.6H1096.1V1520.4H1074.2zM525.7 1520.4H536.7V1530.2H525.7zM580.5 1520.4H591.5V1530.2H580.5zM789.0 1520.4H843.8V1530.2H789.0zM942.6 1520.4H964.5V1530.2H942.6zM975.5 1520.4H986.4V1530.2H975.5zM1875.0 1520.4H1886.0V1530.2H1875.0zM547.6 1530.2H558.6V1540.0H547.6zM569.6 1530.2H580.5V1540.0H569.6zM800.0 1530.2H821.9V1540.0H800.0zM832.9 1530.2H843.8V1540.0H832.9zM931.6 1530.2H953.5V1540.0H931.6zM975.5 1530.2H997.4V1540.0H975.5zM1107.1 1530.2H1118.1V1540.0H1107.1zM1875.0 1530.2H1886.0V1540.0H1875.0zM547.6 1540.0H558.6V1549.8H547.6zM569.6 1540.0H580.5V1549.8H569.6zM789.0 1540.0H810.9V1549.8H789.0zM843.8 1540.0H854.8V1549.8H843.8zM909.7 1540.0H920.6V1549.8H909.7zM1008.4 1540.0H1107.1V1549.8H1008.4zM547.6 1549.8H569.6V1559.5H547.6zM778.0 1549.8H800.0V1559.5H778.0zM865.8 1549.8H887.7V1559.5H865.8zM1162.0 1549.8H1172.9V1559.5H1162.0zM1238.8 1549.8H1271.7V1559.5H1238.8zM1282.6 1549.8H1370.4V1559.5H1282.6zM734.1 1559.5H789.0V1569.3H734.1zM1140.0 1559.5H1151.0V1569.3H1140.0zM1370.4 1559.5H1392.3V1569.3H1370.4zM1721.4 1559.5H1765.3V1569.3H1721.4zM723.2 1569.3H789.0V1579.1H723.2zM1140.0 1569.3H1151.0V1579.1H1140.0zM1381.4 1569.3H1403.3V1579.1H1381.4zM1710.5 1569.3H1743.4V1579.1H1710.5zM1754.3 1569.3H1776.3V1579.1H1754.3zM745.1 1579.1H800.0V1588.9H745.1zM1151.0 1579.1H1162.0V1588.9H1151.0zM1381.4 1579.1H1403.3V1588.9H1381.4zM1688.5 1579.1H1776.3V1588.9H1688.5zM778.0 1588.9H810.9V1598.7H778.0zM1151.0 1588.9H1162.0V1598.7H1151.0zM1381.4 1588.9H1403.3V1598.7H1381.4zM1655.6 1588.9H1765.3V1598.7H1655.6zM800.0 1598.7H821.9V1608.5H800.0zM887.7 1598.7H1063.2V1608.5H887.7zM1162.0 1598.7H1172.9V1608.5H1162.0zM1370.4 1598.7H1469.1V1608.5H1370.4zM1644.6 1598.7H1655.6V1608.5H1644.6zM1721.4 1598.7H1754.3V1608.5H1721.4zM1853.1 1598.7H1897.0V1608.5H1853.1zM832.9 1608.5H887.7V1618.3H832.9zM1063.2 1608.5H1074.2V1618.3H1063.2zM1162.0 1608.5H1172.9V1618.3H1162.0zM1381.4 1608.5H1425.2V1618.3H1381.4zM1469.1 1608.5H1502.0V1618.3H1469.1zM1633.7 1608.5H1644.6V1618.3H1633.7zM1721.4 1608.5H1765.3V1618.3H1721.4zM1831.1 1608.5H1864.0V1618.3H1831.1zM1907.9 1608.5H1929.9V1618.3H1907.9zM1074.2 1618.3H1085.2V1628.0H1074.2zM1162.0 1618.3H1172.9V1628.0H1162.0zM1502.0 1618.3H1524.0V1628.0H1502.0zM1600.8 1618.3H1633.7V1628.0H1600.8zM1710.5 1618.3H1853.1V1628.0H1710.5zM1929.9 1618.3H1940.8V1628.0H1929.9zM1085.2 1628.0H1118.1V1637.8H1085.2zM1151.0 1628.0H1172.9V1637.8H1151.0zM1699.5 1628.0H1776.3V1637.8H1699.5zM1820.2 1628.0H1842.1V1637.8H1820.2zM1940.8 1628.0H1951.8V1637.8H1940.8zM1096.1 1637.8H1129.1V1647.6H1096.1zM1140.0 1637.8H1172.9V1647.6H1140.0zM1688.5 1637.8H1743.4V1647.6H1688.5zM1940.8 1637.8H1951.8V1647.6H1940.8zM1118.1 1647.6H1162.0V1657.4H1118.1zM1688.5 1647.6H1732.4V1657.4H1688.5zM1940.8 1647.6H1951.8V1657.4H1940.8zM1897.0 1657.4H1929.9V1667.2H1897.0zM1853.1 1667.2H1886.0V1677.0H1853.1zM1853.1 1677.0H1864.0V1686.8H1853.1zM1842.1 1686.8H1864.0V1696.6H1842.1zM1809.2 1696.6H1853.1V1706.3H1809.2zM1787.2 1706.3H1809.2V1716.1H1787.2zM1765.3 1716.1H1787.2V1725.9H1765.3zM1754.3 1725.9H1776.3V1735.7H1754.3zM1743.4 1735.7H1765.3V1745.5H1743.4zM2138.3 1735.7H2160.2V1745.5H2138.3zM2248.0 1735.7H2302.8V1745.5H2248.0zM1732.4 1745.5H1743.4V1755.3H1732.4zM2050.5 1745.5H2072.5V1755.3H2050.5zM2127.3 1745.5H2182.2V1755.3H2127.3zM2204.1 1745.5H2248.0V1755.3H2204.1zM2324.8 1745.5H2357.7V1755.3H2324.8zM2379.6 1745.5H2401.6V1755.3H2379.6zM2412.5 1745.5H2423.5V1755.3H2412.5zM1721.4 1755.3H1732.4V1765.1H1721.4zM2028.6 1755.3H2083.4V1765.1H2028.6zM2127.3 1755.3H2149.3V1765.1H2127.3zM2171.2 1755.3H2193.1V1765.1H2171.2zM2423.5 1755.3H2434.5V1765.1H2423.5zM1721.4 1765.1H1732.4V1774.9H1721.4zM2017.6 1765.1H2050.5V1774.9H2017.6zM2072.5 1765.1H2094.4V1774.9H2072.5zM2116.4 1765.1H2138.3V1774.9H2116.4zM2423.5 1765.1H2434.5V1774.9H2423.5zM1721.4 1774.9H1732.4V1784.6H1721.4zM2028.6 1774.9H2050.5V1784.6H2028.6zM2401.6 1774.9H2423.5V1784.6H2401.6zM1721.4 1784.6H1732.4V1794.4H1721.4zM2028.6 1784.6H2039.6V1794.4H2028.6zM1721.4 1794.4H1732.4V1804.2H1721.4zM2028.6 1794.4H2039.6V1804.2H2028.6zM2390.6 1794.4H2401.6V1804.2H2390.6zM1721.4 1804.2H1732.4V1814.0H1721.4zM2028.6 1804.2H2039.6V1814.0H2028.6zM2390.6 1804.2H2401.6V1814.0H2390.6zM1721.4 1814.0H1765.3V1823.8H1721.4zM2039.6 1814.0H2050.5V1823.8H2039.6zM2379.6 1814.0H2390.6V1823.8H2379.6zM1754.3 1823.8H1787.2V1833.6H1754.3zM1918.9 1823.8H1951.8V1833.6H1918.9zM2039.6 1823.8H2050.5V1833.6H2039.6zM2368.7 1823.8H2379.6V1833.6H2368.7zM1776.3 1833.6H1798.2V1843.4H1776.3zM1897.0 1833.6H1907.9V1843.4H1897.0zM1951.8 1833.6H1973.7V1843.4H1951.8zM2039.6 1833.6H2050.5V1843.4H2039.6zM2346.7 1833.6H2357.7V1843.4H2346.7zM1798.2 1843.4H1831.1V1853.2H1798.2zM1864.0 1843.4H1897.0V1853.2H1864.0zM1962.8 1843.4H1973.7V1853.2H1962.8zM2039.6 1843.4H2050.5V1853.2H2039.6zM2346.7 1843.4H2357.7V1853.2H2346.7zM1962.8 1853.2H1984.7V1863.0H1962.8zM2028.6 1853.2H2050.5V1863.0H2028.6zM2182.2 1853.2H2204.1V1863.0H2182.2zM2346.7 1853.2H2357.7V1863.0H2346.7zM1973.7 1863.0H1995.7V1872.7H1973.7zM2028.6 1863.0H2039.6V1872.7H2028.6zM2182.2 1863.0H2193.1V1872.7H2182.2zM2204.1 1863.0H2215.1V1872.7H2204.1zM2346.7 1863.0H2357.7V1872.7H2346.7zM1984.7 1872.7H2006.7V1882.5H1984.7zM2017.6 1872.7H2039.6V1882.5H2017.6zM2215.1 1872.7H2226.1V1882.5H2215.1zM2346.7 1872.7H2357.7V1882.5H2346.7zM2215.1 1882.5H2237.0V1892.3H2215.1zM2335.8 1882.5H2346.7V1892.3H2335.8zM416.0 1892.3H470.9V1902.1H416.0zM2182.2 1892.3H2193.1V1902.1H2182.2zM2226.1 1892.3H2248.0V1902.1H2226.1zM2313.8 1892.3H2335.8V1902.1H2313.8zM470.9 1902.1H503.8V1911.9H470.9zM2182.2 1902.1H2193.1V1911.9H2182.2zM2259.0 1902.1H2291.9V1911.9H2259.0zM536.7 1911.9H547.6V1921.7H536.7zM547.6 1921.7H569.6V1931.5H547.6zM2193.1 1921.7H2204.1V1931.5H2193.1zM558.6 1931.5H591.5V1941.2H558.6zM2204.1 1931.5H2226.1V1941.2H2204.1zM580.5 1941.2H635.4V1951.0H580.5zM2215.1 1941.2H2226.1V1951.0H2215.1zM2259.0 1941.2H2291.9V1951.0H2259.0zM624.4 1951.0H646.4V1960.8H624.4zM2226.1 1951.0H2259.0V1960.8H2226.1zM2291.9 1951.0H2302.8V1960.8H2291.9zM635.4 1960.8H657.3V1970.6H635.4zM2226.1 1960.8H2259.0V1970.6H2226.1zM2291.9 1960.8H2302.8V1970.6H2291.9zM646.4 1970.6H657.3V1980.4H646.4zM2226.1 1970.6H2269.9V1980.4H2226.1zM2280.9 1970.6H2291.9V1980.4H2280.9zM657.3 1980.4H668.3V1990.2H657.3zM2237.0 1980.4H2280.9V1990.2H2237.0zM2193.1 1990.2H2215.1V2000.0H2193.1zM2237.0 1990.2H2259.0V2000.0H2237.0zM657.3 2000.0H668.3V2009.8H657.3zM2182.2 2000.0H2193.1V2009.8H2182.2zM2204.1 2000.0H2248.0V2009.8H2204.1zM624.4 2009.8H646.4V2019.5H624.4zM2182.2 2009.8H2193.1V2019.5H2182.2zM613.5 2019.5H624.4V2029.3H613.5zM602.5 2029.3H613.5V2039.1H602.5zM602.5 2039.1H613.5V2048.9H602.5zM2160.2 2039.1H2171.2V2048.9H2160.2zM602.5 2048.9H624.4V2058.7H602.5zM635.4 2058.7H668.3V2068.5H635.4zM701.2 2068.5H734.1V2078.3H701.2zM734.1 2078.3H745.1V2088.1H734.1zM745.1 2088.1H756.1V2097.8H745.1zM2171.2 2088.1H2182.2V2097.8H2171.2zM2171.2 2097.8H2182.2V2107.6H2171.2zM2171.2 2107.6H2182.2V2117.4H2171.2zM767.0 2117.4H778.0V2127.2H767.0zM2171.2 2117.4H2182.2V2127.2H2171.2zM767.0 2127.2H778.0V2137.0H767.0zM2171.2 2127.2H2182.2V2137.0H2171.2z"/>
<path fill="#009fff" d="M2226.1 179.5H2237.0V189.3H2226.1zM2390.6 179.5H2401.6V189.3H2390.6zM2226.1 189.3H2237.0V199.1H2226.1zM2390.6 189.3H2401.6V199.1H2390.6zM2226.1 199.1H2237.0V208.9H2226.1zM2390.6 199.1H2401.6V208.9H2390.6zM2226.1 208.9H2237.0V218.7H2226.1zM2390.6 208.9H2401.6V218.7H2390.6zM2215.1 218.7H2226.1V228.4H2215.1zM2215.1 228.4H2226.1V238.2H2215.1zM2215.1 238.2H2226.1V248.0H2215.1zM2215.1 248.0H2226.1V257.8H2215.1zM2379.6 248.0H2390.6V257.8H2379.6zM2226.1 257.8H2237.0V267.6H2226.1zM2379.6 257.8H2390.6V267.6H2379.6zM2226.1 267.6H2280.9V277.4H2226.1zM2368.7 267.6H2379.6V277.4H2368.7zM2280.9 277.4H2291.9V287.2H2280.9zM2357.7 277.4H2379.6V287.2H2357.7zM2291.9 287.2H2302.8V296.9H2291.9zM2357.7 287.2H2379.6V296.9H2357.7zM2313.8 296.9H2379.6V306.7H2313.8zM2357.7 306.7H2379.6V316.5H2357.7zM876.7 1471.5H920.6V1481.2H876.7zM745.1 1481.2H756.1V1491.0H745.1zM843.8 1481.2H876.7V1491.0H843.8zM668.3 1491.0H679.3V1500.8H668.3zM756.1 1491.0H767.0V1500.8H756.1zM832.9 1491.0H854.8V1500.8H832.9zM931.6 1491.0H942.6V1500.8H931.6zM646.4 1500.8H668.3V1510.6H646.4zM767.0 1500.8H778.0V1510.6H767.0zM832.9 1500.8H854.8V1510.6H832.9zM931.6 1500.8H942.6V1510.6H931.6zM492.8 1510.6H503.8V1520.4H492.8zM767.0 1510.6H778.0V1520.4H767.0zM832.9 1510.6H854.8V1520.4H832.9zM931.6 1510.6H942.6V1520.4H931.6zM1008.4 1510.6H1074.2V1520.4H1008.4zM514.7 1520.4H525.7V1530.2H514.7zM778.0 1520.4H789.0V1530.2H778.0zM931.6 1520.4H942.6V1530.2H931.6zM986.4 1520.4H1008.4V1530.2H986.4zM1096.1 1520.4H1107.1V1530.2H1096.1zM536.7 1530.2H547.6V1540.0H536.7zM778.0 1530.2H800.0V1540.0H778.0zM843.8 1530.2H854.8V1540.0H843.8zM920.6 1530.2H931.6V1540.0H920.6zM997.4 1530.2H1041.3V1540.0H997.4zM1096.1 1530.2H1107.1V1540.0H1096.1zM525.7 1540.0H547.6V1549.8H525.7zM767.0 1540.0H789.0V1549.8H767.0zM854.8 1540.0H865.8V1549.8H854.8zM887.7 1540.0H909.7V1549.8H887.7zM525.7 1549.8H547.6V1559.5H525.7zM569.6 1549.8H580.5V1559.5H569.6zM745.1 1549.8H778.0V1559.5H745.1zM1172.9 1549.8H1238.8V1559.5H1172.9zM416.0 1559.5H437.9V1569.3H416.0zM514.7 1559.5H580.5V1569.3H514.7zM712.2 1559.5H734.1V1569.3H712.2zM1151.0 1559.5H1172.9V1569.3H1151.0zM1249.7 1559.5H1315.5V1569.3H1249.7zM1359.4 1559.5H1370.4V1569.3H1359.4zM416.0 1569.3H448.9V1579.1H416.0zM690.2 1569.3H723.2V1579.1H690.2zM1151.0 1569.3H1162.0V1579.1H1151.0zM1271.7 1569.3H1282.6V1579.1H1271.7zM1370.4 1569.3H1381.4V1579.1H1370.4zM1743.4 1569.3H1754.3V1579.1H1743.4zM701.2 1579.1H745.1V1588.9H701.2zM1162.0 1579.1H1172.9V1588.9H1162.0zM1359.4 1579.1H1381.4V1588.9H1359.4zM723.2 1588.9H778.0V1598.7H723.2zM1162.0 1588.9H1183.9V1598.7H1162.0zM1315.5 1588.9H1381.4V1598.7H1315.5zM756.1 1598.7H800.0V1608.5H756.1zM1172.9 1598.7H1183.9V1608.5H1172.9zM1304.6 1598.7H1370.4V1608.5H1304.6zM1655.6 1598.7H1721.4V1608.5H1655.6zM800.0 1608.5H832.9V1618.3H800.0zM887.7 1608.5H1063.2V1618.3H887.7zM1172.9 1608.5H1194.9V1618.3H1172.9zM1304.6 1608.5H1381.4V1618.3H1304.6zM1425.2 1608.5H1469.1V1618.3H1425.2zM1644.6 1608.5H1655.6V1618.3H1644.6zM1688.5 1608.5H1721.4V1618.3H1688.5zM1864.0 1608.5H1907.9V1618.3H1864.0zM964.5 1618.3H975.5V1628.0H964.5zM1063.2 1618.3H1074.2V1628.0H1063.2zM1172.9 1618.3H1194.9V1628.0H1172.9zM1315.5 1618.3H1502.0V1628.0H1315.5zM1633.7 1618.3H1655.6V1628.0H1633.7zM1677.6 1618.3H1710.5V1628.0H1677.6zM1853.1 1618.3H1929.9V1628.0H1853.1zM1074.2 1628.0H1085.2V1637.8H1074.2zM1172.9 1628.0H1194.9V1637.8H1172.9zM1381.4 1628.0H1425.2V1637.8H1381.4zM1524.0 1628.0H1622.7V1637.8H1524.0zM1633.7 1628.0H1699.5V1637.8H1633.7zM1776.3 1628.0H1820.2V1637.8H1776.3zM1842.1 1628.0H1875.0V1637.8H1842.1zM1907.9 1628.0H1940.8V1637.8H1907.9zM1085.2 1637.8H1096.1V1647.6H1085.2zM1172.9 1637.8H1194.9V1647.6H1172.9zM1655.6 1637.8H1688.5V1647.6H1655.6zM1743.4 1637.8H1787.2V1647.6H1743.4zM1809.2 1637.8H1864.0V1647.6H1809.2zM1929.9 1637.8H1940.8V1647.6H1929.9zM1085.2 1647.6H1118.1V1657.4H1085.2zM1162.0 1647.6H1183.9V1657.4H1162.0zM1666.6 1647.6H1688.5V1657.4H1666.6zM1732.4 1647.6H1765.3V1657.4H1732.4zM1820.2 1647.6H1875.0V1657.4H1820.2zM1918.9 1647.6H1940.8V1657.4H1918.9zM1096.1 1657.4H1172.9V1667.2H1096.1zM1688.5 1657.4H1732.4V1667.2H1688.5zM1820.2 1657.4H1897.0V1667.2H1820.2zM1118.1 1667.2H1151.0V1677.0H1118.1zM1820.2 1667.2H1853.1V1677.0H1820.2zM1820.2 1677.0H1853.1V1686.8H1820.2zM1809.2 1686.8H1842.1V1696.6H1809.2zM1776.3 1696.6H1809.2V1706.3H1776.3zM1765.3 1706.3H1787.2V1716.1H1765.3zM1743.4 1716.1H1765.3V1725.9H1743.4zM1721.4 1725.9H1754.3V1735.7H1721.4zM1710.5 1735.7H1743.4V1745.5H1710.5zM1710.5 1745.5H1732.4V1755.3H1710.5zM2248.0 1745.5H2259.0V1755.3H2248.0zM2302.8 1745.5H2324.8V1755.3H2302.8zM2401.6 1745.5H2412.5V1755.3H2401.6zM1699.5 1755.3H1721.4V1765.1H1699.5zM2149.3 1755.3H2171.2V1765.1H2149.3zM2193.1 1755.3H2237.0V1765.1H2193.1zM2346.7 1755.3H2401.6V1765.1H2346.7zM2412.5 1755.3H2423.5V1765.1H2412.5zM1688.5 1765.1H1721.4V1774.9H1688.5zM2050.5 1765.1H2072.5V1774.9H2050.5zM2138.3 1765.1H2193.1V1774.9H2138.3zM2368.7 1765.1H2401.6V1774.9H2368.7zM2412.5 1765.1H2423.5V1774.9H2412.5zM1688.5 1774.9H1721.4V1784.6H1688.5zM2050.5 1774.9H2138.3V1784.6H2050.5zM2390.6 1774.9H2401.6V1784.6H2390.6zM1688.5 1784.6H1721.4V1794.4H1688.5zM2039.6 1784.6H2061.5V1794.4H2039.6zM2390.6 1784.6H2401.6V1794.4H2390.6zM1688.5 1794.4H1721.4V1804.2H1688.5zM2039.6 1794.4H2050.5V1804.2H2039.6zM1688.5 1804.2H1721.4V1814.0H1688.5zM2039.6 1804.2H2050.5V1814.0H2039.6zM2379.6 1804.2H2390.6V1814.0H2379.6zM1677.6 1814.0H1721.4V1823.8H1677.6zM2050.5 1814.0H2061.5V1823.8H2050.5zM1666.6 1823.8H1754.3V1833.6H1666.6zM2050.5 1823.8H2061.5V1833.6H2050.5zM2357.7 1823.8H2368.7V1833.6H2357.7zM1655.6 1833.6H1743.4V1843.4H1655.6zM1754.3 1833.6H1776.3V1843.4H1754.3zM1907.9 1833.6H1951.8V1843.4H1907.9zM2050.5 1833.6H2061.5V1843.4H2050.5zM2335.8 1833.6H2346.7V1843.4H2335.8zM1666.6 1843.4H1721.4V1853.2H1666.6zM1776.3 1843.4H1798.2V1853.2H1776.3zM1897.0 1843.4H1907.9V1853.2H1897.0zM1940.8 1843.4H1962.8V1853.2H1940.8zM2050.5 1843.4H2061.5V1853.2H2050.5zM2182.2 1843.4H2204.1V1853.2H2182.2zM2335.8 1843.4H2346.7V1853.2H2335.8zM1820.2 1853.2H1886.0V1863.0H1820.2zM1951.8 1853.2H1962.8V1863.0H1951.8zM2050.5 1853.2H2061.5V1863.0H2050.5zM2204.1 1853.2H2215.1V1863.0H2204.1zM2335.8 1853.2H2346.7V1863.0H2335.8zM1962.8 1863.0H1973.7V1872.7H1962.8zM2039.6 1863.0H2061.5V1872.7H2039.6zM2171.2 1863.0H2182.2V1872.7H2171.2zM2215.1 1863.0H2226.1V1872.7H2215.1zM2335.8 1863.0H2346.7V1872.7H2335.8zM1962.8 1872.7H1984.7V1882.5H1962.8zM2039.6 1872.7H2050.5V1882.5H2039.6zM2171.2 1872.7H2182.2V1882.5H2171.2zM2226.1 1872.7H2237.0V1882.5H2226.1zM2335.8 1872.7H2346.7V1882.5H2335.8zM416.0 1882.5H470.9V1892.3H416.0zM1973.7 1882.5H2039.6V1892.3H1973.7zM2171.2 1882.5H2182.2V1892.3H2171.2zM2237.0 1882.5H2248.0V1892.3H2237.0zM2324.8 1882.5H2335.8V1892.3H2324.8zM470.9 1892.3H492.8V1902.1H470.9zM2248.0 1892.3H2269.9V1902.1H2248.0zM2291.9 1892.3H2313.8V1902.1H2291.9zM503.8 1902.1H536.7V1911.9H503.8zM547.6 1911.9H569.6V1921.7H547.6zM2182.2 1911.9H2193.1V1921.7H2182.2zM569.6 1921.7H591.5V1931.5H569.6zM646.4 1921.7H668.3V1931.5H646.4zM2182.2 1921.7H2193.1V1931.5H2182.2zM591.5 1931.5H668.3V1941.2H591.5zM2193.1 1931.5H2204.1V1941.2H2193.1zM635.4 1941.2H668.3V1951.0H635.4zM2204.1 1941.2H2215.1V1951.0H2204.1zM646.4 1951.0H657.3V1960.8H646.4zM2215.1 1951.0H2226.1V1960.8H2215.1zM2259.0 1951.0H2291.9V1960.8H2259.0zM657.3 1960.8H668.3V1970.6H657.3zM2215.1 1960.8H2226.1V1970.6H2215.1zM2259.0 1960.8H2291.9V1970.6H2259.0zM657.3 1970.6H668.3V1980.4H657.3zM2215.1 1970.6H2226.1V1980.4H2215.1zM2269.9 1970.6H2280.9V1980.4H2269.9zM668.3 1980.4H679.3V1990.2H668.3zM2193.1 1980.4H2237.0V1990.2H2193.1zM668.3 1990.2H679.3V2000.0H668.3zM2182.2 1990.2H2193.1V2000.0H2182.2zM2215.1 1990.2H2237.0V2000.0H2215.1zM668.3 2000.0H679.3V2009.8H668.3zM646.4 2009.8H668.3V2019.5H646.4zM624.4 2019.5H646.4V2029.3H624.4zM2171.2 2019.5H2182.2V2029.3H2171.2zM613.5 2029.3H624.4V2039.1H613.5zM2160.2 2029.3H2171.2V2039.1H2160.2zM613.5 2039.1H624.4V2048.9H613.5zM624.4 2048.9H646.4V2058.7H624.4zM734.1 2048.9H745.1V2058.7H734.1zM2160.2 2048.9H2171.2V2058.7H2160.2zM668.3 2058.7H701.2V2068.5H668.3zM712.2 2058.7H745.1V2068.5H712.2zM2160.2 2058.7H2171.2V2068.5H2160.2zM734.1 2068.5H745.1V2078.3H734.1zM2160.2 2068.5H2171.2V2078.3H2160.2zM745.1 2078.3H756.1V2088.1H745.1zM2160.2 2078.3H2171.2V2088.1H2160.2zM2160.2 2088.1H2171.2V2097.8H2160.2zM756.1 2097.8H767.0V2107.6H756.1zM767.0 2107.6H778.0V2117.4H767.0z"/>
<path fill="#00afff" d="M2237.0 179.5H2248.0V189.3H2237.0zM2237.0 189.3H2248.0V199.1H2237.0zM2237.0 199.1H2248.0V208.9H2237.0zM2226.1 218.7H2237.0V228.4H2226.1zM2379.6 228.4H2390.6V238.2H2379.6zM2379.6 238.2H2390.6V248.0H2379.6zM2226.1 248.0H2237.0V257.8H2226.1zM2237.0 257.8H2280.9V267.6H2237.0zM2368.7 257.8H2379.6V267.6H2368.7zM2280.9 267.6H2291.9V277.4H2280.9zM2357.7 267.6H2368.7V277.4H2357.7zM2291.9 277.4H2302.8V287.2H2291.9zM2302.8 287.2H2313.8V296.9H2302.8zM2335.8 287.2H2357.7V296.9H2335.8zM690.2 1481.2H745.1V1491.0H690.2zM876.7 1481.2H931.6V1491.0H876.7zM679.3 1491.0H690.2V1500.8H679.3zM745.1 1491.0H756.1V1500.8H745.1zM854.8 1491.0H876.7V1500.8H854.8zM756.1 1500.8H767.0V1510.6H756.1zM854.8 1500.8H865.8V1510.6H854.8zM920.6 1500.8H931.6V1510.6H920.6zM416.0 1510.6H492.8V1520.4H416.0zM602.5 1510.6H613.5V1520.4H602.5zM635.4 1510.6H657.3V1520.4H635.4zM756.1 1510.6H767.0V1520.4H756.1zM854.8 1510.6H865.8V1520.4H854.8zM920.6 1510.6H931.6V1520.4H920.6zM503.8 1520.4H514.7V1530.2H503.8zM767.0 1520.4H778.0V1530.2H767.0zM843.8 1520.4H854.8V1530.2H843.8zM920.6 1520.4H931.6V1530.2H920.6zM1008.4 1520.4H1096.1V1530.2H1008.4zM525.7 1530.2H536.7V1540.0H525.7zM580.5 1530.2H591.5V1540.0H580.5zM767.0 1530.2H778.0V1540.0H767.0zM854.8 1530.2H865.8V1540.0H854.8zM898.7 1530.2H920.6V1540.0H898.7zM1041.3 1530.2H1096.1V1540.0H1041.3zM514.7 1540.0H525.7V1549.8H514.7zM580.5 1540.0H591.5V1549.8H580.5zM756.1 1540.0H767.0V1549.8H756.1zM865.8 1540.0H887.7V1549.8H865.8zM416.0 1549.8H437.9V1559.5H416.0zM503.8 1549.8H525.7V1559.5H503.8zM580.5 1549.8H591.5V1559.5H580.5zM723.2 1549.8H745.1V1559.5H723.2zM437.9 1559.5H470.9V1569.3H437.9zM492.8 1559.5H514.7V1569.3H492.8zM668.3 1559.5H712.2V1569.3H668.3zM1172.9 1559.5H1183.9V1569.3H1172.9zM1227.8 1559.5H1249.7V1569.3H1227.8zM1315.5 1559.5H1359.4V1569.3H1315.5zM448.9 1569.3H470.9V1579.1H448.9zM492.8 1569.3H569.6V1579.1H492.8zM668.3 1569.3H690.2V1579.1H668.3zM1162.0 1569.3H1172.9V1579.1H1162.0zM1249.7 1569.3H1271.7V1579.1H1249.7zM1282.6 1569.3H1370.4V1579.1H1282.6zM416.0 1579.1H448.9V1588.9H416.0zM679.3 1579.1H701.2V1588.9H679.3zM1172.9 1579.1H1183.9V1588.9H1172.9zM1260.7 1579.1H1359.4V1588.9H1260.7zM690.2 1588.9H723.2V1598.7H690.2zM1183.9 1588.9H1194.9V1598.7H1183.9zM1271.7 1588.9H1315.5V1598.7H1271.7zM701.2 1598.7H756.1V1608.5H701.2zM1183.9 1598.7H1205.8V1608.5H1183.9zM1282.6 1598.7H1304.6V1608.5H1282.6zM767.0 1608.5H800.0V1618.3H767.0zM1194.9 1608.5H1205.8V1618.3H1194.9zM1293.6 1608.5H1304.6V1618.3H1293.6zM1655.6 1608.5H1688.5V1618.3H1655.6zM821.9 1618.3H964.5V1628.0H821.9zM975.5 1618.3H1063.2V1628.0H975.5zM1194.9 1618.3H1205.8V1628.0H1194.9zM1293.6 1618.3H1315.5V1628.0H1293.6zM1655.6 1618.3H1677.6V1628.0H1655.6zM942.6 1628.0H1008.4V1637.8H942.6zM1052.3 1628.0H1074.2V1637.8H1052.3zM1194.9 1628.0H1205.8V1637.8H1194.9zM1304.6 1628.0H1381.4V1637.8H1304.6zM1425.2 1628.0H1524.0V1637.8H1425.2zM1622.7 1628.0H1633.7V1637.8H1622.7zM1875.0 1628.0H1907.9V1637.8H1875.0zM953.5 1637.8H975.5V1647.6H953.5zM1063.2 1637.8H1085.2V1647.6H1063.2zM1194.9 1637.8H1205.8V1647.6H1194.9zM1304.6 1637.8H1469.1V1647.6H1304.6zM1633.7 1637.8H1655.6V1647.6H1633.7zM1787.2 1637.8H1809.2V1647.6H1787.2zM1864.0 1637.8H1929.9V1647.6H1864.0zM1074.2 1647.6H1085.2V1657.4H1074.2zM1183.9 1647.6H1194.9V1657.4H1183.9zM1326.5 1647.6H1436.2V1657.4H1326.5zM1644.6 1647.6H1666.6V1657.4H1644.6zM1765.3 1647.6H1820.2V1657.4H1765.3zM1875.0 1647.6H1918.9V1657.4H1875.0zM1074.2 1657.4H1096.1V1667.2H1074.2zM1172.9 1657.4H1194.9V1667.2H1172.9zM1348.5 1657.4H1414.3V1667.2H1348.5zM1655.6 1657.4H1688.5V1667.2H1655.6zM1732.4 1657.4H1820.2V1667.2H1732.4zM1085.2 1667.2H1118.1V1677.0H1085.2zM1151.0 1667.2H1183.9V1677.0H1151.0zM1348.5 1667.2H1414.3V1677.0H1348.5zM1677.6 1667.2H1743.4V1677.0H1677.6zM1765.3 1667.2H1820.2V1677.0H1765.3zM1085.2 1677.0H1162.0V1686.8H1085.2zM1359.4 1677.0H1403.3V1686.8H1359.4zM1787.2 1677.0H1820.2V1686.8H1787.2zM1096.1 1686.8H1107.1V1696.6H1096.1zM1381.4 1686.8H1403.3V1696.6H1381.4zM1776.3 1686.8H1809.2V1696.6H1776.3zM1754.3 1696.6H1776.3V1706.3H1754.3zM1721.4 1706.3H1765.3V1716.1H1721.4zM1710.5 1716.1H1743.4V1725.9H1710.5zM1710.5 1725.9H1721.4V1735.7H1710.5zM1699.5 1735.7H1710.5V1745.5H1699.5zM1688.5 1745.5H1710.5V1755.3H1688.5zM2259.0 1745.5H2302.8V1755.3H2259.0zM1677.6 1755.3H1699.5V1765.1H1677.6zM2237.0 1755.3H2248.0V1765.1H2237.0zM2324.8 1755.3H2346.7V1765.1H2324.8zM2401.6 1755.3H2412.5V1765.1H2401.6zM1622.7 1765.1H1688.5V1774.9H1622.7zM2193.1 1765.1H2226.1V1774.9H2193.1zM2346.7 1765.1H2368.7V1774.9H2346.7zM2401.6 1765.1H2412.5V1774.9H2401.6zM1644.6 1774.9H1688.5V1784.6H1644.6zM2138.3 1774.9H2193.1V1784.6H2138.3zM2368.7 1774.9H2390.6V1784.6H2368.7zM1655.6 1784.6H1688.5V1794.4H1655.6zM2061.5 1784.6H2127.3V1794.4H2061.5zM2379.6 1784.6H2390.6V1794.4H2379.6zM1655.6 1794.4H1688.5V1804.2H1655.6zM2050.5 1794.4H2072.5V1804.2H2050.5zM2379.6 1794.4H2390.6V1804.2H2379.6zM1655.6 1804.2H1688.5V1814.0H1655.6zM2050.5 1804.2H2072.5V1814.0H2050.5zM1644.6 1814.0H1677.6V1823.8H1644.6zM2061.5 1814.0H2072.5V1823.8H2061.5zM2368.7 1814.0H2379.6V1823.8H2368.7zM1644.6 1823.8H1666.6V1833.6H1644.6zM2061.5 1823.8H2072.5V1833.6H2061.5zM2335.8 1823.8H2357.7V1833.6H2335.8zM1644.6 1833.6H1655.6V1843.4H1644.6zM1743.4 1833.6H1754.3V1843.4H1743.4zM2061.5 1833.6H2072.5V1843.4H2061.5zM2171.2 1833.6H2215.1V1843.4H2171.2zM2324.8 1833.6H2335.8V1843.4H2324.8zM1644.6 1843.4H1666.6V1853.2H1644.6zM1721.4 1843.4H1776.3V1853.2H1721.4zM1907.9 1843.4H1940.8V1853.2H1907.9zM2061.5 1843.4H2072.5V1853.2H2061.5zM2171.2 1843.4H2182.2V1853.2H2171.2zM2204.1 1843.4H2226.1V1853.2H2204.1zM2324.8 1843.4H2335.8V1853.2H2324.8zM1666.6 1853.2H1743.4V1863.0H1666.6zM1798.2 1853.2H1820.2V1863.0H1798.2zM1886.0 1853.2H1907.9V1863.0H1886.0zM1940.8 1853.2H1951.8V1863.0H1940.8zM2061.5 1853.2H2072.5V1863.0H2061.5zM2171.2 1853.2H2182.2V1863.0H2171.2zM2215.1 1853.2H2237.0V1863.0H2215.1zM2324.8 1853.2H2335.8V1863.0H2324.8zM1842.1 1863.0H1853.1V1872.7H1842.1zM1951.8 1863.0H1962.8V1872.7H1951.8zM2061.5 1863.0H2072.5V1872.7H2061.5zM2226.1 1863.0H2248.0V1872.7H2226.1zM2324.8 1863.0H2335.8V1872.7H2324.8zM416.0 1872.7H448.9V1882.5H416.0zM1951.8 1872.7H1962.8V1882.5H1951.8zM2050.5 1872.7H2072.5V1882.5H2050.5zM2237.0 1872.7H2248.0V1882.5H2237.0zM2324.8 1872.7H2335.8V1882.5H2324.8zM470.9 1882.5H492.8V1892.3H470.9zM1962.8 1882.5H1973.7V1892.3H1962.8zM2039.6 1882.5H2050.5V1892.3H2039.6zM2248.0 1882.5H2259.0V1892.3H2248.0zM2302.8 1882.5H2324.8V1892.3H2302.8zM492.8 1892.3H514.7V1902.1H492.8zM2171.2 1892.3H2182.2V1902.1H2171.2zM2269.9 1892.3H2291.9V1902.1H2269.9zM536.7 1902.1H547.6V1911.9H536.7zM2171.2 1902.1H2182.2V1911.9H2171.2zM569.6 1911.9H580.5V1921.7H569.6zM591.5 1921.7H602.5V1931.5H591.5zM624.4 1921.7H646.4V1931.5H624.4zM668.3 1921.7H679.3V1931.5H668.3zM668.3 1931.5H679.3V1941.2H668.3zM2193.1 1941.2H2204.1V1951.0H2193.1zM657.3 1951.0H668.3V1960.8H657.3zM2204.1 1951.0H2215.1V1960.8H2204.1zM668.3 1970.6H679.3V1980.4H668.3zM2204.1 1970.6H2215.1V1980.4H2204.1zM679.3 1990.2H690.2V2000.0H679.3zM679.3 2000.0H690.2V2009.8H679.3zM668.3 2009.8H679.3V2019.5H668.3zM2171.2 2009.8H2182.2V2019.5H2171.2zM646.4 2019.5H657.3V2029.3H646.4zM624.4 2029.3H635.4V2039.1H624.4zM624.4 2039.1H635.4V2048.9H624.4zM734.1 2039.1H756.1V2048.9H734.1zM2127.3 2039.1H2160.2V2048.9H2127.3zM646.4 2048.9H668.3V2058.7H646.4zM723.2 2048.9H734.1V2058.7H723.2zM745.1 2048.9H756.1V2058.7H745.1zM2149.3 2048.9H2160.2V2058.7H2149.3zM701.2 2058.7H712.2V2068.5H701.2zM745.1 2058.7H756.1V2068.5H745.1zM2149.3 2058.7H2160.2V2068.5H2149.3zM745.1 2068.5H756.1V2078.3H745.1zM756.1 2088.1H767.0V2097.8H756.1zM767.0 2097.8H778.0V2107.6H767.0zM2160.2 2097.8H2171.2V2107.6H2160.2zM778.0 2107.6H789.0V2117.4H778.0zM2160.2 2107.6H2171.2V2117.4H2160.2zM778.0 2117.4H789.0V2127.2H778.0zM2160.2 2117.4H2171.2V2127.2H2160.2zM778.0 2127.2H789.0V2137.0H778.0zM2160.2 2127.2H2171.2V2137.0H2160.2z"/>
<path fill="#00bfff" d="M2379.6 179.5H2390.6V189.3H2379.6zM2379.6 189.3H2390.6V199.1H2379.6zM2379.6 199.1H2390.6V208.9H2379.6zM2237.0 208.9H2248.0V218.7H2237.0zM2379.6 208.9H2390.6V218.7H2379.6zM2237.0 218.7H2248.0V228.4H2237.0zM2379.6 218.7H2390.6V228.4H2379.6zM2226.1 228.4H2248.0V238.2H2226.1zM2226.1 238.2H2280.9V248.0H2226.1zM2237.0 248.0H2291.9V257.8H2237.0zM2368.7 248.0H2379.6V257.8H2368.7zM2280.9 257.8H2291.9V267.6H2280.9zM2357.7 257.8H2368.7V267.6H2357.7zM2291.9 267.6H2302.8V277.4H2291.9zM2346.7 267.6H2357.7V277.4H2346.7zM2346.7 277.4H2357.7V287.2H2346.7zM2313.8 287.2H2335.8V296.9H2313.8zM723.2 1491.0H745.1V1500.8H723.2zM876.7 1491.0H931.6V1500.8H876.7zM668.3 1500.8H679.3V1510.6H668.3zM745.1 1500.8H756.1V1510.6H745.1zM865.8 1500.8H920.6V1510.6H865.8zM613.5 1510.6H635.4V1520.4H613.5zM657.3 1510.6H668.3V1520.4H657.3zM745.1 1510.6H756.1V1520.4H745.1zM865.8 1510.6H876.7V1520.4H865.8zM898.7 1510.6H920.6V1520.4H898.7zM492.8 1520.4H503.8V1530.2H492.8zM591.5 1520.4H602.5V1530.2H591.5zM756.1 1520.4H767.0V1530.2H756.1zM854.8 1520.4H865.8V1530.2H854.8zM898.7 1520.4H920.6V1530.2H898.7zM503.8 1530.2H525.7V1540.0H503.8zM756.1 1530.2H767.0V1540.0H756.1zM865.8 1530.2H876.7V1540.0H865.8zM887.7 1530.2H898.7V1540.0H887.7zM416.0 1540.0H437.9V1549.8H416.0zM503.8 1540.0H514.7V1549.8H503.8zM734.1 1540.0H756.1V1549.8H734.1zM437.9 1549.8H470.9V1559.5H437.9zM481.8 1549.8H503.8V1559.5H481.8zM657.3 1549.8H668.3V1559.5H657.3zM712.2 1549.8H723.2V1559.5H712.2zM470.9 1559.5H492.8V1569.3H470.9zM580.5 1559.5H591.5V1569.3H580.5zM646.4 1559.5H668.3V1569.3H646.4zM1183.9 1559.5H1227.8V1569.3H1183.9zM470.9 1569.3H492.8V1579.1H470.9zM569.6 1569.3H580.5V1579.1H569.6zM646.4 1569.3H668.3V1579.1H646.4zM1172.9 1569.3H1216.8V1579.1H1172.9zM1227.8 1569.3H1249.7V1579.1H1227.8zM448.9 1579.1H470.9V1588.9H448.9zM503.8 1579.1H536.7V1588.9H503.8zM668.3 1579.1H679.3V1588.9H668.3zM1183.9 1579.1H1260.7V1588.9H1183.9zM416.0 1588.9H448.9V1598.7H416.0zM679.3 1588.9H690.2V1598.7H679.3zM1194.9 1588.9H1271.7V1598.7H1194.9zM416.0 1598.7H437.9V1608.5H416.0zM690.2 1598.7H701.2V1608.5H690.2zM1205.8 1598.7H1227.8V1608.5H1205.8zM1238.8 1598.7H1282.6V1608.5H1238.8zM701.2 1608.5H734.1V1618.3H701.2zM745.1 1608.5H767.0V1618.3H745.1zM1205.8 1608.5H1227.8V1618.3H1205.8zM1271.7 1608.5H1293.6V1618.3H1271.7zM789.0 1618.3H821.9V1628.0H789.0zM1205.8 1618.3H1216.8V1628.0H1205.8zM1282.6 1618.3H1293.6V1628.0H1282.6zM843.8 1628.0H942.6V1637.8H843.8zM1008.4 1628.0H1052.3V1637.8H1008.4zM1205.8 1628.0H1216.8V1637.8H1205.8zM1282.6 1628.0H1304.6V1637.8H1282.6zM942.6 1637.8H953.5V1647.6H942.6zM975.5 1637.8H1063.2V1647.6H975.5zM1205.8 1637.8H1216.8V1647.6H1205.8zM1293.6 1637.8H1304.6V1647.6H1293.6zM1469.1 1637.8H1513.0V1647.6H1469.1zM1545.9 1637.8H1633.7V1647.6H1545.9zM942.6 1647.6H1008.4V1657.4H942.6zM1052.3 1647.6H1074.2V1657.4H1052.3zM1194.9 1647.6H1205.8V1657.4H1194.9zM1304.6 1647.6H1326.5V1657.4H1304.6zM1436.2 1647.6H1480.1V1657.4H1436.2zM1633.7 1647.6H1644.6V1657.4H1633.7zM942.6 1657.4H997.4V1667.2H942.6zM1063.2 1657.4H1074.2V1667.2H1063.2zM1194.9 1657.4H1205.8V1667.2H1194.9zM1315.5 1657.4H1348.5V1667.2H1315.5zM1414.3 1657.4H1458.2V1667.2H1414.3zM1644.6 1657.4H1655.6V1667.2H1644.6zM942.6 1667.2H997.4V1677.0H942.6zM1063.2 1667.2H1085.2V1677.0H1063.2zM1183.9 1667.2H1194.9V1677.0H1183.9zM1326.5 1667.2H1348.5V1677.0H1326.5zM1414.3 1667.2H1436.2V1677.0H1414.3zM1655.6 1667.2H1677.6V1677.0H1655.6zM1743.4 1667.2H1765.3V1677.0H1743.4zM953.5 1677.0H975.5V1686.8H953.5zM1074.2 1677.0H1085.2V1686.8H1074.2zM1162.0 1677.0H1183.9V1686.8H1162.0zM1337.5 1677.0H1359.4V1686.8H1337.5zM1403.3 1677.0H1425.2V1686.8H1403.3zM1666.6 1677.0H1787.2V1686.8H1666.6zM1074.2 1686.8H1096.1V1696.6H1074.2zM1107.1 1686.8H1162.0V1696.6H1107.1zM1337.5 1686.8H1381.4V1696.6H1337.5zM1403.3 1686.8H1425.2V1696.6H1403.3zM1710.5 1686.8H1776.3V1696.6H1710.5zM1085.2 1696.6H1118.1V1706.3H1085.2zM1348.5 1696.6H1414.3V1706.3H1348.5zM1699.5 1696.6H1754.3V1706.3H1699.5zM1085.2 1706.3H1107.1V1716.1H1085.2zM1381.4 1706.3H1414.3V1716.1H1381.4zM1699.5 1706.3H1721.4V1716.1H1699.5zM1699.5 1716.1H1710.5V1725.9H1699.5zM1688.5 1725.9H1710.5V1735.7H1688.5zM1688.5 1735.7H1699.5V1745.5H1688.5zM1666.6 1745.5H1688.5V1755.3H1666.6zM1611.7 1755.3H1677.6V1765.1H1611.7zM2248.0 1755.3H2269.9V1765.1H2248.0zM2302.8 1755.3H2324.8V1765.1H2302.8zM1600.8 1765.1H1622.7V1774.9H1600.8zM2226.1 1765.1H2248.0V1774.9H2226.1zM2324.8 1765.1H2346.7V1774.9H2324.8zM1611.7 1774.9H1644.6V1784.6H1611.7zM2193.1 1774.9H2226.1V1784.6H2193.1zM2335.8 1774.9H2368.7V1784.6H2335.8zM1611.7 1784.6H1655.6V1794.4H1611.7zM2127.3 1784.6H2193.1V1794.4H2127.3zM2368.7 1784.6H2379.6V1794.4H2368.7zM1622.7 1794.4H1655.6V1804.2H1622.7zM2072.5 1794.4H2094.4V1804.2H2072.5zM2138.3 1794.4H2160.2V1804.2H2138.3zM1622.7 1804.2H1655.6V1814.0H1622.7zM2072.5 1804.2H2083.4V1814.0H2072.5zM2368.7 1804.2H2379.6V1814.0H2368.7zM1622.7 1814.0H1644.6V1823.8H1622.7zM2072.5 1814.0H2083.4V1823.8H2072.5zM2182.2 1814.0H2193.1V1823.8H2182.2zM2335.8 1814.0H2368.7V1823.8H2335.8zM1622.7 1823.8H1644.6V1833.6H1622.7zM2072.5 1823.8H2083.4V1833.6H2072.5zM2149.3 1823.8H2215.1V1833.6H2149.3zM2313.8 1823.8H2335.8V1833.6H2313.8zM1622.7 1833.6H1644.6V1843.4H1622.7zM2072.5 1833.6H2083.4V1843.4H2072.5zM2149.3 1833.6H2171.2V1843.4H2149.3zM2215.1 1833.6H2226.1V1843.4H2215.1zM2302.8 1833.6H2324.8V1843.4H2302.8zM1633.7 1843.4H1644.6V1853.2H1633.7zM2072.5 1843.4H2083.4V1853.2H2072.5zM2160.2 1843.4H2171.2V1853.2H2160.2zM2226.1 1843.4H2248.0V1853.2H2226.1zM2302.8 1843.4H2324.8V1853.2H2302.8zM1644.6 1853.2H1666.6V1863.0H1644.6zM1743.4 1853.2H1798.2V1863.0H1743.4zM1907.9 1853.2H1940.8V1863.0H1907.9zM2072.5 1853.2H2083.4V1863.0H2072.5zM2160.2 1853.2H2171.2V1863.0H2160.2zM2237.0 1853.2H2259.0V1863.0H2237.0zM2302.8 1853.2H2324.8V1863.0H2302.8zM1666.6 1863.0H1765.3V1872.7H1666.6zM1820.2 1863.0H1842.1V1872.7H1820.2zM1853.1 1863.0H1907.9V1872.7H1853.1zM1940.8 1863.0H1951.8V1872.7H1940.8zM2072.5 1863.0H2083.4V1872.7H2072.5zM2160.2 1863.0H2171.2V1872.7H2160.2zM2248.0 1863.0H2259.0V1872.7H2248.0zM2302.8 1863.0H2324.8V1872.7H2302.8zM448.9 1872.7H481.8V1882.5H448.9zM1699.5 1872.7H1754.3V1882.5H1699.5zM1940.8 1872.7H1951.8V1882.5H1940.8zM2072.5 1872.7H2083.4V1882.5H2072.5zM2160.2 1872.7H2171.2V1882.5H2160.2zM2248.0 1872.7H2259.0V1882.5H2248.0zM2302.8 1872.7H2324.8V1882.5H2302.8zM492.8 1882.5H503.8V1892.3H492.8zM1951.8 1882.5H1962.8V1892.3H1951.8zM2050.5 1882.5H2072.5V1892.3H2050.5zM2259.0 1882.5H2269.9V1892.3H2259.0zM2291.9 1882.5H2302.8V1892.3H2291.9zM514.7 1892.3H525.7V1902.1H514.7zM1962.8 1892.3H2039.6V1902.1H1962.8zM547.6 1902.1H569.6V1911.9H547.6zM580.5 1911.9H602.5V1921.7H580.5zM635.4 1911.9H690.2V1921.7H635.4zM2171.2 1911.9H2182.2V1921.7H2171.2zM602.5 1921.7H624.4V1931.5H602.5zM679.3 1921.7H690.2V1931.5H679.3zM679.3 1931.5H690.2V1941.2H679.3zM2182.2 1931.5H2193.1V1941.2H2182.2zM668.3 1941.2H679.3V1951.0H668.3zM668.3 1951.0H679.3V1960.8H668.3zM668.3 1960.8H679.3V1970.6H668.3zM2204.1 1960.8H2215.1V1970.6H2204.1zM679.3 1970.6H690.2V1980.4H679.3zM2193.1 1970.6H2204.1V1980.4H2193.1zM679.3 1980.4H690.2V1990.2H679.3zM2182.2 1980.4H2193.1V1990.2H2182.2zM690.2 1990.2H701.2V2000.0H690.2zM690.2 2000.0H701.2V2009.8H690.2zM2171.2 2000.0H2182.2V2009.8H2171.2zM679.3 2009.8H690.2V2019.5H679.3zM657.3 2019.5H668.3V2029.3H657.3zM2160.2 2019.5H2171.2V2029.3H2160.2zM635.4 2029.3H646.4V2039.1H635.4zM734.1 2029.3H756.1V2039.1H734.1zM2116.4 2029.3H2160.2V2039.1H2116.4zM635.4 2039.1H646.4V2048.9H635.4zM723.2 2039.1H734.1V2048.9H723.2zM2083.4 2039.1H2127.3V2048.9H2083.4zM668.3 2048.9H690.2V2058.7H668.3zM712.2 2048.9H723.2V2058.7H712.2zM2094.4 2048.9H2149.3V2058.7H2094.4zM2127.3 2058.7H2149.3V2068.5H2127.3zM2149.3 2068.5H2160.2V2078.3H2149.3zM756.1 2078.3H767.0V2088.1H756.1zM2149.3 2078.3H2160.2V2088.1H2149.3zM767.0 2088.1H778.0V2097.8H767.0zM2149.3 2088.1H2160.2V2097.8H2149.3zM789.0 2107.6H800.0V2117.4H789.0zM789.0 2117.4H800.0V2127.2H789.0zM865.8 2117.4H887.7V2127.2H865.8zM789.0 2127.2H800.0V2137.0H789.0zM865.8 2127.2H887.7V2137.0H865.8z"/>
<path fill="#00cfff" d="M2248.0 179.5H2259.0V189.3H2248.0zM2248.0 189.3H2259.0V199.1H2248.0zM2248.0 199.1H2259.0V208.9H2248.0zM2248.0 208.9H2259.0V218.7H2248.0zM2248.0 218.7H2259.0V228.4H2248.0zM2248.0 228.4H2280.9V238.2H2248.0zM2280.9 238.2H2291.9V248.0H2280.9zM2368.7 238.2H2379.6V248.0H2368.7zM2291.9 257.8H2302.8V267.6H2291.9zM2302.8 277.4H2313.8V287.2H2302.8zM2335.8 277.4H2346.7V287.2H2335.8zM690.2 1491.0H723.2V1500.8H690.2zM679.3 1500.8H690.2V1510.6H679.3zM723.2 1500.8H745.1V1510.6H723.2zM668.3 1510.6H679.3V1520.4H668.3zM734.1 1510.6H745.1V1520.4H734.1zM876.7 1510.6H898.7V1520.4H876.7zM416.0 1520.4H459.9V1530.2H416.0zM481.8 1520.4H492.8V1530.2H481.8zM646.4 1520.4H657.3V1530.2H646.4zM745.1 1520.4H756.1V1530.2H745.1zM865.8 1520.4H898.7V1530.2H865.8zM416.0 1530.2H437.9V1540.0H416.0zM492.8 1530.2H503.8V1540.0H492.8zM591.5 1530.2H602.5V1540.0H591.5zM745.1 1530.2H756.1V1540.0H745.1zM876.7 1530.2H887.7V1540.0H876.7zM437.9 1540.0H470.9V1549.8H437.9zM481.8 1540.0H503.8V1549.8H481.8zM591.5 1540.0H602.5V1549.8H591.5zM646.4 1540.0H668.3V1549.8H646.4zM723.2 1540.0H734.1V1549.8H723.2zM470.9 1549.8H481.8V1559.5H470.9zM591.5 1549.8H602.5V1559.5H591.5zM646.4 1549.8H657.3V1559.5H646.4zM668.3 1549.8H712.2V1559.5H668.3zM591.5 1559.5H602.5V1569.3H591.5zM635.4 1559.5H646.4V1569.3H635.4zM580.5 1569.3H591.5V1579.1H580.5zM635.4 1569.3H646.4V1579.1H635.4zM1216.8 1569.3H1227.8V1579.1H1216.8zM470.9 1579.1H503.8V1588.9H470.9zM536.7 1579.1H558.6V1588.9H536.7zM657.3 1579.1H668.3V1588.9H657.3zM448.9 1588.9H459.9V1598.7H448.9zM514.7 1588.9H525.7V1598.7H514.7zM668.3 1588.9H679.3V1598.7H668.3zM437.9 1598.7H448.9V1608.5H437.9zM679.3 1598.7H690.2V1608.5H679.3zM1227.8 1598.7H1238.8V1608.5H1227.8zM416.0 1608.5H437.9V1618.3H416.0zM690.2 1608.5H701.2V1618.3H690.2zM734.1 1608.5H745.1V1618.3H734.1zM1227.8 1608.5H1271.7V1618.3H1227.8zM778.0 1618.3H789.0V1628.0H778.0zM1216.8 1618.3H1282.6V1628.0H1216.8zM810.9 1628.0H843.8V1637.8H810.9zM1216.8 1628.0H1282.6V1637.8H1216.8zM865.8 1637.8H942.6V1647.6H865.8zM1216.8 1637.8H1227.8V1647.6H1216.8zM1271.7 1637.8H1293.6V1647.6H1271.7zM1513.0 1637.8H1545.9V1647.6H1513.0zM931.6 1647.6H942.6V1657.4H931.6zM1008.4 1647.6H1052.3V1657.4H1008.4zM1205.8 1647.6H1216.8V1657.4H1205.8zM1282.6 1647.6H1304.6V1657.4H1282.6zM1480.1 1647.6H1513.0V1657.4H1480.1zM1556.9 1647.6H1633.7V1657.4H1556.9zM920.6 1657.4H942.6V1667.2H920.6zM997.4 1657.4H1063.2V1667.2H997.4zM1205.8 1657.4H1216.8V1667.2H1205.8zM1293.6 1657.4H1315.5V1667.2H1293.6zM1458.2 1657.4H1491.1V1667.2H1458.2zM1622.7 1657.4H1644.6V1667.2H1622.7zM909.7 1667.2H942.6V1677.0H909.7zM997.4 1667.2H1063.2V1677.0H997.4zM1194.9 1667.2H1205.8V1677.0H1194.9zM1304.6 1667.2H1326.5V1677.0H1304.6zM1436.2 1667.2H1469.1V1677.0H1436.2zM1633.7 1667.2H1655.6V1677.0H1633.7zM909.7 1677.0H953.5V1686.8H909.7zM975.5 1677.0H1041.3V1686.8H975.5zM1052.3 1677.0H1074.2V1686.8H1052.3zM1183.9 1677.0H1205.8V1686.8H1183.9zM1315.5 1677.0H1337.5V1686.8H1315.5zM1425.2 1677.0H1447.2V1686.8H1425.2zM1644.6 1677.0H1666.6V1686.8H1644.6zM909.7 1686.8H1041.3V1696.6H909.7zM1063.2 1686.8H1074.2V1696.6H1063.2zM1162.0 1686.8H1194.9V1696.6H1162.0zM1326.5 1686.8H1337.5V1696.6H1326.5zM1425.2 1686.8H1436.2V1696.6H1425.2zM1655.6 1686.8H1710.5V1696.6H1655.6zM931.6 1696.6H1041.3V1706.3H931.6zM1063.2 1696.6H1085.2V1706.3H1063.2zM1118.1 1696.6H1162.0V1706.3H1118.1zM1326.5 1696.6H1348.5V1706.3H1326.5zM1414.3 1696.6H1436.2V1706.3H1414.3zM1666.6 1696.6H1699.5V1706.3H1666.6zM942.6 1706.3H1041.3V1716.1H942.6zM1063.2 1706.3H1085.2V1716.1H1063.2zM1107.1 1706.3H1118.1V1716.1H1107.1zM1337.5 1706.3H1381.4V1716.1H1337.5zM1414.3 1706.3H1436.2V1716.1H1414.3zM1677.6 1706.3H1699.5V1716.1H1677.6zM953.5 1716.1H1041.3V1725.9H953.5zM1063.2 1716.1H1107.1V1725.9H1063.2zM1370.4 1716.1H1436.2V1725.9H1370.4zM1469.1 1716.1H1502.0V1725.9H1469.1zM1688.5 1716.1H1699.5V1725.9H1688.5zM953.5 1725.9H1019.4V1735.7H953.5zM1074.2 1725.9H1107.1V1735.7H1074.2zM1392.3 1725.9H1425.2V1735.7H1392.3zM1469.1 1725.9H1502.0V1735.7H1469.1zM1677.6 1725.9H1688.5V1735.7H1677.6zM1085.2 1735.7H1096.1V1745.5H1085.2zM1666.6 1735.7H1688.5V1745.5H1666.6zM1600.8 1745.5H1666.6V1755.3H1600.8zM1589.8 1755.3H1611.7V1765.1H1589.8zM2269.9 1755.3H2302.8V1765.1H2269.9zM1589.8 1765.1H1600.8V1774.9H1589.8zM2248.0 1765.1H2269.9V1774.9H2248.0zM2291.9 1765.1H2324.8V1774.9H2291.9zM1589.8 1774.9H1611.7V1784.6H1589.8zM2226.1 1774.9H2335.8V1784.6H2226.1zM1600.8 1784.6H1611.7V1794.4H1600.8zM2193.1 1784.6H2226.1V1794.4H2193.1zM2259.0 1784.6H2368.7V1794.4H2259.0zM1600.8 1794.4H1622.7V1804.2H1600.8zM2094.4 1794.4H2138.3V1804.2H2094.4zM2160.2 1794.4H2193.1V1804.2H2160.2zM2269.9 1794.4H2313.8V1804.2H2269.9zM2368.7 1794.4H2379.6V1804.2H2368.7zM1611.7 1804.2H1622.7V1814.0H1611.7zM2083.4 1804.2H2094.4V1814.0H2083.4zM2116.4 1804.2H2193.1V1814.0H2116.4zM2269.9 1804.2H2313.8V1814.0H2269.9zM2335.8 1804.2H2368.7V1814.0H2335.8zM1611.7 1814.0H1622.7V1823.8H1611.7zM2083.4 1814.0H2094.4V1823.8H2083.4zM2116.4 1814.0H2182.2V1823.8H2116.4zM2193.1 1814.0H2215.1V1823.8H2193.1zM2269.9 1814.0H2335.8V1823.8H2269.9zM1611.7 1823.8H1622.7V1833.6H1611.7zM2083.4 1823.8H2094.4V1833.6H2083.4zM2116.4 1823.8H2149.3V1833.6H2116.4zM2215.1 1823.8H2237.0V1833.6H2215.1zM2280.9 1823.8H2313.8V1833.6H2280.9zM1611.7 1833.6H1622.7V1843.4H1611.7zM2083.4 1833.6H2094.4V1843.4H2083.4zM2116.4 1833.6H2149.3V1843.4H2116.4zM2226.1 1833.6H2259.0V1843.4H2226.1zM2291.9 1833.6H2302.8V1843.4H2291.9zM1611.7 1843.4H1633.7V1853.2H1611.7zM2083.4 1843.4H2094.4V1853.2H2083.4zM2127.3 1843.4H2160.2V1853.2H2127.3zM2248.0 1843.4H2269.9V1853.2H2248.0zM2291.9 1843.4H2302.8V1853.2H2291.9zM1622.7 1853.2H1644.6V1863.0H1622.7zM2083.4 1853.2H2094.4V1863.0H2083.4zM2149.3 1853.2H2160.2V1863.0H2149.3zM2259.0 1853.2H2269.9V1863.0H2259.0zM2291.9 1853.2H2302.8V1863.0H2291.9zM1644.6 1863.0H1666.6V1872.7H1644.6zM1765.3 1863.0H1820.2V1872.7H1765.3zM1907.9 1863.0H1940.8V1872.7H1907.9zM2083.4 1863.0H2094.4V1872.7H2083.4zM2259.0 1863.0H2269.9V1872.7H2259.0zM2291.9 1863.0H2302.8V1872.7H2291.9zM481.8 1872.7H492.8V1882.5H481.8zM1666.6 1872.7H1699.5V1882.5H1666.6zM1754.3 1872.7H1765.3V1882.5H1754.3zM1831.1 1872.7H1907.9V1882.5H1831.1zM1929.9 1872.7H1940.8V1882.5H1929.9zM2083.4 1872.7H2094.4V1882.5H2083.4zM2259.0 1872.7H2269.9V1882.5H2259.0zM2291.9 1872.7H2302.8V1882.5H2291.9zM503.8 1882.5H514.7V1892.3H503.8zM1699.5 1882.5H1765.3V1892.3H1699.5zM1940.8 1882.5H1951.8V1892.3H1940.8zM2072.5 1882.5H2094.4V1892.3H2072.5zM2160.2 1882.5H2171.2V1892.3H2160.2zM2269.9 1882.5H2291.9V1892.3H2269.9zM525.7 1892.3H558.6V1902.1H525.7zM1721.4 1892.3H1765.3V1902.1H1721.4zM1940.8 1892.3H1962.8V1902.1H1940.8zM2039.6 1892.3H2072.5V1902.1H2039.6zM2160.2 1892.3H2171.2V1902.1H2160.2zM569.6 1902.1H591.5V1911.9H569.6zM1732.4 1902.1H1765.3V1911.9H1732.4zM1951.8 1902.1H1995.7V1911.9H1951.8zM602.5 1911.9H635.4V1921.7H602.5zM690.2 1911.9H701.2V1921.7H690.2zM1743.4 1911.9H1765.3V1921.7H1743.4zM690.2 1921.7H701.2V1931.5H690.2zM1743.4 1921.7H1754.3V1931.5H1743.4zM2171.2 1921.7H2182.2V1931.5H2171.2zM690.2 1931.5H701.2V1941.2H690.2zM2171.2 1931.5H2182.2V1941.2H2171.2zM679.3 1941.2H690.2V1951.0H679.3zM2182.2 1941.2H2193.1V1951.0H2182.2zM679.3 1951.0H690.2V1960.8H679.3zM2193.1 1951.0H2204.1V1960.8H2193.1zM679.3 1960.8H690.2V1970.6H679.3zM2193.1 1960.8H2204.1V1970.6H2193.1zM2182.2 1970.6H2193.1V1980.4H2182.2zM690.2 1980.4H701.2V1990.2H690.2zM2171.2 1990.2H2182.2V2000.0H2171.2zM2160.2 2009.8H2171.2V2019.5H2160.2zM668.3 2019.5H679.3V2029.3H668.3zM734.1 2019.5H745.1V2029.3H734.1zM2149.3 2019.5H2160.2V2029.3H2149.3zM646.4 2029.3H657.3V2039.1H646.4zM723.2 2029.3H734.1V2039.1H723.2zM2083.4 2029.3H2116.4V2039.1H2083.4zM646.4 2039.1H668.3V2048.9H646.4zM712.2 2039.1H723.2V2048.9H712.2zM2072.5 2039.1H2083.4V2048.9H2072.5zM690.2 2048.9H712.2V2058.7H690.2zM2072.5 2048.9H2094.4V2058.7H2072.5zM756.1 2058.7H767.0V2068.5H756.1zM2083.4 2058.7H2127.3V2068.5H2083.4zM756.1 2068.5H767.0V2078.3H756.1zM2116.4 2068.5H2149.3V2078.3H2116.4zM2127.3 2078.3H2149.3V2088.1H2127.3zM2138.3 2088.1H2149.3V2097.8H2138.3zM778.0 2097.8H789.0V2107.6H778.0zM2149.3 2097.8H2160.2V2107.6H2149.3zM2149.3 2107.6H2160.2V2117.4H2149.3zM800.0 2117.4H810.9V2127.2H800.0zM854.8 2117.4H865.8V2127.2H854.8zM887.7 2117.4H898.7V2127.2H887.7zM2149.3 2117.4H2160.2V2127.2H2149.3zM800.0 2127.2H810.9V2137.0H800.0zM854.8 2127.2H865.8V2137.0H854.8zM887.7 2127.2H898.7V2137.0H887.7zM2149.3 2127.2H2160.2V2137.0H2149.3z"/>
<path fill="#00dfff" d="M2368.7 179.5H2379.6V189.3H2368.7zM2368.7 189.3H2379.6V199.1H2368.7zM2368.7 199.1H2379.6V208.9H2368.7zM2259.0 208.9H2269.9V218.7H2259.0zM2368.7 208.9H2379.6V218.7H2368.7zM2259.0 218.7H2280.9V228.4H2259.0zM2368.7 218.7H2379.6V228.4H2368.7zM2280.9 228.4H2291.9V238.2H2280.9zM2368.7 228.4H2379.6V238.2H2368.7zM2291.9 238.2H2302.8V248.0H2291.9zM2291.9 248.0H2302.8V257.8H2291.9zM2357.7 248.0H2368.7V257.8H2357.7zM2302.8 257.8H2313.8V267.6H2302.8zM2346.7 257.8H2357.7V267.6H2346.7zM2302.8 267.6H2313.8V277.4H2302.8zM2335.8 267.6H2346.7V277.4H2335.8zM2313.8 277.4H2335.8V287.2H2313.8zM690.2 1500.8H723.2V1510.6H690.2zM679.3 1510.6H690.2V1520.4H679.3zM723.2 1510.6H734.1V1520.4H723.2zM459.9 1520.4H481.8V1530.2H459.9zM602.5 1520.4H613.5V1530.2H602.5zM624.4 1520.4H646.4V1530.2H624.4zM657.3 1520.4H668.3V1530.2H657.3zM734.1 1520.4H745.1V1530.2H734.1zM437.9 1530.2H470.9V1540.0H437.9zM481.8 1530.2H492.8V1540.0H481.8zM646.4 1530.2H668.3V1540.0H646.4zM734.1 1530.2H745.1V1540.0H734.1zM470.9 1540.0H481.8V1549.8H470.9zM635.4 1540.0H646.4V1549.8H635.4zM668.3 1540.0H690.2V1549.8H668.3zM712.2 1540.0H723.2V1549.8H712.2zM635.4 1549.8H646.4V1559.5H635.4zM624.4 1559.5H635.4V1569.3H624.4zM591.5 1569.3H602.5V1579.1H591.5zM624.4 1569.3H635.4V1579.1H624.4zM558.6 1579.1H580.5V1588.9H558.6zM635.4 1579.1H657.3V1588.9H635.4zM459.9 1588.9H481.8V1598.7H459.9zM492.8 1588.9H514.7V1598.7H492.8zM525.7 1588.9H536.7V1598.7H525.7zM657.3 1588.9H668.3V1598.7H657.3zM448.9 1598.7H459.9V1608.5H448.9zM668.3 1598.7H679.3V1608.5H668.3zM437.9 1608.5H448.9V1618.3H437.9zM679.3 1608.5H690.2V1618.3H679.3zM690.2 1618.3H723.2V1628.0H690.2zM756.1 1618.3H778.0V1628.0H756.1zM789.0 1628.0H810.9V1637.8H789.0zM832.9 1637.8H865.8V1647.6H832.9zM1227.8 1637.8H1271.7V1647.6H1227.8zM865.8 1647.6H931.6V1657.4H865.8zM1216.8 1647.6H1282.6V1657.4H1216.8zM1513.0 1647.6H1556.9V1657.4H1513.0zM876.7 1657.4H920.6V1667.2H876.7zM1216.8 1657.4H1227.8V1667.2H1216.8zM1271.7 1657.4H1293.6V1667.2H1271.7zM1491.1 1657.4H1622.7V1667.2H1491.1zM887.7 1667.2H909.7V1677.0H887.7zM1205.8 1667.2H1227.8V1677.0H1205.8zM1282.6 1667.2H1304.6V1677.0H1282.6zM1469.1 1667.2H1502.0V1677.0H1469.1zM1567.9 1667.2H1633.7V1677.0H1567.9zM887.7 1677.0H909.7V1686.8H887.7zM1041.3 1677.0H1052.3V1686.8H1041.3zM1205.8 1677.0H1216.8V1686.8H1205.8zM1293.6 1677.0H1315.5V1686.8H1293.6zM1447.2 1677.0H1469.1V1686.8H1447.2zM1633.7 1677.0H1644.6V1686.8H1633.7zM887.7 1686.8H909.7V1696.6H887.7zM1041.3 1686.8H1063.2V1696.6H1041.3zM1194.9 1686.8H1216.8V1696.6H1194.9zM1304.6 1686.8H1326.5V1696.6H1304.6zM1436.2 1686.8H1469.1V1696.6H1436.2zM1633.7 1686.8H1655.6V1696.6H1633.7zM898.7 1696.6H931.6V1706.3H898.7zM1041.3 1696.6H1063.2V1706.3H1041.3zM1162.0 1696.6H1205.8V1706.3H1162.0zM1304.6 1696.6H1326.5V1706.3H1304.6zM1436.2 1696.6H1502.0V1706.3H1436.2zM1644.6 1696.6H1666.6V1706.3H1644.6zM909.7 1706.3H942.6V1716.1H909.7zM1041.3 1706.3H1063.2V1716.1H1041.3zM1118.1 1706.3H1140.0V1716.1H1118.1zM1162.0 1706.3H1194.9V1716.1H1162.0zM1304.6 1706.3H1337.5V1716.1H1304.6zM1436.2 1706.3H1513.0V1716.1H1436.2zM1655.6 1706.3H1677.6V1716.1H1655.6zM931.6 1716.1H953.5V1725.9H931.6zM1041.3 1716.1H1063.2V1725.9H1041.3zM1107.1 1716.1H1118.1V1725.9H1107.1zM1304.6 1716.1H1370.4V1725.9H1304.6zM1436.2 1716.1H1469.1V1725.9H1436.2zM1502.0 1716.1H1524.0V1725.9H1502.0zM1677.6 1716.1H1688.5V1725.9H1677.6zM942.6 1725.9H953.5V1735.7H942.6zM1019.4 1725.9H1074.2V1735.7H1019.4zM1107.1 1725.9H1118.1V1735.7H1107.1zM1315.5 1725.9H1348.5V1735.7H1315.5zM1359.4 1725.9H1392.3V1735.7H1359.4zM1425.2 1725.9H1469.1V1735.7H1425.2zM1502.0 1725.9H1524.0V1735.7H1502.0zM1666.6 1725.9H1677.6V1735.7H1666.6zM953.5 1735.7H1019.4V1745.5H953.5zM1074.2 1735.7H1085.2V1745.5H1074.2zM1096.1 1735.7H1118.1V1745.5H1096.1zM1381.4 1735.7H1513.0V1745.5H1381.4zM1589.8 1735.7H1666.6V1745.5H1589.8zM1085.2 1745.5H1118.1V1755.3H1085.2zM1403.3 1745.5H1414.3V1755.3H1403.3zM1480.1 1745.5H1502.0V1755.3H1480.1zM1578.8 1745.5H1600.8V1755.3H1578.8zM1085.2 1755.3H1118.1V1765.1H1085.2zM1567.9 1755.3H1589.8V1765.1H1567.9zM1096.1 1765.1H1107.1V1774.9H1096.1zM1567.9 1765.1H1589.8V1774.9H1567.9zM2269.9 1765.1H2291.9V1774.9H2269.9zM1578.8 1774.9H1589.8V1784.6H1578.8zM1589.8 1784.6H1600.8V1794.4H1589.8zM2226.1 1784.6H2259.0V1794.4H2226.1zM1589.8 1794.4H1600.8V1804.2H1589.8zM2193.1 1794.4H2226.1V1804.2H2193.1zM2248.0 1794.4H2269.9V1804.2H2248.0zM2313.8 1794.4H2368.7V1804.2H2313.8zM1589.8 1804.2H1611.7V1814.0H1589.8zM2094.4 1804.2H2116.4V1814.0H2094.4zM2193.1 1804.2H2226.1V1814.0H2193.1zM2248.0 1804.2H2269.9V1814.0H2248.0zM2313.8 1804.2H2335.8V1814.0H2313.8zM1589.8 1814.0H1611.7V1823.8H1589.8zM2094.4 1814.0H2116.4V1823.8H2094.4zM2215.1 1814.0H2269.9V1823.8H2215.1zM1589.8 1823.8H1611.7V1833.6H1589.8zM2094.4 1823.8H2116.4V1833.6H2094.4zM2237.0 1823.8H2280.9V1833.6H2237.0zM1589.8 1833.6H1611.7V1843.4H1589.8zM2094.4 1833.6H2116.4V1843.4H2094.4zM2259.0 1833.6H2291.9V1843.4H2259.0zM1589.8 1843.4H1611.7V1853.2H1589.8zM2094.4 1843.4H2127.3V1853.2H2094.4zM2269.9 1843.4H2291.9V1853.2H2269.9zM1600.8 1853.2H1622.7V1863.0H1600.8zM2094.4 1853.2H2149.3V1863.0H2094.4zM2269.9 1853.2H2291.9V1863.0H2269.9zM416.0 1863.0H448.9V1872.7H416.0zM1611.7 1863.0H1644.6V1872.7H1611.7zM2094.4 1863.0H2160.2V1872.7H2094.4zM2269.9 1863.0H2291.9V1872.7H2269.9zM492.8 1872.7H503.8V1882.5H492.8zM1633.7 1872.7H1666.6V1882.5H1633.7zM1765.3 1872.7H1776.3V1882.5H1765.3zM1820.2 1872.7H1831.1V1882.5H1820.2zM1907.9 1872.7H1929.9V1882.5H1907.9zM2094.4 1872.7H2127.3V1882.5H2094.4zM2149.3 1872.7H2160.2V1882.5H2149.3zM2269.9 1872.7H2291.9V1882.5H2269.9zM514.7 1882.5H525.7V1892.3H514.7zM1666.6 1882.5H1699.5V1892.3H1666.6zM1765.3 1882.5H1776.3V1892.3H1765.3zM1864.0 1882.5H1940.8V1892.3H1864.0zM2094.4 1882.5H2105.4V1892.3H2094.4zM558.6 1892.3H569.6V1902.1H558.6zM1688.5 1892.3H1721.4V1902.1H1688.5zM1929.9 1892.3H1940.8V1902.1H1929.9zM2072.5 1892.3H2094.4V1902.1H2072.5zM591.5 1902.1H602.5V1911.9H591.5zM657.3 1902.1H701.2V1911.9H657.3zM1710.5 1902.1H1732.4V1911.9H1710.5zM1940.8 1902.1H1951.8V1911.9H1940.8zM1995.7 1902.1H2072.5V1911.9H1995.7zM2160.2 1902.1H2171.2V1911.9H2160.2zM1721.4 1911.9H1743.4V1921.7H1721.4zM1951.8 1911.9H1984.7V1921.7H1951.8zM2160.2 1911.9H2171.2V1921.7H2160.2zM1732.4 1921.7H1743.4V1931.5H1732.4zM1754.3 1921.7H1765.3V1931.5H1754.3zM1743.4 1931.5H1765.3V1941.2H1743.4zM690.2 1941.2H701.2V1951.0H690.2zM2171.2 1941.2H2182.2V1951.0H2171.2zM690.2 1951.0H701.2V1960.8H690.2zM2182.2 1951.0H2193.1V1960.8H2182.2zM690.2 1960.8H701.2V1970.6H690.2zM2182.2 1960.8H2193.1V1970.6H2182.2zM690.2 1970.6H701.2V1980.4H690.2zM2171.2 1970.6H2182.2V1980.4H2171.2zM2171.2 1980.4H2182.2V1990.2H2171.2zM701.2 1990.2H712.2V2000.0H701.2zM701.2 2000.0H712.2V2009.8H701.2zM1973.7 2000.0H2017.6V2009.8H1973.7zM690.2 2009.8H712.2V2019.5H690.2zM679.3 2019.5H690.2V2029.3H679.3zM712.2 2019.5H734.1V2029.3H712.2zM745.1 2019.5H756.1V2029.3H745.1zM2138.3 2019.5H2149.3V2029.3H2138.3zM657.3 2029.3H679.3V2039.1H657.3zM712.2 2029.3H723.2V2039.1H712.2zM2061.5 2029.3H2083.4V2039.1H2061.5zM668.3 2039.1H679.3V2048.9H668.3zM756.1 2039.1H767.0V2048.9H756.1zM2050.5 2039.1H2072.5V2048.9H2050.5zM756.1 2048.9H767.0V2058.7H756.1zM2050.5 2048.9H2072.5V2058.7H2050.5zM2050.5 2058.7H2083.4V2068.5H2050.5zM2061.5 2068.5H2116.4V2078.3H2061.5zM767.0 2078.3H778.0V2088.1H767.0zM2061.5 2078.3H2127.3V2088.1H2061.5zM778.0 2088.1H789.0V2097.8H778.0zM2050.5 2088.1H2083.4V2097.8H2050.5zM2116.4 2088.1H2138.3V2097.8H2116.4zM789.0 2097.8H800.0V2107.6H789.0zM2050.5 2097.8H2072.5V2107.6H2050.5zM2127.3 2097.8H2149.3V2107.6H2127.3zM800.0 2107.6H810.9V2117.4H800.0zM865.8 2107.6H887.7V2117.4H865.8zM2050.5 2107.6H2072.5V2117.4H2050.5zM2138.3 2107.6H2149.3V2117.4H2138.3zM810.9 2117.4H821.9V2127.2H810.9zM843.8 2117.4H854.8V2127.2H843.8zM2050.5 2117.4H2072.5V2127.2H2050.5zM2138.3 2117.4H2149.3V2127.2H2138.3zM810.9 2127.2H821.9V2137.0H810.9zM843.8 2127.2H854.8V2137.0H843.8zM2050.5 2127.2H2072.5V2137.0H2050.5zM2138.3 2127.2H2149.3V2137.0H2138.3z"/>
<path fill="#00efff" d="M2259.0 179.5H2269.9V189.3H2259.0zM2259.0 189.3H2269.9V199.1H2259.0zM2259.0 199.1H2269.9V208.9H2259.0zM2269.9 208.9H2280.9V218.7H2269.9zM2280.9 218.7H2291.9V228.4H2280.9zM2291.9 228.4H2302.8V238.2H2291.9zM2357.7 238.2H2368.7V248.0H2357.7zM2302.8 248.0H2313.8V257.8H2302.8zM2346.7 248.0H2357.7V257.8H2346.7zM2335.8 257.8H2346.7V267.6H2335.8zM2313.8 267.6H2335.8V277.4H2313.8zM690.2 1510.6H701.2V1520.4H690.2zM712.2 1510.6H723.2V1520.4H712.2zM613.5 1520.4H624.4V1530.2H613.5zM668.3 1520.4H679.3V1530.2H668.3zM723.2 1520.4H734.1V1530.2H723.2zM470.9 1530.2H481.8V1540.0H470.9zM602.5 1530.2H613.5V1540.0H602.5zM624.4 1530.2H646.4V1540.0H624.4zM668.3 1530.2H679.3V1540.0H668.3zM723.2 1530.2H734.1V1540.0H723.2zM602.5 1540.0H613.5V1549.8H602.5zM624.4 1540.0H635.4V1549.8H624.4zM690.2 1540.0H712.2V1549.8H690.2zM602.5 1549.8H635.4V1559.5H602.5zM602.5 1559.5H624.4V1569.3H602.5zM602.5 1569.3H624.4V1579.1H602.5zM580.5 1579.1H602.5V1588.9H580.5zM624.4 1579.1H635.4V1588.9H624.4zM481.8 1588.9H492.8V1598.7H481.8zM536.7 1588.9H558.6V1598.7H536.7zM635.4 1588.9H657.3V1598.7H635.4zM459.9 1598.7H470.9V1608.5H459.9zM503.8 1598.7H536.7V1608.5H503.8zM657.3 1598.7H668.3V1608.5H657.3zM448.9 1608.5H459.9V1618.3H448.9zM668.3 1608.5H679.3V1618.3H668.3zM416.0 1618.3H448.9V1628.0H416.0zM723.2 1618.3H756.1V1628.0H723.2zM778.0 1628.0H789.0V1637.8H778.0zM800.0 1637.8H832.9V1647.6H800.0zM843.8 1647.6H865.8V1657.4H843.8zM854.8 1657.4H876.7V1667.2H854.8zM1227.8 1657.4H1271.7V1667.2H1227.8zM865.8 1667.2H887.7V1677.0H865.8zM1227.8 1667.2H1282.6V1677.0H1227.8zM1502.0 1667.2H1567.9V1677.0H1502.0zM876.7 1677.0H887.7V1686.8H876.7zM1216.8 1677.0H1293.6V1686.8H1216.8zM1469.1 1677.0H1633.7V1686.8H1469.1zM876.7 1686.8H887.7V1696.6H876.7zM1216.8 1686.8H1304.6V1696.6H1216.8zM1469.1 1686.8H1633.7V1696.6H1469.1zM876.7 1696.6H898.7V1706.3H876.7zM1205.8 1696.6H1304.6V1706.3H1205.8zM1502.0 1696.6H1644.6V1706.3H1502.0zM876.7 1706.3H909.7V1716.1H876.7zM1140.0 1706.3H1162.0V1716.1H1140.0zM1194.9 1706.3H1304.6V1716.1H1194.9zM1513.0 1706.3H1655.6V1716.1H1513.0zM876.7 1716.1H931.6V1725.9H876.7zM1118.1 1716.1H1129.1V1725.9H1118.1zM1162.0 1716.1H1304.6V1725.9H1162.0zM1524.0 1716.1H1677.6V1725.9H1524.0zM920.6 1725.9H942.6V1735.7H920.6zM1118.1 1725.9H1129.1V1735.7H1118.1zM1271.7 1725.9H1315.5V1735.7H1271.7zM1348.5 1725.9H1359.4V1735.7H1348.5zM1524.0 1725.9H1666.6V1735.7H1524.0zM931.6 1735.7H953.5V1745.5H931.6zM1019.4 1735.7H1074.2V1745.5H1019.4zM1118.1 1735.7H1129.1V1745.5H1118.1zM1293.6 1735.7H1381.4V1745.5H1293.6zM1513.0 1735.7H1589.8V1745.5H1513.0zM953.5 1745.5H1019.4V1755.3H953.5zM1063.2 1745.5H1085.2V1755.3H1063.2zM1118.1 1745.5H1129.1V1755.3H1118.1zM1381.4 1745.5H1403.3V1755.3H1381.4zM1414.3 1745.5H1480.1V1755.3H1414.3zM1502.0 1745.5H1578.8V1755.3H1502.0zM1074.2 1755.3H1085.2V1765.1H1074.2zM1118.1 1755.3H1140.0V1765.1H1118.1zM1392.3 1755.3H1567.9V1765.1H1392.3zM1085.2 1765.1H1096.1V1774.9H1085.2zM1107.1 1765.1H1140.0V1774.9H1107.1zM1545.9 1765.1H1567.9V1774.9H1545.9zM1074.2 1774.9H1140.0V1784.6H1074.2zM1556.9 1774.9H1578.8V1784.6H1556.9zM1074.2 1784.6H1140.0V1794.4H1074.2zM1567.9 1784.6H1589.8V1794.4H1567.9zM1074.2 1794.4H1140.0V1804.2H1074.2zM1578.8 1794.4H1589.8V1804.2H1578.8zM2226.1 1794.4H2248.0V1804.2H2226.1zM931.6 1804.2H1140.0V1814.0H931.6zM1315.5 1804.2H1359.4V1814.0H1315.5zM1578.8 1804.2H1589.8V1814.0H1578.8zM2226.1 1804.2H2248.0V1814.0H2226.1zM953.5 1814.0H1151.0V1823.8H953.5zM1304.6 1814.0H1370.4V1823.8H1304.6zM1578.8 1814.0H1589.8V1823.8H1578.8zM953.5 1823.8H1151.0V1833.6H953.5zM1304.6 1823.8H1370.4V1833.6H1304.6zM1578.8 1823.8H1589.8V1833.6H1578.8zM964.5 1833.6H1172.9V1843.4H964.5zM1282.6 1833.6H1392.3V1843.4H1282.6zM1578.8 1833.6H1589.8V1843.4H1578.8zM1129.1 1843.4H1151.0V1853.2H1129.1zM1282.6 1843.4H1403.3V1853.2H1282.6zM1578.8 1843.4H1589.8V1853.2H1578.8zM1304.6 1853.2H1403.3V1863.0H1304.6zM1578.8 1853.2H1600.8V1863.0H1578.8zM448.9 1863.0H481.8V1872.7H448.9zM1304.6 1863.0H1403.3V1872.7H1304.6zM1578.8 1863.0H1611.7V1872.7H1578.8zM503.8 1872.7H514.7V1882.5H503.8zM1315.5 1872.7H1403.3V1882.5H1315.5zM1578.8 1872.7H1633.7V1882.5H1578.8zM1776.3 1872.7H1820.2V1882.5H1776.3zM2127.3 1872.7H2149.3V1882.5H2127.3zM525.7 1882.5H558.6V1892.3H525.7zM1644.6 1882.5H1666.6V1892.3H1644.6zM1776.3 1882.5H1787.2V1892.3H1776.3zM1831.1 1882.5H1864.0V1892.3H1831.1zM2105.4 1882.5H2138.3V1892.3H2105.4zM2149.3 1882.5H2160.2V1892.3H2149.3zM569.6 1892.3H591.5V1902.1H569.6zM1666.6 1892.3H1688.5V1902.1H1666.6zM1765.3 1892.3H1776.3V1902.1H1765.3zM1864.0 1892.3H1929.9V1902.1H1864.0zM2094.4 1892.3H2116.4V1902.1H2094.4zM2149.3 1892.3H2160.2V1902.1H2149.3zM602.5 1902.1H657.3V1911.9H602.5zM701.2 1902.1H712.2V1911.9H701.2zM1688.5 1902.1H1710.5V1911.9H1688.5zM1765.3 1902.1H1776.3V1911.9H1765.3zM1897.0 1902.1H1940.8V1911.9H1897.0zM2072.5 1902.1H2105.4V1911.9H2072.5zM701.2 1911.9H712.2V1921.7H701.2zM1699.5 1911.9H1721.4V1921.7H1699.5zM1765.3 1911.9H1776.3V1921.7H1765.3zM1918.9 1911.9H1951.8V1921.7H1918.9zM1984.7 1911.9H1995.7V1921.7H1984.7zM2050.5 1911.9H2083.4V1921.7H2050.5zM701.2 1921.7H712.2V1931.5H701.2zM1721.4 1921.7H1732.4V1931.5H1721.4zM1765.3 1921.7H1776.3V1931.5H1765.3zM1940.8 1921.7H1984.7V1931.5H1940.8zM2160.2 1921.7H2171.2V1931.5H2160.2zM701.2 1931.5H712.2V1941.2H701.2zM1732.4 1931.5H1743.4V1941.2H1732.4zM1765.3 1931.5H1776.3V1941.2H1765.3zM2160.2 1931.5H2171.2V1941.2H2160.2zM1743.4 1941.2H1776.3V1951.0H1743.4zM1754.3 1951.0H1776.3V1960.8H1754.3zM2171.2 1951.0H2182.2V1960.8H2171.2zM2171.2 1960.8H2182.2V1970.6H2171.2zM701.2 1970.6H712.2V1980.4H701.2zM701.2 1980.4H712.2V1990.2H701.2zM712.2 1990.2H723.2V2000.0H712.2zM1962.8 1990.2H2028.6V2000.0H1962.8zM712.2 2000.0H723.2V2009.8H712.2zM1962.8 2000.0H1973.7V2009.8H1962.8zM2017.6 2000.0H2028.6V2009.8H2017.6zM2160.2 2000.0H2171.2V2009.8H2160.2zM712.2 2009.8H745.1V2019.5H712.2zM1973.7 2009.8H2028.6V2019.5H1973.7zM2149.3 2009.8H2160.2V2019.5H2149.3zM690.2 2019.5H712.2V2029.3H690.2zM2072.5 2019.5H2138.3V2029.3H2072.5zM679.3 2029.3H690.2V2039.1H679.3zM756.1 2029.3H767.0V2039.1H756.1zM2039.6 2029.3H2061.5V2039.1H2039.6zM679.3 2039.1H712.2V2048.9H679.3zM2039.6 2039.1H2050.5V2048.9H2039.6zM2039.6 2048.9H2050.5V2058.7H2039.6zM767.0 2058.7H778.0V2068.5H767.0zM2039.6 2058.7H2050.5V2068.5H2039.6zM767.0 2068.5H778.0V2078.3H767.0zM2039.6 2068.5H2061.5V2078.3H2039.6zM778.0 2078.3H789.0V2088.1H778.0zM2039.6 2078.3H2061.5V2088.1H2039.6zM789.0 2088.1H800.0V2097.8H789.0zM2039.6 2088.1H2050.5V2097.8H2039.6zM2083.4 2088.1H2116.4V2097.8H2083.4zM800.0 2097.8H810.9V2107.6H800.0zM2039.6 2097.8H2050.5V2107.6H2039.6zM2072.5 2097.8H2094.4V2107.6H2072.5zM2105.4 2097.8H2127.3V2107.6H2105.4zM810.9 2107.6H821.9V2117.4H810.9zM843.8 2107.6H865.8V2117.4H843.8zM887.7 2107.6H898.7V2117.4H887.7zM2039.6 2107.6H2050.5V2117.4H2039.6zM2072.5 2107.6H2083.4V2117.4H2072.5zM2116.4 2107.6H2138.3V2117.4H2116.4zM821.9 2117.4H843.8V2127.2H821.9zM898.7 2117.4H909.7V2127.2H898.7zM2039.6 2117.4H2050.5V2127.2H2039.6zM2072.5 2117.4H2083.4V2127.2H2072.5zM2127.3 2117.4H2138.3V2127.2H2127.3zM821.9 2127.2H843.8V2137.0H821.9zM898.7 2127.2H909.7V2137.0H898.7zM2039.6 2127.2H2050.5V2137.0H2039.6zM2072.5 2127.2H2083.4V2137.0H2072.5zM2127.3 2127.2H2138.3V2137.0H2127.3z"/>
<path fill="#00ffff" d="M2357.7 179.5H2368.7V189.3H2357.7zM2357.7 189.3H2368.7V199.1H2357.7zM2357.7 199.1H2368.7V208.9H2357.7zM2357.7 208.9H2368.7V218.7H2357.7zM2357.7 218.7H2368.7V228.4H2357.7zM2357.7 228.4H2368.7V238.2H2357.7zM2302.8 238.2H2313.8V248.0H2302.8zM2346.7 238.2H2357.7V248.0H2346.7zM2313.8 248.0H2324.8V257.8H2313.8zM2335.8 248.0H2346.7V257.8H2335.8zM2313.8 257.8H2335.8V267.6H2313.8zM701.2 1510.6H712.2V1520.4H701.2zM679.3 1520.4H690.2V1530.2H679.3zM712.2 1520.4H723.2V1530.2H712.2zM613.5 1530.2H624.4V1540.0H613.5zM679.3 1530.2H690.2V1540.0H679.3zM712.2 1530.2H723.2V1540.0H712.2zM613.5 1540.0H624.4V1549.8H613.5zM602.5 1579.1H624.4V1588.9H602.5zM558.6 1588.9H569.6V1598.7H558.6zM591.5 1588.9H635.4V1598.7H591.5zM470.9 1598.7H503.8V1608.5H470.9zM624.4 1598.7H657.3V1608.5H624.4zM459.9 1608.5H470.9V1618.3H459.9zM503.8 1608.5H525.7V1618.3H503.8zM448.9 1618.3H459.9V1628.0H448.9zM679.3 1618.3H690.2V1628.0H679.3zM416.0 1628.0H448.9V1637.8H416.0zM690.2 1628.0H712.2V1637.8H690.2zM767.0 1628.0H778.0V1637.8H767.0zM789.0 1637.8H800.0V1647.6H789.0zM810.9 1647.6H843.8V1657.4H810.9zM843.8 1657.4H854.8V1667.2H843.8zM854.8 1667.2H865.8V1677.0H854.8zM865.8 1677.0H876.7V1686.8H865.8zM865.8 1686.8H876.7V1696.6H865.8zM865.8 1696.6H876.7V1706.3H865.8zM865.8 1706.3H876.7V1716.1H865.8zM854.8 1716.1H876.7V1725.9H854.8zM1129.1 1716.1H1162.0V1725.9H1129.1zM865.8 1725.9H920.6V1735.7H865.8zM1129.1 1725.9H1271.7V1735.7H1129.1zM865.8 1735.7H931.6V1745.5H865.8zM1129.1 1735.7H1293.6V1745.5H1129.1zM865.8 1745.5H953.5V1755.3H865.8zM1019.4 1745.5H1063.2V1755.3H1019.4zM1129.1 1745.5H1381.4V1755.3H1129.1zM931.6 1755.3H1019.4V1765.1H931.6zM1063.2 1755.3H1074.2V1765.1H1063.2zM1140.0 1755.3H1183.9V1765.1H1140.0zM1293.6 1755.3H1315.5V1765.1H1293.6zM1381.4 1755.3H1392.3V1765.1H1381.4zM1063.2 1765.1H1085.2V1774.9H1063.2zM1140.0 1765.1H1172.9V1774.9H1140.0zM1381.4 1765.1H1545.9V1774.9H1381.4zM898.7 1774.9H1019.4V1784.6H898.7zM1063.2 1774.9H1074.2V1784.6H1063.2zM1140.0 1774.9H1172.9V1784.6H1140.0zM1293.6 1774.9H1326.5V1784.6H1293.6zM1381.4 1774.9H1556.9V1784.6H1381.4zM887.7 1784.6H1074.2V1794.4H887.7zM1140.0 1784.6H1172.9V1794.4H1140.0zM1282.6 1784.6H1458.2V1794.4H1282.6zM1545.9 1784.6H1567.9V1794.4H1545.9zM887.7 1794.4H1074.2V1804.2H887.7zM1140.0 1794.4H1172.9V1804.2H1140.0zM1282.6 1794.4H1403.3V1804.2H1282.6zM1556.9 1794.4H1578.8V1804.2H1556.9zM887.7 1804.2H931.6V1814.0H887.7zM1140.0 1804.2H1183.9V1814.0H1140.0zM1271.7 1804.2H1315.5V1814.0H1271.7zM1359.4 1804.2H1403.3V1814.0H1359.4zM1556.9 1804.2H1578.8V1814.0H1556.9zM898.7 1814.0H953.5V1823.8H898.7zM1151.0 1814.0H1304.6V1823.8H1151.0zM1370.4 1814.0H1425.2V1823.8H1370.4zM1567.9 1814.0H1578.8V1823.8H1567.9zM909.7 1823.8H953.5V1833.6H909.7zM1151.0 1823.8H1304.6V1833.6H1151.0zM1370.4 1823.8H1436.2V1833.6H1370.4zM1567.9 1823.8H1578.8V1833.6H1567.9zM920.6 1833.6H964.5V1843.4H920.6zM1172.9 1833.6H1282.6V1843.4H1172.9zM1392.3 1833.6H1436.2V1843.4H1392.3zM1567.9 1833.6H1578.8V1843.4H1567.9zM942.6 1843.4H1129.1V1853.2H942.6zM1151.0 1843.4H1282.6V1853.2H1151.0zM1403.3 1843.4H1436.2V1853.2H1403.3zM1567.9 1843.4H1578.8V1853.2H1567.9zM964.5 1853.2H1030.3V1863.0H964.5zM1096.1 1853.2H1304.6V1863.0H1096.1zM1403.3 1853.2H1436.2V1863.0H1403.3zM1567.9 1853.2H1578.8V1863.0H1567.9zM481.8 1863.0H492.8V1872.7H481.8zM997.4 1863.0H1008.4V1872.7H997.4zM1107.1 1863.0H1172.9V1872.7H1107.1zM1260.7 1863.0H1304.6V1872.7H1260.7zM1403.3 1863.0H1436.2V1872.7H1403.3zM1567.9 1863.0H1578.8V1872.7H1567.9zM514.7 1872.7H525.7V1882.5H514.7zM1118.1 1872.7H1162.0V1882.5H1118.1zM1271.7 1872.7H1315.5V1882.5H1271.7zM1403.3 1872.7H1436.2V1882.5H1403.3zM1556.9 1872.7H1578.8V1882.5H1556.9zM558.6 1882.5H580.5V1892.3H558.6zM701.2 1882.5H712.2V1892.3H701.2zM1129.1 1882.5H1151.0V1892.3H1129.1zM1282.6 1882.5H1436.2V1892.3H1282.6zM1567.9 1882.5H1644.6V1892.3H1567.9zM1809.2 1882.5H1831.1V1892.3H1809.2zM2138.3 1882.5H2149.3V1892.3H2138.3zM591.5 1892.3H602.5V1902.1H591.5zM679.3 1892.3H712.2V1902.1H679.3zM1315.5 1892.3H1403.3V1902.1H1315.5zM1644.6 1892.3H1666.6V1902.1H1644.6zM1776.3 1892.3H1787.2V1902.1H1776.3zM1831.1 1892.3H1864.0V1902.1H1831.1zM2116.4 1892.3H2149.3V1902.1H2116.4zM1348.5 1902.1H1370.4V1911.9H1348.5zM1666.6 1902.1H1688.5V1911.9H1666.6zM1776.3 1902.1H1787.2V1911.9H1776.3zM1864.0 1902.1H1897.0V1911.9H1864.0zM2105.4 1902.1H2127.3V1911.9H2105.4zM2149.3 1902.1H2160.2V1911.9H2149.3zM1688.5 1911.9H1699.5V1921.7H1688.5zM1886.0 1911.9H1918.9V1921.7H1886.0zM1995.7 1911.9H2006.7V1921.7H1995.7zM2028.6 1911.9H2050.5V1921.7H2028.6zM2083.4 1911.9H2105.4V1921.7H2083.4zM1699.5 1921.7H1721.4V1931.5H1699.5zM1897.0 1921.7H1940.8V1931.5H1897.0zM1984.7 1921.7H1995.7V1931.5H1984.7zM2050.5 1921.7H2094.4V1931.5H2050.5zM1721.4 1931.5H1732.4V1941.2H1721.4zM1776.3 1931.5H1787.2V1941.2H1776.3zM1929.9 1931.5H1984.7V1941.2H1929.9zM701.2 1941.2H712.2V1951.0H701.2zM1732.4 1941.2H1743.4V1951.0H1732.4zM1776.3 1941.2H1787.2V1951.0H1776.3zM2160.2 1941.2H2171.2V1951.0H2160.2zM701.2 1951.0H712.2V1960.8H701.2zM1743.4 1951.0H1754.3V1960.8H1743.4zM1776.3 1951.0H1809.2V1960.8H1776.3zM2160.2 1951.0H2171.2V1960.8H2160.2zM701.2 1960.8H712.2V1970.6H701.2zM2160.2 1960.8H2171.2V1970.6H2160.2zM2160.2 1970.6H2171.2V1980.4H2160.2zM1962.8 1980.4H2006.7V1990.2H1962.8zM2160.2 1980.4H2171.2V1990.2H2160.2zM1951.8 1990.2H1962.8V2000.0H1951.8zM2028.6 1990.2H2039.6V2000.0H2028.6zM2160.2 1990.2H2171.2V2000.0H2160.2zM723.2 2000.0H734.1V2009.8H723.2zM1951.8 2000.0H1962.8V2009.8H1951.8zM2028.6 2000.0H2050.5V2009.8H2028.6zM745.1 2009.8H756.1V2019.5H745.1zM1962.8 2009.8H1973.7V2019.5H1962.8zM2028.6 2009.8H2061.5V2019.5H2028.6zM756.1 2019.5H767.0V2029.3H756.1zM1962.8 2019.5H2072.5V2029.3H1962.8zM690.2 2029.3H712.2V2039.1H690.2zM1973.7 2029.3H2039.6V2039.1H1973.7zM2028.6 2039.1H2039.6V2048.9H2028.6zM767.0 2048.9H778.0V2058.7H767.0zM2028.6 2048.9H2039.6V2058.7H2028.6zM2028.6 2058.7H2039.6V2068.5H2028.6zM2028.6 2068.5H2039.6V2078.3H2028.6zM2028.6 2078.3H2039.6V2088.1H2028.6zM2028.6 2088.1H2039.6V2097.8H2028.6zM810.9 2097.8H821.9V2107.6H810.9zM2028.6 2097.8H2039.6V2107.6H2028.6zM2094.4 2097.8H2105.4V2107.6H2094.4zM821.9 2107.6H843.8V2117.4H821.9zM1962.8 2107.6H1995.7V2117.4H1962.8zM2028.6 2107.6H2039.6V2117.4H2028.6zM2083.4 2107.6H2116.4V2117.4H2083.4zM909.7 2117.4H920.6V2127.2H909.7zM1183.9 2117.4H1194.9V2127.2H1183.9zM1962.8 2117.4H2006.7V2127.2H1962.8zM2017.6 2117.4H2039.6V2127.2H2017.6zM2083.4 2117.4H2127.3V2127.2H2083.4zM909.7 2127.2H920.6V2137.0H909.7zM1183.9 2127.2H1194.9V2137.0H1183.9zM1962.8 2127.2H2006.7V2137.0H1962.8zM2017.6 2127.2H2039.6V2137.0H2017.6zM2083.4 2127.2H2127.3V2137.0H2083.4z"/>
<path fill="#10ffef" d="M2269.9 179.5H2280.9V189.3H2269.9zM2269.9 189.3H2280.9V199.1H2269.9zM2269.9 199.1H2280.9V208.9H2269.9zM2280.9 208.9H2291.9V218.7H2280.9zM2291.9 218.7H2302.8V228.4H2291.9zM2346.7 218.7H2357.7V228.4H2346.7zM2302.8 228.4H2313.8V238.2H2302.8zM2346.7 228.4H2357.7V238.2H2346.7zM2313.8 238.2H2346.7V248.0H2313.8zM2324.8 248.0H2335.8V257.8H2324.8zM690.2 1520.4H712.2V1530.2H690.2zM690.2 1530.2H712.2V1540.0H690.2zM569.6 1588.9H591.5V1598.7H569.6zM536.7 1598.7H547.6V1608.5H536.7zM602.5 1598.7H624.4V1608.5H602.5zM470.9 1608.5H503.8V1618.3H470.9zM525.7 1608.5H536.7V1618.3H525.7zM646.4 1608.5H668.3V1618.3H646.4zM459.9 1618.3H481.8V1628.0H459.9zM514.7 1618.3H525.7V1628.0H514.7zM668.3 1618.3H679.3V1628.0H668.3zM448.9 1628.0H459.9V1637.8H448.9zM679.3 1628.0H690.2V1637.8H679.3zM712.2 1628.0H734.1V1637.8H712.2zM756.1 1628.0H767.0V1637.8H756.1zM416.0 1637.8H437.9V1647.6H416.0zM778.0 1637.8H789.0V1647.6H778.0zM789.0 1647.6H810.9V1657.4H789.0zM810.9 1657.4H843.8V1667.2H810.9zM843.8 1667.2H854.8V1677.0H843.8zM854.8 1677.0H865.8V1686.8H854.8zM854.8 1686.8H865.8V1696.6H854.8zM854.8 1696.6H865.8V1706.3H854.8zM843.8 1706.3H865.8V1716.1H843.8zM843.8 1716.1H854.8V1725.9H843.8zM843.8 1725.9H865.8V1735.7H843.8zM843.8 1735.7H865.8V1745.5H843.8zM843.8 1745.5H865.8V1755.3H843.8zM854.8 1755.3H931.6V1765.1H854.8zM1019.4 1755.3H1063.2V1765.1H1019.4zM1183.9 1755.3H1293.6V1765.1H1183.9zM1315.5 1755.3H1381.4V1765.1H1315.5zM854.8 1765.1H1041.3V1774.9H854.8zM1052.3 1765.1H1063.2V1774.9H1052.3zM1172.9 1765.1H1348.5V1774.9H1172.9zM1370.4 1765.1H1381.4V1774.9H1370.4zM854.8 1774.9H898.7V1784.6H854.8zM1019.4 1774.9H1063.2V1784.6H1019.4zM1172.9 1774.9H1293.6V1784.6H1172.9zM1326.5 1774.9H1381.4V1784.6H1326.5zM854.8 1784.6H887.7V1794.4H854.8zM1172.9 1784.6H1282.6V1794.4H1172.9zM1458.2 1784.6H1545.9V1794.4H1458.2zM854.8 1794.4H887.7V1804.2H854.8zM1172.9 1794.4H1282.6V1804.2H1172.9zM1403.3 1794.4H1480.1V1804.2H1403.3zM1534.9 1794.4H1556.9V1804.2H1534.9zM865.8 1804.2H887.7V1814.0H865.8zM1183.9 1804.2H1271.7V1814.0H1183.9zM1403.3 1804.2H1469.1V1814.0H1403.3zM1545.9 1804.2H1556.9V1814.0H1545.9zM876.7 1814.0H898.7V1823.8H876.7zM1425.2 1814.0H1469.1V1823.8H1425.2zM1545.9 1814.0H1567.9V1823.8H1545.9zM876.7 1823.8H909.7V1833.6H876.7zM1436.2 1823.8H1469.1V1833.6H1436.2zM1556.9 1823.8H1567.9V1833.6H1556.9zM887.7 1833.6H920.6V1843.4H887.7zM1436.2 1833.6H1469.1V1843.4H1436.2zM1556.9 1833.6H1567.9V1843.4H1556.9zM920.6 1843.4H942.6V1853.2H920.6zM1436.2 1843.4H1469.1V1853.2H1436.2zM1556.9 1843.4H1567.9V1853.2H1556.9zM416.0 1853.2H459.9V1863.0H416.0zM942.6 1853.2H964.5V1863.0H942.6zM1030.3 1853.2H1096.1V1863.0H1030.3zM1436.2 1853.2H1480.1V1863.0H1436.2zM1556.9 1853.2H1567.9V1863.0H1556.9zM492.8 1863.0H503.8V1872.7H492.8zM953.5 1863.0H997.4V1872.7H953.5zM1008.4 1863.0H1030.3V1872.7H1008.4zM1085.2 1863.0H1107.1V1872.7H1085.2zM1172.9 1863.0H1260.7V1872.7H1172.9zM1436.2 1863.0H1502.0V1872.7H1436.2zM1545.9 1863.0H1567.9V1872.7H1545.9zM525.7 1872.7H547.6V1882.5H525.7zM975.5 1872.7H1019.4V1882.5H975.5zM1096.1 1872.7H1118.1V1882.5H1096.1zM1162.0 1872.7H1183.9V1882.5H1162.0zM1238.8 1872.7H1271.7V1882.5H1238.8zM1436.2 1872.7H1513.0V1882.5H1436.2zM1545.9 1872.7H1556.9V1882.5H1545.9zM580.5 1882.5H591.5V1892.3H580.5zM690.2 1882.5H701.2V1892.3H690.2zM712.2 1882.5H734.1V1892.3H712.2zM1107.1 1882.5H1129.1V1892.3H1107.1zM1151.0 1882.5H1172.9V1892.3H1151.0zM1249.7 1882.5H1282.6V1892.3H1249.7zM1436.2 1882.5H1502.0V1892.3H1436.2zM1545.9 1882.5H1567.9V1892.3H1545.9zM1787.2 1882.5H1809.2V1892.3H1787.2zM602.5 1892.3H646.4V1902.1H602.5zM657.3 1892.3H679.3V1902.1H657.3zM712.2 1892.3H723.2V1902.1H712.2zM1107.1 1892.3H1172.9V1902.1H1107.1zM1260.7 1892.3H1315.5V1902.1H1260.7zM1403.3 1892.3H1458.2V1902.1H1403.3zM1633.7 1892.3H1644.6V1902.1H1633.7zM1787.2 1892.3H1798.2V1902.1H1787.2zM1809.2 1892.3H1831.1V1902.1H1809.2zM712.2 1902.1H723.2V1911.9H712.2zM1118.1 1902.1H1162.0V1911.9H1118.1zM1282.6 1902.1H1348.5V1911.9H1282.6zM1370.4 1902.1H1436.2V1911.9H1370.4zM1655.6 1902.1H1666.6V1911.9H1655.6zM1842.1 1902.1H1864.0V1911.9H1842.1zM2127.3 1902.1H2149.3V1911.9H2127.3zM712.2 1911.9H723.2V1921.7H712.2zM1326.5 1911.9H1392.3V1921.7H1326.5zM1666.6 1911.9H1688.5V1921.7H1666.6zM1776.3 1911.9H1787.2V1921.7H1776.3zM1864.0 1911.9H1886.0V1921.7H1864.0zM2006.7 1911.9H2028.6V1921.7H2006.7zM2105.4 1911.9H2138.3V1921.7H2105.4zM2149.3 1911.9H2160.2V1921.7H2149.3zM1688.5 1921.7H1699.5V1931.5H1688.5zM1776.3 1921.7H1787.2V1931.5H1776.3zM1875.0 1921.7H1897.0V1931.5H1875.0zM1995.7 1921.7H2006.7V1931.5H1995.7zM2028.6 1921.7H2050.5V1931.5H2028.6zM2094.4 1921.7H2127.3V1931.5H2094.4zM2149.3 1921.7H2160.2V1931.5H2149.3zM1699.5 1931.5H1721.4V1941.2H1699.5zM1787.2 1931.5H1798.2V1941.2H1787.2zM1875.0 1931.5H1929.9V1941.2H1875.0zM1984.7 1931.5H1995.7V1941.2H1984.7zM2039.6 1931.5H2116.4V1941.2H2039.6zM2149.3 1931.5H2160.2V1941.2H2149.3zM1721.4 1941.2H1732.4V1951.0H1721.4zM1787.2 1941.2H1809.2V1951.0H1787.2zM1897.0 1941.2H1973.7V1951.0H1897.0zM2050.5 1941.2H2094.4V1951.0H2050.5zM2149.3 1941.2H2160.2V1951.0H2149.3zM1732.4 1951.0H1743.4V1960.8H1732.4zM1809.2 1951.0H1831.1V1960.8H1809.2zM1754.3 1960.8H1820.2V1970.6H1754.3zM712.2 1980.4H723.2V1990.2H712.2zM1951.8 1980.4H1962.8V1990.2H1951.8zM2006.7 1980.4H2039.6V1990.2H2006.7zM723.2 1990.2H734.1V2000.0H723.2zM2039.6 1990.2H2050.5V2000.0H2039.6zM734.1 2000.0H745.1V2009.8H734.1zM2050.5 2000.0H2061.5V2009.8H2050.5zM2149.3 2000.0H2160.2V2009.8H2149.3zM756.1 2009.8H767.0V2019.5H756.1zM1951.8 2009.8H1962.8V2019.5H1951.8zM2061.5 2009.8H2083.4V2019.5H2061.5zM2116.4 2009.8H2149.3V2019.5H2116.4zM1962.8 2029.3H1973.7V2039.1H1962.8zM767.0 2039.1H778.0V2048.9H767.0zM1973.7 2039.1H2028.6V2048.9H1973.7zM1995.7 2048.9H2028.6V2058.7H1995.7zM2017.6 2058.7H2028.6V2068.5H2017.6zM778.0 2068.5H789.0V2078.3H778.0zM2017.6 2068.5H2028.6V2078.3H2017.6zM789.0 2078.3H800.0V2088.1H789.0zM2017.6 2078.3H2028.6V2088.1H2017.6zM800.0 2088.1H810.9V2097.8H800.0zM2017.6 2088.1H2028.6V2097.8H2017.6zM821.9 2097.8H832.9V2107.6H821.9zM1962.8 2097.8H2028.6V2107.6H1962.8zM898.7 2107.6H909.7V2117.4H898.7zM1183.9 2107.6H1194.9V2117.4H1183.9zM1951.8 2107.6H1962.8V2117.4H1951.8zM1995.7 2107.6H2028.6V2117.4H1995.7zM1172.9 2117.4H1183.9V2127.2H1172.9zM1194.9 2117.4H1205.8V2127.2H1194.9zM1951.8 2117.4H1962.8V2127.2H1951.8zM2006.7 2117.4H2017.6V2127.2H2006.7zM1172.9 2127.2H1183.9V2137.0H1172.9zM1194.9 2127.2H1205.8V2137.0H1194.9zM1951.8 2127.2H1962.8V2137.0H1951.8zM2006.7 2127.2H2017.6V2137.0H2006.7z"/>
<path fill="#20ffdf" d="M2346.7 179.5H2357.7V189.3H2346.7zM2346.7 189.3H2357.7V199.1H2346.7zM2280.9 199.1H2291.9V208.9H2280.9zM2346.7 199.1H2357.7V208.9H2346.7zM2291.9 208.9H2302.8V218.7H2291.9zM2346.7 208.9H2357.7V218.7H2346.7zM2302.8 218.7H2313.8V228.4H2302.8zM2335.8 218.7H2346.7V228.4H2335.8zM2313.8 228.4H2346.7V238.2H2313.8zM547.6 1598.7H558.6V1608.5H547.6zM580.5 1598.7H602.5V1608.5H580.5zM536.7 1608.5H547.6V1618.3H536.7zM602.5 1608.5H646.4V1618.3H602.5zM481.8 1618.3H514.7V1628.0H481.8zM525.7 1618.3H536.7V1628.0H525.7zM657.3 1618.3H668.3V1628.0H657.3zM459.9 1628.0H481.8V1637.8H459.9zM668.3 1628.0H679.3V1637.8H668.3zM734.1 1628.0H756.1V1637.8H734.1zM437.9 1637.8H459.9V1647.6H437.9zM690.2 1637.8H712.2V1647.6H690.2zM767.0 1637.8H778.0V1647.6H767.0zM416.0 1647.6H448.9V1657.4H416.0zM778.0 1647.6H789.0V1657.4H778.0zM416.0 1657.4H459.9V1667.2H416.0zM789.0 1657.4H810.9V1667.2H789.0zM416.0 1667.2H470.9V1677.0H416.0zM810.9 1667.2H843.8V1677.0H810.9zM416.0 1677.0H492.8V1686.8H416.0zM843.8 1677.0H854.8V1686.8H843.8zM416.0 1686.8H492.8V1696.6H416.0zM843.8 1686.8H854.8V1696.6H843.8zM416.0 1696.6H503.8V1706.3H416.0zM843.8 1696.6H854.8V1706.3H843.8zM416.0 1706.3H514.7V1716.1H416.0zM832.9 1706.3H843.8V1716.1H832.9zM416.0 1716.1H569.6V1725.9H416.0zM679.3 1716.1H701.2V1725.9H679.3zM821.9 1716.1H843.8V1725.9H821.9zM558.6 1725.9H712.2V1735.7H558.6zM821.9 1725.9H843.8V1735.7H821.9zM646.4 1735.7H723.2V1745.5H646.4zM810.9 1735.7H843.8V1745.5H810.9zM646.4 1745.5H734.1V1755.3H646.4zM800.0 1745.5H843.8V1755.3H800.0zM646.4 1755.3H854.8V1765.1H646.4zM657.3 1765.1H712.2V1774.9H657.3zM778.0 1765.1H854.8V1774.9H778.0zM1041.3 1765.1H1052.3V1774.9H1041.3zM1348.5 1765.1H1370.4V1774.9H1348.5zM800.0 1774.9H854.8V1784.6H800.0zM810.9 1784.6H854.8V1794.4H810.9zM821.9 1794.4H854.8V1804.2H821.9zM1480.1 1794.4H1534.9V1804.2H1480.1zM832.9 1804.2H865.8V1814.0H832.9zM1469.1 1804.2H1545.9V1814.0H1469.1zM843.8 1814.0H876.7V1823.8H843.8zM1469.1 1814.0H1524.0V1823.8H1469.1zM1534.9 1814.0H1545.9V1823.8H1534.9zM854.8 1823.8H876.7V1833.6H854.8zM1469.1 1823.8H1513.0V1833.6H1469.1zM1545.9 1823.8H1556.9V1833.6H1545.9zM865.8 1833.6H887.7V1843.4H865.8zM1469.1 1833.6H1502.0V1843.4H1469.1zM1545.9 1833.6H1556.9V1843.4H1545.9zM898.7 1843.4H920.6V1853.2H898.7zM1469.1 1843.4H1513.0V1853.2H1469.1zM1545.9 1843.4H1556.9V1853.2H1545.9zM459.9 1853.2H481.8V1863.0H459.9zM931.6 1853.2H942.6V1863.0H931.6zM1480.1 1853.2H1524.0V1863.0H1480.1zM1545.9 1853.2H1556.9V1863.0H1545.9zM503.8 1863.0H514.7V1872.7H503.8zM942.6 1863.0H953.5V1872.7H942.6zM1030.3 1863.0H1041.3V1872.7H1030.3zM1063.2 1863.0H1085.2V1872.7H1063.2zM1502.0 1863.0H1545.9V1872.7H1502.0zM547.6 1872.7H580.5V1882.5H547.6zM690.2 1872.7H789.0V1882.5H690.2zM953.5 1872.7H975.5V1882.5H953.5zM1019.4 1872.7H1030.3V1882.5H1019.4zM1085.2 1872.7H1096.1V1882.5H1085.2zM1183.9 1872.7H1238.8V1882.5H1183.9zM1513.0 1872.7H1545.9V1882.5H1513.0zM591.5 1882.5H613.5V1892.3H591.5zM679.3 1882.5H690.2V1892.3H679.3zM734.1 1882.5H756.1V1892.3H734.1zM964.5 1882.5H1019.4V1892.3H964.5zM1096.1 1882.5H1107.1V1892.3H1096.1zM1172.9 1882.5H1249.7V1892.3H1172.9zM1502.0 1882.5H1545.9V1892.3H1502.0zM646.4 1892.3H657.3V1902.1H646.4zM723.2 1892.3H734.1V1902.1H723.2zM1096.1 1892.3H1107.1V1902.1H1096.1zM1172.9 1892.3H1260.7V1902.1H1172.9zM1458.2 1892.3H1633.7V1902.1H1458.2zM1798.2 1892.3H1809.2V1902.1H1798.2zM1096.1 1902.1H1118.1V1911.9H1096.1zM1162.0 1902.1H1282.6V1911.9H1162.0zM1436.2 1902.1H1469.1V1911.9H1436.2zM1524.0 1902.1H1556.9V1911.9H1524.0zM1644.6 1902.1H1655.6V1911.9H1644.6zM1787.2 1902.1H1842.1V1911.9H1787.2zM1096.1 1911.9H1326.5V1921.7H1096.1zM1392.3 1911.9H1458.2V1921.7H1392.3zM1524.0 1911.9H1545.9V1921.7H1524.0zM1655.6 1911.9H1666.6V1921.7H1655.6zM1787.2 1911.9H1798.2V1921.7H1787.2zM1853.1 1911.9H1864.0V1921.7H1853.1zM2138.3 1911.9H2149.3V1921.7H2138.3zM712.2 1921.7H723.2V1931.5H712.2zM1326.5 1921.7H1392.3V1931.5H1326.5zM1666.6 1921.7H1688.5V1931.5H1666.6zM1787.2 1921.7H1798.2V1931.5H1787.2zM1853.1 1921.7H1875.0V1931.5H1853.1zM2006.7 1921.7H2028.6V1931.5H2006.7zM2127.3 1921.7H2149.3V1931.5H2127.3zM712.2 1931.5H723.2V1941.2H712.2zM1688.5 1931.5H1699.5V1941.2H1688.5zM1798.2 1931.5H1820.2V1941.2H1798.2zM1853.1 1931.5H1875.0V1941.2H1853.1zM1995.7 1931.5H2006.7V1941.2H1995.7zM2028.6 1931.5H2039.6V1941.2H2028.6zM2116.4 1931.5H2149.3V1941.2H2116.4zM1699.5 1941.2H1721.4V1951.0H1699.5zM1809.2 1941.2H1842.1V1951.0H1809.2zM1853.1 1941.2H1897.0V1951.0H1853.1zM1973.7 1941.2H1995.7V1951.0H1973.7zM2039.6 1941.2H2050.5V1951.0H2039.6zM2094.4 1941.2H2149.3V1951.0H2094.4zM1721.4 1951.0H1732.4V1960.8H1721.4zM1831.1 1951.0H1962.8V1960.8H1831.1zM2050.5 1951.0H2160.2V1960.8H2050.5zM1743.4 1960.8H1754.3V1970.6H1743.4zM1820.2 1960.8H1842.1V1970.6H1820.2zM1886.0 1960.8H1940.8V1970.6H1886.0zM2050.5 1960.8H2094.4V1970.6H2050.5zM2127.3 1960.8H2160.2V1970.6H2127.3zM712.2 1970.6H723.2V1980.4H712.2zM1940.8 1970.6H2072.5V1980.4H1940.8zM2149.3 1970.6H2160.2V1980.4H2149.3zM723.2 1980.4H734.1V1990.2H723.2zM1940.8 1980.4H1951.8V1990.2H1940.8zM2039.6 1980.4H2072.5V1990.2H2039.6zM2149.3 1980.4H2160.2V1990.2H2149.3zM734.1 1990.2H745.1V2000.0H734.1zM1940.8 1990.2H1951.8V2000.0H1940.8zM2050.5 1990.2H2061.5V2000.0H2050.5zM2149.3 1990.2H2160.2V2000.0H2149.3zM745.1 2000.0H756.1V2009.8H745.1zM1940.8 2000.0H1951.8V2009.8H1940.8zM2061.5 2000.0H2072.5V2009.8H2061.5zM1940.8 2009.8H1951.8V2019.5H1940.8zM2083.4 2009.8H2116.4V2019.5H2083.4zM767.0 2019.5H778.0V2029.3H767.0zM1951.8 2019.5H1962.8V2029.3H1951.8zM767.0 2029.3H778.0V2039.1H767.0zM1951.8 2029.3H1962.8V2039.1H1951.8zM1962.8 2039.1H1973.7V2048.9H1962.8zM1962.8 2048.9H1995.7V2058.7H1962.8zM778.0 2058.7H789.0V2068.5H778.0zM1973.7 2058.7H2017.6V2068.5H1973.7zM789.0 2068.5H800.0V2078.3H789.0zM1995.7 2068.5H2017.6V2078.3H1995.7zM800.0 2078.3H810.9V2088.1H800.0zM1995.7 2078.3H2017.6V2088.1H1995.7zM810.9 2088.1H821.9V2097.8H810.9zM1962.8 2088.1H2017.6V2097.8H1962.8zM832.9 2097.8H887.7V2107.6H832.9zM1951.8 2097.8H1962.8V2107.6H1951.8zM909.7 2107.6H920.6V2117.4H909.7zM1172.9 2107.6H1183.9V2117.4H1172.9zM1940.8 2107.6H1951.8V2117.4H1940.8zM920.6 2117.4H931.6V2127.2H920.6zM1940.8 2117.4H1951.8V2127.2H1940.8zM920.6 2127.2H931.6V2137.0H920.6zM1940.8 2127.2H1951.8V2137.0H1940.8z"/>
<path fill="#30ffcf" d="M2280.9 179.5H2291.9V189.3H2280.9zM2280.9 189.3H2291.9V199.1H2280.9zM2335.8 208.9H2346.7V218.7H2335.8zM558.6 1598.7H580.5V1608.5H558.6zM547.6 1608.5H558.6V1618.3H547.6zM591.5 1608.5H602.5V1618.3H591.5zM536.7 1618.3H547.6V1628.0H536.7zM613.5 1618.3H657.3V1628.0H613.5zM481.8 1628.0H536.7V1637.8H481.8zM459.9 1637.8H492.8V1647.6H459.9zM679.3 1637.8H690.2V1647.6H679.3zM712.2 1637.8H723.2V1647.6H712.2zM756.1 1637.8H767.0V1647.6H756.1zM448.9 1647.6H481.8V1657.4H448.9zM690.2 1647.6H712.2V1657.4H690.2zM767.0 1647.6H778.0V1657.4H767.0zM459.9 1657.4H492.8V1667.2H459.9zM690.2 1657.4H712.2V1667.2H690.2zM778.0 1657.4H789.0V1667.2H778.0zM470.9 1667.2H503.8V1677.0H470.9zM690.2 1667.2H712.2V1677.0H690.2zM789.0 1667.2H810.9V1677.0H789.0zM492.8 1677.0H514.7V1686.8H492.8zM821.9 1677.0H843.8V1686.8H821.9zM492.8 1686.8H536.7V1696.6H492.8zM832.9 1686.8H843.8V1696.6H832.9zM503.8 1696.6H547.6V1706.3H503.8zM690.2 1696.6H712.2V1706.3H690.2zM821.9 1696.6H843.8V1706.3H821.9zM514.7 1706.3H602.5V1716.1H514.7zM668.3 1706.3H723.2V1716.1H668.3zM810.9 1706.3H832.9V1716.1H810.9zM569.6 1716.1H679.3V1725.9H569.6zM701.2 1716.1H734.1V1725.9H701.2zM800.0 1716.1H821.9V1725.9H800.0zM416.0 1725.9H558.6V1735.7H416.0zM712.2 1725.9H821.9V1735.7H712.2zM547.6 1735.7H646.4V1745.5H547.6zM723.2 1735.7H810.9V1745.5H723.2zM558.6 1745.5H591.5V1755.3H558.6zM624.4 1745.5H646.4V1755.3H624.4zM734.1 1745.5H800.0V1755.3H734.1zM569.6 1755.3H580.5V1765.1H569.6zM635.4 1755.3H646.4V1765.1H635.4zM635.4 1765.1H657.3V1774.9H635.4zM712.2 1765.1H778.0V1774.9H712.2zM646.4 1774.9H723.2V1784.6H646.4zM767.0 1774.9H800.0V1784.6H767.0zM646.4 1784.6H712.2V1794.4H646.4zM778.0 1784.6H810.9V1794.4H778.0zM657.3 1794.4H701.2V1804.2H657.3zM789.0 1794.4H821.9V1804.2H789.0zM800.0 1804.2H832.9V1814.0H800.0zM810.9 1814.0H843.8V1823.8H810.9zM1524.0 1814.0H1534.9V1823.8H1524.0zM843.8 1823.8H854.8V1833.6H843.8zM1513.0 1823.8H1545.9V1833.6H1513.0zM854.8 1833.6H865.8V1843.4H854.8zM1502.0 1833.6H1545.9V1843.4H1502.0zM865.8 1843.4H898.7V1853.2H865.8zM1513.0 1843.4H1545.9V1853.2H1513.0zM481.8 1853.2H492.8V1863.0H481.8zM909.7 1853.2H931.6V1863.0H909.7zM1524.0 1853.2H1545.9V1863.0H1524.0zM514.7 1863.0H525.7V1872.7H514.7zM778.0 1863.0H810.9V1872.7H778.0zM931.6 1863.0H942.6V1872.7H931.6zM1041.3 1863.0H1063.2V1872.7H1041.3zM580.5 1872.7H591.5V1882.5H580.5zM679.3 1872.7H690.2V1882.5H679.3zM789.0 1872.7H821.9V1882.5H789.0zM942.6 1872.7H953.5V1882.5H942.6zM1030.3 1872.7H1041.3V1882.5H1030.3zM1063.2 1872.7H1085.2V1882.5H1063.2zM613.5 1882.5H635.4V1892.3H613.5zM668.3 1882.5H679.3V1892.3H668.3zM756.1 1882.5H778.0V1892.3H756.1zM953.5 1882.5H964.5V1892.3H953.5zM1019.4 1882.5H1030.3V1892.3H1019.4zM1074.2 1882.5H1096.1V1892.3H1074.2zM734.1 1892.3H745.1V1902.1H734.1zM964.5 1892.3H1008.4V1902.1H964.5zM1085.2 1892.3H1096.1V1902.1H1085.2zM723.2 1902.1H734.1V1911.9H723.2zM1085.2 1902.1H1096.1V1911.9H1085.2zM1469.1 1902.1H1524.0V1911.9H1469.1zM1556.9 1902.1H1611.7V1911.9H1556.9zM1622.7 1902.1H1644.6V1911.9H1622.7zM1085.2 1911.9H1096.1V1921.7H1085.2zM1458.2 1911.9H1480.1V1921.7H1458.2zM1513.0 1911.9H1524.0V1921.7H1513.0zM1545.9 1911.9H1567.9V1921.7H1545.9zM1644.6 1911.9H1655.6V1921.7H1644.6zM1798.2 1911.9H1853.1V1921.7H1798.2zM1096.1 1921.7H1326.5V1931.5H1096.1zM1392.3 1921.7H1458.2V1931.5H1392.3zM1524.0 1921.7H1545.9V1931.5H1524.0zM1655.6 1921.7H1666.6V1931.5H1655.6zM1798.2 1921.7H1853.1V1931.5H1798.2zM1348.5 1931.5H1381.4V1941.2H1348.5zM1677.6 1931.5H1688.5V1941.2H1677.6zM1820.2 1931.5H1853.1V1941.2H1820.2zM2006.7 1931.5H2028.6V1941.2H2006.7zM712.2 1941.2H723.2V1951.0H712.2zM1688.5 1941.2H1699.5V1951.0H1688.5zM1842.1 1941.2H1853.1V1951.0H1842.1zM1995.7 1941.2H2006.7V1951.0H1995.7zM2028.6 1941.2H2039.6V1951.0H2028.6zM712.2 1951.0H723.2V1960.8H712.2zM1699.5 1951.0H1721.4V1960.8H1699.5zM1962.8 1951.0H1995.7V1960.8H1962.8zM2039.6 1951.0H2050.5V1960.8H2039.6zM712.2 1960.8H723.2V1970.6H712.2zM1721.4 1960.8H1743.4V1970.6H1721.4zM1842.1 1960.8H1886.0V1970.6H1842.1zM1940.8 1960.8H1995.7V1970.6H1940.8zM2028.6 1960.8H2050.5V1970.6H2028.6zM2094.4 1960.8H2127.3V1970.6H2094.4zM1853.1 1970.6H1940.8V1980.4H1853.1zM2072.5 1970.6H2105.4V1980.4H2072.5zM2116.4 1970.6H2149.3V1980.4H2116.4zM1907.9 1980.4H1940.8V1990.2H1907.9zM2072.5 1980.4H2083.4V1990.2H2072.5zM2138.3 1980.4H2149.3V1990.2H2138.3zM745.1 1990.2H756.1V2000.0H745.1zM1918.9 1990.2H1940.8V2000.0H1918.9zM2061.5 1990.2H2083.4V2000.0H2061.5zM756.1 2000.0H767.0V2009.8H756.1zM1929.9 2000.0H1940.8V2009.8H1929.9zM2072.5 2000.0H2083.4V2009.8H2072.5zM2127.3 2000.0H2149.3V2009.8H2127.3zM767.0 2009.8H778.0V2019.5H767.0zM1940.8 2019.5H1951.8V2029.3H1940.8zM1951.8 2039.1H1962.8V2048.9H1951.8zM778.0 2048.9H789.0V2058.7H778.0zM1951.8 2048.9H1962.8V2058.7H1951.8zM1962.8 2058.7H1973.7V2068.5H1962.8zM1973.7 2068.5H1995.7V2078.3H1973.7zM810.9 2078.3H821.9V2088.1H810.9zM1962.8 2078.3H1995.7V2088.1H1962.8zM821.9 2088.1H832.9V2097.8H821.9zM1951.8 2088.1H1962.8V2097.8H1951.8zM887.7 2097.8H898.7V2107.6H887.7zM1940.8 2097.8H1951.8V2107.6H1940.8zM920.6 2107.6H931.6V2117.4H920.6zM1194.9 2107.6H1205.8V2117.4H1194.9zM1929.9 2107.6H1940.8V2117.4H1929.9zM1205.8 2117.4H1216.8V2127.2H1205.8zM1929.9 2117.4H1940.8V2127.2H1929.9zM1205.8 2127.2H1216.8V2137.0H1205.8zM1929.9 2127.2H1940.8V2137.0H1929.9z"/>
<path fill="#40ffbf" d="M2291.9 179.5H2302.8V189.3H2291.9zM2291.9 189.3H2302.8V199.1H2291.9zM2291.9 199.1H2302.8V208.9H2291.9zM2335.8 199.1H2346.7V208.9H2335.8zM2302.8 208.9H2313.8V218.7H2302.8zM2313.8 218.7H2335.8V228.4H2313.8zM580.5 1608.5H591.5V1618.3H580.5zM602.5 1618.3H613.5V1628.0H602.5zM646.4 1628.0H668.3V1637.8H646.4zM492.8 1637.8H525.7V1647.6H492.8zM668.3 1637.8H679.3V1647.6H668.3zM723.2 1637.8H756.1V1647.6H723.2zM481.8 1647.6H514.7V1657.4H481.8zM679.3 1647.6H690.2V1657.4H679.3zM712.2 1647.6H723.2V1657.4H712.2zM756.1 1647.6H767.0V1657.4H756.1zM492.8 1657.4H525.7V1667.2H492.8zM679.3 1657.4H690.2V1667.2H679.3zM712.2 1657.4H723.2V1667.2H712.2zM767.0 1657.4H778.0V1667.2H767.0zM503.8 1667.2H536.7V1677.0H503.8zM679.3 1667.2H690.2V1677.0H679.3zM712.2 1667.2H723.2V1677.0H712.2zM767.0 1667.2H789.0V1677.0H767.0zM514.7 1677.0H547.6V1686.8H514.7zM679.3 1677.0H723.2V1686.8H679.3zM789.0 1677.0H821.9V1686.8H789.0zM536.7 1686.8H569.6V1696.6H536.7zM679.3 1686.8H723.2V1696.6H679.3zM800.0 1686.8H832.9V1696.6H800.0zM547.6 1696.6H602.5V1706.3H547.6zM668.3 1696.6H690.2V1706.3H668.3zM712.2 1696.6H734.1V1706.3H712.2zM778.0 1696.6H821.9V1706.3H778.0zM602.5 1706.3H668.3V1716.1H602.5zM723.2 1706.3H810.9V1716.1H723.2zM734.1 1716.1H800.0V1725.9H734.1zM416.0 1735.7H547.6V1745.5H416.0zM547.6 1745.5H558.6V1755.3H547.6zM591.5 1745.5H624.4V1755.3H591.5zM558.6 1755.3H569.6V1765.1H558.6zM580.5 1755.3H635.4V1765.1H580.5zM558.6 1765.1H591.5V1774.9H558.6zM624.4 1765.1H635.4V1774.9H624.4zM558.6 1774.9H580.5V1784.6H558.6zM624.4 1774.9H646.4V1784.6H624.4zM723.2 1774.9H767.0V1784.6H723.2zM635.4 1784.6H646.4V1794.4H635.4zM712.2 1784.6H723.2V1794.4H712.2zM767.0 1784.6H778.0V1794.4H767.0zM635.4 1794.4H657.3V1804.2H635.4zM701.2 1794.4H712.2V1804.2H701.2zM778.0 1794.4H789.0V1804.2H778.0zM657.3 1804.2H701.2V1814.0H657.3zM778.0 1804.2H800.0V1814.0H778.0zM789.0 1814.0H810.9V1823.8H789.0zM789.0 1823.8H843.8V1833.6H789.0zM832.9 1833.6H854.8V1843.4H832.9zM416.0 1843.4H470.9V1853.2H416.0zM843.8 1843.4H865.8V1853.2H843.8zM492.8 1853.2H503.8V1863.0H492.8zM778.0 1853.2H843.8V1863.0H778.0zM887.7 1853.2H909.7V1863.0H887.7zM525.7 1863.0H558.6V1872.7H525.7zM690.2 1863.0H734.1V1872.7H690.2zM756.1 1863.0H778.0V1872.7H756.1zM810.9 1863.0H843.8V1872.7H810.9zM920.6 1863.0H931.6V1872.7H920.6zM591.5 1872.7H613.5V1882.5H591.5zM821.9 1872.7H843.8V1882.5H821.9zM931.6 1872.7H942.6V1882.5H931.6zM1041.3 1872.7H1063.2V1882.5H1041.3zM635.4 1882.5H668.3V1892.3H635.4zM778.0 1882.5H800.0V1892.3H778.0zM942.6 1882.5H953.5V1892.3H942.6zM1030.3 1882.5H1041.3V1892.3H1030.3zM1063.2 1882.5H1074.2V1892.3H1063.2zM745.1 1892.3H756.1V1902.1H745.1zM953.5 1892.3H964.5V1902.1H953.5zM1008.4 1892.3H1030.3V1902.1H1008.4zM1074.2 1892.3H1085.2V1902.1H1074.2zM953.5 1902.1H986.4V1911.9H953.5zM1074.2 1902.1H1085.2V1911.9H1074.2zM1611.7 1902.1H1622.7V1911.9H1611.7zM723.2 1911.9H734.1V1921.7H723.2zM1074.2 1911.9H1085.2V1921.7H1074.2zM1480.1 1911.9H1513.0V1921.7H1480.1zM1567.9 1911.9H1589.8V1921.7H1567.9zM1633.7 1911.9H1644.6V1921.7H1633.7zM1085.2 1921.7H1096.1V1931.5H1085.2zM1458.2 1921.7H1480.1V1931.5H1458.2zM1502.0 1921.7H1524.0V1931.5H1502.0zM1545.9 1921.7H1567.9V1931.5H1545.9zM1644.6 1921.7H1655.6V1931.5H1644.6zM1107.1 1931.5H1172.9V1941.2H1107.1zM1238.8 1931.5H1304.6V1941.2H1238.8zM1315.5 1931.5H1348.5V1941.2H1315.5zM1381.4 1931.5H1425.2V1941.2H1381.4zM1513.0 1931.5H1545.9V1941.2H1513.0zM1666.6 1931.5H1677.6V1941.2H1666.6zM1348.5 1941.2H1370.4V1951.0H1348.5zM1677.6 1941.2H1688.5V1951.0H1677.6zM2006.7 1941.2H2028.6V1951.0H2006.7zM1688.5 1951.0H1699.5V1960.8H1688.5zM1995.7 1951.0H2039.6V1960.8H1995.7zM1710.5 1960.8H1721.4V1970.6H1710.5zM1995.7 1960.8H2028.6V1970.6H1995.7zM723.2 1970.6H734.1V1980.4H723.2zM1754.3 1970.6H1853.1V1980.4H1754.3zM2105.4 1970.6H2116.4V1980.4H2105.4zM734.1 1980.4H745.1V1990.2H734.1zM1853.1 1980.4H1907.9V1990.2H1853.1zM2083.4 1980.4H2105.4V1990.2H2083.4zM2116.4 1980.4H2138.3V1990.2H2116.4zM756.1 1990.2H767.0V2000.0H756.1zM1886.0 1990.2H1918.9V2000.0H1886.0zM2083.4 1990.2H2094.4V2000.0H2083.4zM2127.3 1990.2H2149.3V2000.0H2127.3zM767.0 2000.0H778.0V2009.8H767.0zM1907.9 2000.0H1929.9V2009.8H1907.9zM2083.4 2000.0H2105.4V2009.8H2083.4zM2116.4 2000.0H2127.3V2009.8H2116.4zM1929.9 2009.8H1940.8V2019.5H1929.9zM1940.8 2029.3H1951.8V2039.1H1940.8zM778.0 2039.1H789.0V2048.9H778.0zM1940.8 2039.1H1951.8V2048.9H1940.8zM789.0 2058.7H800.0V2068.5H789.0zM1951.8 2058.7H1962.8V2068.5H1951.8zM800.0 2068.5H810.9V2078.3H800.0zM1951.8 2068.5H1973.7V2078.3H1951.8zM1951.8 2078.3H1962.8V2088.1H1951.8zM832.9 2088.1H843.8V2097.8H832.9zM1940.8 2088.1H1951.8V2097.8H1940.8zM898.7 2097.8H909.7V2107.6H898.7zM1183.9 2097.8H1194.9V2107.6H1183.9zM1929.9 2097.8H1940.8V2107.6H1929.9zM1205.8 2107.6H1216.8V2117.4H1205.8zM1831.1 2107.6H1864.0V2117.4H1831.1zM1907.9 2107.6H1929.9V2117.4H1907.9zM931.6 2117.4H942.6V2127.2H931.6zM1162.0 2117.4H1172.9V2127.2H1162.0zM1216.8 2117.4H1227.8V2127.2H1216.8zM1831.1 2117.4H1875.0V2127.2H1831.1zM1897.0 2117.4H1929.9V2127.2H1897.0zM931.6 2127.2H942.6V2137.0H931.6zM1162.0 2127.2H1172.9V2137.0H1162.0zM1216.8 2127.2H1227.8V2137.0H1216.8zM1831.1 2127.2H1875.0V2137.0H1831.1zM1897.0 2127.2H1929.9V2137.0H1897.0z"/>
<path fill="#50ffaf" d="M2335.8 179.5H2346.7V189.3H2335.8zM2335.8 189.3H2346.7V199.1H2335.8zM2302.8 199.1H2313.8V208.9H2302.8zM2313.8 208.9H2335.8V218.7H2313.8zM558.6 1608.5H580.5V1618.3H558.6zM547.6 1618.3H558.6V1628.0H547.6zM580.5 1618.3H602.5V1628.0H580.5zM536.7 1628.0H547.6V1637.8H536.7zM602.5 1628.0H646.4V1637.8H602.5zM525.7 1637.8H536.7V1647.6H525.7zM657.3 1637.8H668.3V1647.6H657.3zM514.7 1647.6H536.7V1657.4H514.7zM668.3 1647.6H679.3V1657.4H668.3zM723.2 1647.6H734.1V1657.4H723.2zM525.7 1657.4H536.7V1667.2H525.7zM668.3 1657.4H679.3V1667.2H668.3zM723.2 1657.4H734.1V1667.2H723.2zM756.1 1657.4H767.0V1667.2H756.1zM536.7 1667.2H547.6V1677.0H536.7zM668.3 1667.2H679.3V1677.0H668.3zM723.2 1667.2H734.1V1677.0H723.2zM756.1 1667.2H767.0V1677.0H756.1zM547.6 1677.0H569.6V1686.8H547.6zM668.3 1677.0H679.3V1686.8H668.3zM723.2 1677.0H734.1V1686.8H723.2zM767.0 1677.0H789.0V1686.8H767.0zM569.6 1686.8H602.5V1696.6H569.6zM657.3 1686.8H679.3V1696.6H657.3zM723.2 1686.8H734.1V1696.6H723.2zM756.1 1686.8H800.0V1696.6H756.1zM602.5 1696.6H668.3V1706.3H602.5zM734.1 1696.6H778.0V1706.3H734.1zM525.7 1745.5H547.6V1755.3H525.7zM547.6 1755.3H558.6V1765.1H547.6zM547.6 1765.1H558.6V1774.9H547.6zM591.5 1765.1H624.4V1774.9H591.5zM547.6 1774.9H558.6V1784.6H547.6zM580.5 1774.9H624.4V1784.6H580.5zM547.6 1784.6H602.5V1794.4H547.6zM613.5 1784.6H635.4V1794.4H613.5zM723.2 1784.6H767.0V1794.4H723.2zM547.6 1794.4H591.5V1804.2H547.6zM624.4 1794.4H635.4V1804.2H624.4zM712.2 1794.4H723.2V1804.2H712.2zM767.0 1794.4H778.0V1804.2H767.0zM635.4 1804.2H657.3V1814.0H635.4zM701.2 1804.2H712.2V1814.0H701.2zM767.0 1804.2H778.0V1814.0H767.0zM668.3 1814.0H701.2V1823.8H668.3zM778.0 1814.0H789.0V1823.8H778.0zM778.0 1823.8H789.0V1833.6H778.0zM789.0 1833.6H832.9V1843.4H789.0zM470.9 1843.4H492.8V1853.2H470.9zM778.0 1843.4H843.8V1853.2H778.0zM503.8 1853.2H514.7V1863.0H503.8zM690.2 1853.2H712.2V1863.0H690.2zM767.0 1853.2H778.0V1863.0H767.0zM843.8 1853.2H887.7V1863.0H843.8zM558.6 1863.0H580.5V1872.7H558.6zM679.3 1863.0H690.2V1872.7H679.3zM734.1 1863.0H756.1V1872.7H734.1zM843.8 1863.0H854.8V1872.7H843.8zM898.7 1863.0H920.6V1872.7H898.7zM613.5 1872.7H635.4V1882.5H613.5zM668.3 1872.7H679.3V1882.5H668.3zM920.6 1872.7H931.6V1882.5H920.6zM800.0 1882.5H832.9V1892.3H800.0zM931.6 1882.5H942.6V1892.3H931.6zM1041.3 1882.5H1063.2V1892.3H1041.3zM931.6 1892.3H953.5V1902.1H931.6zM1030.3 1892.3H1041.3V1902.1H1030.3zM1052.3 1892.3H1074.2V1902.1H1052.3zM734.1 1902.1H745.1V1911.9H734.1zM942.6 1902.1H953.5V1911.9H942.6zM986.4 1902.1H1019.4V1911.9H986.4zM1063.2 1902.1H1074.2V1911.9H1063.2zM953.5 1911.9H986.4V1921.7H953.5zM1063.2 1911.9H1074.2V1921.7H1063.2zM1589.8 1911.9H1633.7V1921.7H1589.8zM723.2 1921.7H734.1V1931.5H723.2zM1074.2 1921.7H1085.2V1931.5H1074.2zM1480.1 1921.7H1502.0V1931.5H1480.1zM1567.9 1921.7H1578.8V1931.5H1567.9zM1633.7 1921.7H1644.6V1931.5H1633.7zM723.2 1931.5H734.1V1941.2H723.2zM1085.2 1931.5H1107.1V1941.2H1085.2zM1172.9 1931.5H1238.8V1941.2H1172.9zM1304.6 1931.5H1315.5V1941.2H1304.6zM1425.2 1931.5H1513.0V1941.2H1425.2zM1545.9 1931.5H1567.9V1941.2H1545.9zM1644.6 1931.5H1666.6V1941.2H1644.6zM1118.1 1941.2H1162.0V1951.0H1118.1zM1249.7 1941.2H1293.6V1951.0H1249.7zM1337.5 1941.2H1348.5V1951.0H1337.5zM1370.4 1941.2H1403.3V1951.0H1370.4zM1502.0 1941.2H1545.9V1951.0H1502.0zM1666.6 1941.2H1677.6V1951.0H1666.6zM1677.6 1951.0H1688.5V1960.8H1677.6zM1699.5 1960.8H1710.5V1970.6H1699.5zM1743.4 1970.6H1754.3V1980.4H1743.4zM745.1 1980.4H756.1V1990.2H745.1zM1820.2 1980.4H1853.1V1990.2H1820.2zM2105.4 1980.4H2116.4V1990.2H2105.4zM767.0 1990.2H789.0V2000.0H767.0zM810.9 1990.2H832.9V2000.0H810.9zM1853.1 1990.2H1886.0V2000.0H1853.1zM2094.4 1990.2H2127.3V2000.0H2094.4zM778.0 2000.0H810.9V2009.8H778.0zM1875.0 2000.0H1907.9V2009.8H1875.0zM2105.4 2000.0H2116.4V2009.8H2105.4zM778.0 2009.8H789.0V2019.5H778.0zM1897.0 2009.8H1929.9V2019.5H1897.0zM778.0 2019.5H789.0V2029.3H778.0zM1918.9 2019.5H1940.8V2029.3H1918.9zM778.0 2029.3H789.0V2039.1H778.0zM1929.9 2029.3H1940.8V2039.1H1929.9zM789.0 2048.9H800.0V2058.7H789.0zM1940.8 2048.9H1951.8V2058.7H1940.8zM800.0 2058.7H810.9V2068.5H800.0zM1940.8 2058.7H1951.8V2068.5H1940.8zM810.9 2068.5H821.9V2078.3H810.9zM1940.8 2068.5H1951.8V2078.3H1940.8zM821.9 2078.3H832.9V2088.1H821.9zM1940.8 2078.3H1951.8V2088.1H1940.8zM843.8 2088.1H865.8V2097.8H843.8zM1831.1 2088.1H1853.1V2097.8H1831.1zM1918.9 2088.1H1940.8V2097.8H1918.9zM909.7 2097.8H920.6V2107.6H909.7zM1172.9 2097.8H1183.9V2107.6H1172.9zM1194.9 2097.8H1216.8V2107.6H1194.9zM1622.7 2097.8H1633.7V2107.6H1622.7zM1820.2 2097.8H1875.0V2107.6H1820.2zM1897.0 2097.8H1929.9V2107.6H1897.0zM931.6 2107.6H942.6V2117.4H931.6zM1162.0 2107.6H1172.9V2117.4H1162.0zM1216.8 2107.6H1227.8V2117.4H1216.8zM1578.8 2107.6H1666.6V2117.4H1578.8zM1809.2 2107.6H1831.1V2117.4H1809.2zM1864.0 2107.6H1907.9V2117.4H1864.0zM1556.9 2117.4H1677.6V2127.2H1556.9zM1809.2 2117.4H1831.1V2127.2H1809.2zM1875.0 2117.4H1897.0V2127.2H1875.0zM1556.9 2127.2H1677.6V2137.0H1556.9zM1809.2 2127.2H1831.1V2137.0H1809.2zM1875.0 2127.2H1897.0V2137.0H1875.0z"/>
<path fill="#60ff9f" d="M2302.8 179.5H2313.8V189.3H2302.8zM2302.8 189.3H2313.8V199.1H2302.8zM2313.8 199.1H2335.8V208.9H2313.8zM558.6 1618.3H580.5V1628.0H558.6zM547.6 1628.0H558.6V1637.8H547.6zM591.5 1628.0H602.5V1637.8H591.5zM536.7 1637.8H547.6V1647.6H536.7zM624.4 1637.8H657.3V1647.6H624.4zM536.7 1647.6H547.6V1657.4H536.7zM646.4 1647.6H668.3V1657.4H646.4zM734.1 1647.6H756.1V1657.4H734.1zM536.7 1657.4H558.6V1667.2H536.7zM646.4 1657.4H668.3V1667.2H646.4zM734.1 1657.4H756.1V1667.2H734.1zM547.6 1667.2H580.5V1677.0H547.6zM635.4 1667.2H668.3V1677.0H635.4zM734.1 1667.2H756.1V1677.0H734.1zM569.6 1677.0H668.3V1686.8H569.6zM734.1 1677.0H767.0V1686.8H734.1zM602.5 1686.8H657.3V1696.6H602.5zM734.1 1686.8H756.1V1696.6H734.1zM416.0 1745.5H525.7V1755.3H416.0zM536.7 1755.3H547.6V1765.1H536.7zM536.7 1765.1H547.6V1774.9H536.7zM536.7 1774.9H547.6V1784.6H536.7zM525.7 1784.6H547.6V1794.4H525.7zM602.5 1784.6H613.5V1794.4H602.5zM525.7 1794.4H547.6V1804.2H525.7zM591.5 1794.4H624.4V1804.2H591.5zM723.2 1794.4H734.1V1804.2H723.2zM756.1 1794.4H767.0V1804.2H756.1zM536.7 1804.2H591.5V1814.0H536.7zM624.4 1804.2H635.4V1814.0H624.4zM712.2 1804.2H723.2V1814.0H712.2zM756.1 1804.2H767.0V1814.0H756.1zM646.4 1814.0H668.3V1823.8H646.4zM701.2 1814.0H712.2V1823.8H701.2zM767.0 1814.0H778.0V1823.8H767.0zM679.3 1823.8H701.2V1833.6H679.3zM416.0 1833.6H459.9V1843.4H416.0zM778.0 1833.6H789.0V1843.4H778.0zM492.8 1843.4H503.8V1853.2H492.8zM514.7 1853.2H536.7V1863.0H514.7zM679.3 1853.2H690.2V1863.0H679.3zM712.2 1853.2H723.2V1863.0H712.2zM756.1 1853.2H767.0V1863.0H756.1zM580.5 1863.0H613.5V1872.7H580.5zM668.3 1863.0H679.3V1872.7H668.3zM854.8 1863.0H865.8V1872.7H854.8zM887.7 1863.0H898.7V1872.7H887.7zM635.4 1872.7H668.3V1882.5H635.4zM843.8 1872.7H854.8V1882.5H843.8zM909.7 1872.7H920.6V1882.5H909.7zM832.9 1882.5H843.8V1892.3H832.9zM920.6 1882.5H931.6V1892.3H920.6zM756.1 1892.3H767.0V1902.1H756.1zM920.6 1892.3H931.6V1902.1H920.6zM1041.3 1892.3H1052.3V1902.1H1041.3zM931.6 1902.1H942.6V1911.9H931.6zM1019.4 1902.1H1063.2V1911.9H1019.4zM931.6 1911.9H953.5V1921.7H931.6zM986.4 1911.9H997.4V1921.7H986.4zM1063.2 1921.7H1074.2V1931.5H1063.2zM1578.8 1921.7H1633.7V1931.5H1578.8zM1567.9 1931.5H1589.8V1941.2H1567.9zM1622.7 1931.5H1644.6V1941.2H1622.7zM723.2 1941.2H734.1V1951.0H723.2zM1096.1 1941.2H1118.1V1951.0H1096.1zM1162.0 1941.2H1249.7V1951.0H1162.0zM1293.6 1941.2H1337.5V1951.0H1293.6zM1403.3 1941.2H1502.0V1951.0H1403.3zM1545.9 1941.2H1567.9V1951.0H1545.9zM1644.6 1941.2H1666.6V1951.0H1644.6zM723.2 1951.0H734.1V1960.8H723.2zM1129.1 1951.0H1151.0V1960.8H1129.1zM1260.7 1951.0H1282.6V1960.8H1260.7zM1348.5 1951.0H1392.3V1960.8H1348.5zM1480.1 1951.0H1545.9V1960.8H1480.1zM1666.6 1951.0H1677.6V1960.8H1666.6zM723.2 1960.8H734.1V1970.6H723.2zM1491.1 1960.8H1534.9V1970.6H1491.1zM1688.5 1960.8H1699.5V1970.6H1688.5zM734.1 1970.6H745.1V1980.4H734.1zM1721.4 1970.6H1743.4V1980.4H1721.4zM756.1 1980.4H778.0V1990.2H756.1zM1787.2 1980.4H1820.2V1990.2H1787.2zM789.0 1990.2H810.9V2000.0H789.0zM832.9 1990.2H843.8V2000.0H832.9zM1831.1 1990.2H1853.1V2000.0H1831.1zM810.9 2000.0H832.9V2009.8H810.9zM1842.1 2000.0H1875.0V2009.8H1842.1zM789.0 2009.8H810.9V2019.5H789.0zM1842.1 2009.8H1897.0V2019.5H1842.1zM789.0 2019.5H800.0V2029.3H789.0zM1831.1 2019.5H1875.0V2029.3H1831.1zM1886.0 2019.5H1918.9V2029.3H1886.0zM1820.2 2029.3H1853.1V2039.1H1820.2zM1907.9 2029.3H1929.9V2039.1H1907.9zM789.0 2039.1H800.0V2048.9H789.0zM1798.2 2039.1H1853.1V2048.9H1798.2zM1918.9 2039.1H1940.8V2048.9H1918.9zM800.0 2048.9H810.9V2058.7H800.0zM1820.2 2048.9H1853.1V2058.7H1820.2zM1918.9 2048.9H1940.8V2058.7H1918.9zM810.9 2058.7H821.9V2068.5H810.9zM1271.7 2058.7H1282.6V2068.5H1271.7zM1831.1 2058.7H1853.1V2068.5H1831.1zM1918.9 2058.7H1940.8V2068.5H1918.9zM821.9 2068.5H832.9V2078.3H821.9zM1249.7 2068.5H1315.5V2078.3H1249.7zM1831.1 2068.5H1853.1V2078.3H1831.1zM1918.9 2068.5H1940.8V2078.3H1918.9zM832.9 2078.3H843.8V2088.1H832.9zM1249.7 2078.3H1315.5V2088.1H1249.7zM1524.0 2078.3H1534.9V2088.1H1524.0zM1611.7 2078.3H1633.7V2088.1H1611.7zM1831.1 2078.3H1864.0V2088.1H1831.1zM1907.9 2078.3H1940.8V2088.1H1907.9zM865.8 2088.1H876.7V2097.8H865.8zM1304.6 2088.1H1315.5V2097.8H1304.6zM1524.0 2088.1H1545.9V2097.8H1524.0zM1600.8 2088.1H1655.6V2097.8H1600.8zM1809.2 2088.1H1831.1V2097.8H1809.2zM1853.1 2088.1H1918.9V2097.8H1853.1zM920.6 2097.8H931.6V2107.6H920.6zM1216.8 2097.8H1238.8V2107.6H1216.8zM1524.0 2097.8H1622.7V2107.6H1524.0zM1633.7 2097.8H1677.6V2107.6H1633.7zM1809.2 2097.8H1820.2V2107.6H1809.2zM1875.0 2097.8H1897.0V2107.6H1875.0zM1227.8 2107.6H1238.8V2117.4H1227.8zM1524.0 2107.6H1578.8V2117.4H1524.0zM1666.6 2107.6H1688.5V2117.4H1666.6zM1798.2 2107.6H1809.2V2117.4H1798.2zM942.6 2117.4H953.5V2127.2H942.6zM1227.8 2117.4H1238.8V2127.2H1227.8zM1524.0 2117.4H1556.9V2127.2H1524.0zM1677.6 2117.4H1688.5V2127.2H1677.6zM1787.2 2117.4H1809.2V2127.2H1787.2zM942.6 2127.2H953.5V2137.0H942.6zM1227.8 2127.2H1238.8V2137.0H1227.8zM1524.0 2127.2H1556.9V2137.0H1524.0zM1677.6 2127.2H1688.5V2137.0H1677.6zM1787.2 2127.2H1809.2V2137.0H1787.2z"/>
<path fill="#70ff8f" d="M2313.8 179.5H2335.8V189.3H2313.8zM2313.8 189.3H2335.8V199.1H2313.8zM558.6 1628.0H591.5V1637.8H558.6zM547.6 1637.8H558.6V1647.6H547.6zM591.5 1637.8H624.4V1647.6H591.5zM547.6 1647.6H558.6V1657.4H547.6zM613.5 1647.6H646.4V1657.4H613.5zM558.6 1657.4H646.4V1667.2H558.6zM580.5 1667.2H635.4V1677.0H580.5zM416.0 1755.3H536.7V1765.1H416.0zM525.7 1765.1H536.7V1774.9H525.7zM514.7 1774.9H536.7V1784.6H514.7zM514.7 1784.6H525.7V1794.4H514.7zM514.7 1794.4H525.7V1804.2H514.7zM734.1 1794.4H756.1V1804.2H734.1zM514.7 1804.2H536.7V1814.0H514.7zM591.5 1804.2H624.4V1814.0H591.5zM723.2 1804.2H734.1V1814.0H723.2zM624.4 1814.0H646.4V1823.8H624.4zM712.2 1814.0H723.2V1823.8H712.2zM756.1 1814.0H767.0V1823.8H756.1zM646.4 1823.8H679.3V1833.6H646.4zM701.2 1823.8H712.2V1833.6H701.2zM767.0 1823.8H778.0V1833.6H767.0zM459.9 1833.6H492.8V1843.4H459.9zM690.2 1833.6H701.2V1843.4H690.2zM767.0 1833.6H778.0V1843.4H767.0zM503.8 1843.4H514.7V1853.2H503.8zM690.2 1843.4H712.2V1853.2H690.2zM767.0 1843.4H778.0V1853.2H767.0zM536.7 1853.2H569.6V1863.0H536.7zM668.3 1853.2H679.3V1863.0H668.3zM723.2 1853.2H756.1V1863.0H723.2zM613.5 1863.0H668.3V1872.7H613.5zM865.8 1863.0H887.7V1872.7H865.8zM854.8 1872.7H865.8V1882.5H854.8zM898.7 1872.7H909.7V1882.5H898.7zM843.8 1882.5H854.8V1892.3H843.8zM909.7 1882.5H920.6V1892.3H909.7zM767.0 1892.3H778.0V1902.1H767.0zM909.7 1892.3H920.6V1902.1H909.7zM745.1 1902.1H756.1V1911.9H745.1zM920.6 1902.1H931.6V1911.9H920.6zM734.1 1911.9H745.1V1921.7H734.1zM920.6 1911.9H931.6V1921.7H920.6zM997.4 1911.9H1063.2V1921.7H997.4zM953.5 1921.7H975.5V1931.5H953.5zM1074.2 1931.5H1085.2V1941.2H1074.2zM1589.8 1931.5H1622.7V1941.2H1589.8zM1085.2 1941.2H1096.1V1951.0H1085.2zM1567.9 1941.2H1644.6V1951.0H1567.9zM1107.1 1951.0H1129.1V1960.8H1107.1zM1151.0 1951.0H1172.9V1960.8H1151.0zM1238.8 1951.0H1260.7V1960.8H1238.8zM1282.6 1951.0H1304.6V1960.8H1282.6zM1326.5 1951.0H1348.5V1960.8H1326.5zM1392.3 1951.0H1425.2V1960.8H1392.3zM1458.2 1951.0H1480.1V1960.8H1458.2zM1545.9 1951.0H1567.9V1960.8H1545.9zM1622.7 1951.0H1666.6V1960.8H1622.7zM1348.5 1960.8H1392.3V1970.6H1348.5zM1469.1 1960.8H1491.1V1970.6H1469.1zM1534.9 1960.8H1556.9V1970.6H1534.9zM1666.6 1960.8H1688.5V1970.6H1666.6zM745.1 1970.6H756.1V1980.4H745.1zM1469.1 1970.6H1545.9V1980.4H1469.1zM1710.5 1970.6H1721.4V1980.4H1710.5zM778.0 1980.4H843.8V1990.2H778.0zM1480.1 1980.4H1545.9V1990.2H1480.1zM1765.3 1980.4H1787.2V1990.2H1765.3zM1491.1 1990.2H1534.9V2000.0H1491.1zM1820.2 1990.2H1831.1V2000.0H1820.2zM832.9 2000.0H843.8V2009.8H832.9zM1831.1 2000.0H1842.1V2009.8H1831.1zM810.9 2009.8H832.9V2019.5H810.9zM1820.2 2009.8H1842.1V2019.5H1820.2zM800.0 2019.5H810.9V2029.3H800.0zM1809.2 2019.5H1831.1V2029.3H1809.2zM1875.0 2019.5H1886.0V2029.3H1875.0zM789.0 2029.3H800.0V2039.1H789.0zM1776.3 2029.3H1820.2V2039.1H1776.3zM1853.1 2029.3H1907.9V2039.1H1853.1zM1765.3 2039.1H1798.2V2048.9H1765.3zM1853.1 2039.1H1918.9V2048.9H1853.1zM1271.7 2048.9H1326.5V2058.7H1271.7zM1524.0 2048.9H1545.9V2058.7H1524.0zM1611.7 2048.9H1622.7V2058.7H1611.7zM1787.2 2048.9H1820.2V2058.7H1787.2zM1853.1 2048.9H1918.9V2058.7H1853.1zM1249.7 2058.7H1271.7V2068.5H1249.7zM1282.6 2058.7H1326.5V2068.5H1282.6zM1513.0 2058.7H1545.9V2068.5H1513.0zM1611.7 2058.7H1633.7V2068.5H1611.7zM1787.2 2058.7H1831.1V2068.5H1787.2zM1853.1 2058.7H1918.9V2068.5H1853.1zM1238.8 2068.5H1249.7V2078.3H1238.8zM1315.5 2068.5H1326.5V2078.3H1315.5zM1502.0 2068.5H1556.9V2078.3H1502.0zM1600.8 2068.5H1644.6V2078.3H1600.8zM1798.2 2068.5H1831.1V2078.3H1798.2zM1853.1 2068.5H1918.9V2078.3H1853.1zM843.8 2078.3H854.8V2088.1H843.8zM1227.8 2078.3H1249.7V2088.1H1227.8zM1315.5 2078.3H1326.5V2088.1H1315.5zM1491.1 2078.3H1524.0V2088.1H1491.1zM1534.9 2078.3H1556.9V2088.1H1534.9zM1600.8 2078.3H1611.7V2088.1H1600.8zM1633.7 2078.3H1688.5V2088.1H1633.7zM1798.2 2078.3H1831.1V2088.1H1798.2zM1864.0 2078.3H1907.9V2088.1H1864.0zM876.7 2088.1H887.7V2097.8H876.7zM1183.9 2088.1H1260.7V2097.8H1183.9zM1282.6 2088.1H1304.6V2097.8H1282.6zM1315.5 2088.1H1326.5V2097.8H1315.5zM1491.1 2088.1H1524.0V2097.8H1491.1zM1545.9 2088.1H1600.8V2097.8H1545.9zM1655.6 2088.1H1699.5V2097.8H1655.6zM1787.2 2088.1H1809.2V2097.8H1787.2zM931.6 2097.8H942.6V2107.6H931.6zM1238.8 2097.8H1249.7V2107.6H1238.8zM1304.6 2097.8H1326.5V2107.6H1304.6zM1491.1 2097.8H1524.0V2107.6H1491.1zM1677.6 2097.8H1710.5V2107.6H1677.6zM1787.2 2097.8H1809.2V2107.6H1787.2zM942.6 2107.6H953.5V2117.4H942.6zM1304.6 2107.6H1326.5V2117.4H1304.6zM1491.1 2107.6H1524.0V2117.4H1491.1zM1688.5 2107.6H1710.5V2117.4H1688.5zM1765.3 2107.6H1798.2V2117.4H1765.3zM1151.0 2117.4H1162.0V2127.2H1151.0zM1304.6 2117.4H1326.5V2127.2H1304.6zM1491.1 2117.4H1524.0V2127.2H1491.1zM1688.5 2117.4H1710.5V2127.2H1688.5zM1754.3 2117.4H1787.2V2127.2H1754.3zM1151.0 2127.2H1162.0V2137.0H1151.0zM1304.6 2127.2H1326.5V2137.0H1304.6zM1491.1 2127.2H1524.0V2137.0H1491.1zM1688.5 2127.2H1710.5V2137.0H1688.5zM1754.3 2127.2H1787.2V2137.0H1754.3z"/>
<path fill="#80ff80" d="M558.6 1637.8H591.5V1647.6H558.6zM558.6 1647.6H613.5V1657.4H558.6zM437.9 1765.1H525.7V1774.9H437.9zM492.8 1774.9H514.7V1784.6H492.8zM503.8 1784.6H514.7V1794.4H503.8zM503.8 1794.4H514.7V1804.2H503.8zM503.8 1804.2H514.7V1814.0H503.8zM734.1 1804.2H756.1V1814.0H734.1zM514.7 1814.0H624.4V1823.8H514.7zM723.2 1814.0H734.1V1823.8H723.2zM437.9 1823.8H492.8V1833.6H437.9zM635.4 1823.8H646.4V1833.6H635.4zM712.2 1823.8H723.2V1833.6H712.2zM756.1 1823.8H767.0V1833.6H756.1zM492.8 1833.6H503.8V1843.4H492.8zM657.3 1833.6H690.2V1843.4H657.3zM701.2 1833.6H712.2V1843.4H701.2zM657.3 1843.4H690.2V1853.2H657.3zM712.2 1843.4H723.2V1853.2H712.2zM756.1 1843.4H767.0V1853.2H756.1zM569.6 1853.2H602.5V1863.0H569.6zM624.4 1853.2H668.3V1863.0H624.4zM887.7 1872.7H898.7V1882.5H887.7zM898.7 1882.5H909.7V1892.3H898.7zM778.0 1892.3H800.0V1902.1H778.0zM756.1 1902.1H767.0V1911.9H756.1zM909.7 1902.1H920.6V1911.9H909.7zM909.7 1911.9H920.6V1921.7H909.7zM734.1 1921.7H745.1V1931.5H734.1zM920.6 1921.7H953.5V1931.5H920.6zM975.5 1921.7H997.4V1931.5H975.5zM1041.3 1921.7H1063.2V1931.5H1041.3zM734.1 1931.5H745.1V1941.2H734.1zM1063.2 1931.5H1074.2V1941.2H1063.2zM734.1 1941.2H745.1V1951.0H734.1zM1074.2 1941.2H1085.2V1951.0H1074.2zM1096.1 1951.0H1107.1V1960.8H1096.1zM1172.9 1951.0H1238.8V1960.8H1172.9zM1304.6 1951.0H1326.5V1960.8H1304.6zM1425.2 1951.0H1458.2V1960.8H1425.2zM1567.9 1951.0H1622.7V1960.8H1567.9zM734.1 1960.8H745.1V1970.6H734.1zM832.9 1960.8H876.7V1970.6H832.9zM1249.7 1960.8H1282.6V1970.6H1249.7zM1337.5 1960.8H1348.5V1970.6H1337.5zM1392.3 1960.8H1436.2V1970.6H1392.3zM1458.2 1960.8H1469.1V1970.6H1458.2zM1556.9 1960.8H1567.9V1970.6H1556.9zM1600.8 1960.8H1666.6V1970.6H1600.8zM756.1 1970.6H854.8V1980.4H756.1zM1348.5 1970.6H1469.1V1980.4H1348.5zM1545.9 1970.6H1567.9V1980.4H1545.9zM1600.8 1970.6H1710.5V1980.4H1600.8zM843.8 1980.4H854.8V1990.2H843.8zM1370.4 1980.4H1480.1V1990.2H1370.4zM1545.9 1980.4H1567.9V1990.2H1545.9zM1743.4 1980.4H1765.3V1990.2H1743.4zM843.8 1990.2H854.8V2000.0H843.8zM1381.4 1990.2H1491.1V2000.0H1381.4zM1534.9 1990.2H1567.9V2000.0H1534.9zM1809.2 1990.2H1820.2V2000.0H1809.2zM843.8 2000.0H854.8V2009.8H843.8zM1392.3 2000.0H1556.9V2009.8H1392.3zM1820.2 2000.0H1831.1V2009.8H1820.2zM832.9 2009.8H843.8V2019.5H832.9zM1480.1 2009.8H1556.9V2019.5H1480.1zM1809.2 2009.8H1820.2V2019.5H1809.2zM810.9 2019.5H821.9V2029.3H810.9zM1491.1 2019.5H1556.9V2029.3H1491.1zM1600.8 2019.5H1633.7V2029.3H1600.8zM1787.2 2019.5H1809.2V2029.3H1787.2zM800.0 2029.3H810.9V2039.1H800.0zM1337.5 2029.3H1370.4V2039.1H1337.5zM1502.0 2029.3H1556.9V2039.1H1502.0zM1600.8 2029.3H1633.7V2039.1H1600.8zM1754.3 2029.3H1776.3V2039.1H1754.3zM800.0 2039.1H810.9V2048.9H800.0zM1271.7 2039.1H1359.4V2048.9H1271.7zM1502.0 2039.1H1567.9V2048.9H1502.0zM1589.8 2039.1H1633.7V2048.9H1589.8zM1754.3 2039.1H1765.3V2048.9H1754.3zM810.9 2048.9H821.9V2058.7H810.9zM1249.7 2048.9H1271.7V2058.7H1249.7zM1326.5 2048.9H1348.5V2058.7H1326.5zM1491.1 2048.9H1524.0V2058.7H1491.1zM1545.9 2048.9H1567.9V2058.7H1545.9zM1589.8 2048.9H1611.7V2058.7H1589.8zM1622.7 2048.9H1644.6V2058.7H1622.7zM1754.3 2048.9H1787.2V2058.7H1754.3zM821.9 2058.7H832.9V2068.5H821.9zM1227.8 2058.7H1249.7V2068.5H1227.8zM1326.5 2058.7H1337.5V2068.5H1326.5zM1491.1 2058.7H1513.0V2068.5H1491.1zM1545.9 2058.7H1567.9V2068.5H1545.9zM1589.8 2058.7H1611.7V2068.5H1589.8zM1633.7 2058.7H1655.6V2068.5H1633.7zM1776.3 2058.7H1787.2V2068.5H1776.3zM832.9 2068.5H843.8V2078.3H832.9zM1216.8 2068.5H1238.8V2078.3H1216.8zM1326.5 2068.5H1337.5V2078.3H1326.5zM1480.1 2068.5H1502.0V2078.3H1480.1zM1556.9 2068.5H1567.9V2078.3H1556.9zM1589.8 2068.5H1600.8V2078.3H1589.8zM1644.6 2068.5H1710.5V2078.3H1644.6zM1776.3 2068.5H1798.2V2078.3H1776.3zM1205.8 2078.3H1227.8V2088.1H1205.8zM1326.5 2078.3H1337.5V2088.1H1326.5zM1480.1 2078.3H1491.1V2088.1H1480.1zM1556.9 2078.3H1600.8V2088.1H1556.9zM1688.5 2078.3H1721.4V2088.1H1688.5zM1776.3 2078.3H1798.2V2088.1H1776.3zM887.7 2088.1H909.7V2097.8H887.7zM1172.9 2088.1H1183.9V2097.8H1172.9zM1260.7 2088.1H1282.6V2097.8H1260.7zM1326.5 2088.1H1337.5V2097.8H1326.5zM1469.1 2088.1H1491.1V2097.8H1469.1zM1699.5 2088.1H1732.4V2097.8H1699.5zM1776.3 2088.1H1787.2V2097.8H1776.3zM942.6 2097.8H953.5V2107.6H942.6zM1162.0 2097.8H1172.9V2107.6H1162.0zM1293.6 2097.8H1304.6V2107.6H1293.6zM1326.5 2097.8H1337.5V2107.6H1326.5zM1458.2 2097.8H1491.1V2107.6H1458.2zM1710.5 2097.8H1743.4V2107.6H1710.5zM1754.3 2097.8H1787.2V2107.6H1754.3zM953.5 2107.6H964.5V2117.4H953.5zM1151.0 2107.6H1162.0V2117.4H1151.0zM1238.8 2107.6H1249.7V2117.4H1238.8zM1293.6 2107.6H1304.6V2117.4H1293.6zM1326.5 2107.6H1337.5V2117.4H1326.5zM1436.2 2107.6H1491.1V2117.4H1436.2zM1710.5 2107.6H1765.3V2117.4H1710.5zM953.5 2117.4H964.5V2127.2H953.5zM1238.8 2117.4H1249.7V2127.2H1238.8zM1326.5 2117.4H1337.5V2127.2H1326.5zM1436.2 2117.4H1491.1V2127.2H1436.2zM1710.5 2117.4H1754.3V2127.2H1710.5zM953.5 2127.2H964.5V2137.0H953.5zM1238.8 2127.2H1249.7V2137.0H1238.8zM1326.5 2127.2H1337.5V2137.0H1326.5zM1436.2 2127.2H1491.1V2137.0H1436.2zM1710.5 2127.2H1754.3V2137.0H1710.5z"/>
<path fill="#8fff70" d="M416.0 1765.1H437.9V1774.9H416.0zM470.9 1774.9H492.8V1784.6H470.9zM492.8 1784.6H503.8V1794.4H492.8zM492.8 1794.4H503.8V1804.2H492.8zM492.8 1804.2H503.8V1814.0H492.8zM481.8 1814.0H514.7V1823.8H481.8zM734.1 1814.0H756.1V1823.8H734.1zM416.0 1823.8H437.9V1833.6H416.0zM492.8 1823.8H591.5V1833.6H492.8zM613.5 1823.8H635.4V1833.6H613.5zM723.2 1823.8H734.1V1833.6H723.2zM503.8 1833.6H514.7V1843.4H503.8zM635.4 1833.6H657.3V1843.4H635.4zM712.2 1833.6H723.2V1843.4H712.2zM756.1 1833.6H767.0V1843.4H756.1zM514.7 1843.4H536.7V1853.2H514.7zM635.4 1843.4H657.3V1853.2H635.4zM723.2 1843.4H734.1V1853.2H723.2zM602.5 1853.2H624.4V1863.0H602.5zM865.8 1872.7H887.7V1882.5H865.8zM854.8 1882.5H865.8V1892.3H854.8zM887.7 1882.5H898.7V1892.3H887.7zM800.0 1892.3H832.9V1902.1H800.0zM898.7 1892.3H909.7V1902.1H898.7zM898.7 1902.1H909.7V1911.9H898.7zM745.1 1911.9H756.1V1921.7H745.1zM909.7 1921.7H920.6V1931.5H909.7zM997.4 1921.7H1041.3V1931.5H997.4zM1052.3 1931.5H1063.2V1941.2H1052.3zM1063.2 1941.2H1074.2V1951.0H1063.2zM734.1 1951.0H745.1V1960.8H734.1zM854.8 1951.0H887.7V1960.8H854.8zM1085.2 1951.0H1096.1V1960.8H1085.2zM745.1 1960.8H756.1V1970.6H745.1zM800.0 1960.8H832.9V1970.6H800.0zM876.7 1960.8H887.7V1970.6H876.7zM1118.1 1960.8H1172.9V1970.6H1118.1zM1205.8 1960.8H1249.7V1970.6H1205.8zM1282.6 1960.8H1304.6V1970.6H1282.6zM1326.5 1960.8H1337.5V1970.6H1326.5zM1436.2 1960.8H1458.2V1970.6H1436.2zM1567.9 1960.8H1600.8V1970.6H1567.9zM854.8 1970.6H876.7V1980.4H854.8zM1337.5 1970.6H1348.5V1980.4H1337.5zM1567.9 1970.6H1600.8V1980.4H1567.9zM854.8 1980.4H865.8V1990.2H854.8zM1359.4 1980.4H1370.4V1990.2H1359.4zM1567.9 1980.4H1688.5V1990.2H1567.9zM1732.4 1980.4H1743.4V1990.2H1732.4zM854.8 1990.2H865.8V2000.0H854.8zM1370.4 1990.2H1381.4V2000.0H1370.4zM1567.9 1990.2H1677.6V2000.0H1567.9zM1787.2 1990.2H1809.2V2000.0H1787.2zM1370.4 2000.0H1392.3V2009.8H1370.4zM1556.9 2000.0H1666.6V2009.8H1556.9zM1798.2 2000.0H1820.2V2009.8H1798.2zM1359.4 2009.8H1480.1V2019.5H1359.4zM1556.9 2009.8H1655.6V2019.5H1556.9zM1787.2 2009.8H1809.2V2019.5H1787.2zM821.9 2019.5H832.9V2029.3H821.9zM1348.5 2019.5H1381.4V2029.3H1348.5zM1469.1 2019.5H1491.1V2029.3H1469.1zM1556.9 2019.5H1600.8V2029.3H1556.9zM1633.7 2019.5H1644.6V2029.3H1633.7zM1754.3 2019.5H1787.2V2029.3H1754.3zM810.9 2029.3H821.9V2039.1H810.9zM1293.6 2029.3H1337.5V2039.1H1293.6zM1370.4 2029.3H1381.4V2039.1H1370.4zM1480.1 2029.3H1502.0V2039.1H1480.1zM1556.9 2029.3H1600.8V2039.1H1556.9zM1633.7 2029.3H1644.6V2039.1H1633.7zM1743.4 2029.3H1754.3V2039.1H1743.4zM810.9 2039.1H821.9V2048.9H810.9zM1238.8 2039.1H1271.7V2048.9H1238.8zM1359.4 2039.1H1370.4V2048.9H1359.4zM1480.1 2039.1H1502.0V2048.9H1480.1zM1567.9 2039.1H1589.8V2048.9H1567.9zM1633.7 2039.1H1644.6V2048.9H1633.7zM1743.4 2039.1H1754.3V2048.9H1743.4zM821.9 2048.9H832.9V2058.7H821.9zM1227.8 2048.9H1249.7V2058.7H1227.8zM1348.5 2048.9H1359.4V2058.7H1348.5zM1480.1 2048.9H1491.1V2058.7H1480.1zM1567.9 2048.9H1589.8V2058.7H1567.9zM1644.6 2048.9H1655.6V2058.7H1644.6zM1743.4 2048.9H1754.3V2058.7H1743.4zM832.9 2058.7H843.8V2068.5H832.9zM1216.8 2058.7H1227.8V2068.5H1216.8zM1337.5 2058.7H1348.5V2068.5H1337.5zM1469.1 2058.7H1491.1V2068.5H1469.1zM1567.9 2058.7H1589.8V2068.5H1567.9zM1655.6 2058.7H1688.5V2068.5H1655.6zM1743.4 2058.7H1776.3V2068.5H1743.4zM843.8 2068.5H854.8V2078.3H843.8zM1205.8 2068.5H1216.8V2078.3H1205.8zM1337.5 2068.5H1348.5V2078.3H1337.5zM1469.1 2068.5H1480.1V2078.3H1469.1zM1567.9 2068.5H1589.8V2078.3H1567.9zM1710.5 2068.5H1743.4V2078.3H1710.5zM1765.3 2068.5H1776.3V2078.3H1765.3zM854.8 2078.3H865.8V2088.1H854.8zM1194.9 2078.3H1205.8V2088.1H1194.9zM1458.2 2078.3H1480.1V2088.1H1458.2zM1721.4 2078.3H1743.4V2088.1H1721.4zM1765.3 2078.3H1776.3V2088.1H1765.3zM909.7 2088.1H931.6V2097.8H909.7zM1447.2 2088.1H1469.1V2097.8H1447.2zM1732.4 2088.1H1776.3V2097.8H1732.4zM953.5 2097.8H964.5V2107.6H953.5zM1249.7 2097.8H1260.7V2107.6H1249.7zM1282.6 2097.8H1293.6V2107.6H1282.6zM1436.2 2097.8H1458.2V2107.6H1436.2zM1743.4 2097.8H1754.3V2107.6H1743.4zM1425.2 2107.6H1436.2V2117.4H1425.2zM1293.6 2117.4H1304.6V2127.2H1293.6zM1414.3 2117.4H1436.2V2127.2H1414.3zM1293.6 2127.2H1304.6V2137.0H1293.6zM1414.3 2127.2H1436.2V2137.0H1414.3z"/>
<path fill="#9fff60" d="M416.0 1774.9H470.9V1784.6H416.0zM470.9 1784.6H492.8V1794.4H470.9zM448.9 1814.0H481.8V1823.8H448.9zM591.5 1823.8H613.5V1833.6H591.5zM734.1 1823.8H756.1V1833.6H734.1zM514.7 1833.6H547.6V1843.4H514.7zM624.4 1833.6H635.4V1843.4H624.4zM723.2 1833.6H734.1V1843.4H723.2zM745.1 1833.6H756.1V1843.4H745.1zM536.7 1843.4H580.5V1853.2H536.7zM613.5 1843.4H635.4V1853.2H613.5zM734.1 1843.4H756.1V1853.2H734.1zM865.8 1882.5H887.7V1892.3H865.8zM832.9 1892.3H854.8V1902.1H832.9zM887.7 1892.3H898.7V1902.1H887.7zM767.0 1902.1H778.0V1911.9H767.0zM898.7 1911.9H909.7V1921.7H898.7zM745.1 1921.7H756.1V1931.5H745.1zM745.1 1931.5H756.1V1941.2H745.1zM1030.3 1931.5H1052.3V1941.2H1030.3zM745.1 1941.2H756.1V1951.0H745.1zM745.1 1951.0H756.1V1960.8H745.1zM821.9 1951.0H854.8V1960.8H821.9zM1074.2 1951.0H1085.2V1960.8H1074.2zM756.1 1960.8H800.0V1970.6H756.1zM1096.1 1960.8H1118.1V1970.6H1096.1zM1172.9 1960.8H1205.8V1970.6H1172.9zM1304.6 1960.8H1326.5V1970.6H1304.6zM876.7 1970.6H887.7V1980.4H876.7zM1205.8 1970.6H1260.7V1980.4H1205.8zM865.8 1980.4H876.7V1990.2H865.8zM1216.8 1980.4H1238.8V1990.2H1216.8zM1348.5 1980.4H1359.4V1990.2H1348.5zM1688.5 1980.4H1732.4V1990.2H1688.5zM1359.4 1990.2H1370.4V2000.0H1359.4zM1677.6 1990.2H1688.5V2000.0H1677.6zM1776.3 1990.2H1787.2V2000.0H1776.3zM854.8 2000.0H865.8V2009.8H854.8zM1359.4 2000.0H1370.4V2009.8H1359.4zM1666.6 2000.0H1677.6V2009.8H1666.6zM1787.2 2000.0H1798.2V2009.8H1787.2zM843.8 2009.8H854.8V2019.5H843.8zM1348.5 2009.8H1359.4V2019.5H1348.5zM1655.6 2009.8H1666.6V2019.5H1655.6zM1765.3 2009.8H1787.2V2019.5H1765.3zM832.9 2019.5H843.8V2029.3H832.9zM1326.5 2019.5H1348.5V2029.3H1326.5zM1381.4 2019.5H1469.1V2029.3H1381.4zM1644.6 2019.5H1666.6V2029.3H1644.6zM1743.4 2019.5H1754.3V2029.3H1743.4zM821.9 2029.3H832.9V2039.1H821.9zM1227.8 2029.3H1293.6V2039.1H1227.8zM1381.4 2029.3H1392.3V2039.1H1381.4zM1458.2 2029.3H1480.1V2039.1H1458.2zM1644.6 2029.3H1655.6V2039.1H1644.6zM1732.4 2029.3H1743.4V2039.1H1732.4zM821.9 2039.1H832.9V2048.9H821.9zM1216.8 2039.1H1238.8V2048.9H1216.8zM1370.4 2039.1H1381.4V2048.9H1370.4zM1469.1 2039.1H1480.1V2048.9H1469.1zM1644.6 2039.1H1655.6V2048.9H1644.6zM1732.4 2039.1H1743.4V2048.9H1732.4zM832.9 2048.9H843.8V2058.7H832.9zM1205.8 2048.9H1227.8V2058.7H1205.8zM1359.4 2048.9H1370.4V2058.7H1359.4zM1458.2 2048.9H1480.1V2058.7H1458.2zM1655.6 2048.9H1677.6V2058.7H1655.6zM1721.4 2048.9H1743.4V2058.7H1721.4zM1205.8 2058.7H1216.8V2068.5H1205.8zM1348.5 2058.7H1359.4V2068.5H1348.5zM1458.2 2058.7H1469.1V2068.5H1458.2zM1688.5 2058.7H1743.4V2068.5H1688.5zM1194.9 2068.5H1205.8V2078.3H1194.9zM1447.2 2068.5H1469.1V2078.3H1447.2zM1743.4 2068.5H1765.3V2078.3H1743.4zM865.8 2078.3H876.7V2088.1H865.8zM1183.9 2078.3H1194.9V2088.1H1183.9zM1337.5 2078.3H1348.5V2088.1H1337.5zM1447.2 2078.3H1458.2V2088.1H1447.2zM1743.4 2078.3H1765.3V2088.1H1743.4zM931.6 2088.1H964.5V2097.8H931.6zM1162.0 2088.1H1172.9V2097.8H1162.0zM1337.5 2088.1H1348.5V2097.8H1337.5zM1436.2 2088.1H1447.2V2097.8H1436.2zM964.5 2097.8H975.5V2107.6H964.5zM1151.0 2097.8H1162.0V2107.6H1151.0zM1260.7 2097.8H1282.6V2107.6H1260.7zM1337.5 2097.8H1348.5V2107.6H1337.5zM1425.2 2097.8H1436.2V2107.6H1425.2zM964.5 2107.6H975.5V2117.4H964.5zM1249.7 2107.6H1260.7V2117.4H1249.7zM1282.6 2107.6H1293.6V2117.4H1282.6zM1337.5 2107.6H1348.5V2117.4H1337.5zM1414.3 2107.6H1425.2V2117.4H1414.3zM964.5 2117.4H975.5V2127.2H964.5zM1140.0 2117.4H1151.0V2127.2H1140.0zM1249.7 2117.4H1260.7V2127.2H1249.7zM1337.5 2117.4H1348.5V2127.2H1337.5zM1403.3 2117.4H1414.3V2127.2H1403.3zM964.5 2127.2H975.5V2137.0H964.5zM1140.0 2127.2H1151.0V2137.0H1140.0zM1249.7 2127.2H1260.7V2137.0H1249.7zM1337.5 2127.2H1348.5V2137.0H1337.5zM1403.3 2127.2H1414.3V2137.0H1403.3z"/>
<path fill="#afff50" d="M448.9 1784.6H470.9V1794.4H448.9zM481.8 1794.4H492.8V1804.2H481.8zM470.9 1804.2H492.8V1814.0H470.9zM416.0 1814.0H448.9V1823.8H416.0zM547.6 1833.6H624.4V1843.4H547.6zM734.1 1833.6H745.1V1843.4H734.1zM580.5 1843.4H613.5V1853.2H580.5zM854.8 1892.3H865.8V1902.1H854.8zM876.7 1892.3H887.7V1902.1H876.7zM887.7 1902.1H898.7V1911.9H887.7zM756.1 1911.9H767.0V1921.7H756.1zM898.7 1921.7H909.7V1931.5H898.7zM898.7 1931.5H1030.3V1941.2H898.7zM756.1 1941.2H767.0V1951.0H756.1zM854.8 1941.2H898.7V1951.0H854.8zM1041.3 1941.2H1063.2V1951.0H1041.3zM756.1 1951.0H821.9V1960.8H756.1zM887.7 1951.0H898.7V1960.8H887.7zM1063.2 1951.0H1074.2V1960.8H1063.2zM887.7 1960.8H898.7V1970.6H887.7zM1085.2 1960.8H1096.1V1970.6H1085.2zM1183.9 1970.6H1205.8V1980.4H1183.9zM1260.7 1970.6H1293.6V1980.4H1260.7zM1326.5 1970.6H1337.5V1980.4H1326.5zM876.7 1980.4H887.7V1990.2H876.7zM1205.8 1980.4H1216.8V1990.2H1205.8zM1238.8 1980.4H1249.7V1990.2H1238.8zM1337.5 1980.4H1348.5V1990.2H1337.5zM865.8 1990.2H876.7V2000.0H865.8zM1216.8 1990.2H1238.8V2000.0H1216.8zM1348.5 1990.2H1359.4V2000.0H1348.5zM1754.3 1990.2H1776.3V2000.0H1754.3zM865.8 2000.0H876.7V2009.8H865.8zM1216.8 2000.0H1238.8V2009.8H1216.8zM1348.5 2000.0H1359.4V2009.8H1348.5zM1677.6 2000.0H1688.5V2009.8H1677.6zM1776.3 2000.0H1787.2V2009.8H1776.3zM854.8 2009.8H865.8V2019.5H854.8zM1216.8 2009.8H1238.8V2019.5H1216.8zM1337.5 2009.8H1348.5V2019.5H1337.5zM1666.6 2009.8H1677.6V2019.5H1666.6zM1743.4 2009.8H1765.3V2019.5H1743.4zM843.8 2019.5H854.8V2029.3H843.8zM1216.8 2019.5H1249.7V2029.3H1216.8zM1304.6 2019.5H1326.5V2029.3H1304.6zM1666.6 2019.5H1677.6V2029.3H1666.6zM1732.4 2019.5H1743.4V2029.3H1732.4zM832.9 2029.3H843.8V2039.1H832.9zM1205.8 2029.3H1227.8V2039.1H1205.8zM1392.3 2029.3H1458.2V2039.1H1392.3zM1655.6 2029.3H1666.6V2039.1H1655.6zM1721.4 2029.3H1732.4V2039.1H1721.4zM1194.9 2039.1H1216.8V2048.9H1194.9zM1381.4 2039.1H1392.3V2048.9H1381.4zM1447.2 2039.1H1469.1V2048.9H1447.2zM1655.6 2039.1H1677.6V2048.9H1655.6zM1721.4 2039.1H1732.4V2048.9H1721.4zM1183.9 2048.9H1205.8V2058.7H1183.9zM1370.4 2048.9H1392.3V2058.7H1370.4zM1436.2 2048.9H1458.2V2058.7H1436.2zM1677.6 2048.9H1721.4V2058.7H1677.6zM843.8 2058.7H854.8V2068.5H843.8zM1183.9 2058.7H1205.8V2068.5H1183.9zM1359.4 2058.7H1381.4V2068.5H1359.4zM1436.2 2058.7H1458.2V2068.5H1436.2zM854.8 2068.5H865.8V2078.3H854.8zM1183.9 2068.5H1194.9V2078.3H1183.9zM1348.5 2068.5H1359.4V2078.3H1348.5zM1436.2 2068.5H1447.2V2078.3H1436.2zM876.7 2078.3H887.7V2088.1H876.7zM942.6 2078.3H975.5V2088.1H942.6zM1172.9 2078.3H1183.9V2088.1H1172.9zM1348.5 2078.3H1359.4V2088.1H1348.5zM1436.2 2078.3H1447.2V2088.1H1436.2zM964.5 2088.1H975.5V2097.8H964.5zM1348.5 2088.1H1359.4V2097.8H1348.5zM1425.2 2088.1H1436.2V2097.8H1425.2zM1348.5 2097.8H1359.4V2107.6H1348.5zM1414.3 2097.8H1425.2V2107.6H1414.3zM1074.2 2107.6H1118.1V2117.4H1074.2zM1140.0 2107.6H1151.0V2117.4H1140.0zM1260.7 2107.6H1282.6V2117.4H1260.7zM1348.5 2107.6H1359.4V2117.4H1348.5zM1370.4 2107.6H1414.3V2117.4H1370.4zM1063.2 2117.4H1129.1V2127.2H1063.2zM1282.6 2117.4H1293.6V2127.2H1282.6zM1348.5 2117.4H1359.4V2127.2H1348.5zM1370.4 2117.4H1403.3V2127.2H1370.4zM1063.2 2127.2H1129.1V2137.0H1063.2zM1282.6 2127.2H1293.6V2137.0H1282.6zM1348.5 2127.2H1359.4V2137.0H1348.5zM1370.4 2127.2H1403.3V2137.0H1370.4z"/>
<path fill="#bfff40" d="M416.0 1784.6H448.9V1794.4H416.0zM459.9 1794.4H481.8V1804.2H459.9zM448.9 1804.2H470.9V1814.0H448.9zM865.8 1892.3H876.7V1902.1H865.8zM778.0 1902.1H789.0V1911.9H778.0zM876.7 1902.1H887.7V1911.9H876.7zM887.7 1911.9H898.7V1921.7H887.7zM756.1 1921.7H767.0V1931.5H756.1zM887.7 1921.7H898.7V1931.5H887.7zM756.1 1931.5H767.0V1941.2H756.1zM865.8 1931.5H898.7V1941.2H865.8zM767.0 1941.2H778.0V1951.0H767.0zM832.9 1941.2H854.8V1951.0H832.9zM898.7 1941.2H920.6V1951.0H898.7zM1030.3 1941.2H1041.3V1951.0H1030.3zM898.7 1951.0H909.7V1960.8H898.7zM1052.3 1951.0H1063.2V1960.8H1052.3zM1074.2 1960.8H1085.2V1970.6H1074.2zM887.7 1970.6H898.7V1980.4H887.7zM1129.1 1970.6H1183.9V1980.4H1129.1zM1293.6 1970.6H1326.5V1980.4H1293.6zM1194.9 1980.4H1205.8V1990.2H1194.9zM1249.7 1980.4H1260.7V1990.2H1249.7zM1326.5 1980.4H1337.5V1990.2H1326.5zM876.7 1990.2H887.7V2000.0H876.7zM1205.8 1990.2H1216.8V2000.0H1205.8zM1337.5 1990.2H1348.5V2000.0H1337.5zM1688.5 1990.2H1699.5V2000.0H1688.5zM1732.4 1990.2H1754.3V2000.0H1732.4zM1205.8 2000.0H1216.8V2009.8H1205.8zM1337.5 2000.0H1348.5V2009.8H1337.5zM1688.5 2000.0H1699.5V2009.8H1688.5zM1754.3 2000.0H1776.3V2009.8H1754.3zM1205.8 2009.8H1216.8V2019.5H1205.8zM1238.8 2009.8H1249.7V2019.5H1238.8zM1326.5 2009.8H1337.5V2019.5H1326.5zM1677.6 2009.8H1688.5V2019.5H1677.6zM1732.4 2009.8H1743.4V2019.5H1732.4zM854.8 2019.5H865.8V2029.3H854.8zM1194.9 2019.5H1216.8V2029.3H1194.9zM1249.7 2019.5H1304.6V2029.3H1249.7zM1677.6 2019.5H1688.5V2029.3H1677.6zM1721.4 2019.5H1732.4V2029.3H1721.4zM1183.9 2029.3H1205.8V2039.1H1183.9zM1666.6 2029.3H1688.5V2039.1H1666.6zM832.9 2039.1H843.8V2048.9H832.9zM1172.9 2039.1H1194.9V2048.9H1172.9zM1392.3 2039.1H1447.2V2048.9H1392.3zM1677.6 2039.1H1721.4V2048.9H1677.6zM843.8 2048.9H854.8V2058.7H843.8zM1172.9 2048.9H1183.9V2058.7H1172.9zM1392.3 2048.9H1403.3V2058.7H1392.3zM1414.3 2048.9H1436.2V2058.7H1414.3zM854.8 2058.7H865.8V2068.5H854.8zM1172.9 2058.7H1183.9V2068.5H1172.9zM1381.4 2058.7H1392.3V2068.5H1381.4zM1425.2 2058.7H1436.2V2068.5H1425.2zM953.5 2068.5H964.5V2078.3H953.5zM1172.9 2068.5H1183.9V2078.3H1172.9zM1359.4 2068.5H1381.4V2078.3H1359.4zM1425.2 2068.5H1436.2V2078.3H1425.2zM887.7 2078.3H909.7V2088.1H887.7zM920.6 2078.3H942.6V2088.1H920.6zM1162.0 2078.3H1172.9V2088.1H1162.0zM1359.4 2078.3H1370.4V2088.1H1359.4zM1425.2 2078.3H1436.2V2088.1H1425.2zM1085.2 2088.1H1107.1V2097.8H1085.2zM1151.0 2088.1H1162.0V2097.8H1151.0zM1359.4 2088.1H1381.4V2097.8H1359.4zM1414.3 2088.1H1425.2V2097.8H1414.3zM975.5 2097.8H986.4V2107.6H975.5zM1074.2 2097.8H1118.1V2107.6H1074.2zM1140.0 2097.8H1151.0V2107.6H1140.0zM1359.4 2097.8H1414.3V2107.6H1359.4zM975.5 2107.6H986.4V2117.4H975.5zM1052.3 2107.6H1074.2V2117.4H1052.3zM1118.1 2107.6H1140.0V2117.4H1118.1zM1359.4 2107.6H1370.4V2117.4H1359.4zM975.5 2117.4H986.4V2127.2H975.5zM1041.3 2117.4H1063.2V2127.2H1041.3zM1129.1 2117.4H1140.0V2127.2H1129.1zM1260.7 2117.4H1282.6V2127.2H1260.7zM1359.4 2117.4H1370.4V2127.2H1359.4zM975.5 2127.2H986.4V2137.0H975.5zM1041.3 2127.2H1063.2V2137.0H1041.3zM1129.1 2127.2H1140.0V2137.0H1129.1zM1260.7 2127.2H1282.6V2137.0H1260.7zM1359.4 2127.2H1370.4V2137.0H1359.4z"/>
<path fill="#cfff30" d="M437.9 1794.4H459.9V1804.2H437.9zM416.0 1804.2H448.9V1814.0H416.0zM789.0 1902.1H876.7V1911.9H789.0zM767.0 1911.9H778.0V1921.7H767.0zM876.7 1911.9H887.7V1921.7H876.7zM876.7 1921.7H887.7V1931.5H876.7zM767.0 1931.5H778.0V1941.2H767.0zM854.8 1931.5H865.8V1941.2H854.8zM778.0 1941.2H832.9V1951.0H778.0zM920.6 1941.2H942.6V1951.0H920.6zM1008.4 1941.2H1030.3V1951.0H1008.4zM1041.3 1951.0H1052.3V1960.8H1041.3zM898.7 1960.8H909.7V1970.6H898.7zM1063.2 1960.8H1074.2V1970.6H1063.2zM1085.2 1970.6H1129.1V1980.4H1085.2zM1183.9 1980.4H1194.9V1990.2H1183.9zM1194.9 1990.2H1205.8V2000.0H1194.9zM1238.8 1990.2H1249.7V2000.0H1238.8zM1699.5 1990.2H1732.4V2000.0H1699.5zM876.7 2000.0H887.7V2009.8H876.7zM1238.8 2000.0H1249.7V2009.8H1238.8zM1732.4 2000.0H1754.3V2009.8H1732.4zM865.8 2009.8H876.7V2019.5H865.8zM1194.9 2009.8H1205.8V2019.5H1194.9zM1249.7 2009.8H1260.7V2019.5H1249.7zM1315.5 2009.8H1326.5V2019.5H1315.5zM1688.5 2009.8H1699.5V2019.5H1688.5zM1721.4 2009.8H1732.4V2019.5H1721.4zM1183.9 2019.5H1194.9V2029.3H1183.9zM1688.5 2019.5H1721.4V2029.3H1688.5zM843.8 2029.3H854.8V2039.1H843.8zM1172.9 2029.3H1183.9V2039.1H1172.9zM1688.5 2029.3H1721.4V2039.1H1688.5zM843.8 2039.1H854.8V2048.9H843.8zM854.8 2048.9H865.8V2058.7H854.8zM1403.3 2048.9H1414.3V2058.7H1403.3zM865.8 2058.7H876.7V2068.5H865.8zM1392.3 2058.7H1425.2V2068.5H1392.3zM865.8 2068.5H876.7V2078.3H865.8zM942.6 2068.5H953.5V2078.3H942.6zM964.5 2068.5H975.5V2078.3H964.5zM1162.0 2068.5H1172.9V2078.3H1162.0zM1381.4 2068.5H1392.3V2078.3H1381.4zM1414.3 2068.5H1425.2V2078.3H1414.3zM909.7 2078.3H920.6V2088.1H909.7zM975.5 2078.3H986.4V2088.1H975.5zM1085.2 2078.3H1107.1V2088.1H1085.2zM1151.0 2078.3H1162.0V2088.1H1151.0zM1370.4 2078.3H1392.3V2088.1H1370.4zM1414.3 2078.3H1425.2V2088.1H1414.3zM975.5 2088.1H986.4V2097.8H975.5zM1074.2 2088.1H1085.2V2097.8H1074.2zM1107.1 2088.1H1118.1V2097.8H1107.1zM1140.0 2088.1H1151.0V2097.8H1140.0zM1381.4 2088.1H1414.3V2097.8H1381.4zM1052.3 2097.8H1074.2V2107.6H1052.3zM1118.1 2097.8H1140.0V2107.6H1118.1zM1041.3 2107.6H1052.3V2117.4H1041.3zM986.4 2117.4H997.4V2127.2H986.4zM1030.3 2117.4H1041.3V2127.2H1030.3zM986.4 2127.2H997.4V2137.0H986.4zM1030.3 2127.2H1041.3V2137.0H1030.3z"/>
<path fill="#dfff20" d="M416.0 1794.4H437.9V1804.2H416.0zM865.8 1911.9H876.7V1921.7H865.8zM767.0 1921.7H778.0V1931.5H767.0zM865.8 1921.7H876.7V1931.5H865.8zM843.8 1931.5H854.8V1941.2H843.8zM942.6 1941.2H1008.4V1951.0H942.6zM909.7 1951.0H920.6V1960.8H909.7zM1030.3 1951.0H1041.3V1960.8H1030.3zM1052.3 1960.8H1063.2V1970.6H1052.3zM1074.2 1970.6H1085.2V1980.4H1074.2zM887.7 1980.4H898.7V1990.2H887.7zM1172.9 1980.4H1183.9V1990.2H1172.9zM1260.7 1980.4H1326.5V1990.2H1260.7zM1183.9 1990.2H1194.9V2000.0H1183.9zM1326.5 1990.2H1337.5V2000.0H1326.5zM1194.9 2000.0H1205.8V2009.8H1194.9zM1326.5 2000.0H1337.5V2009.8H1326.5zM1699.5 2000.0H1732.4V2009.8H1699.5zM876.7 2009.8H887.7V2019.5H876.7zM1183.9 2009.8H1194.9V2019.5H1183.9zM1260.7 2009.8H1271.7V2019.5H1260.7zM1293.6 2009.8H1315.5V2019.5H1293.6zM1699.5 2009.8H1721.4V2019.5H1699.5zM865.8 2019.5H876.7V2029.3H865.8zM1172.9 2019.5H1183.9V2029.3H1172.9zM854.8 2029.3H865.8V2039.1H854.8zM1162.0 2029.3H1172.9V2039.1H1162.0zM854.8 2039.1H865.8V2048.9H854.8zM1162.0 2039.1H1172.9V2048.9H1162.0zM865.8 2048.9H876.7V2058.7H865.8zM1162.0 2048.9H1172.9V2058.7H1162.0zM876.7 2058.7H887.7V2068.5H876.7zM1162.0 2058.7H1172.9V2068.5H1162.0zM876.7 2068.5H909.7V2078.3H876.7zM931.6 2068.5H942.6V2078.3H931.6zM975.5 2068.5H986.4V2078.3H975.5zM1085.2 2068.5H1107.1V2078.3H1085.2zM1151.0 2068.5H1162.0V2078.3H1151.0zM1392.3 2068.5H1414.3V2078.3H1392.3zM1063.2 2078.3H1085.2V2088.1H1063.2zM1107.1 2078.3H1129.1V2088.1H1107.1zM1392.3 2078.3H1414.3V2088.1H1392.3zM1052.3 2088.1H1074.2V2097.8H1052.3zM1118.1 2088.1H1140.0V2097.8H1118.1zM986.4 2097.8H997.4V2107.6H986.4zM1041.3 2097.8H1052.3V2107.6H1041.3zM986.4 2107.6H997.4V2117.4H986.4zM1030.3 2107.6H1041.3V2117.4H1030.3zM1019.4 2117.4H1030.3V2127.2H1019.4zM1019.4 2127.2H1030.3V2137.0H1019.4z"/>
<path fill="#efff10" d="M854.8 1911.9H865.8V1921.7H854.8zM854.8 1921.7H865.8V1931.5H854.8zM778.0 1931.5H789.0V1941.2H778.0zM800.0 1931.5H843.8V1941.2H800.0zM920.6 1951.0H931.6V1960.8H920.6zM1019.4 1951.0H1030.3V1960.8H1019.4zM1041.3 1960.8H1052.3V1970.6H1041.3zM898.7 1970.6H909.7V1980.4H898.7zM1052.3 1970.6H1074.2V1980.4H1052.3zM1085.2 1980.4H1107.1V1990.2H1085.2zM1151.0 1980.4H1172.9V1990.2H1151.0zM887.7 1990.2H898.7V2000.0H887.7zM1249.7 1990.2H1260.7V2000.0H1249.7zM1315.5 1990.2H1326.5V2000.0H1315.5zM1183.9 2000.0H1194.9V2009.8H1183.9zM1249.7 2000.0H1260.7V2009.8H1249.7zM1315.5 2000.0H1326.5V2009.8H1315.5zM1172.9 2009.8H1183.9V2019.5H1172.9zM1271.7 2009.8H1293.6V2019.5H1271.7zM876.7 2019.5H887.7V2029.3H876.7zM865.8 2029.3H876.7V2039.1H865.8zM865.8 2039.1H876.7V2048.9H865.8zM1151.0 2039.1H1162.0V2048.9H1151.0zM876.7 2048.9H898.7V2058.7H876.7zM1151.0 2048.9H1162.0V2058.7H1151.0zM887.7 2058.7H975.5V2068.5H887.7zM1085.2 2058.7H1118.1V2068.5H1085.2zM1151.0 2058.7H1162.0V2068.5H1151.0zM909.7 2068.5H931.6V2078.3H909.7zM1063.2 2068.5H1085.2V2078.3H1063.2zM1107.1 2068.5H1129.1V2078.3H1107.1zM986.4 2078.3H997.4V2088.1H986.4zM1052.3 2078.3H1063.2V2088.1H1052.3zM1129.1 2078.3H1151.0V2088.1H1129.1zM986.4 2088.1H997.4V2097.8H986.4zM1041.3 2088.1H1052.3V2097.8H1041.3zM1030.3 2097.8H1041.3V2107.6H1030.3zM997.4 2107.6H1008.4V2117.4H997.4zM1019.4 2107.6H1030.3V2117.4H1019.4zM997.4 2117.4H1019.4V2127.2H997.4zM997.4 2127.2H1019.4V2137.0H997.4z"/>
<path fill="#ffff00" d="M778.0 1911.9H789.0V1921.7H778.0zM832.9 1911.9H854.8V1921.7H832.9zM843.8 1921.7H854.8V1931.5H843.8zM789.0 1931.5H800.0V1941.2H789.0zM931.6 1951.0H942.6V1960.8H931.6zM997.4 1951.0H1019.4V1960.8H997.4zM909.7 1960.8H920.6V1970.6H909.7zM1030.3 1960.8H1041.3V1970.6H1030.3zM1041.3 1970.6H1052.3V1980.4H1041.3zM898.7 1980.4H909.7V1990.2H898.7zM1074.2 1980.4H1085.2V1990.2H1074.2zM1107.1 1980.4H1151.0V1990.2H1107.1zM1172.9 1990.2H1183.9V2000.0H1172.9zM1260.7 1990.2H1271.7V2000.0H1260.7zM1304.6 1990.2H1315.5V2000.0H1304.6zM887.7 2000.0H898.7V2009.8H887.7zM1172.9 2000.0H1183.9V2009.8H1172.9zM1304.6 2000.0H1315.5V2009.8H1304.6zM887.7 2009.8H898.7V2019.5H887.7zM887.7 2019.5H898.7V2029.3H887.7zM1162.0 2019.5H1172.9V2029.3H1162.0zM876.7 2029.3H898.7V2039.1H876.7zM1151.0 2029.3H1162.0V2039.1H1151.0zM876.7 2039.1H909.7V2048.9H876.7zM1140.0 2039.1H1151.0V2048.9H1140.0zM898.7 2048.9H931.6V2058.7H898.7zM1074.2 2048.9H1129.1V2058.7H1074.2zM1140.0 2048.9H1151.0V2058.7H1140.0zM975.5 2058.7H986.4V2068.5H975.5zM1063.2 2058.7H1085.2V2068.5H1063.2zM1118.1 2058.7H1151.0V2068.5H1118.1zM986.4 2068.5H997.4V2078.3H986.4zM1052.3 2068.5H1063.2V2078.3H1052.3zM1129.1 2068.5H1151.0V2078.3H1129.1zM1041.3 2078.3H1052.3V2088.1H1041.3zM1019.4 2088.1H1041.3V2097.8H1019.4zM997.4 2097.8H1008.4V2107.6H997.4zM1019.4 2097.8H1030.3V2107.6H1019.4zM1008.4 2107.6H1019.4V2117.4H1008.4z"/>
<path fill="#ffef00" d="M789.0 1911.9H832.9V1921.7H789.0zM778.0 1921.7H789.0V1931.5H778.0zM821.9 1921.7H843.8V1931.5H821.9zM942.6 1951.0H953.5V1960.8H942.6zM975.5 1951.0H997.4V1960.8H975.5zM920.6 1960.8H931.6V1970.6H920.6zM1019.4 1960.8H1030.3V1970.6H1019.4zM909.7 1970.6H920.6V1980.4H909.7zM1030.3 1970.6H1041.3V1980.4H1030.3zM1052.3 1980.4H1074.2V1990.2H1052.3zM898.7 1990.2H909.7V2000.0H898.7zM1162.0 1990.2H1172.9V2000.0H1162.0zM1271.7 1990.2H1304.6V2000.0H1271.7zM1260.7 2000.0H1304.6V2009.8H1260.7zM898.7 2009.8H909.7V2019.5H898.7zM1162.0 2009.8H1172.9V2019.5H1162.0zM898.7 2019.5H909.7V2029.3H898.7zM1151.0 2019.5H1162.0V2029.3H1151.0zM898.7 2029.3H909.7V2039.1H898.7zM1140.0 2029.3H1151.0V2039.1H1140.0zM909.7 2039.1H931.6V2048.9H909.7zM1074.2 2039.1H1140.0V2048.9H1074.2zM931.6 2048.9H986.4V2058.7H931.6zM1052.3 2048.9H1074.2V2058.7H1052.3zM1129.1 2048.9H1140.0V2058.7H1129.1zM986.4 2058.7H997.4V2068.5H986.4zM1030.3 2058.7H1063.2V2068.5H1030.3zM1030.3 2068.5H1052.3V2078.3H1030.3zM997.4 2078.3H1008.4V2088.1H997.4zM1019.4 2078.3H1041.3V2088.1H1019.4zM997.4 2088.1H1019.4V2097.8H997.4zM1008.4 2097.8H1019.4V2107.6H1008.4z"/>
<path fill="#ffdf00" d="M789.0 1921.7H821.9V1931.5H789.0zM953.5 1951.0H975.5V1960.8H953.5zM931.6 1960.8H942.6V1970.6H931.6zM997.4 1960.8H1019.4V1970.6H997.4zM920.6 1970.6H931.6V1980.4H920.6zM1019.4 1970.6H1030.3V1980.4H1019.4zM909.7 1980.4H920.6V1990.2H909.7zM1041.3 1980.4H1052.3V1990.2H1041.3zM1074.2 1990.2H1107.1V2000.0H1074.2zM898.7 2000.0H909.7V2009.8H898.7zM1162.0 2000.0H1172.9V2009.8H1162.0zM1085.2 2009.8H1107.1V2019.5H1085.2zM1151.0 2009.8H1162.0V2019.5H1151.0zM909.7 2019.5H920.6V2029.3H909.7zM1074.2 2019.5H1118.1V2029.3H1074.2zM909.7 2029.3H931.6V2039.1H909.7zM1008.4 2029.3H1030.3V2039.1H1008.4zM1063.2 2029.3H1140.0V2039.1H1063.2zM931.6 2039.1H942.6V2048.9H931.6zM986.4 2039.1H1074.2V2048.9H986.4zM986.4 2048.9H1052.3V2058.7H986.4zM997.4 2058.7H1030.3V2068.5H997.4zM997.4 2068.5H1030.3V2078.3H997.4zM1008.4 2078.3H1019.4V2088.1H1008.4z"/>
<path fill="#ffcf00" d="M942.6 1960.8H953.5V1970.6H942.6zM986.4 1960.8H997.4V1970.6H986.4zM931.6 1970.6H942.6V1980.4H931.6zM1008.4 1970.6H1019.4V1980.4H1008.4zM1030.3 1980.4H1041.3V1990.2H1030.3zM1052.3 1990.2H1074.2V2000.0H1052.3zM1107.1 1990.2H1118.1V2000.0H1107.1zM1151.0 1990.2H1162.0V2000.0H1151.0zM1063.2 2000.0H1107.1V2009.8H1063.2zM909.7 2009.8H920.6V2019.5H909.7zM1052.3 2009.8H1085.2V2019.5H1052.3zM1107.1 2009.8H1118.1V2019.5H1107.1zM920.6 2019.5H931.6V2029.3H920.6zM1030.3 2019.5H1074.2V2029.3H1030.3zM1118.1 2019.5H1151.0V2029.3H1118.1zM931.6 2029.3H942.6V2039.1H931.6zM997.4 2029.3H1008.4V2039.1H997.4zM1030.3 2029.3H1063.2V2039.1H1030.3zM942.6 2039.1H953.5V2048.9H942.6zM975.5 2039.1H986.4V2048.9H975.5z"/>
<path fill="#ffbf00" d="M953.5 1960.8H986.4V1970.6H953.5zM942.6 1970.6H953.5V1980.4H942.6zM997.4 1970.6H1008.4V1980.4H997.4zM920.6 1980.4H931.6V1990.2H920.6zM1019.4 1980.4H1030.3V1990.2H1019.4zM909.7 1990.2H920.6V2000.0H909.7zM1041.3 1990.2H1052.3V2000.0H1041.3zM1118.1 1990.2H1151.0V2000.0H1118.1zM909.7 2000.0H920.6V2009.8H909.7zM1041.3 2000.0H1063.2V2009.8H1041.3zM1107.1 2000.0H1118.1V2009.8H1107.1zM1151.0 2000.0H1162.0V2009.8H1151.0zM920.6 2009.8H931.6V2019.5H920.6zM1030.3 2009.8H1052.3V2019.5H1030.3zM1118.1 2009.8H1151.0V2019.5H1118.1zM931.6 2019.5H942.6V2029.3H931.6zM997.4 2019.5H1030.3V2029.3H997.4zM942.6 2029.3H953.5V2039.1H942.6zM975.5 2029.3H997.4V2039.1H975.5zM953.5 2039.1H975.5V2048.9H953.5z"/>
<path fill="#ffaf00" d="M953.5 1970.6H997.4V1980.4H953.5zM931.6 1980.4H953.5V1990.2H931.6zM1008.4 1980.4H1019.4V1990.2H1008.4zM920.6 1990.2H931.6V2000.0H920.6zM1030.3 1990.2H1041.3V2000.0H1030.3zM920.6 2000.0H931.6V2009.8H920.6zM1030.3 2000.0H1041.3V2009.8H1030.3zM1118.1 2000.0H1129.1V2009.8H1118.1zM1140.0 2000.0H1151.0V2009.8H1140.0zM931.6 2009.8H942.6V2019.5H931.6zM1008.4 2009.8H1030.3V2019.5H1008.4zM942.6 2019.5H953.5V2029.3H942.6zM975.5 2019.5H997.4V2029.3H975.5zM953.5 2029.3H975.5V2039.1H953.5z"/>
<path fill="#ff9f00" d="M953.5 1980.4H964.5V1990.2H953.5zM975.5 1980.4H1008.4V1990.2H975.5zM931.6 1990.2H942.6V2000.0H931.6zM1019.4 1990.2H1030.3V2000.0H1019.4zM931.6 2000.0H942.6V2009.8H931.6zM1019.4 2000.0H1030.3V2009.8H1019.4zM1129.1 2000.0H1140.0V2009.8H1129.1zM942.6 2009.8H953.5V2019.5H942.6zM986.4 2009.8H1008.4V2019.5H986.4zM953.5 2019.5H975.5V2029.3H953.5z"/>
<path fill="#ff8f00" d="M964.5 1980.4H975.5V1990.2H964.5zM942.6 1990.2H964.5V2000.0H942.6zM986.4 1990.2H1019.4V2000.0H986.4zM942.6 2000.0H964.5V2009.8H942.6zM997.4 2000.0H1019.4V2009.8H997.4zM953.5 2009.8H986.4V2019.5H953.5z"/>
<path fill="#ff8000" d="M964.5 1990.2H986.4V2000.0H964.5zM964.5 2000.0H997.4V2009.8H964.5z"/>
</g>
<line x1="635.5" y1="180.0" x2="635.5" y2="2137.0" stroke="#000" stroke-width="1" stroke-dasharray="1 4"/>
<line x1="855.5" y1="180.0" x2="855.5" y2="2137.0" stroke="#000" stroke-width="1" stroke-dasharray="1 4"/>
<line x1="1074.5" y1="180.0" x2="1074.5" y2="2137.0" stroke="#000" stroke-width="1" stroke-dasharray="1 4"/>
<line x1="1294.5" y1="180.0" x2="1294.5" y2="2137.0" stroke="#000" stroke-width="1" stroke-dasharray="1 4"/>
<line x1="1513.5" y1="180.0" x2="1513.5" y2="2137.0" stroke="#000" stroke-width="1" stroke-dasharray="1 4"/>
<line x1="1732.5" y1="180.0" x2="1732.5" y2="2137.0" stroke="#000" stroke-width="1" stroke-dasharray="1 4"/>
<line x1="1952.5" y1="180.0" x2="1952.5" y2="2137.0" stroke="#000" stroke-width="1" stroke-dasharray="1 4"/>
<line x1="2171.5" y1="180.0" x2="2171.5" y2="2137.0" stroke="#000" stroke-width="1" stroke-dasharray="1 4"/>
<line x1="2391.5" y1="180.0" x2="2391.5" y2="2137.0" stroke="#000" stroke-width="1" stroke-dasharray="1 4"/>
<line x1="418.0" y1="1941.5" x2="2610.0" y2="1941.5" stroke="#000" stroke-width="1" stroke-dasharray="1 4"/>
<line x1="418.0" y1="1746.5" x2="2610.0" y2="1746.5" stroke="#000" stroke-width="1" stroke-dasharray="1 4"/>
<line x1="418.0" y1="1550.5" x2="2610.0" y2="1550.5" stroke="#000" stroke-width="1" stroke-dasharray="1 4"/>
<line x1="418.0" y1="1354.5" x2="2610.0" y2="1354.5" stroke="#000" stroke-width="1" stroke-dasharray="1 4"/>
<line x1="418.0" y1="1158.5" x2="2610.0" y2="1158.5" stroke="#000" stroke-width="1" stroke-dasharray="1 4"/>
<line x1="418.0" y1="962.5" x2="2610.0" y2="962.5" stroke="#000" stroke-width="1" stroke-dasharray="1 4"/>
<line x1="418.0" y1="767.5" x2="2610.0" y2="767.5" stroke="#000" stroke-width="1" stroke-dasharray="1 4"/>
<line x1="418.0" y1="571.5" x2="2610.0" y2="571.5" stroke="#000" stroke-width="1" stroke-dasharray="1 4"/>
<line x1="418.0" y1="375.5" x2="2610.0" y2="375.5" stroke="#000" stroke-width="1" stroke-dasharray="1 4"/>
<line x1="416.0" y1="2137.0" x2="416.0" y2="2115.0" stroke="#000" stroke-width="2"/>
<line x1="416.0" y1="179.5" x2="416.0" y2="201.5" stroke="#000" stroke-width="2"/>
<line x1="635.4" y1="2137.0" x2="635.4" y2="2115.0" stroke="#000" stroke-width="2"/>
<line x1="635.4" y1="179.5" x2="635.4" y2="201.5" stroke="#000" stroke-width="2"/>
<line x1="854.8" y1="2137.0" x2="854.8" y2="2115.0" stroke="#000" stroke-width="2"/>
<line x1="854.8" y1="179.5" x2="854.8" y2="201.5" stroke="#000" stroke-width="2"/>
<line x1="1074.2" y1="2137.0" x2="1074.2" y2="2115.0" stroke="#000" stroke-width="2"/>
<line x1="1074.2" y1="179.5" x2="1074.2" y2="201.5" stroke="#000" stroke-width="2"/>
<line x1="1293.6" y1="2137.0" x2="1293.6" y2="2115.0" stroke="#000" stroke-width="2"/>
<line x1="1293.6" y1="179.5" x2="1293.6" y2="201.5" stroke="#000" stroke-width="2"/>
<line x1="1513.0" y1="2137.0" x2="1513.0" y2="2115.0" stroke="#000" stroke-width="2"/>
<line x1="1513.0" y1="179.5" x2="1513.0" y2="201.5" stroke="#000" stroke-width="2"/>
<line x1="1732.4" y1="2137.0" x2="1732.4" y2="2115.0" stroke="#000" stroke-width="2"/>
<line x1="1732.4" y1="179.5" x2="1732.4" y2="201.5" stroke="#000" stroke-width="2"/>
<line x1="1951.8" y1="2137.0" x2="1951.8" y2="2115.0" stroke="#000" stroke-width="2"/>
<line x1="1951.8" y1="179.5" x2="1951.8" y2="201.5" stroke="#000" stroke-width="2"/>
<line x1="2171.2" y1="2137.0" x2="2171.2" y2="2115.0" stroke="#000" stroke-width="2"/>
<line x1="2171.2" y1="179.5" x2="2171.2" y2="201.5" stroke="#000" stroke-width="2"/>
<line x1="2390.6" y1="2137.0" x2="2390.6" y2="2115.0" stroke="#000" stroke-width="2"/>
<line x1="2390.6" y1="179.5" x2="2390.6" y2="201.5" stroke="#000" stroke-width="2"/>
<line x1="2610.0" y1="2137.0" x2="2610.0" y2="2115.0" stroke="#000" stroke-width="2"/>
<line x1="2610.0" y1="179.5" x2="2610.0" y2="201.5" stroke="#000" stroke-width="2"/>
<line x1="416.0" y1="2137.0" x2="438.0" y2="2137.0" stroke="#000" stroke-width="2"/>
<line x1="2610.0" y1="2137.0" x2="2588.0" y2="2137.0" stroke="#000" stroke-width="2"/>
<line x1="416.0" y1="1941.2" x2="438.0" y2="1941.2" stroke="#000" stroke-width="2"/>
<line x1="2610.0" y1="1941.2" x2="2588.0" y2="1941.2" stroke="#000" stroke-width="2"/>
<line x1="416.0" y1="1745.5" x2="438.0" y2="1745.5" stroke="#000" stroke-width="2"/>
<line x1="2610.0" y1="1745.5" x2="2588.0" y2="1745.5" stroke="#000" stroke-width="2"/>
<line x1="416.0" y1="1549.8" x2="438.0" y2="1549.8" stroke="#000" stroke-width="2"/>
<line x1="2610.0" y1="1549.8" x2="2588.0" y2="1549.8" stroke="#000" stroke-width="2"/>
<line x1="416.0" y1="1354.0" x2="438.0" y2="1354.0" stroke="#000" stroke-width="2"/>
<line x1="2610.0" y1="1354.0" x2="2588.0" y2="1354.0" stroke="#000" stroke-width="2"/>
<line x1="416.0" y1="1158.2" x2="438.0" y2="1158.2" stroke="#000" stroke-width="2"/>
<line x1="2610.0" y1="1158.2" x2="2588.0" y2="1158.2" stroke="#000" stroke-width="2"/>
<line x1="416.0" y1="962.5" x2="438.0" y2="962.5" stroke="#000" stroke-width="2"/>
<line x1="2610.0" y1="962.5" x2="2588.0" y2="962.5" stroke="#000" stroke-width="2"/>
<line x1="416.0" y1="766.8" x2="438.0" y2="766.8" stroke="#000" stroke-width="2"/>
<line x1="2610.0" y1="766.8" x2="2588.0" y2="766.8" stroke="#000" stroke-width="2"/>
<line x1="416.0" y1="571.0" x2="438.0" y2="571.0" stroke="#000" stroke-width="2"/>
<line x1="2610.0" y1="571.0" x2="2588.0" y2="571.0" stroke="#000" stroke-width="2"/>
<line x1="416.0" y1="375.2" x2="438.0" y2="375.2" stroke="#000" stroke-width="2"/>
<line x1="2610.0" y1="375.2" x2="2588.0" y2="375.2" stroke="#000" stroke-width="2"/>
<line x1="416.0" y1="179.5" x2="438.0" y2="179.5" stroke="#000" stroke-width="2"/>
<line x1="2610.0" y1="179.5" x2="2588.0" y2="179.5" stroke="#000" stroke-width="2"/>
<rect x="416.0" y="179.5" width="2194.0" height="1957.5" fill="none" stroke="#000" stroke-width="2.4"/>
<text x="416.0" y="2205.0" text-anchor="middle" font-family="Liberation Sans" font-size="56" fill="#000">5</text>
<text x="635.4" y="2205.0" text-anchor="middle" font-family="Liberation Sans" font-size="56" fill="#000">5.5</text>
<text x="854.8" y="2205.0" text-anchor="middle" font-family="Liberation Sans" font-size="56" fill="#000">6</text>
<text x="1074.2" y="2205.0" text-anchor="middle" font-family="Liberation Sans" font-size="56" fill="#000">6.5</text>
<text x="1293.6" y="2205.0" text-anchor="middle" font-family="Liberation Sans" font-size="56" fill="#000">7</text>
<text x="1513.0" y="2205.0" text-anchor="middle" font-family="Liberation Sans" font-size="56" fill="#000">7.5</text>
<text x="1732.4" y="2205.0" text-anchor="middle" font-family="Liberation Sans" font-size="56" fill="#000">8</text>
<text x="1951.8" y="2205.0" text-anchor="middle" font-family="Liberation Sans" font-size="56" fill="#000">8.5</text>
<text x="2171.2" y="2205.0" text-anchor="middle" font-family="Liberation Sans" font-size="56" fill="#000">9</text>
<text x="2390.6" y="2205.0" text-anchor="middle" font-family="Liberation Sans" font-size="56" fill="#000">9.5</text>
<text x="2610.0" y="2205.0" text-anchor="middle" font-family="Liberation Sans" font-size="56" fill="#000">10</text>
<text x="400.0" y="2157.0" text-anchor="end" font-family="Liberation Sans" font-size="56" fill="#000">35</text>
<text x="400.0" y="1961.2" text-anchor="end" font-family="Liberation Sans" font-size="56" fill="#000">35.5</text>
<text x="400.0" y="1765.5" text-anchor="end" font-family="Liberation Sans" font-size="56" fill="#000">36</text>
<text x="400.0" y="1569.8" text-anchor="end" font-family="Liberation Sans" font-size="56" fill="#000">36.5</text>
<text x="400.0" y="1374.0" text-anchor="end" font-family="Liberation Sans" font-size="56" fill="#000">37</text>
<text x="400.0" y="1178.2" text-anchor="end" font-family="Liberation Sans" font-size="56" fill="#000">37.5</text>
<text x="400.0" y="982.5" text-anchor="end" font-family="Liberation Sans" font-size="56" fill="#000">38</text>
<text x="400.0" y="786.8" text-anchor="end" font-family="Liberation Sans" font-size="56" fill="#000">38.5</text>
<text x="400.0" y="591.0" text-anchor="end" font-family="Liberation Sans" font-size="56" fill="#000">39</text>
<text x="400.0" y="395.2" text-anchor="end" font-family="Liberation Sans" font-size="56" fill="#000">39.5</text>
<text x="400.0" y="199.5" text-anchor="end" font-family="Liberation Sans" font-size="56" fill="#000">40</text>
<text x="1513.0" y="136.0" text-anchor="middle" font-family="Liberation Sans" font-size="56" fill="#000">N35E005 SRTM elevations [m]</text>
<text x="1512.0" y="2274.0" text-anchor="middle" font-family="Liberation Sans" font-size="56" fill="#000">Longitude [deg]</text>
<text transform="translate(253.0 1159.5) rotate(-90)" text-anchor="middle" font-family="Liberation Sans" font-size="56" fill="#000">Latitude [deg]</text>
<rect x="2694.5" y="2108" width="110.5" height="30" fill="#00008f" shape-rendering="crispEdges"/>
<rect x="2694.5" y="2077" width="110.5" height="31" fill="#00009f" shape-rendering="crispEdges"/>
<rect x="2694.5" y="2047" width="110.5" height="30" fill="#0000af" shape-rendering="crispEdges"/>
<rect x="2694.5" y="2016" width="110.5" height="31" fill="#0000bf" shape-rendering="crispEdges"/>
<rect x="2694.5" y="1986" width="110.5" height="30" fill="#0000cf" shape-rendering="crispEdges"/>
<rect x="2694.5" y="1955" width="110.5" height="31" fill="#0000df" shape-rendering="crispEdges"/>
<rect x="2694.5" y="1924" width="110.5" height="31" fill="#0000ef" shape-rendering="crispEdges"/>
<rect x="2694.5" y="1894" width="110.5" height="30" fill="#0000ff" shape-rendering="crispEdges"/>
<rect x="2694.5" y="1863" width="110.5" height="31" fill="#0010ff" shape-rendering="crispEdges"/>
<rect x="2694.5" y="1833" width="110.5" height="30" fill="#0020ff" shape-rendering="crispEdges"/>
<rect x="2694.5" y="1802" width="110.5" height="31" fill="#0030ff" shape-rendering="crispEdges"/>
<rect x="2694.5" y="1771" width="110.5" height="31" fill="#0040ff" shape-rendering="crispEdges"/>
<rect x="2694.5" y="1741" width="110.5" height="30" fill="#0050ff" shape-rendering="crispEdges"/>
<rect x="2694.5" y="1710" width="110.5" height="31" fill="#0060ff" shape-rendering="crispEdges"/>
<rect x="2694.5" y="1680" width="110.5" height="30" fill="#0070ff" shape-rendering="crispEdges"/>
<rect x="2694.5" y="1649" width="110.5" height="31" fill="#0080ff" shape-rendering="crispEdges"/>
<rect x="2694.5" y="1619" width="110.5" height="30" fill="#008fff" shape-rendering="crispEdges"/>
<rect x="2694.5" y="1588" width="110.5" height="31" fill="#009fff" shape-rendering="crispEdges"/>
<rect x="2694.5" y="1557" width="110.5" height="31" fill="#00afff" shape-rendering="crispEdges"/>
<rect x="2694.5" y="1527" width="110.5" height="30" fill="#00bfff" shape-rendering="crispEdges"/>
<rect x="2694.5" y="1496" width="110.5" height="31" fill="#00cfff" shape-rendering="crispEdges"/>
<rect x="2694.5" y="1466" width="110.5" height="30" fill="#00dfff" shape-rendering="crispEdges"/>
<rect x="2694.5" y="1435" width="110.5" height="31" fill="#00efff" shape-rendering="crispEdges"/>
<rect x="2694.5" y="1404" width="110.5" height="31" fill="#00ffff" shape-rendering="crispEdges"/>
<rect x="2694.5" y="1374" width="110.5" height="30" fill="#10ffef" shape-rendering="crispEdges"/>
<rect x="2694.5" y="1343" width="110.5" height="31" fill="#20ffdf" shape-rendering="crispEdges"/>
<rect x="2694.5" y="1313" width="110.5" height="30" fill="#30ffcf" shape-rendering="crispEdges"/>
<rect x="2694.5" y="1282" width="110.5" height="31" fill="#40ffbf" shape-rendering="crispEdges"/>
<rect x="2694.5" y="1252" width="110.5" height="30" fill="#50ffaf" shape-rendering="crispEdges"/>
<rect x="2694.5" y="1221" width="110.5" height="31" fill="#60ff9f" shape-rendering="crispEdges"/>
<rect x="2694.5" y="1190" width="110.5" height="31" fill="#70ff8f" shape-rendering="crispEdges"/>
<rect x="2694.5" y="1160" width="110.5" height="30" fill="#80ff80" shape-rendering="crispEdges"/>
<rect x="2694.5" y="1129" width="110.5" height="31" fill="#8fff70" shape-rendering="crispEdges"/>
<rect x="2694.5" y="1099" width="110.5" height="30" fill="#9fff60" shape-rendering="crispEdges"/>
<rect x="2694.5" y="1068" width="110.5" height="31" fill="#afff50" shape-rendering="crispEdges"/>
<rect x="2694.5" y="1037" width="110.5" height="31" fill="#bfff40" shape-rendering="crispEdges"/>
<rect x="2694.5" y="1007" width="110.5" height="30" fill="#cfff30" shape-rendering="crispEdges"/>
<rect x="2694.5" y="976" width="110.5" height="31" fill="#dfff20" shape-rendering="crispEdges"/>
<rect x="2694.5" y="946" width="110.5" height="30" fill="#efff10" shape-rendering="crispEdges"/>
<rect x="2694.5" y="915" width="110.5" height="31" fill="#ffff00" shape-rendering="crispEdges"/>
<rect x="2694.5" y="884" width="110.5" height="31" fill="#ffef00" shape-rendering="crispEdges"/>
<rect x="2694.5" y="854" width="110.5" height="30" fill="#ffdf00" shape-rendering="crispEdges"/>
<rect x="2694.5" y="823" width="110.5" height="31" fill="#ffcf00" shape-rendering="crispEdges"/>
<rect x="2694.5" y="793" width="110.5" height="30" fill="#ffbf00" shape-rendering="crispEdges"/>
<rect x="2694.5" y="762" width="110.5" height="31" fill="#ffaf00" shape-rendering="crispEdges"/>
<rect x="2694.5" y="732" width="110.5" height="30" fill="#ff9f00" shape-rendering="crispEdges"/>
<rect x="2694.5" y="701" width="110.5" height="31" fill="#ff8f00" shape-rendering="crispEdges"/>
<rect x="2694.5" y="670" width="110.5" height="31" fill="#ff8000" shape-rendering="crispEdges"/>
<rect x="2694.5" y="640" width="110.5" height="30" fill="#ff7000" shape-rendering="crispEdges"/>
<rect x="2694.5" y="609" width="110.5" height="31" fill="#ff6000" shape-rendering="crispEdges"/>
<rect x="2694.5" y="579" width="110.5" height="30" fill="#ff5000" shape-rendering="crispEdges"/>
<rect x="2694.5" y="548" width="110.5" height="31" fill="#ff4000" shape-rendering="crispEdges"/>
<rect x="2694.5" y="517" width="110.5" height="31" fill="#ff3000" shape-rendering="crispEdges"/>
<rect x="2694.5" y="487" width="110.5" height="30" fill="#ff2000" shape-rendering="crispEdges"/>
<rect x="2694.5" y="456" width="110.5" height="31" fill="#ff1000" shape-rendering="crispEdges"/>
<rect x="2694.5" y="426" width="110.5" height="30" fill="#ff0000" shape-rendering="crispEdges"/>
<rect x="2694.5" y="395" width="110.5" height="31" fill="#ef0000" shape-rendering="crispEdges"/>
<rect x="2694.5" y="365" width="110.5" height="30" fill="#df0000" shape-rendering="crispEdges"/>
<rect x="2694.5" y="334" width="110.5" height="31" fill="#cf0000" shape-rendering="crispEdges"/>
<rect x="2694.5" y="303" width="110.5" height="31" fill="#bf0000" shape-rendering="crispEdges"/>
<rect x="2694.5" y="273" width="110.5" height="30" fill="#af0000" shape-rendering="crispEdges"/>
<rect x="2694.5" y="242" width="110.5" height="31" fill="#9f0000" shape-rendering="crispEdges"/>
<rect x="2694.5" y="212" width="110.5" height="30" fill="#8f0000" shape-rendering="crispEdges"/>
<rect x="2694.5" y="181" width="110.5" height="31" fill="#800000" shape-rendering="crispEdges"/>
<rect x="2694.5" y="181.0" width="110.5" height="1957.5" fill="none" stroke="#000" stroke-width="2.4"/>
<line x1="2694.5" y1="2113.0" x2="2713.5" y2="2113.0" stroke="#000" stroke-width="2"/>
<line x1="2805.0" y1="2113.0" x2="2786.0" y2="2113.0" stroke="#000" stroke-width="2"/>
<text x="2820.0" y="2133.0" font-family="Liberation Sans" font-size="56" fill="#000">0</text>
<line x1="2694.5" y1="1691.7" x2="2713.5" y2="1691.7" stroke="#000" stroke-width="2"/>
<line x1="2805.0" y1="1691.7" x2="2786.0" y2="1691.7" stroke="#000" stroke-width="2"/>
<text x="2820.0" y="1711.7" font-family="Liberation Sans" font-size="56" fill="#000">500</text>
<line x1="2694.5" y1="1270.4" x2="2713.5" y2="1270.4" stroke="#000" stroke-width="2"/>
<line x1="2805.0" y1="1270.4" x2="2786.0" y2="1270.4" stroke="#000" stroke-width="2"/>
<text x="2820.0" y="1290.4" font-family="Liberation Sans" font-size="56" fill="#000">1000</text>
<line x1="2694.5" y1="849.1" x2="2713.5" y2="849.1" stroke="#000" stroke-width="2"/>
<line x1="2805.0" y1="849.1" x2="2786.0" y2="849.1" stroke="#000" stroke-width="2"/>
<text x="2820.0" y="869.1" font-family="Liberation Sans" font-size="56" fill="#000">1500</text>
<line x1="2694.5" y1="427.8" x2="2713.5" y2="427.8" stroke="#000" stroke-width="2"/>
<line x1="2805.0" y1="427.8" x2="2786.0" y2="427.8" stroke="#000" stroke-width="2"/>
<text x="2820.0" y="447.8" font-family="Liberation Sans" font-size="56" fill="#000">2000</text>
</svg></body></html>
